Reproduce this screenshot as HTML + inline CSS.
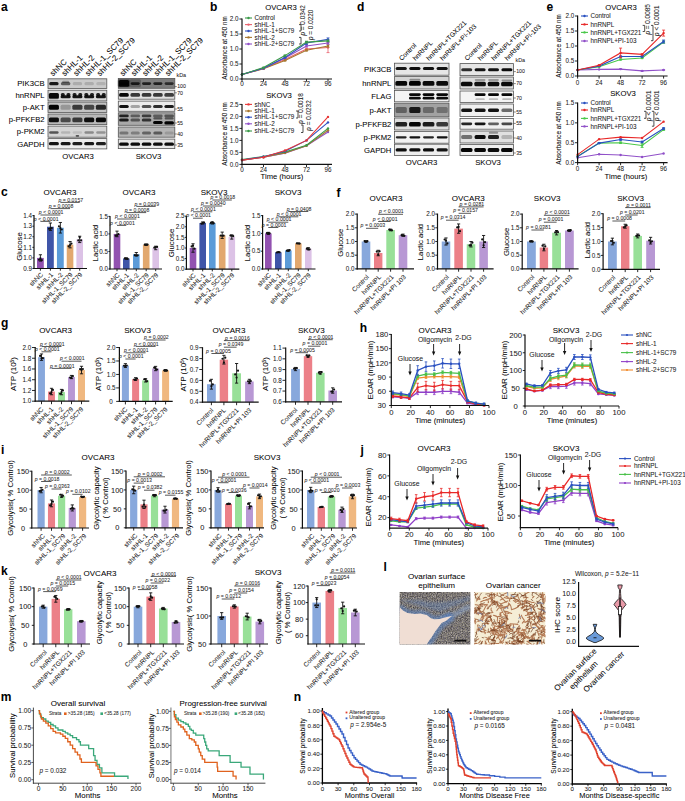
<!DOCTYPE html>
<html><head><meta charset="utf-8"><style>
html,body{margin:0;padding:0;background:#fff;width:685px;height:801px;overflow:hidden}
svg{display:block;font-family:"Liberation Sans",sans-serif}
text{stroke:#222;stroke-width:0.05px}
</style></head><body>
<svg width="685" height="801" viewBox="0 0 685 801">
<rect width="685" height="801" fill="#fff"/>
<rect x="37" y="257.92" width="6.8" height="10.58" fill="#9252b0"/>
<rect x="47" y="226.71" width="6.8" height="41.79" fill="#3f55a8"/>
<rect x="56.95" y="227.77" width="6.8" height="40.73" fill="#5b9bd8"/>
<rect x="66.75" y="244.69" width="6.6" height="23.81" fill="#e2a86e"/>
<rect x="76.4" y="239.4" width="6.6" height="29.1" fill="#dcc2e6"/>
<line x1="40.4" y1="254.75" x2="40.4" y2="261.09" stroke="#111" stroke-width="0.9"/>
<line x1="38.8" y1="254.75" x2="42" y2="254.75" stroke="#111" stroke-width="0.9"/>
<line x1="38.8" y1="261.09" x2="42" y2="261.09" stroke="#111" stroke-width="0.9"/>
<circle cx="39" cy="259.75" r="1.1" fill="#111"/>
<circle cx="40.4" cy="258.34" r="1.1" fill="#111"/>
<circle cx="41.8" cy="260.13" r="1.1" fill="#111"/>
<line x1="50.4" y1="223.01" x2="50.4" y2="230.41" stroke="#111" stroke-width="0.9"/>
<line x1="48.8" y1="223.01" x2="52" y2="223.01" stroke="#111" stroke-width="0.9"/>
<line x1="48.8" y1="230.41" x2="52" y2="230.41" stroke="#111" stroke-width="0.9"/>
<circle cx="49" cy="228.74" r="1.1" fill="#111"/>
<circle cx="50.4" cy="228.67" r="1.1" fill="#111"/>
<circle cx="51.8" cy="228.04" r="1.1" fill="#111"/>
<line x1="60.35" y1="222.48" x2="60.35" y2="233.06" stroke="#111" stroke-width="0.9"/>
<line x1="58.75" y1="222.48" x2="61.95" y2="222.48" stroke="#111" stroke-width="0.9"/>
<line x1="58.75" y1="233.06" x2="61.95" y2="233.06" stroke="#111" stroke-width="0.9"/>
<circle cx="58.95" cy="226.34" r="1.1" fill="#111"/>
<circle cx="60.35" cy="228.11" r="1.1" fill="#111"/>
<circle cx="61.75" cy="229.49" r="1.1" fill="#111"/>
<line x1="70.05" y1="241.52" x2="70.05" y2="247.87" stroke="#111" stroke-width="0.9"/>
<line x1="68.45" y1="241.52" x2="71.65" y2="241.52" stroke="#111" stroke-width="0.9"/>
<line x1="68.45" y1="247.87" x2="71.65" y2="247.87" stroke="#111" stroke-width="0.9"/>
<circle cx="68.65" cy="246.24" r="1.1" fill="#111"/>
<circle cx="70.05" cy="245.08" r="1.1" fill="#111"/>
<circle cx="71.45" cy="243.54" r="1.1" fill="#111"/>
<line x1="79.7" y1="236.23" x2="79.7" y2="242.58" stroke="#111" stroke-width="0.9"/>
<line x1="78.1" y1="236.23" x2="81.3" y2="236.23" stroke="#111" stroke-width="0.9"/>
<line x1="78.1" y1="242.58" x2="81.3" y2="242.58" stroke="#111" stroke-width="0.9"/>
<circle cx="78.3" cy="240.42" r="1.1" fill="#111"/>
<circle cx="79.7" cy="237.29" r="1.1" fill="#111"/>
<circle cx="81.1" cy="240.32" r="1.1" fill="#111"/>
<line x1="34" y1="215.1" x2="34" y2="269.1" stroke="#111" stroke-width="1.2"/>
<line x1="33.4" y1="268.5" x2="87" y2="268.5" stroke="#111" stroke-width="1.2"/>
<line x1="32.4" y1="268.5" x2="34" y2="268.5" stroke="#111" stroke-width="0.9"/>
<text x="27.62" y="270.77" font-size="6.3" text-anchor="middle" fill="#222">0.9</text>
<line x1="32.4" y1="257.92" x2="34" y2="257.92" stroke="#111" stroke-width="0.9"/>
<text x="27.62" y="260.19" font-size="6.3" text-anchor="middle" fill="#222">1.0</text>
<line x1="32.4" y1="247.34" x2="34" y2="247.34" stroke="#111" stroke-width="0.9"/>
<text x="27.62" y="249.61" font-size="6.3" text-anchor="middle" fill="#222">1.1</text>
<line x1="32.4" y1="236.76" x2="34" y2="236.76" stroke="#111" stroke-width="0.9"/>
<text x="27.62" y="239.03" font-size="6.3" text-anchor="middle" fill="#222">1.2</text>
<line x1="32.4" y1="226.18" x2="34" y2="226.18" stroke="#111" stroke-width="0.9"/>
<text x="27.62" y="228.45" font-size="6.3" text-anchor="middle" fill="#222">1.3</text>
<line x1="32.4" y1="215.6" x2="34" y2="215.6" stroke="#111" stroke-width="0.9"/>
<text x="27.62" y="217.87" font-size="6.3" text-anchor="middle" fill="#222">1.4</text>
<line x1="40.4" y1="268.5" x2="40.4" y2="270.7" stroke="#111" stroke-width="0.9"/>
<line x1="50.4" y1="268.5" x2="50.4" y2="270.7" stroke="#111" stroke-width="0.9"/>
<line x1="60.35" y1="268.5" x2="60.35" y2="270.7" stroke="#111" stroke-width="0.9"/>
<line x1="70.05" y1="268.5" x2="70.05" y2="270.7" stroke="#111" stroke-width="0.9"/>
<line x1="79.7" y1="268.5" x2="79.7" y2="270.7" stroke="#111" stroke-width="0.9"/>
<text x="43.5" y="275.1" font-size="6.5" text-anchor="end" fill="#222" transform="rotate(-45 43.5 275.1)">shNC</text>
<text x="53.5" y="275.1" font-size="6.5" text-anchor="end" fill="#222" transform="rotate(-45 53.5 275.1)">shHL-1</text>
<text x="63.45" y="275.1" font-size="6.5" text-anchor="end" fill="#222" transform="rotate(-45 63.45 275.1)">shHL-2</text>
<text x="73.15" y="275.1" font-size="6.5" text-anchor="end" fill="#222" transform="rotate(-45 73.15 275.1)">shHL-1_SC79</text>
<text x="82.8" y="275.1" font-size="6.5" text-anchor="end" fill="#222" transform="rotate(-45 82.8 275.1)">shHL-2_SC79</text>
<text x="60" y="195.4" font-size="8" text-anchor="middle">OVCAR3</text>
<text x="21.9" y="246.5" font-size="7.8" text-anchor="middle" transform="rotate(-90 21.9 246.5)">Glucose</text>
<line x1="40.4" y1="221.4" x2="50.4" y2="221.4" stroke="#222" stroke-width="0.75"/>
<text x="46.2" y="220.5" font-size="5.2" text-anchor="middle" fill="#2a2a2a"><tspan font-style="italic">p</tspan> &lt; 0.0001</text>
<line x1="40.4" y1="215" x2="60.35" y2="215" stroke="#222" stroke-width="0.75"/>
<text x="51.17" y="214.1" font-size="5.2" text-anchor="middle" fill="#2a2a2a"><tspan font-style="italic">p</tspan> &lt; 0.0001</text>
<line x1="50.4" y1="208.6" x2="70.05" y2="208.6" stroke="#222" stroke-width="0.75"/>
<text x="61.02" y="207.7" font-size="5.2" text-anchor="middle" fill="#2a2a2a"><tspan font-style="italic">p</tspan> = 0.0008</text>
<line x1="60.35" y1="202.4" x2="79.7" y2="202.4" stroke="#222" stroke-width="0.75"/>
<text x="70.83" y="201.5" font-size="5.2" text-anchor="middle" fill="#2a2a2a"><tspan font-style="italic">p</tspan> = 0.0157</text>
<rect x="113.7" y="233.93" width="6.6" height="35.07" fill="#9252b0"/>
<rect x="123" y="258.48" width="6.6" height="10.52" fill="#3f55a8"/>
<rect x="133" y="254.27" width="6.6" height="14.73" fill="#5b9bd8"/>
<rect x="142.9" y="244.8" width="6.6" height="24.2" fill="#e2a86e"/>
<rect x="152.4" y="247.96" width="6.6" height="21.04" fill="#dcc2e6"/>
<line x1="117" y1="231.13" x2="117" y2="236.74" stroke="#111" stroke-width="0.9"/>
<line x1="115.4" y1="231.13" x2="118.6" y2="231.13" stroke="#111" stroke-width="0.9"/>
<line x1="115.4" y1="236.74" x2="118.6" y2="236.74" stroke="#111" stroke-width="0.9"/>
<circle cx="115.6" cy="235.72" r="1.1" fill="#111"/>
<circle cx="117" cy="235.35" r="1.1" fill="#111"/>
<circle cx="118.4" cy="234.21" r="1.1" fill="#111"/>
<line x1="126.3" y1="257.78" x2="126.3" y2="259.18" stroke="#111" stroke-width="0.9"/>
<line x1="124.7" y1="257.78" x2="127.9" y2="257.78" stroke="#111" stroke-width="0.9"/>
<line x1="124.7" y1="259.18" x2="127.9" y2="259.18" stroke="#111" stroke-width="0.9"/>
<circle cx="124.9" cy="258.41" r="1.1" fill="#111"/>
<circle cx="126.3" cy="258.74" r="1.1" fill="#111"/>
<circle cx="127.7" cy="258.94" r="1.1" fill="#111"/>
<line x1="136.3" y1="252.52" x2="136.3" y2="256.03" stroke="#111" stroke-width="0.9"/>
<line x1="134.7" y1="252.52" x2="137.9" y2="252.52" stroke="#111" stroke-width="0.9"/>
<line x1="134.7" y1="256.03" x2="137.9" y2="256.03" stroke="#111" stroke-width="0.9"/>
<circle cx="134.9" cy="255.14" r="1.1" fill="#111"/>
<circle cx="136.3" cy="255.49" r="1.1" fill="#111"/>
<circle cx="137.7" cy="255.25" r="1.1" fill="#111"/>
<line x1="146.2" y1="244.1" x2="146.2" y2="245.51" stroke="#111" stroke-width="0.9"/>
<line x1="144.6" y1="244.1" x2="147.8" y2="244.1" stroke="#111" stroke-width="0.9"/>
<line x1="144.6" y1="245.51" x2="147.8" y2="245.51" stroke="#111" stroke-width="0.9"/>
<circle cx="144.8" cy="244.68" r="1.1" fill="#111"/>
<circle cx="146.2" cy="244.55" r="1.1" fill="#111"/>
<circle cx="147.6" cy="244.5" r="1.1" fill="#111"/>
<line x1="155.7" y1="246.21" x2="155.7" y2="249.71" stroke="#111" stroke-width="0.9"/>
<line x1="154.1" y1="246.21" x2="157.3" y2="246.21" stroke="#111" stroke-width="0.9"/>
<line x1="154.1" y1="249.71" x2="157.3" y2="249.71" stroke="#111" stroke-width="0.9"/>
<circle cx="154.3" cy="247.72" r="1.1" fill="#111"/>
<circle cx="155.7" cy="247.08" r="1.1" fill="#111"/>
<circle cx="157.1" cy="246.89" r="1.1" fill="#111"/>
<line x1="110" y1="215.9" x2="110" y2="269.6" stroke="#111" stroke-width="1.2"/>
<line x1="109.4" y1="269" x2="162" y2="269" stroke="#111" stroke-width="1.2"/>
<line x1="108.4" y1="269" x2="110" y2="269" stroke="#111" stroke-width="0.9"/>
<text x="103.62" y="271.27" font-size="6.3" text-anchor="middle" fill="#222">0.0</text>
<line x1="108.4" y1="251.47" x2="110" y2="251.47" stroke="#111" stroke-width="0.9"/>
<text x="103.62" y="253.73" font-size="6.3" text-anchor="middle" fill="#222">0.5</text>
<line x1="108.4" y1="233.93" x2="110" y2="233.93" stroke="#111" stroke-width="0.9"/>
<text x="103.62" y="236.2" font-size="6.3" text-anchor="middle" fill="#222">1.0</text>
<line x1="108.4" y1="216.4" x2="110" y2="216.4" stroke="#111" stroke-width="0.9"/>
<text x="103.62" y="218.67" font-size="6.3" text-anchor="middle" fill="#222">1.5</text>
<line x1="117" y1="269" x2="117" y2="271.2" stroke="#111" stroke-width="0.9"/>
<line x1="126.3" y1="269" x2="126.3" y2="271.2" stroke="#111" stroke-width="0.9"/>
<line x1="136.3" y1="269" x2="136.3" y2="271.2" stroke="#111" stroke-width="0.9"/>
<line x1="146.2" y1="269" x2="146.2" y2="271.2" stroke="#111" stroke-width="0.9"/>
<line x1="155.7" y1="269" x2="155.7" y2="271.2" stroke="#111" stroke-width="0.9"/>
<text x="120.1" y="275.6" font-size="6.5" text-anchor="end" fill="#222" transform="rotate(-45 120.1 275.6)">shNC</text>
<text x="129.4" y="275.6" font-size="6.5" text-anchor="end" fill="#222" transform="rotate(-45 129.4 275.6)">shHL-1</text>
<text x="139.4" y="275.6" font-size="6.5" text-anchor="end" fill="#222" transform="rotate(-45 139.4 275.6)">shHL-2</text>
<text x="149.3" y="275.6" font-size="6.5" text-anchor="end" fill="#222" transform="rotate(-45 149.3 275.6)">shHL-1_SC79</text>
<text x="158.8" y="275.6" font-size="6.5" text-anchor="end" fill="#222" transform="rotate(-45 158.8 275.6)">shHL-2_SC79</text>
<text x="139" y="195" font-size="8" text-anchor="middle">OVCAR3</text>
<text x="98.1" y="243" font-size="7.8" text-anchor="middle" transform="rotate(-90 98.1 243)">Lactic acid</text>
<line x1="117" y1="225.4" x2="126.3" y2="225.4" stroke="#222" stroke-width="0.75"/>
<text x="122.45" y="224.5" font-size="5.2" text-anchor="middle" fill="#2a2a2a"><tspan font-style="italic">p</tspan> &lt; 0.0001</text>
<line x1="117" y1="219" x2="136.3" y2="219" stroke="#222" stroke-width="0.75"/>
<text x="127.45" y="218.1" font-size="5.2" text-anchor="middle" fill="#2a2a2a"><tspan font-style="italic">p</tspan> &lt; 0.0001</text>
<line x1="126.3" y1="212.6" x2="146.2" y2="212.6" stroke="#222" stroke-width="0.75"/>
<text x="137.05" y="211.7" font-size="5.2" text-anchor="middle" fill="#2a2a2a"><tspan font-style="italic">p</tspan> = 0.0008</text>
<line x1="136.3" y1="206.4" x2="155.7" y2="206.4" stroke="#222" stroke-width="0.75"/>
<text x="146.8" y="205.5" font-size="5.2" text-anchor="middle" fill="#2a2a2a"><tspan font-style="italic">p</tspan> = 0.0039</text>
<rect x="189.7" y="248" width="6.6" height="21.2" fill="#9252b0"/>
<rect x="199.4" y="222.98" width="6.6" height="46.22" fill="#3f55a8"/>
<rect x="209" y="222.98" width="6.6" height="46.22" fill="#5b9bd8"/>
<rect x="218.9" y="235.28" width="6.6" height="33.92" fill="#e2a86e"/>
<rect x="228.5" y="236.98" width="6.6" height="32.22" fill="#dcc2e6"/>
<line x1="193" y1="243.76" x2="193" y2="252.24" stroke="#111" stroke-width="0.9"/>
<line x1="191.4" y1="243.76" x2="194.6" y2="243.76" stroke="#111" stroke-width="0.9"/>
<line x1="191.4" y1="252.24" x2="194.6" y2="252.24" stroke="#111" stroke-width="0.9"/>
<circle cx="191.6" cy="246.38" r="1.1" fill="#111"/>
<circle cx="193" cy="245.66" r="1.1" fill="#111"/>
<circle cx="194.4" cy="248.64" r="1.1" fill="#111"/>
<line x1="202.7" y1="221.92" x2="202.7" y2="224.04" stroke="#111" stroke-width="0.9"/>
<line x1="201.1" y1="221.92" x2="204.3" y2="221.92" stroke="#111" stroke-width="0.9"/>
<line x1="201.1" y1="224.04" x2="204.3" y2="224.04" stroke="#111" stroke-width="0.9"/>
<circle cx="201.3" cy="223.61" r="1.1" fill="#111"/>
<circle cx="202.7" cy="223.19" r="1.1" fill="#111"/>
<circle cx="204.1" cy="222.53" r="1.1" fill="#111"/>
<line x1="212.3" y1="221.92" x2="212.3" y2="224.04" stroke="#111" stroke-width="0.9"/>
<line x1="210.7" y1="221.92" x2="213.9" y2="221.92" stroke="#111" stroke-width="0.9"/>
<line x1="210.7" y1="224.04" x2="213.9" y2="224.04" stroke="#111" stroke-width="0.9"/>
<circle cx="210.9" cy="222.88" r="1.1" fill="#111"/>
<circle cx="212.3" cy="222.37" r="1.1" fill="#111"/>
<circle cx="213.7" cy="223.2" r="1.1" fill="#111"/>
<line x1="222.2" y1="232.1" x2="222.2" y2="238.46" stroke="#111" stroke-width="0.9"/>
<line x1="220.6" y1="232.1" x2="223.8" y2="232.1" stroke="#111" stroke-width="0.9"/>
<line x1="220.6" y1="238.46" x2="223.8" y2="238.46" stroke="#111" stroke-width="0.9"/>
<circle cx="220.8" cy="235.53" r="1.1" fill="#111"/>
<circle cx="222.2" cy="235.74" r="1.1" fill="#111"/>
<circle cx="223.6" cy="235.69" r="1.1" fill="#111"/>
<line x1="231.8" y1="234.86" x2="231.8" y2="239.1" stroke="#111" stroke-width="0.9"/>
<line x1="230.2" y1="234.86" x2="233.4" y2="234.86" stroke="#111" stroke-width="0.9"/>
<line x1="230.2" y1="239.1" x2="233.4" y2="239.1" stroke="#111" stroke-width="0.9"/>
<circle cx="230.4" cy="235.54" r="1.1" fill="#111"/>
<circle cx="231.8" cy="235.76" r="1.1" fill="#111"/>
<circle cx="233.2" cy="236.17" r="1.1" fill="#111"/>
<line x1="186.4" y1="215.7" x2="186.4" y2="269.8" stroke="#111" stroke-width="1.2"/>
<line x1="185.8" y1="269.2" x2="239.3" y2="269.2" stroke="#111" stroke-width="1.2"/>
<line x1="184.8" y1="269.2" x2="186.4" y2="269.2" stroke="#111" stroke-width="0.9"/>
<text x="180.02" y="271.47" font-size="6.3" text-anchor="middle" fill="#222">0.0</text>
<line x1="184.8" y1="258.6" x2="186.4" y2="258.6" stroke="#111" stroke-width="0.9"/>
<text x="180.02" y="260.87" font-size="6.3" text-anchor="middle" fill="#222">0.5</text>
<line x1="184.8" y1="248" x2="186.4" y2="248" stroke="#111" stroke-width="0.9"/>
<text x="180.02" y="250.27" font-size="6.3" text-anchor="middle" fill="#222">1.0</text>
<line x1="184.8" y1="237.4" x2="186.4" y2="237.4" stroke="#111" stroke-width="0.9"/>
<text x="180.02" y="239.67" font-size="6.3" text-anchor="middle" fill="#222">1.5</text>
<line x1="184.8" y1="226.8" x2="186.4" y2="226.8" stroke="#111" stroke-width="0.9"/>
<text x="180.02" y="229.07" font-size="6.3" text-anchor="middle" fill="#222">2.0</text>
<line x1="184.8" y1="216.2" x2="186.4" y2="216.2" stroke="#111" stroke-width="0.9"/>
<text x="180.02" y="218.47" font-size="6.3" text-anchor="middle" fill="#222">2.5</text>
<line x1="193" y1="269.2" x2="193" y2="271.4" stroke="#111" stroke-width="0.9"/>
<line x1="202.7" y1="269.2" x2="202.7" y2="271.4" stroke="#111" stroke-width="0.9"/>
<line x1="212.3" y1="269.2" x2="212.3" y2="271.4" stroke="#111" stroke-width="0.9"/>
<line x1="222.2" y1="269.2" x2="222.2" y2="271.4" stroke="#111" stroke-width="0.9"/>
<line x1="231.8" y1="269.2" x2="231.8" y2="271.4" stroke="#111" stroke-width="0.9"/>
<text x="196.1" y="275.8" font-size="6.5" text-anchor="end" fill="#222" transform="rotate(-45 196.1 275.8)">shNC</text>
<text x="205.8" y="275.8" font-size="6.5" text-anchor="end" fill="#222" transform="rotate(-45 205.8 275.8)">shHL-1</text>
<text x="215.4" y="275.8" font-size="6.5" text-anchor="end" fill="#222" transform="rotate(-45 215.4 275.8)">shHL-2</text>
<text x="225.3" y="275.8" font-size="6.5" text-anchor="end" fill="#222" transform="rotate(-45 225.3 275.8)">shHL-1_SC79</text>
<text x="234.9" y="275.8" font-size="6.5" text-anchor="end" fill="#222" transform="rotate(-45 234.9 275.8)">shHL-2_SC79</text>
<text x="214" y="195" font-size="8" text-anchor="middle">SKOV3</text>
<text x="174" y="243" font-size="7.8" text-anchor="middle" transform="rotate(-90 174 243)">Glucose</text>
<line x1="193" y1="218.2" x2="202.7" y2="218.2" stroke="#222" stroke-width="0.75"/>
<text x="198.65" y="217.3" font-size="5.2" text-anchor="middle" fill="#2a2a2a"><tspan font-style="italic">p</tspan> &lt; 0.0001</text>
<line x1="193" y1="211.8" x2="212.3" y2="211.8" stroke="#222" stroke-width="0.75"/>
<text x="203.45" y="210.9" font-size="5.2" text-anchor="middle" fill="#2a2a2a"><tspan font-style="italic">p</tspan> &lt; 0.0001</text>
<line x1="202.7" y1="206" x2="222.2" y2="206" stroke="#222" stroke-width="0.75"/>
<text x="213.25" y="205.1" font-size="5.2" text-anchor="middle" fill="#2a2a2a"><tspan font-style="italic">p</tspan> = 0.0040</text>
<line x1="212.3" y1="200" x2="231.8" y2="200" stroke="#222" stroke-width="0.75"/>
<text x="222.85" y="199.1" font-size="5.2" text-anchor="middle" fill="#2a2a2a"><tspan font-style="italic">p</tspan> = 0.0018</text>
<rect x="265" y="233.4" width="6.6" height="35.6" fill="#9252b0"/>
<rect x="275" y="252.27" width="6.6" height="16.73" fill="#3f55a8"/>
<rect x="285" y="250.49" width="6.6" height="18.51" fill="#5b9bd8"/>
<rect x="295" y="243.37" width="6.6" height="25.63" fill="#e2a86e"/>
<rect x="305" y="248.71" width="6.6" height="20.29" fill="#dcc2e6"/>
<line x1="268.3" y1="232.33" x2="268.3" y2="234.47" stroke="#111" stroke-width="0.9"/>
<line x1="266.7" y1="232.33" x2="269.9" y2="232.33" stroke="#111" stroke-width="0.9"/>
<line x1="266.7" y1="234.47" x2="269.9" y2="234.47" stroke="#111" stroke-width="0.9"/>
<circle cx="266.9" cy="233.03" r="1.1" fill="#111"/>
<circle cx="268.3" cy="233.03" r="1.1" fill="#111"/>
<circle cx="269.7" cy="233.23" r="1.1" fill="#111"/>
<line x1="278.3" y1="251.91" x2="278.3" y2="252.62" stroke="#111" stroke-width="0.9"/>
<line x1="276.7" y1="251.91" x2="279.9" y2="251.91" stroke="#111" stroke-width="0.9"/>
<line x1="276.7" y1="252.62" x2="279.9" y2="252.62" stroke="#111" stroke-width="0.9"/>
<circle cx="276.9" cy="252.48" r="1.1" fill="#111"/>
<circle cx="278.3" cy="252.12" r="1.1" fill="#111"/>
<circle cx="279.7" cy="252.24" r="1.1" fill="#111"/>
<line x1="288.3" y1="249.78" x2="288.3" y2="251.2" stroke="#111" stroke-width="0.9"/>
<line x1="286.7" y1="249.78" x2="289.9" y2="249.78" stroke="#111" stroke-width="0.9"/>
<line x1="286.7" y1="251.2" x2="289.9" y2="251.2" stroke="#111" stroke-width="0.9"/>
<circle cx="286.9" cy="250.76" r="1.1" fill="#111"/>
<circle cx="288.3" cy="250.82" r="1.1" fill="#111"/>
<circle cx="289.7" cy="250.08" r="1.1" fill="#111"/>
<line x1="298.3" y1="243.01" x2="298.3" y2="243.72" stroke="#111" stroke-width="0.9"/>
<line x1="296.7" y1="243.01" x2="299.9" y2="243.01" stroke="#111" stroke-width="0.9"/>
<line x1="296.7" y1="243.72" x2="299.9" y2="243.72" stroke="#111" stroke-width="0.9"/>
<circle cx="296.9" cy="243.37" r="1.1" fill="#111"/>
<circle cx="298.3" cy="243.51" r="1.1" fill="#111"/>
<circle cx="299.7" cy="243.58" r="1.1" fill="#111"/>
<line x1="308.3" y1="247.64" x2="308.3" y2="249.78" stroke="#111" stroke-width="0.9"/>
<line x1="306.7" y1="247.64" x2="309.9" y2="247.64" stroke="#111" stroke-width="0.9"/>
<line x1="306.7" y1="249.78" x2="309.9" y2="249.78" stroke="#111" stroke-width="0.9"/>
<circle cx="306.9" cy="248.67" r="1.1" fill="#111"/>
<circle cx="308.3" cy="249.42" r="1.1" fill="#111"/>
<circle cx="309.7" cy="249.37" r="1.1" fill="#111"/>
<line x1="262.6" y1="215.1" x2="262.6" y2="269.6" stroke="#111" stroke-width="1.2"/>
<line x1="262" y1="269" x2="315.5" y2="269" stroke="#111" stroke-width="1.2"/>
<line x1="261" y1="269" x2="262.6" y2="269" stroke="#111" stroke-width="0.9"/>
<text x="256.22" y="271.27" font-size="6.3" text-anchor="middle" fill="#222">0.0</text>
<line x1="261" y1="251.2" x2="262.6" y2="251.2" stroke="#111" stroke-width="0.9"/>
<text x="256.22" y="253.47" font-size="6.3" text-anchor="middle" fill="#222">0.5</text>
<line x1="261" y1="233.4" x2="262.6" y2="233.4" stroke="#111" stroke-width="0.9"/>
<text x="256.22" y="235.67" font-size="6.3" text-anchor="middle" fill="#222">1.0</text>
<line x1="261" y1="215.6" x2="262.6" y2="215.6" stroke="#111" stroke-width="0.9"/>
<text x="256.22" y="217.87" font-size="6.3" text-anchor="middle" fill="#222">1.5</text>
<line x1="268.3" y1="269" x2="268.3" y2="271.2" stroke="#111" stroke-width="0.9"/>
<line x1="278.3" y1="269" x2="278.3" y2="271.2" stroke="#111" stroke-width="0.9"/>
<line x1="288.3" y1="269" x2="288.3" y2="271.2" stroke="#111" stroke-width="0.9"/>
<line x1="298.3" y1="269" x2="298.3" y2="271.2" stroke="#111" stroke-width="0.9"/>
<line x1="308.3" y1="269" x2="308.3" y2="271.2" stroke="#111" stroke-width="0.9"/>
<text x="271.4" y="275.6" font-size="6.5" text-anchor="end" fill="#222" transform="rotate(-45 271.4 275.6)">shNC</text>
<text x="281.4" y="275.6" font-size="6.5" text-anchor="end" fill="#222" transform="rotate(-45 281.4 275.6)">shHL-1</text>
<text x="291.4" y="275.6" font-size="6.5" text-anchor="end" fill="#222" transform="rotate(-45 291.4 275.6)">shHL-2</text>
<text x="301.4" y="275.6" font-size="6.5" text-anchor="end" fill="#222" transform="rotate(-45 301.4 275.6)">shHL-1_SC79</text>
<text x="311.4" y="275.6" font-size="6.5" text-anchor="end" fill="#222" transform="rotate(-45 311.4 275.6)">shHL-2_SC79</text>
<text x="288" y="195" font-size="8" text-anchor="middle">SKOV3</text>
<text x="249.5" y="243" font-size="7.8" text-anchor="middle" transform="rotate(-90 249.5 243)">Lactic acid</text>
<line x1="268.3" y1="227.5" x2="278.3" y2="227.5" stroke="#222" stroke-width="0.75"/>
<text x="274.1" y="226.6" font-size="5.2" text-anchor="middle" fill="#2a2a2a"><tspan font-style="italic">p</tspan> = 0.0001</text>
<line x1="268.3" y1="222.2" x2="288.3" y2="222.2" stroke="#222" stroke-width="0.75"/>
<text x="279.1" y="221.3" font-size="5.2" text-anchor="middle" fill="#2a2a2a"><tspan font-style="italic">p</tspan> &lt; 0.0001</text>
<line x1="278.3" y1="216.8" x2="298.3" y2="216.8" stroke="#222" stroke-width="0.75"/>
<text x="289.1" y="215.9" font-size="5.2" text-anchor="middle" fill="#2a2a2a"><tspan font-style="italic">p</tspan> &lt; 0.0001</text>
<line x1="288.3" y1="211.5" x2="308.3" y2="211.5" stroke="#222" stroke-width="0.75"/>
<text x="299.1" y="210.6" font-size="5.2" text-anchor="middle" fill="#2a2a2a"><tspan font-style="italic">p</tspan> = 0.0408</text>
<rect x="361.7" y="241.5" width="8.6" height="27.4" fill="#88a8dc"/>
<rect x="374" y="253.01" width="8.4" height="15.89" fill="#ec8088"/>
<rect x="386.3" y="229.99" width="8.6" height="38.91" fill="#98e098"/>
<rect x="398.7" y="235.2" width="8.6" height="33.7" fill="#b898d4"/>
<line x1="366" y1="240.68" x2="366" y2="242.32" stroke="#111" stroke-width="0.9"/>
<line x1="364.4" y1="240.68" x2="367.6" y2="240.68" stroke="#111" stroke-width="0.9"/>
<line x1="364.4" y1="242.32" x2="367.6" y2="242.32" stroke="#111" stroke-width="0.9"/>
<circle cx="364.6" cy="241.11" r="1.1" fill="#111"/>
<circle cx="366" cy="241.74" r="1.1" fill="#111"/>
<circle cx="367.4" cy="241.15" r="1.1" fill="#111"/>
<line x1="378.2" y1="250.27" x2="378.2" y2="255.75" stroke="#111" stroke-width="0.9"/>
<line x1="376.6" y1="250.27" x2="379.8" y2="250.27" stroke="#111" stroke-width="0.9"/>
<line x1="376.6" y1="255.75" x2="379.8" y2="255.75" stroke="#111" stroke-width="0.9"/>
<circle cx="376.8" cy="251.59" r="1.1" fill="#111"/>
<circle cx="378.2" cy="254.68" r="1.1" fill="#111"/>
<circle cx="379.6" cy="251.37" r="1.1" fill="#111"/>
<line x1="390.6" y1="229.17" x2="390.6" y2="230.81" stroke="#111" stroke-width="0.9"/>
<line x1="389" y1="229.17" x2="392.2" y2="229.17" stroke="#111" stroke-width="0.9"/>
<line x1="389" y1="230.81" x2="392.2" y2="230.81" stroke="#111" stroke-width="0.9"/>
<circle cx="389.2" cy="229.61" r="1.1" fill="#111"/>
<circle cx="390.6" cy="229.95" r="1.1" fill="#111"/>
<circle cx="392" cy="230.36" r="1.1" fill="#111"/>
<line x1="403" y1="234.1" x2="403" y2="236.29" stroke="#111" stroke-width="0.9"/>
<line x1="401.4" y1="234.1" x2="404.6" y2="234.1" stroke="#111" stroke-width="0.9"/>
<line x1="401.4" y1="236.29" x2="404.6" y2="236.29" stroke="#111" stroke-width="0.9"/>
<circle cx="401.6" cy="235.16" r="1.1" fill="#111"/>
<circle cx="403" cy="235.44" r="1.1" fill="#111"/>
<circle cx="404.4" cy="235.87" r="1.1" fill="#111"/>
<line x1="357.2" y1="213.6" x2="357.2" y2="269.5" stroke="#111" stroke-width="1.2"/>
<line x1="356.6" y1="268.9" x2="414" y2="268.9" stroke="#111" stroke-width="1.2"/>
<line x1="355" y1="268.9" x2="357.2" y2="268.9" stroke="#111" stroke-width="0.9"/>
<text x="350.22" y="271.17" font-size="6.3" text-anchor="middle" fill="#222">0.0</text>
<line x1="355" y1="255.2" x2="357.2" y2="255.2" stroke="#111" stroke-width="0.9"/>
<text x="350.22" y="257.47" font-size="6.3" text-anchor="middle" fill="#222">0.5</text>
<line x1="355" y1="241.5" x2="357.2" y2="241.5" stroke="#111" stroke-width="0.9"/>
<text x="350.22" y="243.77" font-size="6.3" text-anchor="middle" fill="#222">1.0</text>
<line x1="355" y1="227.8" x2="357.2" y2="227.8" stroke="#111" stroke-width="0.9"/>
<text x="350.22" y="230.07" font-size="6.3" text-anchor="middle" fill="#222">1.5</text>
<line x1="355" y1="214.1" x2="357.2" y2="214.1" stroke="#111" stroke-width="0.9"/>
<text x="350.22" y="216.37" font-size="6.3" text-anchor="middle" fill="#222">2.0</text>
<line x1="366" y1="268.9" x2="366" y2="271.7" stroke="#111" stroke-width="0.9"/>
<line x1="378.2" y1="268.9" x2="378.2" y2="271.7" stroke="#111" stroke-width="0.9"/>
<line x1="390.6" y1="268.9" x2="390.6" y2="271.7" stroke="#111" stroke-width="0.9"/>
<line x1="403" y1="268.9" x2="403" y2="271.7" stroke="#111" stroke-width="0.9"/>
<text x="369.4" y="277.5" font-size="6.5" text-anchor="end" fill="#222" transform="rotate(-45 369.4 277.5)">Control</text>
<text x="381.6" y="277.5" font-size="6.5" text-anchor="end" fill="#222" transform="rotate(-45 381.6 277.5)">hnRNPL</text>
<text x="394" y="277.5" font-size="6.5" text-anchor="end" fill="#222" transform="rotate(-45 394 277.5)">hnRNPL+TGX221</text>
<text x="406.4" y="277.5" font-size="6.5" text-anchor="end" fill="#222" transform="rotate(-45 406.4 277.5)">hnRNPL+PI 103</text>
<text x="385.9" y="200.6" font-size="8" text-anchor="middle">OVCAR3</text>
<text x="343.5" y="242.7" font-size="7.7" text-anchor="middle" transform="rotate(-90 343.5 242.7)">Glucose</text>
<line x1="366" y1="228.3" x2="378.2" y2="228.3" stroke="#222" stroke-width="0.75"/>
<text x="372.9" y="227.4" font-size="5.2" text-anchor="middle" fill="#2a2a2a"><tspan font-style="italic">p</tspan> = 0.0003</text>
<line x1="378.2" y1="221.5" x2="390.6" y2="221.5" stroke="#222" stroke-width="0.75"/>
<text x="385.2" y="220.6" font-size="5.2" text-anchor="middle" fill="#2a2a2a"><tspan font-style="italic">p</tspan> &lt; 0.0001</text>
<line x1="378.2" y1="214.3" x2="403" y2="214.3" stroke="#222" stroke-width="0.75"/>
<text x="391.4" y="213.4" font-size="5.2" text-anchor="middle" fill="#2a2a2a"><tspan font-style="italic">p</tspan> &lt; 0.0001</text>
<rect x="441.75" y="241.5" width="8.5" height="27.4" fill="#88a8dc"/>
<rect x="454.3" y="228.62" width="8.6" height="40.28" fill="#ec8088"/>
<rect x="466.75" y="244.24" width="8.5" height="24.66" fill="#98e098"/>
<rect x="479.3" y="241.5" width="8.6" height="27.4" fill="#b898d4"/>
<line x1="446" y1="237.94" x2="446" y2="245.06" stroke="#111" stroke-width="0.9"/>
<line x1="444.4" y1="237.94" x2="447.6" y2="237.94" stroke="#111" stroke-width="0.9"/>
<line x1="444.4" y1="245.06" x2="447.6" y2="245.06" stroke="#111" stroke-width="0.9"/>
<circle cx="444.6" cy="239.49" r="1.1" fill="#111"/>
<circle cx="446" cy="240.64" r="1.1" fill="#111"/>
<circle cx="447.4" cy="243.43" r="1.1" fill="#111"/>
<line x1="458.6" y1="223.96" x2="458.6" y2="233.28" stroke="#111" stroke-width="0.9"/>
<line x1="457" y1="223.96" x2="460.2" y2="223.96" stroke="#111" stroke-width="0.9"/>
<line x1="457" y1="233.28" x2="460.2" y2="233.28" stroke="#111" stroke-width="0.9"/>
<circle cx="457.2" cy="227.38" r="1.1" fill="#111"/>
<circle cx="458.6" cy="226.92" r="1.1" fill="#111"/>
<circle cx="460" cy="231.19" r="1.1" fill="#111"/>
<line x1="471" y1="241.5" x2="471" y2="246.98" stroke="#111" stroke-width="0.9"/>
<line x1="469.4" y1="241.5" x2="472.6" y2="241.5" stroke="#111" stroke-width="0.9"/>
<line x1="469.4" y1="246.98" x2="472.6" y2="246.98" stroke="#111" stroke-width="0.9"/>
<circle cx="469.6" cy="245.43" r="1.1" fill="#111"/>
<circle cx="471" cy="245.17" r="1.1" fill="#111"/>
<circle cx="472.4" cy="242.69" r="1.1" fill="#111"/>
<line x1="483.6" y1="235.47" x2="483.6" y2="247.53" stroke="#111" stroke-width="0.9"/>
<line x1="482" y1="235.47" x2="485.2" y2="235.47" stroke="#111" stroke-width="0.9"/>
<line x1="482" y1="247.53" x2="485.2" y2="247.53" stroke="#111" stroke-width="0.9"/>
<circle cx="482.2" cy="239.44" r="1.1" fill="#111"/>
<circle cx="483.6" cy="245.37" r="1.1" fill="#111"/>
<circle cx="485" cy="242.18" r="1.1" fill="#111"/>
<line x1="437.5" y1="213.6" x2="437.5" y2="269.5" stroke="#111" stroke-width="1.2"/>
<line x1="436.9" y1="268.9" x2="493.6" y2="268.9" stroke="#111" stroke-width="1.2"/>
<line x1="435.3" y1="268.9" x2="437.5" y2="268.9" stroke="#111" stroke-width="0.9"/>
<text x="430.52" y="271.17" font-size="6.3" text-anchor="middle" fill="#222">0.0</text>
<line x1="435.3" y1="255.2" x2="437.5" y2="255.2" stroke="#111" stroke-width="0.9"/>
<text x="430.52" y="257.47" font-size="6.3" text-anchor="middle" fill="#222">0.5</text>
<line x1="435.3" y1="241.5" x2="437.5" y2="241.5" stroke="#111" stroke-width="0.9"/>
<text x="430.52" y="243.77" font-size="6.3" text-anchor="middle" fill="#222">1.0</text>
<line x1="435.3" y1="227.8" x2="437.5" y2="227.8" stroke="#111" stroke-width="0.9"/>
<text x="430.52" y="230.07" font-size="6.3" text-anchor="middle" fill="#222">1.5</text>
<line x1="435.3" y1="214.1" x2="437.5" y2="214.1" stroke="#111" stroke-width="0.9"/>
<text x="430.52" y="216.37" font-size="6.3" text-anchor="middle" fill="#222">2.0</text>
<line x1="446" y1="268.9" x2="446" y2="271.7" stroke="#111" stroke-width="0.9"/>
<line x1="458.6" y1="268.9" x2="458.6" y2="271.7" stroke="#111" stroke-width="0.9"/>
<line x1="471" y1="268.9" x2="471" y2="271.7" stroke="#111" stroke-width="0.9"/>
<line x1="483.6" y1="268.9" x2="483.6" y2="271.7" stroke="#111" stroke-width="0.9"/>
<text x="449.4" y="277.5" font-size="6.5" text-anchor="end" fill="#222" transform="rotate(-45 449.4 277.5)">Control</text>
<text x="462" y="277.5" font-size="6.5" text-anchor="end" fill="#222" transform="rotate(-45 462 277.5)">hnRNPL</text>
<text x="474.4" y="277.5" font-size="6.5" text-anchor="end" fill="#222" transform="rotate(-45 474.4 277.5)">hnRNPL+TGX221</text>
<text x="487" y="277.5" font-size="6.5" text-anchor="end" fill="#222" transform="rotate(-45 487 277.5)">hnRNPL+PI 103</text>
<text x="468.2" y="200.6" font-size="8" text-anchor="middle">OVCAR3</text>
<text x="423" y="242" font-size="7.7" text-anchor="middle" transform="rotate(-90 423 242)">Lactic acid</text>
<line x1="446" y1="220.2" x2="458.6" y2="220.2" stroke="#222" stroke-width="0.75"/>
<text x="453.1" y="219.3" font-size="5.2" text-anchor="middle" fill="#2a2a2a"><tspan font-style="italic">p</tspan> = 0.0314</text>
<line x1="458.6" y1="213.3" x2="471" y2="213.3" stroke="#222" stroke-width="0.75"/>
<text x="465.6" y="212.4" font-size="5.2" text-anchor="middle" fill="#2a2a2a"><tspan font-style="italic">p</tspan> = 0.0157</text>
<line x1="458.6" y1="206.9" x2="483.6" y2="206.9" stroke="#222" stroke-width="0.75"/>
<text x="471.9" y="206" font-size="5.2" text-anchor="middle" fill="#2a2a2a"><tspan font-style="italic">p</tspan> = 0.0281</text>
<rect x="527" y="241.5" width="8.8" height="27.4" fill="#88a8dc"/>
<rect x="539.7" y="247.53" width="8.4" height="21.37" fill="#ec8088"/>
<rect x="552.2" y="232.73" width="8.8" height="36.17" fill="#98e098"/>
<rect x="565" y="230.54" width="8.8" height="38.36" fill="#b898d4"/>
<line x1="531.4" y1="240.95" x2="531.4" y2="242.05" stroke="#111" stroke-width="0.9"/>
<line x1="529.8" y1="240.95" x2="533" y2="240.95" stroke="#111" stroke-width="0.9"/>
<line x1="529.8" y1="242.05" x2="533" y2="242.05" stroke="#111" stroke-width="0.9"/>
<circle cx="530" cy="241.31" r="1.1" fill="#111"/>
<circle cx="531.4" cy="241.18" r="1.1" fill="#111"/>
<circle cx="532.8" cy="241.52" r="1.1" fill="#111"/>
<line x1="543.9" y1="244.24" x2="543.9" y2="250.82" stroke="#111" stroke-width="0.9"/>
<line x1="542.3" y1="244.24" x2="545.5" y2="244.24" stroke="#111" stroke-width="0.9"/>
<line x1="542.3" y1="250.82" x2="545.5" y2="250.82" stroke="#111" stroke-width="0.9"/>
<circle cx="542.5" cy="245.71" r="1.1" fill="#111"/>
<circle cx="543.9" cy="248.96" r="1.1" fill="#111"/>
<circle cx="545.3" cy="246.37" r="1.1" fill="#111"/>
<line x1="556.6" y1="230.54" x2="556.6" y2="234.92" stroke="#111" stroke-width="0.9"/>
<line x1="555" y1="230.54" x2="558.2" y2="230.54" stroke="#111" stroke-width="0.9"/>
<line x1="555" y1="234.92" x2="558.2" y2="234.92" stroke="#111" stroke-width="0.9"/>
<circle cx="555.2" cy="232.43" r="1.1" fill="#111"/>
<circle cx="556.6" cy="231.21" r="1.1" fill="#111"/>
<circle cx="558" cy="232.14" r="1.1" fill="#111"/>
<line x1="569.4" y1="229.72" x2="569.4" y2="231.36" stroke="#111" stroke-width="0.9"/>
<line x1="567.8" y1="229.72" x2="571" y2="229.72" stroke="#111" stroke-width="0.9"/>
<line x1="567.8" y1="231.36" x2="571" y2="231.36" stroke="#111" stroke-width="0.9"/>
<circle cx="568" cy="230.62" r="1.1" fill="#111"/>
<circle cx="569.4" cy="230.66" r="1.1" fill="#111"/>
<circle cx="570.8" cy="230.14" r="1.1" fill="#111"/>
<line x1="522.2" y1="213.6" x2="522.2" y2="269.5" stroke="#111" stroke-width="1.2"/>
<line x1="521.6" y1="268.9" x2="578.6" y2="268.9" stroke="#111" stroke-width="1.2"/>
<line x1="520" y1="268.9" x2="522.2" y2="268.9" stroke="#111" stroke-width="0.9"/>
<text x="515.22" y="271.17" font-size="6.3" text-anchor="middle" fill="#222">0.0</text>
<line x1="520" y1="255.2" x2="522.2" y2="255.2" stroke="#111" stroke-width="0.9"/>
<text x="515.22" y="257.47" font-size="6.3" text-anchor="middle" fill="#222">0.5</text>
<line x1="520" y1="241.5" x2="522.2" y2="241.5" stroke="#111" stroke-width="0.9"/>
<text x="515.22" y="243.77" font-size="6.3" text-anchor="middle" fill="#222">1.0</text>
<line x1="520" y1="227.8" x2="522.2" y2="227.8" stroke="#111" stroke-width="0.9"/>
<text x="515.22" y="230.07" font-size="6.3" text-anchor="middle" fill="#222">1.5</text>
<line x1="520" y1="214.1" x2="522.2" y2="214.1" stroke="#111" stroke-width="0.9"/>
<text x="515.22" y="216.37" font-size="6.3" text-anchor="middle" fill="#222">2.0</text>
<line x1="531.4" y1="268.9" x2="531.4" y2="271.7" stroke="#111" stroke-width="0.9"/>
<line x1="543.9" y1="268.9" x2="543.9" y2="271.7" stroke="#111" stroke-width="0.9"/>
<line x1="556.6" y1="268.9" x2="556.6" y2="271.7" stroke="#111" stroke-width="0.9"/>
<line x1="569.4" y1="268.9" x2="569.4" y2="271.7" stroke="#111" stroke-width="0.9"/>
<text x="534.8" y="277.5" font-size="6.5" text-anchor="end" fill="#222" transform="rotate(-45 534.8 277.5)">Control</text>
<text x="547.3" y="277.5" font-size="6.5" text-anchor="end" fill="#222" transform="rotate(-45 547.3 277.5)">hnRNPL</text>
<text x="560" y="277.5" font-size="6.5" text-anchor="end" fill="#222" transform="rotate(-45 560 277.5)">hnRNPL+TGX221</text>
<text x="572.8" y="277.5" font-size="6.5" text-anchor="end" fill="#222" transform="rotate(-45 572.8 277.5)">hnRNPL+PI 103</text>
<text x="547.2" y="200.6" font-size="8" text-anchor="middle">SKOV3</text>
<text x="509" y="241.8" font-size="7.7" text-anchor="middle" transform="rotate(-90 509 241.8)">Glucose</text>
<line x1="531.4" y1="230" x2="543.9" y2="230" stroke="#222" stroke-width="0.75"/>
<text x="538.45" y="229.1" font-size="5.2" text-anchor="middle" fill="#2a2a2a"><tspan font-style="italic">p</tspan> = 0.0381</text>
<line x1="543.9" y1="222.2" x2="556.6" y2="222.2" stroke="#222" stroke-width="0.75"/>
<text x="551.05" y="221.3" font-size="5.2" text-anchor="middle" fill="#2a2a2a"><tspan font-style="italic">p</tspan> = 0.0001</text>
<line x1="543.9" y1="215.3" x2="569.4" y2="215.3" stroke="#222" stroke-width="0.75"/>
<text x="557.45" y="214.4" font-size="5.2" text-anchor="middle" fill="#2a2a2a"><tspan font-style="italic">p</tspan> &lt; 0.0001</text>
<rect x="608" y="241.5" width="8.8" height="27.8" fill="#88a8dc"/>
<rect x="621" y="226.21" width="8.4" height="43.09" fill="#ec8088"/>
<rect x="633.4" y="235.94" width="8.6" height="33.36" fill="#98e098"/>
<rect x="646.2" y="240.67" width="8.8" height="28.63" fill="#b898d4"/>
<line x1="612.4" y1="238.16" x2="612.4" y2="244.84" stroke="#111" stroke-width="0.9"/>
<line x1="610.8" y1="238.16" x2="614" y2="238.16" stroke="#111" stroke-width="0.9"/>
<line x1="610.8" y1="244.84" x2="614" y2="244.84" stroke="#111" stroke-width="0.9"/>
<circle cx="611" cy="241" r="1.1" fill="#111"/>
<circle cx="612.4" cy="240.88" r="1.1" fill="#111"/>
<circle cx="613.8" cy="242.79" r="1.1" fill="#111"/>
<line x1="625.2" y1="224.26" x2="625.2" y2="228.16" stroke="#111" stroke-width="0.9"/>
<line x1="623.6" y1="224.26" x2="626.8" y2="224.26" stroke="#111" stroke-width="0.9"/>
<line x1="623.6" y1="228.16" x2="626.8" y2="228.16" stroke="#111" stroke-width="0.9"/>
<circle cx="623.8" cy="227.31" r="1.1" fill="#111"/>
<circle cx="625.2" cy="226.29" r="1.1" fill="#111"/>
<circle cx="626.6" cy="225.37" r="1.1" fill="#111"/>
<line x1="637.7" y1="233.99" x2="637.7" y2="237.89" stroke="#111" stroke-width="0.9"/>
<line x1="636.1" y1="233.99" x2="639.3" y2="233.99" stroke="#111" stroke-width="0.9"/>
<line x1="636.1" y1="237.89" x2="639.3" y2="237.89" stroke="#111" stroke-width="0.9"/>
<circle cx="636.3" cy="235.9" r="1.1" fill="#111"/>
<circle cx="637.7" cy="235.42" r="1.1" fill="#111"/>
<circle cx="639.1" cy="235.48" r="1.1" fill="#111"/>
<line x1="650.6" y1="237.33" x2="650.6" y2="244" stroke="#111" stroke-width="0.9"/>
<line x1="649" y1="237.33" x2="652.2" y2="237.33" stroke="#111" stroke-width="0.9"/>
<line x1="649" y1="244" x2="652.2" y2="244" stroke="#111" stroke-width="0.9"/>
<circle cx="649.2" cy="240.44" r="1.1" fill="#111"/>
<circle cx="650.6" cy="242.2" r="1.1" fill="#111"/>
<circle cx="652" cy="241.26" r="1.1" fill="#111"/>
<line x1="603.1" y1="213.2" x2="603.1" y2="269.9" stroke="#111" stroke-width="1.2"/>
<line x1="602.5" y1="269.3" x2="660" y2="269.3" stroke="#111" stroke-width="1.2"/>
<line x1="600.9" y1="269.3" x2="603.1" y2="269.3" stroke="#111" stroke-width="0.9"/>
<text x="596.12" y="271.57" font-size="6.3" text-anchor="middle" fill="#222">0.0</text>
<line x1="600.9" y1="255.4" x2="603.1" y2="255.4" stroke="#111" stroke-width="0.9"/>
<text x="596.12" y="257.67" font-size="6.3" text-anchor="middle" fill="#222">0.5</text>
<line x1="600.9" y1="241.5" x2="603.1" y2="241.5" stroke="#111" stroke-width="0.9"/>
<text x="596.12" y="243.77" font-size="6.3" text-anchor="middle" fill="#222">1.0</text>
<line x1="600.9" y1="227.6" x2="603.1" y2="227.6" stroke="#111" stroke-width="0.9"/>
<text x="596.12" y="229.87" font-size="6.3" text-anchor="middle" fill="#222">1.5</text>
<line x1="600.9" y1="213.7" x2="603.1" y2="213.7" stroke="#111" stroke-width="0.9"/>
<text x="596.12" y="215.97" font-size="6.3" text-anchor="middle" fill="#222">2.0</text>
<line x1="612.4" y1="269.3" x2="612.4" y2="272.1" stroke="#111" stroke-width="0.9"/>
<line x1="625.2" y1="269.3" x2="625.2" y2="272.1" stroke="#111" stroke-width="0.9"/>
<line x1="637.7" y1="269.3" x2="637.7" y2="272.1" stroke="#111" stroke-width="0.9"/>
<line x1="650.6" y1="269.3" x2="650.6" y2="272.1" stroke="#111" stroke-width="0.9"/>
<text x="615.8" y="277.9" font-size="6.5" text-anchor="end" fill="#222" transform="rotate(-45 615.8 277.9)">Control</text>
<text x="628.6" y="277.9" font-size="6.5" text-anchor="end" fill="#222" transform="rotate(-45 628.6 277.9)">hnRNPL</text>
<text x="641.1" y="277.9" font-size="6.5" text-anchor="end" fill="#222" transform="rotate(-45 641.1 277.9)">hnRNPL+TGX221</text>
<text x="654" y="277.9" font-size="6.5" text-anchor="end" fill="#222" transform="rotate(-45 654 277.9)">hnRNPL+PI 103</text>
<text x="630.6" y="200.6" font-size="8" text-anchor="middle">SKOV3</text>
<text x="590" y="240" font-size="7.7" text-anchor="middle" transform="rotate(-90 590 240)">Lactic acid</text>
<line x1="612.4" y1="221" x2="625.2" y2="221" stroke="#222" stroke-width="0.75"/>
<text x="619.6" y="220.1" font-size="5.2" text-anchor="middle" fill="#2a2a2a"><tspan font-style="italic">p</tspan> = 0.0008</text>
<line x1="625.2" y1="215" x2="637.7" y2="215" stroke="#222" stroke-width="0.75"/>
<text x="632.25" y="214.1" font-size="5.2" text-anchor="middle" fill="#2a2a2a"><tspan font-style="italic">p</tspan> = 0.0201</text>
<line x1="625.2" y1="207.6" x2="650.6" y2="207.6" stroke="#222" stroke-width="0.75"/>
<text x="638.7" y="206.7" font-size="5.2" text-anchor="middle" fill="#2a2a2a"><tspan font-style="italic">p</tspan> = 0.0011</text>
<rect x="38.05" y="357.17" width="6.9" height="44.03" fill="#88a8dc"/>
<rect x="48.05" y="391.53" width="6.9" height="9.67" fill="#ec8088"/>
<rect x="58.05" y="392.07" width="6.9" height="9.13" fill="#98e098"/>
<rect x="68.05" y="377.03" width="6.9" height="24.17" fill="#b898d4"/>
<rect x="78" y="370.05" width="7" height="31.15" fill="#f0b880"/>
<line x1="41.5" y1="353.94" x2="41.5" y2="360.39" stroke="#111" stroke-width="0.9"/>
<line x1="39.9" y1="353.94" x2="43.1" y2="353.94" stroke="#111" stroke-width="0.9"/>
<line x1="39.9" y1="360.39" x2="43.1" y2="360.39" stroke="#111" stroke-width="0.9"/>
<circle cx="40.1" cy="355.92" r="1.1" fill="#111"/>
<circle cx="41.5" cy="358.31" r="1.1" fill="#111"/>
<circle cx="42.9" cy="358.17" r="1.1" fill="#111"/>
<line x1="51.5" y1="388.31" x2="51.5" y2="394.76" stroke="#111" stroke-width="0.9"/>
<line x1="49.9" y1="388.31" x2="53.1" y2="388.31" stroke="#111" stroke-width="0.9"/>
<line x1="49.9" y1="394.76" x2="53.1" y2="394.76" stroke="#111" stroke-width="0.9"/>
<circle cx="50.1" cy="393.44" r="1.1" fill="#111"/>
<circle cx="51.5" cy="392.05" r="1.1" fill="#111"/>
<circle cx="52.9" cy="389.93" r="1.1" fill="#111"/>
<line x1="61.5" y1="389.39" x2="61.5" y2="394.76" stroke="#111" stroke-width="0.9"/>
<line x1="59.9" y1="389.39" x2="63.1" y2="389.39" stroke="#111" stroke-width="0.9"/>
<line x1="59.9" y1="394.76" x2="63.1" y2="394.76" stroke="#111" stroke-width="0.9"/>
<circle cx="60.1" cy="393.75" r="1.1" fill="#111"/>
<circle cx="61.5" cy="392.11" r="1.1" fill="#111"/>
<circle cx="62.9" cy="390.47" r="1.1" fill="#111"/>
<line x1="71.5" y1="375.42" x2="71.5" y2="378.65" stroke="#111" stroke-width="0.9"/>
<line x1="69.9" y1="375.42" x2="73.1" y2="375.42" stroke="#111" stroke-width="0.9"/>
<line x1="69.9" y1="378.65" x2="73.1" y2="378.65" stroke="#111" stroke-width="0.9"/>
<circle cx="70.1" cy="377.59" r="1.1" fill="#111"/>
<circle cx="71.5" cy="378" r="1.1" fill="#111"/>
<circle cx="72.9" cy="376.09" r="1.1" fill="#111"/>
<line x1="81.5" y1="366.29" x2="81.5" y2="373.81" stroke="#111" stroke-width="0.9"/>
<line x1="79.9" y1="366.29" x2="83.1" y2="366.29" stroke="#111" stroke-width="0.9"/>
<line x1="79.9" y1="373.81" x2="83.1" y2="373.81" stroke="#111" stroke-width="0.9"/>
<circle cx="80.1" cy="369.18" r="1.1" fill="#111"/>
<circle cx="81.5" cy="369.95" r="1.1" fill="#111"/>
<circle cx="82.9" cy="368.98" r="1.1" fill="#111"/>
<line x1="35.2" y1="347" x2="35.2" y2="401.8" stroke="#111" stroke-width="1.2"/>
<line x1="34.6" y1="401.2" x2="89.3" y2="401.2" stroke="#111" stroke-width="1.2"/>
<line x1="32" y1="401.2" x2="35.2" y2="401.2" stroke="#111" stroke-width="0.9"/>
<text x="26.82" y="403.47" font-size="6.3" text-anchor="middle" fill="#222">1.0</text>
<line x1="32" y1="390.46" x2="35.2" y2="390.46" stroke="#111" stroke-width="0.9"/>
<text x="26.82" y="392.73" font-size="6.3" text-anchor="middle" fill="#222">1.2</text>
<line x1="32" y1="379.72" x2="35.2" y2="379.72" stroke="#111" stroke-width="0.9"/>
<text x="26.82" y="381.99" font-size="6.3" text-anchor="middle" fill="#222">1.4</text>
<line x1="32" y1="368.98" x2="35.2" y2="368.98" stroke="#111" stroke-width="0.9"/>
<text x="26.82" y="371.25" font-size="6.3" text-anchor="middle" fill="#222">1.6</text>
<line x1="32" y1="358.24" x2="35.2" y2="358.24" stroke="#111" stroke-width="0.9"/>
<text x="26.82" y="360.51" font-size="6.3" text-anchor="middle" fill="#222">1.8</text>
<line x1="32" y1="347.5" x2="35.2" y2="347.5" stroke="#111" stroke-width="0.9"/>
<text x="26.82" y="349.77" font-size="6.3" text-anchor="middle" fill="#222">2.0</text>
<line x1="41.5" y1="401.2" x2="41.5" y2="404.2" stroke="#111" stroke-width="0.9"/>
<line x1="51.5" y1="401.2" x2="51.5" y2="404.2" stroke="#111" stroke-width="0.9"/>
<line x1="61.5" y1="401.2" x2="61.5" y2="404.2" stroke="#111" stroke-width="0.9"/>
<line x1="71.5" y1="401.2" x2="71.5" y2="404.2" stroke="#111" stroke-width="0.9"/>
<line x1="81.5" y1="401.2" x2="81.5" y2="404.2" stroke="#111" stroke-width="0.9"/>
<text x="43.9" y="409.8" font-size="6.5" text-anchor="end" fill="#222" transform="rotate(-45 43.9 409.8)">shNC</text>
<text x="53.9" y="409.8" font-size="6.5" text-anchor="end" fill="#222" transform="rotate(-45 53.9 409.8)">shHL-1</text>
<text x="63.9" y="409.8" font-size="6.5" text-anchor="end" fill="#222" transform="rotate(-45 63.9 409.8)">shHL-2</text>
<text x="73.9" y="409.8" font-size="6.5" text-anchor="end" fill="#222" transform="rotate(-45 73.9 409.8)">shHL-1_SC79</text>
<text x="83.9" y="409.8" font-size="6.5" text-anchor="end" fill="#222" transform="rotate(-45 83.9 409.8)">shHL-2_SC79</text>
<text x="55.6" y="333.1" font-size="8" text-anchor="middle">OVCAR3</text>
<text x="16" y="374" font-size="8" text-anchor="middle" transform="rotate(-90 16 374)">ATP (10<tspan baseline-shift="super" font-size="4.8">5</tspan>)</text>
<line x1="41.5" y1="346.5" x2="61.5" y2="346.5" stroke="#222" stroke-width="0.75"/>
<text x="52.3" y="345.6" font-size="5.2" text-anchor="middle" fill="#2a2a2a"><tspan font-style="italic">p</tspan> &lt; 0.0001</text>
<line x1="41.5" y1="351.8" x2="51.5" y2="351.8" stroke="#222" stroke-width="0.75"/>
<text x="47.3" y="350.9" font-size="5.2" text-anchor="middle" fill="#2a2a2a"><tspan font-style="italic">p</tspan> &lt; 0.0001</text>
<line x1="51.5" y1="368.4" x2="71.5" y2="368.4" stroke="#222" stroke-width="0.75"/>
<text x="62.3" y="367.5" font-size="5.2" text-anchor="middle" fill="#2a2a2a"><tspan font-style="italic">p</tspan> = 0.0001</text>
<line x1="61.5" y1="361.2" x2="81.5" y2="361.2" stroke="#222" stroke-width="0.75"/>
<text x="72.3" y="360.3" font-size="5.2" text-anchor="middle" fill="#2a2a2a"><tspan font-style="italic">p</tspan> &lt; 0.0001</text>
<rect x="121.9" y="365.56" width="7" height="35.84" fill="#88a8dc"/>
<rect x="132.1" y="379.03" width="7" height="22.37" fill="#ec8088"/>
<rect x="142.1" y="380.38" width="7" height="21.02" fill="#98e098"/>
<rect x="152.1" y="368.52" width="7" height="32.88" fill="#b898d4"/>
<rect x="162.1" y="370.41" width="7" height="30.99" fill="#f0b880"/>
<line x1="125.4" y1="363.67" x2="125.4" y2="367.44" stroke="#111" stroke-width="0.9"/>
<line x1="123.8" y1="363.67" x2="127" y2="363.67" stroke="#111" stroke-width="0.9"/>
<line x1="123.8" y1="367.44" x2="127" y2="367.44" stroke="#111" stroke-width="0.9"/>
<circle cx="124" cy="365.73" r="1.1" fill="#111"/>
<circle cx="125.4" cy="366.16" r="1.1" fill="#111"/>
<circle cx="126.8" cy="365.52" r="1.1" fill="#111"/>
<line x1="135.6" y1="377.68" x2="135.6" y2="380.38" stroke="#111" stroke-width="0.9"/>
<line x1="134" y1="377.68" x2="137.2" y2="377.68" stroke="#111" stroke-width="0.9"/>
<line x1="134" y1="380.38" x2="137.2" y2="380.38" stroke="#111" stroke-width="0.9"/>
<circle cx="134.2" cy="379.6" r="1.1" fill="#111"/>
<circle cx="135.6" cy="379.82" r="1.1" fill="#111"/>
<circle cx="137" cy="378.54" r="1.1" fill="#111"/>
<line x1="145.6" y1="378.76" x2="145.6" y2="382" stroke="#111" stroke-width="0.9"/>
<line x1="144" y1="378.76" x2="147.2" y2="378.76" stroke="#111" stroke-width="0.9"/>
<line x1="144" y1="382" x2="147.2" y2="382" stroke="#111" stroke-width="0.9"/>
<circle cx="144.2" cy="379.26" r="1.1" fill="#111"/>
<circle cx="145.6" cy="379.27" r="1.1" fill="#111"/>
<circle cx="147" cy="381.22" r="1.1" fill="#111"/>
<line x1="155.6" y1="366.37" x2="155.6" y2="370.68" stroke="#111" stroke-width="0.9"/>
<line x1="154" y1="366.37" x2="157.2" y2="366.37" stroke="#111" stroke-width="0.9"/>
<line x1="154" y1="370.68" x2="157.2" y2="370.68" stroke="#111" stroke-width="0.9"/>
<circle cx="154.2" cy="367.67" r="1.1" fill="#111"/>
<circle cx="155.6" cy="368.45" r="1.1" fill="#111"/>
<circle cx="157" cy="369.5" r="1.1" fill="#111"/>
<line x1="165.6" y1="369.6" x2="165.6" y2="371.22" stroke="#111" stroke-width="0.9"/>
<line x1="164" y1="369.6" x2="167.2" y2="369.6" stroke="#111" stroke-width="0.9"/>
<line x1="164" y1="371.22" x2="167.2" y2="371.22" stroke="#111" stroke-width="0.9"/>
<circle cx="164.2" cy="370.43" r="1.1" fill="#111"/>
<circle cx="165.6" cy="370.39" r="1.1" fill="#111"/>
<circle cx="167" cy="370.62" r="1.1" fill="#111"/>
<line x1="119.4" y1="347" x2="119.4" y2="402" stroke="#111" stroke-width="1.2"/>
<line x1="118.8" y1="401.4" x2="172.7" y2="401.4" stroke="#111" stroke-width="1.2"/>
<line x1="116.2" y1="401.4" x2="119.4" y2="401.4" stroke="#111" stroke-width="0.9"/>
<text x="111.02" y="403.67" font-size="6.3" text-anchor="middle" fill="#222">0</text>
<line x1="116.2" y1="387.92" x2="119.4" y2="387.92" stroke="#111" stroke-width="0.9"/>
<text x="111.02" y="390.19" font-size="6.3" text-anchor="middle" fill="#222">0.5</text>
<line x1="116.2" y1="374.45" x2="119.4" y2="374.45" stroke="#111" stroke-width="0.9"/>
<text x="111.02" y="376.72" font-size="6.3" text-anchor="middle" fill="#222">1.0</text>
<line x1="116.2" y1="360.98" x2="119.4" y2="360.98" stroke="#111" stroke-width="0.9"/>
<text x="111.02" y="363.24" font-size="6.3" text-anchor="middle" fill="#222">1.5</text>
<line x1="116.2" y1="347.5" x2="119.4" y2="347.5" stroke="#111" stroke-width="0.9"/>
<text x="111.02" y="349.77" font-size="6.3" text-anchor="middle" fill="#222">2.0</text>
<line x1="125.4" y1="401.4" x2="125.4" y2="404.4" stroke="#111" stroke-width="0.9"/>
<line x1="135.6" y1="401.4" x2="135.6" y2="404.4" stroke="#111" stroke-width="0.9"/>
<line x1="145.6" y1="401.4" x2="145.6" y2="404.4" stroke="#111" stroke-width="0.9"/>
<line x1="155.6" y1="401.4" x2="155.6" y2="404.4" stroke="#111" stroke-width="0.9"/>
<line x1="165.6" y1="401.4" x2="165.6" y2="404.4" stroke="#111" stroke-width="0.9"/>
<text x="127.8" y="410" font-size="6.5" text-anchor="end" fill="#222" transform="rotate(-45 127.8 410)">shNC</text>
<text x="138" y="410" font-size="6.5" text-anchor="end" fill="#222" transform="rotate(-45 138 410)">shHL-1</text>
<text x="148" y="410" font-size="6.5" text-anchor="end" fill="#222" transform="rotate(-45 148 410)">shHL-2</text>
<text x="158" y="410" font-size="6.5" text-anchor="end" fill="#222" transform="rotate(-45 158 410)">shHL-1_SC79</text>
<text x="168" y="410" font-size="6.5" text-anchor="end" fill="#222" transform="rotate(-45 168 410)">shHL-2_SC79</text>
<text x="137.5" y="333.1" font-size="8" text-anchor="middle">SKOV3</text>
<text x="101" y="374" font-size="8" text-anchor="middle" transform="rotate(-90 101 374)">ATP (10<tspan baseline-shift="super" font-size="4.8">5</tspan>)</text>
<line x1="125.4" y1="359" x2="135.6" y2="359" stroke="#222" stroke-width="0.75"/>
<text x="131.3" y="358.1" font-size="5.2" text-anchor="middle" fill="#2a2a2a"><tspan font-style="italic">p</tspan> &lt; 0.0001</text>
<line x1="125.4" y1="352.8" x2="145.6" y2="352.8" stroke="#222" stroke-width="0.75"/>
<text x="136.3" y="351.9" font-size="5.2" text-anchor="middle" fill="#2a2a2a"><tspan font-style="italic">p</tspan> &lt; 0.0001</text>
<line x1="135.6" y1="346.4" x2="155.6" y2="346.4" stroke="#222" stroke-width="0.75"/>
<text x="146.4" y="345.5" font-size="5.2" text-anchor="middle" fill="#2a2a2a"><tspan font-style="italic">p</tspan> &lt; 0.0001</text>
<line x1="145.6" y1="340" x2="165.6" y2="340" stroke="#222" stroke-width="0.75"/>
<text x="156.4" y="339.1" font-size="5.2" text-anchor="middle" fill="#2a2a2a"><tspan font-style="italic">p</tspan> = 0.0002</text>
<rect x="207" y="384.21" width="8.8" height="17.99" fill="#88a8dc"/>
<rect x="219.7" y="359.69" width="8.4" height="42.51" fill="#ec8088"/>
<rect x="232.2" y="373.31" width="8.8" height="28.88" fill="#98e098"/>
<rect x="245.1" y="381.49" width="8.6" height="20.71" fill="#b898d4"/>
<line x1="211.4" y1="379.31" x2="211.4" y2="389.12" stroke="#111" stroke-width="0.9"/>
<line x1="209.8" y1="379.31" x2="213" y2="379.31" stroke="#111" stroke-width="0.9"/>
<line x1="209.8" y1="389.12" x2="213" y2="389.12" stroke="#111" stroke-width="0.9"/>
<circle cx="210" cy="380.84" r="1.1" fill="#111"/>
<circle cx="211.4" cy="386.15" r="1.1" fill="#111"/>
<circle cx="212.8" cy="384.45" r="1.1" fill="#111"/>
<line x1="223.9" y1="355.33" x2="223.9" y2="364.05" stroke="#111" stroke-width="0.9"/>
<line x1="222.3" y1="355.33" x2="225.5" y2="355.33" stroke="#111" stroke-width="0.9"/>
<line x1="222.3" y1="364.05" x2="225.5" y2="364.05" stroke="#111" stroke-width="0.9"/>
<circle cx="222.5" cy="358.73" r="1.1" fill="#111"/>
<circle cx="223.9" cy="362.48" r="1.1" fill="#111"/>
<circle cx="225.3" cy="357.65" r="1.1" fill="#111"/>
<line x1="236.6" y1="363.5" x2="236.6" y2="383.12" stroke="#111" stroke-width="0.9"/>
<line x1="235" y1="363.5" x2="238.2" y2="363.5" stroke="#111" stroke-width="0.9"/>
<line x1="235" y1="383.12" x2="238.2" y2="383.12" stroke="#111" stroke-width="0.9"/>
<circle cx="235.2" cy="374.45" r="1.1" fill="#111"/>
<circle cx="236.6" cy="377.53" r="1.1" fill="#111"/>
<circle cx="238" cy="370.7" r="1.1" fill="#111"/>
<line x1="249.4" y1="379.31" x2="249.4" y2="383.67" stroke="#111" stroke-width="0.9"/>
<line x1="247.8" y1="379.31" x2="251" y2="379.31" stroke="#111" stroke-width="0.9"/>
<line x1="247.8" y1="383.67" x2="251" y2="383.67" stroke="#111" stroke-width="0.9"/>
<circle cx="248" cy="381.23" r="1.1" fill="#111"/>
<circle cx="249.4" cy="382.36" r="1.1" fill="#111"/>
<circle cx="250.8" cy="381.06" r="1.1" fill="#111"/>
<line x1="202.5" y1="347.2" x2="202.5" y2="402.8" stroke="#111" stroke-width="1.2"/>
<line x1="201.9" y1="402.2" x2="258.7" y2="402.2" stroke="#111" stroke-width="1.2"/>
<line x1="199.3" y1="402.2" x2="202.5" y2="402.2" stroke="#111" stroke-width="0.9"/>
<text x="194.12" y="404.47" font-size="6.3" text-anchor="middle" fill="#222">0.4</text>
<line x1="199.3" y1="391.3" x2="202.5" y2="391.3" stroke="#111" stroke-width="0.9"/>
<text x="194.12" y="393.57" font-size="6.3" text-anchor="middle" fill="#222">0.5</text>
<line x1="199.3" y1="380.4" x2="202.5" y2="380.4" stroke="#111" stroke-width="0.9"/>
<text x="194.12" y="382.67" font-size="6.3" text-anchor="middle" fill="#222">0.6</text>
<line x1="199.3" y1="369.5" x2="202.5" y2="369.5" stroke="#111" stroke-width="0.9"/>
<text x="194.12" y="371.77" font-size="6.3" text-anchor="middle" fill="#222">0.7</text>
<line x1="199.3" y1="358.6" x2="202.5" y2="358.6" stroke="#111" stroke-width="0.9"/>
<text x="194.12" y="360.87" font-size="6.3" text-anchor="middle" fill="#222">0.8</text>
<line x1="199.3" y1="347.7" x2="202.5" y2="347.7" stroke="#111" stroke-width="0.9"/>
<text x="194.12" y="349.97" font-size="6.3" text-anchor="middle" fill="#222">0.9</text>
<line x1="211.4" y1="402.2" x2="211.4" y2="405.2" stroke="#111" stroke-width="0.9"/>
<line x1="223.9" y1="402.2" x2="223.9" y2="405.2" stroke="#111" stroke-width="0.9"/>
<line x1="236.6" y1="402.2" x2="236.6" y2="405.2" stroke="#111" stroke-width="0.9"/>
<line x1="249.4" y1="402.2" x2="249.4" y2="405.2" stroke="#111" stroke-width="0.9"/>
<text x="213.8" y="410.8" font-size="6.5" text-anchor="end" fill="#222" transform="rotate(-45 213.8 410.8)">Control</text>
<text x="226.3" y="410.8" font-size="6.5" text-anchor="end" fill="#222" transform="rotate(-45 226.3 410.8)">hnRNPL</text>
<text x="239" y="410.8" font-size="6.5" text-anchor="end" fill="#222" transform="rotate(-45 239 410.8)">hnRNPL+TGX221</text>
<text x="251.8" y="410.8" font-size="6.5" text-anchor="end" fill="#222" transform="rotate(-45 251.8 410.8)">hnRNPL+PI 103</text>
<text x="228.9" y="333.1" font-size="8" text-anchor="middle">OVCAR3</text>
<text x="185.5" y="374.5" font-size="8" text-anchor="middle" transform="rotate(-90 185.5 374.5)">ATP (10<tspan baseline-shift="super" font-size="4.8">5</tspan>)</text>
<line x1="211.4" y1="353.5" x2="223.9" y2="353.5" stroke="#222" stroke-width="0.75"/>
<text x="218.45" y="352.6" font-size="5.2" text-anchor="middle" fill="#2a2a2a"><tspan font-style="italic">p</tspan> = 0.0005</text>
<line x1="223.9" y1="347.2" x2="236.6" y2="347.2" stroke="#222" stroke-width="0.75"/>
<text x="231.05" y="346.3" font-size="5.2" text-anchor="middle" fill="#2a2a2a"><tspan font-style="italic">p</tspan> = 0.0349</text>
<line x1="223.9" y1="340.6" x2="249.4" y2="340.6" stroke="#222" stroke-width="0.75"/>
<text x="237.45" y="339.7" font-size="5.2" text-anchor="middle" fill="#2a2a2a"><tspan font-style="italic">p</tspan> = 0.0016</text>
<rect x="291.1" y="369.04" width="8.8" height="32.76" fill="#88a8dc"/>
<rect x="303.8" y="356.16" width="8.4" height="45.64" fill="#ec8088"/>
<rect x="316" y="372.8" width="8.6" height="29" fill="#98e098"/>
<rect x="328.4" y="390.52" width="8.6" height="11.28" fill="#b898d4"/>
<line x1="295.5" y1="367.43" x2="295.5" y2="370.65" stroke="#111" stroke-width="0.9"/>
<line x1="293.9" y1="367.43" x2="297.1" y2="367.43" stroke="#111" stroke-width="0.9"/>
<line x1="293.9" y1="370.65" x2="297.1" y2="370.65" stroke="#111" stroke-width="0.9"/>
<circle cx="294.1" cy="368.7" r="1.1" fill="#111"/>
<circle cx="295.5" cy="368.76" r="1.1" fill="#111"/>
<circle cx="296.9" cy="368.09" r="1.1" fill="#111"/>
<line x1="308" y1="355.08" x2="308" y2="357.23" stroke="#111" stroke-width="0.9"/>
<line x1="306.4" y1="355.08" x2="309.6" y2="355.08" stroke="#111" stroke-width="0.9"/>
<line x1="306.4" y1="357.23" x2="309.6" y2="357.23" stroke="#111" stroke-width="0.9"/>
<circle cx="306.6" cy="355.45" r="1.1" fill="#111"/>
<circle cx="308" cy="356.84" r="1.1" fill="#111"/>
<circle cx="309.4" cy="355.59" r="1.1" fill="#111"/>
<line x1="320.3" y1="371.51" x2="320.3" y2="374.09" stroke="#111" stroke-width="0.9"/>
<line x1="318.7" y1="371.51" x2="321.9" y2="371.51" stroke="#111" stroke-width="0.9"/>
<line x1="318.7" y1="374.09" x2="321.9" y2="374.09" stroke="#111" stroke-width="0.9"/>
<circle cx="318.9" cy="372.71" r="1.1" fill="#111"/>
<circle cx="320.3" cy="373.57" r="1.1" fill="#111"/>
<circle cx="321.7" cy="372.06" r="1.1" fill="#111"/>
<line x1="332.7" y1="387.84" x2="332.7" y2="393.21" stroke="#111" stroke-width="0.9"/>
<line x1="331.1" y1="387.84" x2="334.3" y2="387.84" stroke="#111" stroke-width="0.9"/>
<line x1="331.1" y1="393.21" x2="334.3" y2="393.21" stroke="#111" stroke-width="0.9"/>
<circle cx="331.3" cy="391.58" r="1.1" fill="#111"/>
<circle cx="332.7" cy="391.6" r="1.1" fill="#111"/>
<circle cx="334.1" cy="389.49" r="1.1" fill="#111"/>
<line x1="285.7" y1="347.6" x2="285.7" y2="402.4" stroke="#111" stroke-width="1.2"/>
<line x1="285.1" y1="401.8" x2="342" y2="401.8" stroke="#111" stroke-width="1.2"/>
<line x1="282.5" y1="401.8" x2="285.7" y2="401.8" stroke="#111" stroke-width="0.9"/>
<text x="277.32" y="404.07" font-size="6.3" text-anchor="middle" fill="#222">0.6</text>
<line x1="282.5" y1="391.06" x2="285.7" y2="391.06" stroke="#111" stroke-width="0.9"/>
<text x="277.32" y="393.33" font-size="6.3" text-anchor="middle" fill="#222">0.7</text>
<line x1="282.5" y1="380.32" x2="285.7" y2="380.32" stroke="#111" stroke-width="0.9"/>
<text x="277.32" y="382.59" font-size="6.3" text-anchor="middle" fill="#222">0.8</text>
<line x1="282.5" y1="369.58" x2="285.7" y2="369.58" stroke="#111" stroke-width="0.9"/>
<text x="277.32" y="371.85" font-size="6.3" text-anchor="middle" fill="#222">0.9</text>
<line x1="282.5" y1="358.84" x2="285.7" y2="358.84" stroke="#111" stroke-width="0.9"/>
<text x="277.32" y="361.11" font-size="6.3" text-anchor="middle" fill="#222">1.0</text>
<line x1="282.5" y1="348.1" x2="285.7" y2="348.1" stroke="#111" stroke-width="0.9"/>
<text x="277.32" y="350.37" font-size="6.3" text-anchor="middle" fill="#222">1.1</text>
<line x1="295.5" y1="401.8" x2="295.5" y2="404.8" stroke="#111" stroke-width="0.9"/>
<line x1="308" y1="401.8" x2="308" y2="404.8" stroke="#111" stroke-width="0.9"/>
<line x1="320.3" y1="401.8" x2="320.3" y2="404.8" stroke="#111" stroke-width="0.9"/>
<line x1="332.7" y1="401.8" x2="332.7" y2="404.8" stroke="#111" stroke-width="0.9"/>
<text x="297.9" y="410.4" font-size="6.5" text-anchor="end" fill="#222" transform="rotate(-45 297.9 410.4)">Control</text>
<text x="310.4" y="410.4" font-size="6.5" text-anchor="end" fill="#222" transform="rotate(-45 310.4 410.4)">hnRNPL</text>
<text x="322.7" y="410.4" font-size="6.5" text-anchor="end" fill="#222" transform="rotate(-45 322.7 410.4)">hnRNPL+TGX221</text>
<text x="335.1" y="410.4" font-size="6.5" text-anchor="end" fill="#222" transform="rotate(-45 335.1 410.4)">hnRNPL+PI 103</text>
<text x="311.3" y="333.1" font-size="8" text-anchor="middle">SKOV3</text>
<text x="267.8" y="374" font-size="8" text-anchor="middle" transform="rotate(-90 267.8 374)">ATP (10<tspan baseline-shift="super" font-size="4.8">5</tspan>)</text>
<line x1="295.5" y1="352.7" x2="308" y2="352.7" stroke="#222" stroke-width="0.75"/>
<text x="302.55" y="351.8" font-size="5.2" text-anchor="middle" fill="#2a2a2a"><tspan font-style="italic">p</tspan> = 0.0005</text>
<line x1="308" y1="346.2" x2="320.3" y2="346.2" stroke="#222" stroke-width="0.75"/>
<text x="314.95" y="345.3" font-size="5.2" text-anchor="middle" fill="#2a2a2a"><tspan font-style="italic">p</tspan> = 0.0001</text>
<line x1="308" y1="339.7" x2="332.7" y2="339.7" stroke="#222" stroke-width="0.75"/>
<text x="321.15" y="338.8" font-size="5.2" text-anchor="middle" fill="#2a2a2a"><tspan font-style="italic">p</tspan> &lt; 0.0001</text>
<rect x="37.5" y="490.13" width="7.2" height="37.87" fill="#88a8dc"/>
<rect x="47.95" y="503.39" width="7.1" height="24.61" fill="#ec8088"/>
<rect x="58" y="495.81" width="7.2" height="32.19" fill="#98e098"/>
<rect x="68.7" y="507.93" width="7.2" height="20.07" fill="#b898d4"/>
<rect x="79" y="496.95" width="7.2" height="31.05" fill="#f0b880"/>
<line x1="41.1" y1="487.48" x2="41.1" y2="492.78" stroke="#111" stroke-width="0.9"/>
<line x1="39.5" y1="487.48" x2="42.7" y2="487.48" stroke="#111" stroke-width="0.9"/>
<line x1="39.5" y1="492.78" x2="42.7" y2="492.78" stroke="#111" stroke-width="0.9"/>
<circle cx="39.7" cy="491.19" r="1.1" fill="#111"/>
<circle cx="41.1" cy="490.78" r="1.1" fill="#111"/>
<circle cx="42.5" cy="489.75" r="1.1" fill="#111"/>
<line x1="51.5" y1="499.98" x2="51.5" y2="506.79" stroke="#111" stroke-width="0.9"/>
<line x1="49.9" y1="499.98" x2="53.1" y2="499.98" stroke="#111" stroke-width="0.9"/>
<line x1="49.9" y1="506.79" x2="53.1" y2="506.79" stroke="#111" stroke-width="0.9"/>
<circle cx="50.1" cy="505.41" r="1.1" fill="#111"/>
<circle cx="51.5" cy="503.93" r="1.1" fill="#111"/>
<circle cx="52.9" cy="501.69" r="1.1" fill="#111"/>
<line x1="61.6" y1="494.3" x2="61.6" y2="497.33" stroke="#111" stroke-width="0.9"/>
<line x1="60" y1="494.3" x2="63.2" y2="494.3" stroke="#111" stroke-width="0.9"/>
<line x1="60" y1="497.33" x2="63.2" y2="497.33" stroke="#111" stroke-width="0.9"/>
<circle cx="60.2" cy="494.77" r="1.1" fill="#111"/>
<circle cx="61.6" cy="496.55" r="1.1" fill="#111"/>
<circle cx="63" cy="495.8" r="1.1" fill="#111"/>
<line x1="72.3" y1="504.9" x2="72.3" y2="510.96" stroke="#111" stroke-width="0.9"/>
<line x1="70.7" y1="504.9" x2="73.9" y2="504.9" stroke="#111" stroke-width="0.9"/>
<line x1="70.7" y1="510.96" x2="73.9" y2="510.96" stroke="#111" stroke-width="0.9"/>
<circle cx="70.9" cy="508.74" r="1.1" fill="#111"/>
<circle cx="72.3" cy="507.77" r="1.1" fill="#111"/>
<circle cx="73.7" cy="508.63" r="1.1" fill="#111"/>
<line x1="82.6" y1="496.38" x2="82.6" y2="497.52" stroke="#111" stroke-width="0.9"/>
<line x1="81" y1="496.38" x2="84.2" y2="496.38" stroke="#111" stroke-width="0.9"/>
<line x1="81" y1="497.52" x2="84.2" y2="497.52" stroke="#111" stroke-width="0.9"/>
<circle cx="81.2" cy="496.62" r="1.1" fill="#111"/>
<circle cx="82.6" cy="497.07" r="1.1" fill="#111"/>
<circle cx="84" cy="496.77" r="1.1" fill="#111"/>
<line x1="31.8" y1="470.7" x2="31.8" y2="528.6" stroke="#111" stroke-width="1.2"/>
<line x1="31.2" y1="528" x2="89" y2="528" stroke="#111" stroke-width="1.2"/>
<line x1="29.6" y1="528" x2="31.8" y2="528" stroke="#111" stroke-width="0.9"/>
<text x="23.03" y="530.66" font-size="7.4" text-anchor="middle" fill="#222">0</text>
<line x1="29.6" y1="509.07" x2="31.8" y2="509.07" stroke="#111" stroke-width="0.9"/>
<text x="23.03" y="511.73" font-size="7.4" text-anchor="middle" fill="#222">50</text>
<line x1="29.6" y1="490.13" x2="31.8" y2="490.13" stroke="#111" stroke-width="0.9"/>
<text x="23.03" y="492.8" font-size="7.4" text-anchor="middle" fill="#222">100</text>
<line x1="29.6" y1="471.2" x2="31.8" y2="471.2" stroke="#111" stroke-width="0.9"/>
<text x="23.03" y="473.86" font-size="7.4" text-anchor="middle" fill="#222">150</text>
<line x1="41.1" y1="528" x2="41.1" y2="530.8" stroke="#111" stroke-width="0.9"/>
<line x1="51.5" y1="528" x2="51.5" y2="530.8" stroke="#111" stroke-width="0.9"/>
<line x1="61.6" y1="528" x2="61.6" y2="530.8" stroke="#111" stroke-width="0.9"/>
<line x1="72.3" y1="528" x2="72.3" y2="530.8" stroke="#111" stroke-width="0.9"/>
<line x1="82.6" y1="528" x2="82.6" y2="530.8" stroke="#111" stroke-width="0.9"/>
<text x="45.3" y="536.4" font-size="6.5" text-anchor="end" fill="#222" transform="rotate(-45 45.3 536.4)">shNC</text>
<text x="55.7" y="536.4" font-size="6.5" text-anchor="end" fill="#222" transform="rotate(-45 55.7 536.4)">shHL-1</text>
<text x="65.8" y="536.4" font-size="6.5" text-anchor="end" fill="#222" transform="rotate(-45 65.8 536.4)">shHL-1_SC79</text>
<text x="76.5" y="536.4" font-size="6.5" text-anchor="end" fill="#222" transform="rotate(-45 76.5 536.4)">shHL-2</text>
<text x="86.8" y="536.4" font-size="6.5" text-anchor="end" fill="#222" transform="rotate(-45 86.8 536.4)">shHL-2_SC79</text>
<text x="98" y="460" font-size="8" text-anchor="middle">OVCAR3</text>
<text x="13" y="498" font-size="7.7" text-anchor="middle" transform="rotate(-90 13 498)">Glycolysis( % Control)</text>
<line x1="41.1" y1="475" x2="71.8" y2="475" stroke="#222" stroke-width="0.75"/>
<text x="57.25" y="474.1" font-size="5.2" text-anchor="middle" fill="#2a2a2a"><tspan font-style="italic">p</tspan> = 0.0002</text>
<line x1="41.1" y1="481.5" x2="51.5" y2="481.5" stroke="#222" stroke-width="0.75"/>
<text x="47.1" y="480.6" font-size="5.2" text-anchor="middle" fill="#2a2a2a"><tspan font-style="italic">p</tspan> = 0.0018</text>
<line x1="51.5" y1="489" x2="61.6" y2="489" stroke="#222" stroke-width="0.75"/>
<text x="57.35" y="488.1" font-size="5.2" text-anchor="middle" fill="#2a2a2a"><tspan font-style="italic">p</tspan> = 0.0363</text>
<line x1="72.3" y1="494.3" x2="82.6" y2="494.3" stroke="#222" stroke-width="0.75"/>
<text x="78.25" y="493.4" font-size="5.2" text-anchor="middle" fill="#2a2a2a"><tspan font-style="italic">p</tspan> = 0.0102</text>
<rect x="130.1" y="489.93" width="7.2" height="37.87" fill="#88a8dc"/>
<rect x="140.4" y="504.32" width="7.2" height="23.48" fill="#ec8088"/>
<rect x="150.9" y="495.61" width="7.2" height="32.19" fill="#98e098"/>
<rect x="161.4" y="509.62" width="7.2" height="18.18" fill="#b898d4"/>
<rect x="171.9" y="498.64" width="7.2" height="29.16" fill="#f0b880"/>
<line x1="133.7" y1="486.15" x2="133.7" y2="493.72" stroke="#111" stroke-width="0.9"/>
<line x1="132.1" y1="486.15" x2="135.3" y2="486.15" stroke="#111" stroke-width="0.9"/>
<line x1="132.1" y1="493.72" x2="135.3" y2="493.72" stroke="#111" stroke-width="0.9"/>
<circle cx="132.3" cy="489.31" r="1.1" fill="#111"/>
<circle cx="133.7" cy="489.76" r="1.1" fill="#111"/>
<circle cx="135.1" cy="490.64" r="1.1" fill="#111"/>
<line x1="144" y1="500.16" x2="144" y2="508.49" stroke="#111" stroke-width="0.9"/>
<line x1="142.4" y1="500.16" x2="145.6" y2="500.16" stroke="#111" stroke-width="0.9"/>
<line x1="142.4" y1="508.49" x2="145.6" y2="508.49" stroke="#111" stroke-width="0.9"/>
<circle cx="142.6" cy="506.71" r="1.1" fill="#111"/>
<circle cx="144" cy="504.72" r="1.1" fill="#111"/>
<circle cx="145.4" cy="506.79" r="1.1" fill="#111"/>
<line x1="154.5" y1="494.48" x2="154.5" y2="496.75" stroke="#111" stroke-width="0.9"/>
<line x1="152.9" y1="494.48" x2="156.1" y2="494.48" stroke="#111" stroke-width="0.9"/>
<line x1="152.9" y1="496.75" x2="156.1" y2="496.75" stroke="#111" stroke-width="0.9"/>
<circle cx="153.1" cy="495.15" r="1.1" fill="#111"/>
<circle cx="154.5" cy="495.2" r="1.1" fill="#111"/>
<circle cx="155.9" cy="495.15" r="1.1" fill="#111"/>
<line x1="165" y1="506.22" x2="165" y2="513.03" stroke="#111" stroke-width="0.9"/>
<line x1="163.4" y1="506.22" x2="166.6" y2="506.22" stroke="#111" stroke-width="0.9"/>
<line x1="163.4" y1="513.03" x2="166.6" y2="513.03" stroke="#111" stroke-width="0.9"/>
<circle cx="163.6" cy="510.64" r="1.1" fill="#111"/>
<circle cx="165" cy="510.76" r="1.1" fill="#111"/>
<circle cx="166.4" cy="509.79" r="1.1" fill="#111"/>
<line x1="175.5" y1="498.26" x2="175.5" y2="499.02" stroke="#111" stroke-width="0.9"/>
<line x1="173.9" y1="498.26" x2="177.1" y2="498.26" stroke="#111" stroke-width="0.9"/>
<line x1="173.9" y1="499.02" x2="177.1" y2="499.02" stroke="#111" stroke-width="0.9"/>
<circle cx="174.1" cy="498.65" r="1.1" fill="#111"/>
<circle cx="175.5" cy="498.41" r="1.1" fill="#111"/>
<circle cx="176.9" cy="498.8" r="1.1" fill="#111"/>
<line x1="126" y1="470.5" x2="126" y2="528.4" stroke="#111" stroke-width="1.2"/>
<line x1="125.4" y1="527.8" x2="183" y2="527.8" stroke="#111" stroke-width="1.2"/>
<line x1="123.8" y1="527.8" x2="126" y2="527.8" stroke="#111" stroke-width="0.9"/>
<text x="117.23" y="530.46" font-size="7.4" text-anchor="middle" fill="#222">0</text>
<line x1="123.8" y1="508.87" x2="126" y2="508.87" stroke="#111" stroke-width="0.9"/>
<text x="117.23" y="511.53" font-size="7.4" text-anchor="middle" fill="#222">50</text>
<line x1="123.8" y1="489.93" x2="126" y2="489.93" stroke="#111" stroke-width="0.9"/>
<text x="117.23" y="492.6" font-size="7.4" text-anchor="middle" fill="#222">100</text>
<line x1="123.8" y1="471" x2="126" y2="471" stroke="#111" stroke-width="0.9"/>
<text x="117.23" y="473.66" font-size="7.4" text-anchor="middle" fill="#222">150</text>
<line x1="133.7" y1="527.8" x2="133.7" y2="530.6" stroke="#111" stroke-width="0.9"/>
<line x1="144" y1="527.8" x2="144" y2="530.6" stroke="#111" stroke-width="0.9"/>
<line x1="154.5" y1="527.8" x2="154.5" y2="530.6" stroke="#111" stroke-width="0.9"/>
<line x1="165" y1="527.8" x2="165" y2="530.6" stroke="#111" stroke-width="0.9"/>
<line x1="175.5" y1="527.8" x2="175.5" y2="530.6" stroke="#111" stroke-width="0.9"/>
<text x="137.9" y="536.2" font-size="6.5" text-anchor="end" fill="#222" transform="rotate(-45 137.9 536.2)">shNC</text>
<text x="148.2" y="536.2" font-size="6.5" text-anchor="end" fill="#222" transform="rotate(-45 148.2 536.2)">shHL-1</text>
<text x="158.7" y="536.2" font-size="6.5" text-anchor="end" fill="#222" transform="rotate(-45 158.7 536.2)">shHL-1_SC79</text>
<text x="169.2" y="536.2" font-size="6.5" text-anchor="end" fill="#222" transform="rotate(-45 169.2 536.2)">shHL-2</text>
<text x="179.7" y="536.2" font-size="6.5" text-anchor="end" fill="#222" transform="rotate(-45 179.7 536.2)">shHL-2_SC79</text>
<text x="98.5" y="498" font-size="7.7" text-anchor="middle" transform="rotate(-90 98.5 498)">Glycolytic capacity</text>
<text x="107.5" y="498" font-size="7.7" text-anchor="middle" transform="rotate(-90 107.5 498)">( % Control)</text>
<line x1="133.7" y1="476.8" x2="165" y2="476.8" stroke="#222" stroke-width="0.75"/>
<text x="150.15" y="475.9" font-size="5.2" text-anchor="middle" fill="#2a2a2a"><tspan font-style="italic">p</tspan> = 0.0002</text>
<line x1="133.7" y1="483.1" x2="144" y2="483.1" stroke="#222" stroke-width="0.75"/>
<text x="139.65" y="482.2" font-size="5.2" text-anchor="middle" fill="#2a2a2a"><tspan font-style="italic">p</tspan> = 0.0013</text>
<line x1="144" y1="490.2" x2="154.5" y2="490.2" stroke="#222" stroke-width="0.75"/>
<text x="150.05" y="489.3" font-size="5.2" text-anchor="middle" fill="#2a2a2a"><tspan font-style="italic">p</tspan> = 0.0382</text>
<line x1="165" y1="495.2" x2="175.5" y2="495.2" stroke="#222" stroke-width="0.75"/>
<text x="171.05" y="494.3" font-size="5.2" text-anchor="middle" fill="#2a2a2a"><tspan font-style="italic">p</tspan> = 0.0155</text>
<rect x="214.5" y="489.93" width="7" height="37.87" fill="#88a8dc"/>
<rect x="225" y="503.94" width="7" height="23.86" fill="#ec8088"/>
<rect x="235" y="495.61" width="7" height="32.19" fill="#98e098"/>
<rect x="246" y="505.84" width="7" height="21.96" fill="#b898d4"/>
<rect x="256" y="496.37" width="7" height="31.43" fill="#f0b880"/>
<line x1="218" y1="487.66" x2="218" y2="492.21" stroke="#111" stroke-width="0.9"/>
<line x1="216.4" y1="487.66" x2="219.6" y2="487.66" stroke="#111" stroke-width="0.9"/>
<line x1="216.4" y1="492.21" x2="219.6" y2="492.21" stroke="#111" stroke-width="0.9"/>
<circle cx="216.6" cy="491" r="1.1" fill="#111"/>
<circle cx="218" cy="489.68" r="1.1" fill="#111"/>
<circle cx="219.4" cy="491.39" r="1.1" fill="#111"/>
<line x1="228.5" y1="503.57" x2="228.5" y2="504.32" stroke="#111" stroke-width="0.9"/>
<line x1="226.9" y1="503.57" x2="230.1" y2="503.57" stroke="#111" stroke-width="0.9"/>
<line x1="226.9" y1="504.32" x2="230.1" y2="504.32" stroke="#111" stroke-width="0.9"/>
<circle cx="227.1" cy="504.05" r="1.1" fill="#111"/>
<circle cx="228.5" cy="503.7" r="1.1" fill="#111"/>
<circle cx="229.9" cy="503.93" r="1.1" fill="#111"/>
<line x1="238.5" y1="494.86" x2="238.5" y2="496.37" stroke="#111" stroke-width="0.9"/>
<line x1="236.9" y1="494.86" x2="240.1" y2="494.86" stroke="#111" stroke-width="0.9"/>
<line x1="236.9" y1="496.37" x2="240.1" y2="496.37" stroke="#111" stroke-width="0.9"/>
<circle cx="237.1" cy="495.37" r="1.1" fill="#111"/>
<circle cx="238.5" cy="495.78" r="1.1" fill="#111"/>
<circle cx="239.9" cy="495.42" r="1.1" fill="#111"/>
<line x1="249.5" y1="502.81" x2="249.5" y2="508.87" stroke="#111" stroke-width="0.9"/>
<line x1="247.9" y1="502.81" x2="251.1" y2="502.81" stroke="#111" stroke-width="0.9"/>
<line x1="247.9" y1="508.87" x2="251.1" y2="508.87" stroke="#111" stroke-width="0.9"/>
<circle cx="248.1" cy="503.89" r="1.1" fill="#111"/>
<circle cx="249.5" cy="506.78" r="1.1" fill="#111"/>
<circle cx="250.9" cy="506.39" r="1.1" fill="#111"/>
<line x1="259.5" y1="494.1" x2="259.5" y2="498.64" stroke="#111" stroke-width="0.9"/>
<line x1="257.9" y1="494.1" x2="261.1" y2="494.1" stroke="#111" stroke-width="0.9"/>
<line x1="257.9" y1="498.64" x2="261.1" y2="498.64" stroke="#111" stroke-width="0.9"/>
<circle cx="258.1" cy="495.24" r="1.1" fill="#111"/>
<circle cx="259.5" cy="497.18" r="1.1" fill="#111"/>
<circle cx="260.9" cy="496.28" r="1.1" fill="#111"/>
<line x1="211" y1="470.5" x2="211" y2="528.4" stroke="#111" stroke-width="1.2"/>
<line x1="210.4" y1="527.8" x2="264" y2="527.8" stroke="#111" stroke-width="1.2"/>
<line x1="208.8" y1="527.8" x2="211" y2="527.8" stroke="#111" stroke-width="0.9"/>
<text x="202.23" y="530.46" font-size="7.4" text-anchor="middle" fill="#222">0</text>
<line x1="208.8" y1="508.87" x2="211" y2="508.87" stroke="#111" stroke-width="0.9"/>
<text x="202.23" y="511.53" font-size="7.4" text-anchor="middle" fill="#222">50</text>
<line x1="208.8" y1="489.93" x2="211" y2="489.93" stroke="#111" stroke-width="0.9"/>
<text x="202.23" y="492.6" font-size="7.4" text-anchor="middle" fill="#222">100</text>
<line x1="208.8" y1="471" x2="211" y2="471" stroke="#111" stroke-width="0.9"/>
<text x="202.23" y="473.66" font-size="7.4" text-anchor="middle" fill="#222">150</text>
<line x1="218" y1="527.8" x2="218" y2="530.6" stroke="#111" stroke-width="0.9"/>
<line x1="228.5" y1="527.8" x2="228.5" y2="530.6" stroke="#111" stroke-width="0.9"/>
<line x1="238.5" y1="527.8" x2="238.5" y2="530.6" stroke="#111" stroke-width="0.9"/>
<line x1="249.5" y1="527.8" x2="249.5" y2="530.6" stroke="#111" stroke-width="0.9"/>
<line x1="259.5" y1="527.8" x2="259.5" y2="530.6" stroke="#111" stroke-width="0.9"/>
<text x="222.2" y="536.2" font-size="6.5" text-anchor="end" fill="#222" transform="rotate(-45 222.2 536.2)">shNC</text>
<text x="232.7" y="536.2" font-size="6.5" text-anchor="end" fill="#222" transform="rotate(-45 232.7 536.2)">shHL-1</text>
<text x="242.7" y="536.2" font-size="6.5" text-anchor="end" fill="#222" transform="rotate(-45 242.7 536.2)">shHL-1_SC79</text>
<text x="253.7" y="536.2" font-size="6.5" text-anchor="end" fill="#222" transform="rotate(-45 253.7 536.2)">shHL-2</text>
<text x="263.7" y="536.2" font-size="6.5" text-anchor="end" fill="#222" transform="rotate(-45 263.7 536.2)">shHL-2_SC79</text>
<text x="267" y="460" font-size="8" text-anchor="middle">SKOV3</text>
<text x="190.5" y="498" font-size="7.7" text-anchor="middle" transform="rotate(-90 190.5 498)">Glycolysis( % Control)</text>
<line x1="218" y1="477.2" x2="249.5" y2="477.2" stroke="#222" stroke-width="0.75"/>
<text x="234.55" y="476.3" font-size="5.2" text-anchor="middle" fill="#2a2a2a"><tspan font-style="italic">p</tspan> &lt; 0.0001</text>
<line x1="218" y1="482.7" x2="228.5" y2="482.7" stroke="#222" stroke-width="0.75"/>
<text x="224.05" y="481.8" font-size="5.2" text-anchor="middle" fill="#2a2a2a"><tspan font-style="italic">p</tspan> &lt; 0.0001</text>
<line x1="228.5" y1="492.5" x2="238.5" y2="492.5" stroke="#222" stroke-width="0.75"/>
<text x="234.3" y="491.6" font-size="5.2" text-anchor="middle" fill="#2a2a2a"><tspan font-style="italic">p</tspan> = 0.0036</text>
<line x1="249.5" y1="488" x2="259.5" y2="488" stroke="#222" stroke-width="0.75"/>
<text x="255.3" y="487.1" font-size="5.2" text-anchor="middle" fill="#2a2a2a"><tspan font-style="italic">p</tspan> = 0.0014</text>
<rect x="307" y="490" width="7.4" height="38" fill="#88a8dc"/>
<rect x="317.6" y="507.1" width="7.4" height="20.9" fill="#ec8088"/>
<rect x="327.8" y="496.46" width="7.4" height="31.54" fill="#98e098"/>
<rect x="338.3" y="509.76" width="7.4" height="18.24" fill="#b898d4"/>
<rect x="348.8" y="496.46" width="7.4" height="31.54" fill="#f0b880"/>
<line x1="310.7" y1="487.34" x2="310.7" y2="492.66" stroke="#111" stroke-width="0.9"/>
<line x1="309.1" y1="487.34" x2="312.3" y2="487.34" stroke="#111" stroke-width="0.9"/>
<line x1="309.1" y1="492.66" x2="312.3" y2="492.66" stroke="#111" stroke-width="0.9"/>
<circle cx="309.3" cy="491.1" r="1.1" fill="#111"/>
<circle cx="310.7" cy="490.21" r="1.1" fill="#111"/>
<circle cx="312.1" cy="490.91" r="1.1" fill="#111"/>
<line x1="321.3" y1="506.72" x2="321.3" y2="507.48" stroke="#111" stroke-width="0.9"/>
<line x1="319.7" y1="506.72" x2="322.9" y2="506.72" stroke="#111" stroke-width="0.9"/>
<line x1="319.7" y1="507.48" x2="322.9" y2="507.48" stroke="#111" stroke-width="0.9"/>
<circle cx="319.9" cy="507.26" r="1.1" fill="#111"/>
<circle cx="321.3" cy="506.88" r="1.1" fill="#111"/>
<circle cx="322.7" cy="506.94" r="1.1" fill="#111"/>
<line x1="331.5" y1="495.7" x2="331.5" y2="497.22" stroke="#111" stroke-width="0.9"/>
<line x1="329.9" y1="495.7" x2="333.1" y2="495.7" stroke="#111" stroke-width="0.9"/>
<line x1="329.9" y1="497.22" x2="333.1" y2="497.22" stroke="#111" stroke-width="0.9"/>
<circle cx="330.1" cy="496.65" r="1.1" fill="#111"/>
<circle cx="331.5" cy="496.02" r="1.1" fill="#111"/>
<circle cx="332.9" cy="496.27" r="1.1" fill="#111"/>
<line x1="342" y1="507.1" x2="342" y2="512.42" stroke="#111" stroke-width="0.9"/>
<line x1="340.4" y1="507.1" x2="343.6" y2="507.1" stroke="#111" stroke-width="0.9"/>
<line x1="340.4" y1="512.42" x2="343.6" y2="512.42" stroke="#111" stroke-width="0.9"/>
<circle cx="340.6" cy="509.93" r="1.1" fill="#111"/>
<circle cx="342" cy="511.2" r="1.1" fill="#111"/>
<circle cx="343.4" cy="509.07" r="1.1" fill="#111"/>
<line x1="352.5" y1="494.18" x2="352.5" y2="498.74" stroke="#111" stroke-width="0.9"/>
<line x1="350.9" y1="494.18" x2="354.1" y2="494.18" stroke="#111" stroke-width="0.9"/>
<line x1="350.9" y1="498.74" x2="354.1" y2="498.74" stroke="#111" stroke-width="0.9"/>
<circle cx="351.1" cy="495.17" r="1.1" fill="#111"/>
<circle cx="352.5" cy="496.81" r="1.1" fill="#111"/>
<circle cx="353.9" cy="495.17" r="1.1" fill="#111"/>
<line x1="302.4" y1="470.5" x2="302.4" y2="528.6" stroke="#111" stroke-width="1.2"/>
<line x1="301.8" y1="528" x2="357" y2="528" stroke="#111" stroke-width="1.2"/>
<line x1="300.2" y1="528" x2="302.4" y2="528" stroke="#111" stroke-width="0.9"/>
<text x="293.63" y="530.66" font-size="7.4" text-anchor="middle" fill="#222">0</text>
<line x1="300.2" y1="509" x2="302.4" y2="509" stroke="#111" stroke-width="0.9"/>
<text x="293.63" y="511.66" font-size="7.4" text-anchor="middle" fill="#222">50</text>
<line x1="300.2" y1="490" x2="302.4" y2="490" stroke="#111" stroke-width="0.9"/>
<text x="293.63" y="492.66" font-size="7.4" text-anchor="middle" fill="#222">100</text>
<line x1="300.2" y1="471" x2="302.4" y2="471" stroke="#111" stroke-width="0.9"/>
<text x="293.63" y="473.66" font-size="7.4" text-anchor="middle" fill="#222">150</text>
<line x1="310.7" y1="528" x2="310.7" y2="530.8" stroke="#111" stroke-width="0.9"/>
<line x1="321.3" y1="528" x2="321.3" y2="530.8" stroke="#111" stroke-width="0.9"/>
<line x1="331.5" y1="528" x2="331.5" y2="530.8" stroke="#111" stroke-width="0.9"/>
<line x1="342" y1="528" x2="342" y2="530.8" stroke="#111" stroke-width="0.9"/>
<line x1="352.5" y1="528" x2="352.5" y2="530.8" stroke="#111" stroke-width="0.9"/>
<text x="314.9" y="536.4" font-size="6.5" text-anchor="end" fill="#222" transform="rotate(-45 314.9 536.4)">shNC</text>
<text x="325.5" y="536.4" font-size="6.5" text-anchor="end" fill="#222" transform="rotate(-45 325.5 536.4)">shHL-1</text>
<text x="335.7" y="536.4" font-size="6.5" text-anchor="end" fill="#222" transform="rotate(-45 335.7 536.4)">shHL-1_SC79</text>
<text x="346.2" y="536.4" font-size="6.5" text-anchor="end" fill="#222" transform="rotate(-45 346.2 536.4)">shHL-2</text>
<text x="356.7" y="536.4" font-size="6.5" text-anchor="end" fill="#222" transform="rotate(-45 356.7 536.4)">shHL-2_SC79</text>
<text x="275.8" y="498" font-size="7.7" text-anchor="middle" transform="rotate(-90 275.8 498)">Glycolytic capacity</text>
<text x="284.8" y="498" font-size="7.7" text-anchor="middle" transform="rotate(-90 284.8 498)">( % Control)</text>
<line x1="310.7" y1="477.2" x2="342" y2="477.2" stroke="#222" stroke-width="0.75"/>
<text x="327.15" y="476.3" font-size="5.2" text-anchor="middle" fill="#2a2a2a"><tspan font-style="italic">p</tspan> &lt; 0.0001</text>
<line x1="310.7" y1="483" x2="321.3" y2="483" stroke="#222" stroke-width="0.75"/>
<text x="316.8" y="482.1" font-size="5.2" text-anchor="middle" fill="#2a2a2a"><tspan font-style="italic">p</tspan> &lt; 0.0001</text>
<line x1="321.3" y1="492.5" x2="331.5" y2="492.5" stroke="#222" stroke-width="0.75"/>
<text x="327.2" y="491.6" font-size="5.2" text-anchor="middle" fill="#2a2a2a"><tspan font-style="italic">p</tspan> = 0.0020</text>
<line x1="342" y1="488" x2="352.5" y2="488" stroke="#222" stroke-width="0.75"/>
<text x="348.05" y="487.1" font-size="5.2" text-anchor="middle" fill="#2a2a2a"><tspan font-style="italic">p</tspan> = 0.0003</text>
<rect x="39" y="606.67" width="8.4" height="37.33" fill="#88a8dc"/>
<rect x="51.6" y="598.83" width="8.4" height="45.17" fill="#ec8088"/>
<rect x="64" y="609.28" width="8.4" height="34.72" fill="#98e098"/>
<rect x="77" y="621.23" width="8.6" height="22.77" fill="#b898d4"/>
<line x1="43.2" y1="605.17" x2="43.2" y2="608.16" stroke="#111" stroke-width="0.9"/>
<line x1="41.6" y1="605.17" x2="44.8" y2="605.17" stroke="#111" stroke-width="0.9"/>
<line x1="41.6" y1="608.16" x2="44.8" y2="608.16" stroke="#111" stroke-width="0.9"/>
<circle cx="41.8" cy="606.49" r="1.1" fill="#111"/>
<circle cx="43.2" cy="606.32" r="1.1" fill="#111"/>
<circle cx="44.6" cy="607.58" r="1.1" fill="#111"/>
<line x1="55.8" y1="595.47" x2="55.8" y2="602.19" stroke="#111" stroke-width="0.9"/>
<line x1="54.2" y1="595.47" x2="57.4" y2="595.47" stroke="#111" stroke-width="0.9"/>
<line x1="54.2" y1="602.19" x2="57.4" y2="602.19" stroke="#111" stroke-width="0.9"/>
<circle cx="54.4" cy="596.76" r="1.1" fill="#111"/>
<circle cx="55.8" cy="597.4" r="1.1" fill="#111"/>
<circle cx="57.2" cy="598.95" r="1.1" fill="#111"/>
<line x1="68.2" y1="608.53" x2="68.2" y2="610.03" stroke="#111" stroke-width="0.9"/>
<line x1="66.6" y1="608.53" x2="69.8" y2="608.53" stroke="#111" stroke-width="0.9"/>
<line x1="66.6" y1="610.03" x2="69.8" y2="610.03" stroke="#111" stroke-width="0.9"/>
<circle cx="66.8" cy="609.63" r="1.1" fill="#111"/>
<circle cx="68.2" cy="609.56" r="1.1" fill="#111"/>
<circle cx="69.6" cy="609.33" r="1.1" fill="#111"/>
<line x1="81.3" y1="620.48" x2="81.3" y2="621.97" stroke="#111" stroke-width="0.9"/>
<line x1="79.7" y1="620.48" x2="82.9" y2="620.48" stroke="#111" stroke-width="0.9"/>
<line x1="79.7" y1="621.97" x2="82.9" y2="621.97" stroke="#111" stroke-width="0.9"/>
<circle cx="79.9" cy="621.44" r="1.1" fill="#111"/>
<circle cx="81.3" cy="621.54" r="1.1" fill="#111"/>
<circle cx="82.7" cy="621.15" r="1.1" fill="#111"/>
<line x1="34" y1="587.5" x2="34" y2="644.6" stroke="#111" stroke-width="1.2"/>
<line x1="33.4" y1="644" x2="90" y2="644" stroke="#111" stroke-width="1.2"/>
<line x1="31.8" y1="644" x2="34" y2="644" stroke="#111" stroke-width="0.9"/>
<text x="25.23" y="646.66" font-size="7.4" text-anchor="middle" fill="#222">0</text>
<line x1="31.8" y1="625.33" x2="34" y2="625.33" stroke="#111" stroke-width="0.9"/>
<text x="25.23" y="628" font-size="7.4" text-anchor="middle" fill="#222">50</text>
<line x1="31.8" y1="606.67" x2="34" y2="606.67" stroke="#111" stroke-width="0.9"/>
<text x="25.23" y="609.33" font-size="7.4" text-anchor="middle" fill="#222">100</text>
<line x1="31.8" y1="588" x2="34" y2="588" stroke="#111" stroke-width="0.9"/>
<text x="25.23" y="590.66" font-size="7.4" text-anchor="middle" fill="#222">150</text>
<line x1="43.2" y1="644" x2="43.2" y2="647.2" stroke="#111" stroke-width="0.9"/>
<line x1="55.8" y1="644" x2="55.8" y2="647.2" stroke="#111" stroke-width="0.9"/>
<line x1="68.2" y1="644" x2="68.2" y2="647.2" stroke="#111" stroke-width="0.9"/>
<line x1="81.3" y1="644" x2="81.3" y2="647.2" stroke="#111" stroke-width="0.9"/>
<text x="47.3" y="652.6" font-size="6.5" text-anchor="end" fill="#222" transform="rotate(-45 47.3 652.6)">Control</text>
<text x="59.9" y="652.6" font-size="6.5" text-anchor="end" fill="#222" transform="rotate(-45 59.9 652.6)">hnRNPL</text>
<text x="72.3" y="652.6" font-size="6.5" text-anchor="end" fill="#222" transform="rotate(-45 72.3 652.6)">hnRNPL+TGX221</text>
<text x="85.4" y="652.6" font-size="6.5" text-anchor="end" fill="#222" transform="rotate(-45 85.4 652.6)">hnRNPL+PI 103</text>
<text x="100" y="576" font-size="8" text-anchor="middle">OVCAR3</text>
<text x="14" y="614" font-size="7.7" text-anchor="middle" transform="rotate(-90 14 614)">Glycolysis( % Control)</text>
<line x1="43.2" y1="591.6" x2="55.8" y2="591.6" stroke="#222" stroke-width="0.75"/>
<text x="50.3" y="590.7" font-size="5.2" text-anchor="middle" fill="#2a2a2a"><tspan font-style="italic">p</tspan> = 0.0069</text>
<line x1="55.8" y1="586" x2="68.2" y2="586" stroke="#222" stroke-width="0.75"/>
<text x="62.8" y="585.1" font-size="5.2" text-anchor="middle" fill="#2a2a2a"><tspan font-style="italic">p</tspan> = 0.0015</text>
<line x1="55.8" y1="580" x2="81.3" y2="580" stroke="#222" stroke-width="0.75"/>
<text x="69.35" y="579.1" font-size="5.2" text-anchor="middle" fill="#2a2a2a"><tspan font-style="italic">p</tspan> &lt; 0.0001</text>
<rect x="133.7" y="606.67" width="8.6" height="37.33" fill="#88a8dc"/>
<rect x="146.4" y="596.59" width="8.6" height="47.41" fill="#ec8088"/>
<rect x="159" y="608.53" width="8.6" height="35.47" fill="#98e098"/>
<rect x="171.7" y="621.97" width="8.6" height="22.03" fill="#b898d4"/>
<line x1="138" y1="605.55" x2="138" y2="607.79" stroke="#111" stroke-width="0.9"/>
<line x1="136.4" y1="605.55" x2="139.6" y2="605.55" stroke="#111" stroke-width="0.9"/>
<line x1="136.4" y1="607.79" x2="139.6" y2="607.79" stroke="#111" stroke-width="0.9"/>
<circle cx="136.6" cy="606.42" r="1.1" fill="#111"/>
<circle cx="138" cy="606.53" r="1.1" fill="#111"/>
<circle cx="139.4" cy="606.25" r="1.1" fill="#111"/>
<line x1="150.7" y1="592.85" x2="150.7" y2="600.32" stroke="#111" stroke-width="0.9"/>
<line x1="149.1" y1="592.85" x2="152.3" y2="592.85" stroke="#111" stroke-width="0.9"/>
<line x1="149.1" y1="600.32" x2="152.3" y2="600.32" stroke="#111" stroke-width="0.9"/>
<circle cx="149.3" cy="599.2" r="1.1" fill="#111"/>
<circle cx="150.7" cy="596.36" r="1.1" fill="#111"/>
<circle cx="152.1" cy="597.65" r="1.1" fill="#111"/>
<line x1="163.3" y1="607.41" x2="163.3" y2="609.65" stroke="#111" stroke-width="0.9"/>
<line x1="161.7" y1="607.41" x2="164.9" y2="607.41" stroke="#111" stroke-width="0.9"/>
<line x1="161.7" y1="609.65" x2="164.9" y2="609.65" stroke="#111" stroke-width="0.9"/>
<circle cx="161.9" cy="608.62" r="1.1" fill="#111"/>
<circle cx="163.3" cy="608.89" r="1.1" fill="#111"/>
<circle cx="164.7" cy="609.21" r="1.1" fill="#111"/>
<line x1="176" y1="620.85" x2="176" y2="623.09" stroke="#111" stroke-width="0.9"/>
<line x1="174.4" y1="620.85" x2="177.6" y2="620.85" stroke="#111" stroke-width="0.9"/>
<line x1="174.4" y1="623.09" x2="177.6" y2="623.09" stroke="#111" stroke-width="0.9"/>
<circle cx="174.6" cy="622.63" r="1.1" fill="#111"/>
<circle cx="176" cy="621.38" r="1.1" fill="#111"/>
<circle cx="177.4" cy="622.27" r="1.1" fill="#111"/>
<line x1="129" y1="587.5" x2="129" y2="644.6" stroke="#111" stroke-width="1.2"/>
<line x1="128.4" y1="644" x2="184" y2="644" stroke="#111" stroke-width="1.2"/>
<line x1="126.8" y1="644" x2="129" y2="644" stroke="#111" stroke-width="0.9"/>
<text x="120.23" y="646.66" font-size="7.4" text-anchor="middle" fill="#222">0</text>
<line x1="126.8" y1="625.33" x2="129" y2="625.33" stroke="#111" stroke-width="0.9"/>
<text x="120.23" y="628" font-size="7.4" text-anchor="middle" fill="#222">50</text>
<line x1="126.8" y1="606.67" x2="129" y2="606.67" stroke="#111" stroke-width="0.9"/>
<text x="120.23" y="609.33" font-size="7.4" text-anchor="middle" fill="#222">100</text>
<line x1="126.8" y1="588" x2="129" y2="588" stroke="#111" stroke-width="0.9"/>
<text x="120.23" y="590.66" font-size="7.4" text-anchor="middle" fill="#222">150</text>
<line x1="138" y1="644" x2="138" y2="647.2" stroke="#111" stroke-width="0.9"/>
<line x1="150.7" y1="644" x2="150.7" y2="647.2" stroke="#111" stroke-width="0.9"/>
<line x1="163.3" y1="644" x2="163.3" y2="647.2" stroke="#111" stroke-width="0.9"/>
<line x1="176" y1="644" x2="176" y2="647.2" stroke="#111" stroke-width="0.9"/>
<text x="142.1" y="652.6" font-size="6.5" text-anchor="end" fill="#222" transform="rotate(-45 142.1 652.6)">Control</text>
<text x="154.8" y="652.6" font-size="6.5" text-anchor="end" fill="#222" transform="rotate(-45 154.8 652.6)">hnRNPL</text>
<text x="167.4" y="652.6" font-size="6.5" text-anchor="end" fill="#222" transform="rotate(-45 167.4 652.6)">hnRNPL+TGX221</text>
<text x="180.1" y="652.6" font-size="6.5" text-anchor="end" fill="#222" transform="rotate(-45 180.1 652.6)">hnRNPL+PI 103</text>
<text x="101.5" y="612.5" font-size="7.7" text-anchor="middle" transform="rotate(-90 101.5 612.5)">Glycolytic capacity</text>
<text x="110.8" y="612.5" font-size="7.7" text-anchor="middle" transform="rotate(-90 110.8 612.5)">( % Control)</text>
<line x1="138" y1="589.6" x2="150.7" y2="589.6" stroke="#222" stroke-width="0.75"/>
<text x="145.15" y="588.7" font-size="5.2" text-anchor="middle" fill="#2a2a2a"><tspan font-style="italic">p</tspan> = 0.0058</text>
<line x1="150.7" y1="583" x2="163.3" y2="583" stroke="#222" stroke-width="0.75"/>
<text x="157.8" y="582.1" font-size="5.2" text-anchor="middle" fill="#2a2a2a"><tspan font-style="italic">p</tspan> = 0.0022</text>
<line x1="150.7" y1="576.4" x2="176" y2="576.4" stroke="#222" stroke-width="0.75"/>
<text x="164.15" y="575.5" font-size="5.2" text-anchor="middle" fill="#2a2a2a"><tspan font-style="italic">p</tspan> &lt; 0.0001</text>
<rect x="217.4" y="616" width="8.6" height="28" fill="#88a8dc"/>
<rect x="230" y="606.48" width="8.6" height="37.52" fill="#ec8088"/>
<rect x="242.9" y="616.56" width="8.6" height="27.44" fill="#98e098"/>
<rect x="255.5" y="621.6" width="8.6" height="22.4" fill="#b898d4"/>
<line x1="221.7" y1="612.64" x2="221.7" y2="619.36" stroke="#111" stroke-width="0.9"/>
<line x1="220.1" y1="612.64" x2="223.3" y2="612.64" stroke="#111" stroke-width="0.9"/>
<line x1="220.1" y1="619.36" x2="223.3" y2="619.36" stroke="#111" stroke-width="0.9"/>
<circle cx="220.3" cy="617.51" r="1.1" fill="#111"/>
<circle cx="221.7" cy="617.8" r="1.1" fill="#111"/>
<circle cx="223.1" cy="617.47" r="1.1" fill="#111"/>
<line x1="234.3" y1="604.8" x2="234.3" y2="608.16" stroke="#111" stroke-width="0.9"/>
<line x1="232.7" y1="604.8" x2="235.9" y2="604.8" stroke="#111" stroke-width="0.9"/>
<line x1="232.7" y1="608.16" x2="235.9" y2="608.16" stroke="#111" stroke-width="0.9"/>
<circle cx="232.9" cy="606.27" r="1.1" fill="#111"/>
<circle cx="234.3" cy="606.23" r="1.1" fill="#111"/>
<circle cx="235.7" cy="606.68" r="1.1" fill="#111"/>
<line x1="247.2" y1="613.2" x2="247.2" y2="619.92" stroke="#111" stroke-width="0.9"/>
<line x1="245.6" y1="613.2" x2="248.8" y2="613.2" stroke="#111" stroke-width="0.9"/>
<line x1="245.6" y1="619.92" x2="248.8" y2="619.92" stroke="#111" stroke-width="0.9"/>
<circle cx="245.8" cy="616.24" r="1.1" fill="#111"/>
<circle cx="247.2" cy="616.54" r="1.1" fill="#111"/>
<circle cx="248.6" cy="617.39" r="1.1" fill="#111"/>
<line x1="259.8" y1="619.36" x2="259.8" y2="623.84" stroke="#111" stroke-width="0.9"/>
<line x1="258.2" y1="619.36" x2="261.4" y2="619.36" stroke="#111" stroke-width="0.9"/>
<line x1="258.2" y1="623.84" x2="261.4" y2="623.84" stroke="#111" stroke-width="0.9"/>
<circle cx="258.4" cy="620.12" r="1.1" fill="#111"/>
<circle cx="259.8" cy="621.65" r="1.1" fill="#111"/>
<circle cx="261.2" cy="620.97" r="1.1" fill="#111"/>
<line x1="211" y1="587.5" x2="211" y2="644.6" stroke="#111" stroke-width="1.2"/>
<line x1="210.4" y1="644" x2="268" y2="644" stroke="#111" stroke-width="1.2"/>
<line x1="208.8" y1="644" x2="211" y2="644" stroke="#111" stroke-width="0.9"/>
<text x="202.23" y="646.66" font-size="7.4" text-anchor="middle" fill="#222">50</text>
<line x1="208.8" y1="616" x2="211" y2="616" stroke="#111" stroke-width="0.9"/>
<text x="202.23" y="618.66" font-size="7.4" text-anchor="middle" fill="#222">100</text>
<line x1="208.8" y1="588" x2="211" y2="588" stroke="#111" stroke-width="0.9"/>
<text x="202.23" y="590.66" font-size="7.4" text-anchor="middle" fill="#222">150</text>
<line x1="221.7" y1="644" x2="221.7" y2="647.2" stroke="#111" stroke-width="0.9"/>
<line x1="234.3" y1="644" x2="234.3" y2="647.2" stroke="#111" stroke-width="0.9"/>
<line x1="247.2" y1="644" x2="247.2" y2="647.2" stroke="#111" stroke-width="0.9"/>
<line x1="259.8" y1="644" x2="259.8" y2="647.2" stroke="#111" stroke-width="0.9"/>
<text x="225.8" y="652.6" font-size="6.5" text-anchor="end" fill="#222" transform="rotate(-45 225.8 652.6)">Control</text>
<text x="238.4" y="652.6" font-size="6.5" text-anchor="end" fill="#222" transform="rotate(-45 238.4 652.6)">hnRNPL</text>
<text x="251.3" y="652.6" font-size="6.5" text-anchor="end" fill="#222" transform="rotate(-45 251.3 652.6)">hnRNPL+TGX221</text>
<text x="263.9" y="652.6" font-size="6.5" text-anchor="end" fill="#222" transform="rotate(-45 263.9 652.6)">hnRNPL+PI 103</text>
<text x="268" y="575" font-size="8" text-anchor="middle">SKOV3</text>
<text x="192" y="614" font-size="7.7" text-anchor="middle" transform="rotate(-90 192 614)">Glycolysis( % Control)</text>
<line x1="221.7" y1="599" x2="234.3" y2="599" stroke="#222" stroke-width="0.75"/>
<text x="228.8" y="598.1" font-size="5.2" text-anchor="middle" fill="#2a2a2a"><tspan font-style="italic">p</tspan> = 0.0212</text>
<line x1="234.3" y1="593" x2="247.2" y2="593" stroke="#222" stroke-width="0.75"/>
<text x="241.55" y="592.1" font-size="5.2" text-anchor="middle" fill="#2a2a2a"><tspan font-style="italic">p</tspan> = 0.0154</text>
<line x1="234.3" y1="586" x2="259.8" y2="586" stroke="#222" stroke-width="0.75"/>
<text x="247.85" y="585.1" font-size="5.2" text-anchor="middle" fill="#2a2a2a"><tspan font-style="italic">p</tspan> = 0.0016</text>
<rect x="312.4" y="602.57" width="8.6" height="41.43" fill="#88a8dc"/>
<rect x="325.5" y="590.97" width="8.6" height="53.03" fill="#ec8088"/>
<rect x="338.4" y="607.96" width="8.6" height="36.04" fill="#98e098"/>
<rect x="351" y="612.51" width="8.6" height="31.49" fill="#b898d4"/>
<line x1="316.7" y1="597.6" x2="316.7" y2="607.54" stroke="#111" stroke-width="0.9"/>
<line x1="315.1" y1="597.6" x2="318.3" y2="597.6" stroke="#111" stroke-width="0.9"/>
<line x1="315.1" y1="607.54" x2="318.3" y2="607.54" stroke="#111" stroke-width="0.9"/>
<circle cx="315.3" cy="605.38" r="1.1" fill="#111"/>
<circle cx="316.7" cy="599.37" r="1.1" fill="#111"/>
<circle cx="318.1" cy="605.35" r="1.1" fill="#111"/>
<line x1="329.8" y1="589.73" x2="329.8" y2="592.21" stroke="#111" stroke-width="0.9"/>
<line x1="328.2" y1="589.73" x2="331.4" y2="589.73" stroke="#111" stroke-width="0.9"/>
<line x1="328.2" y1="592.21" x2="331.4" y2="592.21" stroke="#111" stroke-width="0.9"/>
<circle cx="328.4" cy="590.97" r="1.1" fill="#111"/>
<circle cx="329.8" cy="590.59" r="1.1" fill="#111"/>
<circle cx="331.2" cy="590.41" r="1.1" fill="#111"/>
<line x1="342.7" y1="602.16" x2="342.7" y2="613.76" stroke="#111" stroke-width="0.9"/>
<line x1="341.1" y1="602.16" x2="344.3" y2="602.16" stroke="#111" stroke-width="0.9"/>
<line x1="341.1" y1="613.76" x2="344.3" y2="613.76" stroke="#111" stroke-width="0.9"/>
<circle cx="341.3" cy="608.32" r="1.1" fill="#111"/>
<circle cx="342.7" cy="611.1" r="1.1" fill="#111"/>
<circle cx="344.1" cy="606.46" r="1.1" fill="#111"/>
<line x1="355.3" y1="609.2" x2="355.3" y2="615.83" stroke="#111" stroke-width="0.9"/>
<line x1="353.7" y1="609.2" x2="356.9" y2="609.2" stroke="#111" stroke-width="0.9"/>
<line x1="353.7" y1="615.83" x2="356.9" y2="615.83" stroke="#111" stroke-width="0.9"/>
<circle cx="353.9" cy="610.64" r="1.1" fill="#111"/>
<circle cx="355.3" cy="610.4" r="1.1" fill="#111"/>
<circle cx="356.7" cy="611.57" r="1.1" fill="#111"/>
<line x1="308" y1="585.5" x2="308" y2="644.6" stroke="#111" stroke-width="1.2"/>
<line x1="307.4" y1="644" x2="365" y2="644" stroke="#111" stroke-width="1.2"/>
<line x1="305.8" y1="635.71" x2="308" y2="635.71" stroke="#111" stroke-width="0.9"/>
<text x="299.23" y="638.38" font-size="7.4" text-anchor="middle" fill="#222">60</text>
<line x1="305.8" y1="619.14" x2="308" y2="619.14" stroke="#111" stroke-width="0.9"/>
<text x="299.23" y="621.81" font-size="7.4" text-anchor="middle" fill="#222">80</text>
<line x1="305.8" y1="602.57" x2="308" y2="602.57" stroke="#111" stroke-width="0.9"/>
<text x="299.23" y="605.24" font-size="7.4" text-anchor="middle" fill="#222">100</text>
<line x1="305.8" y1="586" x2="308" y2="586" stroke="#111" stroke-width="0.9"/>
<text x="299.23" y="588.66" font-size="7.4" text-anchor="middle" fill="#222">120</text>
<line x1="316.7" y1="644" x2="316.7" y2="647.2" stroke="#111" stroke-width="0.9"/>
<line x1="329.8" y1="644" x2="329.8" y2="647.2" stroke="#111" stroke-width="0.9"/>
<line x1="342.7" y1="644" x2="342.7" y2="647.2" stroke="#111" stroke-width="0.9"/>
<line x1="355.3" y1="644" x2="355.3" y2="647.2" stroke="#111" stroke-width="0.9"/>
<text x="320.8" y="652.6" font-size="6.5" text-anchor="end" fill="#222" transform="rotate(-45 320.8 652.6)">Control</text>
<text x="333.9" y="652.6" font-size="6.5" text-anchor="end" fill="#222" transform="rotate(-45 333.9 652.6)">hnRNPL</text>
<text x="346.8" y="652.6" font-size="6.5" text-anchor="end" fill="#222" transform="rotate(-45 346.8 652.6)">hnRNPL+TGX221</text>
<text x="359.4" y="652.6" font-size="6.5" text-anchor="end" fill="#222" transform="rotate(-45 359.4 652.6)">hnRNPL+PI 103</text>
<text x="280.5" y="612.5" font-size="7.7" text-anchor="middle" transform="rotate(-90 280.5 612.5)">Glycolytic capacity</text>
<text x="289.8" y="612.5" font-size="7.7" text-anchor="middle" transform="rotate(-90 289.8 612.5)">( % Control)</text>
<line x1="316.7" y1="585.6" x2="329.8" y2="585.6" stroke="#222" stroke-width="0.75"/>
<text x="324.05" y="584.7" font-size="5.2" text-anchor="middle" fill="#2a2a2a"><tspan font-style="italic">p</tspan> = 0.0023</text>
<line x1="329.8" y1="579.4" x2="342.7" y2="579.4" stroke="#222" stroke-width="0.75"/>
<text x="337.05" y="578.5" font-size="5.2" text-anchor="middle" fill="#2a2a2a"><tspan font-style="italic">p</tspan> = 0.0054</text>
<line x1="329.8" y1="573" x2="355.3" y2="573" stroke="#222" stroke-width="0.75"/>
<text x="343.35" y="572.1" font-size="5.2" text-anchor="middle" fill="#2a2a2a"><tspan font-style="italic">p</tspan> = 0.0011</text>
<line x1="263.5" y1="68.2" x2="263.5" y2="68.8" stroke="#e8606c" stroke-width="0.8"/>
<line x1="262" y1="68.2" x2="265" y2="68.2" stroke="#e8606c" stroke-width="0.8"/>
<line x1="262" y1="68.8" x2="265" y2="68.8" stroke="#e8606c" stroke-width="0.8"/>
<line x1="285" y1="58.9" x2="285" y2="60.1" stroke="#e8606c" stroke-width="0.8"/>
<line x1="283.5" y1="58.9" x2="286.5" y2="58.9" stroke="#e8606c" stroke-width="0.8"/>
<line x1="283.5" y1="60.1" x2="286.5" y2="60.1" stroke="#e8606c" stroke-width="0.8"/>
<line x1="306.5" y1="48.1" x2="306.5" y2="49.9" stroke="#e8606c" stroke-width="0.8"/>
<line x1="305" y1="48.1" x2="308" y2="48.1" stroke="#e8606c" stroke-width="0.8"/>
<line x1="305" y1="49.9" x2="308" y2="49.9" stroke="#e8606c" stroke-width="0.8"/>
<line x1="328" y1="42.4" x2="328" y2="52.6" stroke="#e8606c" stroke-width="0.8"/>
<line x1="326.5" y1="42.4" x2="329.5" y2="42.4" stroke="#e8606c" stroke-width="0.8"/>
<line x1="326.5" y1="52.6" x2="329.5" y2="52.6" stroke="#e8606c" stroke-width="0.8"/>
<polyline points="242,74.5 263.5,68.5 285,59.5 306.5,49 328,47.5" fill="none" stroke="#e8606c" stroke-width="1.1"/>
<circle cx="242" cy="74.5" r="1.2" fill="#e8606c"/>
<circle cx="263.5" cy="68.5" r="1.2" fill="#e8606c"/>
<circle cx="285" cy="59.5" r="1.2" fill="#e8606c"/>
<circle cx="306.5" cy="49" r="1.2" fill="#e8606c"/>
<circle cx="328" cy="47.5" r="1.2" fill="#e8606c"/>
<line x1="263.5" y1="68.5" x2="263.5" y2="69.1" stroke="#a87830" stroke-width="0.8"/>
<line x1="262" y1="68.5" x2="265" y2="68.5" stroke="#a87830" stroke-width="0.8"/>
<line x1="262" y1="69.1" x2="265" y2="69.1" stroke="#a87830" stroke-width="0.8"/>
<line x1="285" y1="59.8" x2="285" y2="61" stroke="#a87830" stroke-width="0.8"/>
<line x1="283.5" y1="59.8" x2="286.5" y2="59.8" stroke="#a87830" stroke-width="0.8"/>
<line x1="283.5" y1="61" x2="286.5" y2="61" stroke="#a87830" stroke-width="0.8"/>
<line x1="306.5" y1="49.3" x2="306.5" y2="51.1" stroke="#a87830" stroke-width="0.8"/>
<line x1="305" y1="49.3" x2="308" y2="49.3" stroke="#a87830" stroke-width="0.8"/>
<line x1="305" y1="51.1" x2="308" y2="51.1" stroke="#a87830" stroke-width="0.8"/>
<line x1="328" y1="44.8" x2="328" y2="47.2" stroke="#a87830" stroke-width="0.8"/>
<line x1="326.5" y1="44.8" x2="329.5" y2="44.8" stroke="#a87830" stroke-width="0.8"/>
<line x1="326.5" y1="47.2" x2="329.5" y2="47.2" stroke="#a87830" stroke-width="0.8"/>
<polyline points="242,74.5 263.5,68.8 285,60.4 306.5,50.2 328,46" fill="none" stroke="#a87830" stroke-width="1.1"/>
<circle cx="242" cy="74.5" r="1.2" fill="#a87830"/>
<circle cx="263.5" cy="68.8" r="1.2" fill="#a87830"/>
<circle cx="285" cy="60.4" r="1.2" fill="#a87830"/>
<circle cx="306.5" cy="50.2" r="1.2" fill="#a87830"/>
<circle cx="328" cy="46" r="1.2" fill="#a87830"/>
<line x1="263.5" y1="67.9" x2="263.5" y2="68.5" stroke="#9050c8" stroke-width="0.8"/>
<line x1="262" y1="67.9" x2="265" y2="67.9" stroke="#9050c8" stroke-width="0.8"/>
<line x1="262" y1="68.5" x2="265" y2="68.5" stroke="#9050c8" stroke-width="0.8"/>
<line x1="285" y1="57.4" x2="285" y2="58.6" stroke="#9050c8" stroke-width="0.8"/>
<line x1="283.5" y1="57.4" x2="286.5" y2="57.4" stroke="#9050c8" stroke-width="0.8"/>
<line x1="283.5" y1="58.6" x2="286.5" y2="58.6" stroke="#9050c8" stroke-width="0.8"/>
<line x1="306.5" y1="45.1" x2="306.5" y2="46.9" stroke="#9050c8" stroke-width="0.8"/>
<line x1="305" y1="45.1" x2="308" y2="45.1" stroke="#9050c8" stroke-width="0.8"/>
<line x1="305" y1="46.9" x2="308" y2="46.9" stroke="#9050c8" stroke-width="0.8"/>
<line x1="328" y1="41.8" x2="328" y2="44.2" stroke="#9050c8" stroke-width="0.8"/>
<line x1="326.5" y1="41.8" x2="329.5" y2="41.8" stroke="#9050c8" stroke-width="0.8"/>
<line x1="326.5" y1="44.2" x2="329.5" y2="44.2" stroke="#9050c8" stroke-width="0.8"/>
<polyline points="242,74.5 263.5,68.2 285,58 306.5,46 328,43" fill="none" stroke="#9050c8" stroke-width="1.1"/>
<circle cx="242" cy="74.5" r="1.2" fill="#9050c8"/>
<circle cx="263.5" cy="68.2" r="1.2" fill="#9050c8"/>
<circle cx="285" cy="58" r="1.2" fill="#9050c8"/>
<circle cx="306.5" cy="46" r="1.2" fill="#9050c8"/>
<circle cx="328" cy="43" r="1.2" fill="#9050c8"/>
<line x1="263.5" y1="67.9" x2="263.5" y2="68.5" stroke="#3050c0" stroke-width="0.8"/>
<line x1="262" y1="67.9" x2="265" y2="67.9" stroke="#3050c0" stroke-width="0.8"/>
<line x1="262" y1="68.5" x2="265" y2="68.5" stroke="#3050c0" stroke-width="0.8"/>
<line x1="285" y1="56.8" x2="285" y2="58" stroke="#3050c0" stroke-width="0.8"/>
<line x1="283.5" y1="56.8" x2="286.5" y2="56.8" stroke="#3050c0" stroke-width="0.8"/>
<line x1="283.5" y1="58" x2="286.5" y2="58" stroke="#3050c0" stroke-width="0.8"/>
<line x1="306.5" y1="41.5" x2="306.5" y2="44.5" stroke="#3050c0" stroke-width="0.8"/>
<line x1="305" y1="41.5" x2="308" y2="41.5" stroke="#3050c0" stroke-width="0.8"/>
<line x1="305" y1="44.5" x2="308" y2="44.5" stroke="#3050c0" stroke-width="0.8"/>
<line x1="328" y1="37.9" x2="328" y2="40.9" stroke="#3050c0" stroke-width="0.8"/>
<line x1="326.5" y1="37.9" x2="329.5" y2="37.9" stroke="#3050c0" stroke-width="0.8"/>
<line x1="326.5" y1="40.9" x2="329.5" y2="40.9" stroke="#3050c0" stroke-width="0.8"/>
<polyline points="242,74.5 263.5,68.2 285,57.4 306.5,43 328,39.4" fill="none" stroke="#3050c0" stroke-width="1.1"/>
<circle cx="242" cy="74.5" r="1.2" fill="#3050c0"/>
<circle cx="263.5" cy="68.2" r="1.2" fill="#3050c0"/>
<circle cx="285" cy="57.4" r="1.2" fill="#3050c0"/>
<circle cx="306.5" cy="43" r="1.2" fill="#3050c0"/>
<circle cx="328" cy="39.4" r="1.2" fill="#3050c0"/>
<line x1="263.5" y1="67.3" x2="263.5" y2="67.9" stroke="#3a9a48" stroke-width="0.8"/>
<line x1="262" y1="67.3" x2="265" y2="67.3" stroke="#3a9a48" stroke-width="0.8"/>
<line x1="262" y1="67.9" x2="265" y2="67.9" stroke="#3a9a48" stroke-width="0.8"/>
<line x1="285" y1="55" x2="285" y2="56.2" stroke="#3a9a48" stroke-width="0.8"/>
<line x1="283.5" y1="55" x2="286.5" y2="55" stroke="#3a9a48" stroke-width="0.8"/>
<line x1="283.5" y1="56.2" x2="286.5" y2="56.2" stroke="#3a9a48" stroke-width="0.8"/>
<line x1="306.5" y1="41.2" x2="306.5" y2="43" stroke="#3a9a48" stroke-width="0.8"/>
<line x1="305" y1="41.2" x2="308" y2="41.2" stroke="#3a9a48" stroke-width="0.8"/>
<line x1="305" y1="43" x2="308" y2="43" stroke="#3a9a48" stroke-width="0.8"/>
<line x1="328" y1="40" x2="328" y2="41.8" stroke="#3a9a48" stroke-width="0.8"/>
<line x1="326.5" y1="40" x2="329.5" y2="40" stroke="#3a9a48" stroke-width="0.8"/>
<line x1="326.5" y1="41.8" x2="329.5" y2="41.8" stroke="#3a9a48" stroke-width="0.8"/>
<polyline points="242,74.5 263.5,67.6 285,55.6 306.5,42.1 328,40.9" fill="none" stroke="#3a9a48" stroke-width="1.1"/>
<circle cx="242" cy="74.5" r="1.2" fill="#3a9a48"/>
<circle cx="263.5" cy="67.6" r="1.2" fill="#3a9a48"/>
<circle cx="285" cy="55.6" r="1.2" fill="#3a9a48"/>
<circle cx="306.5" cy="42.1" r="1.2" fill="#3a9a48"/>
<circle cx="328" cy="40.9" r="1.2" fill="#3a9a48"/>
<line x1="242" y1="18.5" x2="242" y2="79.6" stroke="#111" stroke-width="1.2"/>
<line x1="241.4" y1="79" x2="332" y2="79" stroke="#111" stroke-width="1.2"/>
<line x1="239.4" y1="79" x2="242" y2="79" stroke="#111" stroke-width="0.9"/>
<text x="238.6" y="81.27" font-size="6.3" text-anchor="end" fill="#222">0.0</text>
<line x1="239.4" y1="64" x2="242" y2="64" stroke="#111" stroke-width="0.9"/>
<text x="238.6" y="66.27" font-size="6.3" text-anchor="end" fill="#222">0.5</text>
<line x1="239.4" y1="49" x2="242" y2="49" stroke="#111" stroke-width="0.9"/>
<text x="238.6" y="51.27" font-size="6.3" text-anchor="end" fill="#222">1.0</text>
<line x1="239.4" y1="34" x2="242" y2="34" stroke="#111" stroke-width="0.9"/>
<text x="238.6" y="36.27" font-size="6.3" text-anchor="end" fill="#222">1.5</text>
<line x1="239.4" y1="19" x2="242" y2="19" stroke="#111" stroke-width="0.9"/>
<text x="238.6" y="21.27" font-size="6.3" text-anchor="end" fill="#222">2.0</text>
<line x1="242" y1="79" x2="242" y2="81.6" stroke="#111" stroke-width="0.9"/>
<text x="242" y="86.4" font-size="6.3" text-anchor="middle" fill="#222">0</text>
<line x1="263.5" y1="79" x2="263.5" y2="81.6" stroke="#111" stroke-width="0.9"/>
<text x="263.5" y="86.4" font-size="6.3" text-anchor="middle" fill="#222">24</text>
<line x1="285" y1="79" x2="285" y2="81.6" stroke="#111" stroke-width="0.9"/>
<text x="285" y="86.4" font-size="6.3" text-anchor="middle" fill="#222">48</text>
<line x1="306.5" y1="79" x2="306.5" y2="81.6" stroke="#111" stroke-width="0.9"/>
<text x="306.5" y="86.4" font-size="6.3" text-anchor="middle" fill="#222">72</text>
<line x1="328" y1="79" x2="328" y2="81.6" stroke="#111" stroke-width="0.9"/>
<text x="328" y="86.4" font-size="6.3" text-anchor="middle" fill="#222">96</text>
<text x="281" y="10" font-size="7.7" text-anchor="middle">OVCAR3</text>
<line x1="245" y1="18" x2="252" y2="18" stroke="#3a9a48" stroke-width="1.1"/>
<circle cx="248.5" cy="18" r="1.2" fill="#3a9a48"/>
<text x="254.5" y="20.27" font-size="6.3" fill="#222">Control</text>
<line x1="245" y1="24.6" x2="252" y2="24.6" stroke="#e8606c" stroke-width="1.1"/>
<circle cx="248.5" cy="24.6" r="1.2" fill="#e8606c"/>
<text x="254.5" y="26.87" font-size="6.3" fill="#222">shHL-1</text>
<line x1="245" y1="31" x2="252" y2="31" stroke="#3050c0" stroke-width="1.1"/>
<circle cx="248.5" cy="31" r="1.2" fill="#3050c0"/>
<text x="254.5" y="33.27" font-size="6.3" fill="#222">shHL-1+SC79</text>
<line x1="245" y1="37.4" x2="252" y2="37.4" stroke="#a87830" stroke-width="1.1"/>
<circle cx="248.5" cy="37.4" r="1.2" fill="#a87830"/>
<text x="254.5" y="39.67" font-size="6.3" fill="#222">shHL-2</text>
<line x1="245" y1="44" x2="252" y2="44" stroke="#9050c8" stroke-width="1.1"/>
<circle cx="248.5" cy="44" r="1.2" fill="#9050c8"/>
<text x="254.5" y="46.27" font-size="6.3" fill="#222">shHL-2+SC79</text>
<text x="226.5" y="48" font-size="6.3" text-anchor="middle" transform="rotate(-90 226.5 48)">Absorbance at 450 nm</text>
<polyline points="299,24.6 301,24.6 301,31 299,31" fill="none" stroke="#222" stroke-width="0.8"/>
<polyline points="299,37.4 301,37.4 301,44 299,44" fill="none" stroke="#222" stroke-width="0.8"/>
<text x="304.5" y="35.5" font-size="6.4" fill="#222" transform="rotate(-90 304.5 35.5)"><tspan font-style="italic">p</tspan> = 0.0342</text>
<text x="313" y="40" font-size="6.4" fill="#222" transform="rotate(-90 313 40)"><tspan font-style="italic">p</tspan> = 0.0220</text>
<polyline points="242,160.08 263.5,157.2 285,153.12 306.5,145.68 328,132" fill="none" stroke="#9050c8" stroke-width="1.1"/>
<circle cx="242" cy="160.08" r="1.2" fill="#9050c8"/>
<circle cx="263.5" cy="157.2" r="1.2" fill="#9050c8"/>
<circle cx="285" cy="153.12" r="1.2" fill="#9050c8"/>
<circle cx="306.5" cy="145.68" r="1.2" fill="#9050c8"/>
<circle cx="328" cy="132" r="1.2" fill="#9050c8"/>
<polyline points="242,160.08 263.5,157.2 285,152.88 306.5,145.68 328,130.32" fill="none" stroke="#a87830" stroke-width="1.1"/>
<circle cx="242" cy="160.08" r="1.2" fill="#a87830"/>
<circle cx="263.5" cy="157.2" r="1.2" fill="#a87830"/>
<circle cx="285" cy="152.88" r="1.2" fill="#a87830"/>
<circle cx="306.5" cy="145.68" r="1.2" fill="#a87830"/>
<circle cx="328" cy="130.32" r="1.2" fill="#a87830"/>
<polyline points="242,159.6 263.5,156.48 285,151.92 306.5,145.2 328,128.4" fill="none" stroke="#3a9a48" stroke-width="1.1"/>
<circle cx="242" cy="159.6" r="1.2" fill="#3a9a48"/>
<circle cx="263.5" cy="156.48" r="1.2" fill="#3a9a48"/>
<circle cx="285" cy="151.92" r="1.2" fill="#3a9a48"/>
<circle cx="306.5" cy="145.2" r="1.2" fill="#3a9a48"/>
<circle cx="328" cy="128.4" r="1.2" fill="#3a9a48"/>
<polyline points="242,160.08 263.5,156.72 285,151.2 306.5,140.4 328,122.4" fill="none" stroke="#3050c0" stroke-width="1.1"/>
<circle cx="242" cy="160.08" r="1.2" fill="#3050c0"/>
<circle cx="263.5" cy="156.72" r="1.2" fill="#3050c0"/>
<circle cx="285" cy="151.2" r="1.2" fill="#3050c0"/>
<circle cx="306.5" cy="140.4" r="1.2" fill="#3050c0"/>
<circle cx="328" cy="122.4" r="1.2" fill="#3050c0"/>
<polyline points="242,160.08 263.5,157.2 285,150.48 306.5,140.4 328,116.88" fill="none" stroke="#e83838" stroke-width="1.1"/>
<circle cx="242" cy="160.08" r="1.2" fill="#e83838"/>
<circle cx="263.5" cy="157.2" r="1.2" fill="#e83838"/>
<circle cx="285" cy="150.48" r="1.2" fill="#e83838"/>
<circle cx="306.5" cy="140.4" r="1.2" fill="#e83838"/>
<circle cx="328" cy="116.88" r="1.2" fill="#e83838"/>
<line x1="242" y1="103.9" x2="242" y2="165" stroke="#111" stroke-width="1.2"/>
<line x1="241.4" y1="164.4" x2="332" y2="164.4" stroke="#111" stroke-width="1.2"/>
<line x1="239.4" y1="164.4" x2="242" y2="164.4" stroke="#111" stroke-width="0.9"/>
<text x="238.6" y="166.67" font-size="6.3" text-anchor="end" fill="#222">0.0</text>
<line x1="239.4" y1="152.4" x2="242" y2="152.4" stroke="#111" stroke-width="0.9"/>
<text x="238.6" y="154.67" font-size="6.3" text-anchor="end" fill="#222">0.5</text>
<line x1="239.4" y1="140.4" x2="242" y2="140.4" stroke="#111" stroke-width="0.9"/>
<text x="238.6" y="142.67" font-size="6.3" text-anchor="end" fill="#222">1.0</text>
<line x1="239.4" y1="128.4" x2="242" y2="128.4" stroke="#111" stroke-width="0.9"/>
<text x="238.6" y="130.67" font-size="6.3" text-anchor="end" fill="#222">1.5</text>
<line x1="239.4" y1="116.4" x2="242" y2="116.4" stroke="#111" stroke-width="0.9"/>
<text x="238.6" y="118.67" font-size="6.3" text-anchor="end" fill="#222">2.0</text>
<line x1="239.4" y1="104.4" x2="242" y2="104.4" stroke="#111" stroke-width="0.9"/>
<text x="238.6" y="106.67" font-size="6.3" text-anchor="end" fill="#222">2.5</text>
<line x1="242" y1="164.4" x2="242" y2="167" stroke="#111" stroke-width="0.9"/>
<text x="242" y="172" font-size="6.3" text-anchor="middle" fill="#222">0</text>
<line x1="263.5" y1="164.4" x2="263.5" y2="167" stroke="#111" stroke-width="0.9"/>
<text x="263.5" y="172" font-size="6.3" text-anchor="middle" fill="#222">24</text>
<line x1="285" y1="164.4" x2="285" y2="167" stroke="#111" stroke-width="0.9"/>
<text x="285" y="172" font-size="6.3" text-anchor="middle" fill="#222">48</text>
<line x1="306.5" y1="164.4" x2="306.5" y2="167" stroke="#111" stroke-width="0.9"/>
<text x="306.5" y="172" font-size="6.3" text-anchor="middle" fill="#222">72</text>
<line x1="328" y1="164.4" x2="328" y2="167" stroke="#111" stroke-width="0.9"/>
<text x="328" y="172" font-size="6.3" text-anchor="middle" fill="#222">96</text>
<text x="279" y="98" font-size="7.7" text-anchor="middle">SKOV3</text>
<line x1="245" y1="104.4" x2="252" y2="104.4" stroke="#e83838" stroke-width="1.1"/>
<circle cx="248.5" cy="104.4" r="1.2" fill="#e83838"/>
<text x="254.5" y="106.67" font-size="6.3" fill="#222">shNC</text>
<line x1="245" y1="111" x2="252" y2="111" stroke="#a87830" stroke-width="1.1"/>
<circle cx="248.5" cy="111" r="1.2" fill="#a87830"/>
<text x="254.5" y="113.27" font-size="6.3" fill="#222">shHL-1</text>
<line x1="245" y1="117.2" x2="252" y2="117.2" stroke="#3050c0" stroke-width="1.1"/>
<circle cx="248.5" cy="117.2" r="1.2" fill="#3050c0"/>
<text x="254.5" y="119.47" font-size="6.3" fill="#222">shHL-1+SC79</text>
<line x1="245" y1="123.8" x2="252" y2="123.8" stroke="#9050c8" stroke-width="1.1"/>
<circle cx="248.5" cy="123.8" r="1.2" fill="#9050c8"/>
<text x="254.5" y="126.07" font-size="6.3" fill="#222">shHL-2</text>
<line x1="245" y1="131" x2="252" y2="131" stroke="#3a9a48" stroke-width="1.1"/>
<circle cx="248.5" cy="131" r="1.2" fill="#3a9a48"/>
<text x="254.5" y="133.27" font-size="6.3" fill="#222">shHL-2+SC79</text>
<text x="226.5" y="134" font-size="6.3" text-anchor="middle" transform="rotate(-90 226.5 134)">Absorbance at 450 nm</text>
<polyline points="296,111 298,111 298,118 296,118" fill="none" stroke="#222" stroke-width="0.8"/>
<polyline points="301,125 303,125 303,132.5 301,132.5" fill="none" stroke="#222" stroke-width="0.8"/>
<text x="303.4" y="123.7" font-size="6.4" fill="#222" transform="rotate(-90 303.4 123.7)"><tspan font-style="italic">p</tspan> = 0.0018</text>
<text x="310.8" y="130.7" font-size="6.4" fill="#222" transform="rotate(-90 310.8 130.7)"><tspan font-style="italic">p</tspan> = 0.0232</text>
<text x="282" y="179" font-size="7.6" text-anchor="middle">Time (hours)</text>
<line x1="620.6" y1="68.8" x2="620.6" y2="69.4" stroke="#9050c8" stroke-width="0.8"/>
<line x1="619.1" y1="68.8" x2="622.1" y2="68.8" stroke="#9050c8" stroke-width="0.8"/>
<line x1="619.1" y1="69.4" x2="622.1" y2="69.4" stroke="#9050c8" stroke-width="0.8"/>
<line x1="642.1" y1="70.6" x2="642.1" y2="71.2" stroke="#9050c8" stroke-width="0.8"/>
<line x1="640.6" y1="70.6" x2="643.6" y2="70.6" stroke="#9050c8" stroke-width="0.8"/>
<line x1="640.6" y1="71.2" x2="643.6" y2="71.2" stroke="#9050c8" stroke-width="0.8"/>
<line x1="663.6" y1="69.7" x2="663.6" y2="70.3" stroke="#9050c8" stroke-width="0.8"/>
<line x1="662.1" y1="69.7" x2="665.1" y2="69.7" stroke="#9050c8" stroke-width="0.8"/>
<line x1="662.1" y1="70.3" x2="665.1" y2="70.3" stroke="#9050c8" stroke-width="0.8"/>
<polyline points="577.6,70 599.1,69.4 620.6,69.1 642.1,70.9 663.6,70" fill="none" stroke="#9050c8" stroke-width="1.1"/>
<circle cx="577.6" cy="70" r="1.2" fill="#9050c8"/>
<circle cx="599.1" cy="69.4" r="1.2" fill="#9050c8"/>
<circle cx="620.6" cy="69.1" r="1.2" fill="#9050c8"/>
<circle cx="642.1" cy="70.9" r="1.2" fill="#9050c8"/>
<circle cx="663.6" cy="70" r="1.2" fill="#9050c8"/>
<line x1="599.1" y1="66.4" x2="599.1" y2="67" stroke="#48c848" stroke-width="0.8"/>
<line x1="597.6" y1="66.4" x2="600.6" y2="66.4" stroke="#48c848" stroke-width="0.8"/>
<line x1="597.6" y1="67" x2="600.6" y2="67" stroke="#48c848" stroke-width="0.8"/>
<line x1="620.6" y1="58.9" x2="620.6" y2="60.1" stroke="#48c848" stroke-width="0.8"/>
<line x1="619.1" y1="58.9" x2="622.1" y2="58.9" stroke="#48c848" stroke-width="0.8"/>
<line x1="619.1" y1="60.1" x2="622.1" y2="60.1" stroke="#48c848" stroke-width="0.8"/>
<line x1="642.1" y1="57.4" x2="642.1" y2="58.6" stroke="#48c848" stroke-width="0.8"/>
<line x1="640.6" y1="57.4" x2="643.6" y2="57.4" stroke="#48c848" stroke-width="0.8"/>
<line x1="640.6" y1="58.6" x2="643.6" y2="58.6" stroke="#48c848" stroke-width="0.8"/>
<line x1="663.6" y1="40.9" x2="663.6" y2="43.3" stroke="#48c848" stroke-width="0.8"/>
<line x1="662.1" y1="40.9" x2="665.1" y2="40.9" stroke="#48c848" stroke-width="0.8"/>
<line x1="662.1" y1="43.3" x2="665.1" y2="43.3" stroke="#48c848" stroke-width="0.8"/>
<polyline points="577.6,70 599.1,66.7 620.6,59.5 642.1,58 663.6,42.1" fill="none" stroke="#48c848" stroke-width="1.1"/>
<circle cx="577.6" cy="70" r="1.2" fill="#48c848"/>
<circle cx="599.1" cy="66.7" r="1.2" fill="#48c848"/>
<circle cx="620.6" cy="59.5" r="1.2" fill="#48c848"/>
<circle cx="642.1" cy="58" r="1.2" fill="#48c848"/>
<circle cx="663.6" cy="42.1" r="1.2" fill="#48c848"/>
<line x1="599.1" y1="65.8" x2="599.1" y2="66.4" stroke="#2850c0" stroke-width="0.8"/>
<line x1="597.6" y1="65.8" x2="600.6" y2="65.8" stroke="#2850c0" stroke-width="0.8"/>
<line x1="597.6" y1="66.4" x2="600.6" y2="66.4" stroke="#2850c0" stroke-width="0.8"/>
<line x1="620.6" y1="55.9" x2="620.6" y2="57.1" stroke="#2850c0" stroke-width="0.8"/>
<line x1="619.1" y1="55.9" x2="622.1" y2="55.9" stroke="#2850c0" stroke-width="0.8"/>
<line x1="619.1" y1="57.1" x2="622.1" y2="57.1" stroke="#2850c0" stroke-width="0.8"/>
<line x1="642.1" y1="55.9" x2="642.1" y2="57.1" stroke="#2850c0" stroke-width="0.8"/>
<line x1="640.6" y1="55.9" x2="643.6" y2="55.9" stroke="#2850c0" stroke-width="0.8"/>
<line x1="640.6" y1="57.1" x2="643.6" y2="57.1" stroke="#2850c0" stroke-width="0.8"/>
<line x1="663.6" y1="40" x2="663.6" y2="43" stroke="#2850c0" stroke-width="0.8"/>
<line x1="662.1" y1="40" x2="665.1" y2="40" stroke="#2850c0" stroke-width="0.8"/>
<line x1="662.1" y1="43" x2="665.1" y2="43" stroke="#2850c0" stroke-width="0.8"/>
<polyline points="577.6,70 599.1,66.1 620.6,56.5 642.1,56.5 663.6,41.5" fill="none" stroke="#2850c0" stroke-width="1.1"/>
<circle cx="577.6" cy="70" r="1.2" fill="#2850c0"/>
<circle cx="599.1" cy="66.1" r="1.2" fill="#2850c0"/>
<circle cx="620.6" cy="56.5" r="1.2" fill="#2850c0"/>
<circle cx="642.1" cy="56.5" r="1.2" fill="#2850c0"/>
<circle cx="663.6" cy="41.5" r="1.2" fill="#2850c0"/>
<line x1="599.1" y1="64.9" x2="599.1" y2="65.5" stroke="#e82828" stroke-width="0.8"/>
<line x1="597.6" y1="64.9" x2="600.6" y2="64.9" stroke="#e82828" stroke-width="0.8"/>
<line x1="597.6" y1="65.5" x2="600.6" y2="65.5" stroke="#e82828" stroke-width="0.8"/>
<line x1="620.6" y1="48.1" x2="620.6" y2="57.7" stroke="#e82828" stroke-width="0.8"/>
<line x1="619.1" y1="48.1" x2="622.1" y2="48.1" stroke="#e82828" stroke-width="0.8"/>
<line x1="619.1" y1="57.7" x2="622.1" y2="57.7" stroke="#e82828" stroke-width="0.8"/>
<line x1="642.1" y1="53.8" x2="642.1" y2="55" stroke="#e82828" stroke-width="0.8"/>
<line x1="640.6" y1="53.8" x2="643.6" y2="53.8" stroke="#e82828" stroke-width="0.8"/>
<line x1="640.6" y1="55" x2="643.6" y2="55" stroke="#e82828" stroke-width="0.8"/>
<line x1="663.6" y1="30.1" x2="663.6" y2="36.1" stroke="#e82828" stroke-width="0.8"/>
<line x1="662.1" y1="30.1" x2="665.1" y2="30.1" stroke="#e82828" stroke-width="0.8"/>
<line x1="662.1" y1="36.1" x2="665.1" y2="36.1" stroke="#e82828" stroke-width="0.8"/>
<polyline points="577.6,70 599.1,65.2 620.6,52.9 642.1,54.4 663.6,33.1" fill="none" stroke="#e82828" stroke-width="1.1"/>
<circle cx="577.6" cy="70" r="1.2" fill="#e82828"/>
<circle cx="599.1" cy="65.2" r="1.2" fill="#e82828"/>
<circle cx="620.6" cy="52.9" r="1.2" fill="#e82828"/>
<circle cx="642.1" cy="54.4" r="1.2" fill="#e82828"/>
<circle cx="663.6" cy="33.1" r="1.2" fill="#e82828"/>
<line x1="577.6" y1="15.5" x2="577.6" y2="76.6" stroke="#111" stroke-width="1.2"/>
<line x1="577" y1="76" x2="667.6" y2="76" stroke="#111" stroke-width="1.2"/>
<line x1="575" y1="76" x2="577.6" y2="76" stroke="#111" stroke-width="0.9"/>
<text x="574.2" y="78.27" font-size="6.3" text-anchor="end" fill="#222">0.0</text>
<line x1="575" y1="61" x2="577.6" y2="61" stroke="#111" stroke-width="0.9"/>
<text x="574.2" y="63.27" font-size="6.3" text-anchor="end" fill="#222">0.5</text>
<line x1="575" y1="46" x2="577.6" y2="46" stroke="#111" stroke-width="0.9"/>
<text x="574.2" y="48.27" font-size="6.3" text-anchor="end" fill="#222">1.0</text>
<line x1="575" y1="31" x2="577.6" y2="31" stroke="#111" stroke-width="0.9"/>
<text x="574.2" y="33.27" font-size="6.3" text-anchor="end" fill="#222">1.5</text>
<line x1="575" y1="16" x2="577.6" y2="16" stroke="#111" stroke-width="0.9"/>
<text x="574.2" y="18.27" font-size="6.3" text-anchor="end" fill="#222">2.0</text>
<line x1="577.6" y1="76" x2="577.6" y2="78.6" stroke="#111" stroke-width="0.9"/>
<text x="577.6" y="85.4" font-size="6.3" text-anchor="middle" fill="#222">0</text>
<line x1="599.1" y1="76" x2="599.1" y2="78.6" stroke="#111" stroke-width="0.9"/>
<text x="599.1" y="85.4" font-size="6.3" text-anchor="middle" fill="#222">24</text>
<line x1="620.6" y1="76" x2="620.6" y2="78.6" stroke="#111" stroke-width="0.9"/>
<text x="620.6" y="85.4" font-size="6.3" text-anchor="middle" fill="#222">48</text>
<line x1="642.1" y1="76" x2="642.1" y2="78.6" stroke="#111" stroke-width="0.9"/>
<text x="642.1" y="85.4" font-size="6.3" text-anchor="middle" fill="#222">72</text>
<line x1="663.6" y1="76" x2="663.6" y2="78.6" stroke="#111" stroke-width="0.9"/>
<text x="663.6" y="85.4" font-size="6.3" text-anchor="middle" fill="#222">96</text>
<text x="621" y="10" font-size="7.7" text-anchor="middle">OVCAR3</text>
<line x1="581" y1="16" x2="588" y2="16" stroke="#2850c0" stroke-width="1.1"/>
<circle cx="584.5" cy="16" r="1.2" fill="#2850c0"/>
<text x="590.4" y="18.27" font-size="6.3" fill="#222">Control</text>
<line x1="581" y1="24.4" x2="588" y2="24.4" stroke="#e82828" stroke-width="1.1"/>
<circle cx="584.5" cy="24.4" r="1.2" fill="#e82828"/>
<text x="590.4" y="26.67" font-size="6.3" fill="#222">hnRNPL</text>
<line x1="581" y1="32.4" x2="588" y2="32.4" stroke="#48c848" stroke-width="1.1"/>
<circle cx="584.5" cy="32.4" r="1.2" fill="#48c848"/>
<text x="590.4" y="34.67" font-size="6.3" fill="#222">hnRNPL+TGX221</text>
<line x1="581" y1="41" x2="588" y2="41" stroke="#9050c8" stroke-width="1.1"/>
<circle cx="584.5" cy="41" r="1.2" fill="#9050c8"/>
<text x="590.4" y="43.27" font-size="6.3" fill="#222">hnRNPL+PI-103</text>
<text x="561" y="46" font-size="6.3" text-anchor="middle" transform="rotate(-90 561 46)">Absorbance at 450 nm</text>
<polyline points="642.7,25.4 644.7,25.4 644.7,31.5 642.7,31.5" fill="none" stroke="#222" stroke-width="0.8"/>
<polyline points="651,25.4 653,25.4 653,40.7 651,40.7" fill="none" stroke="#222" stroke-width="0.8"/>
<text x="650" y="34.6" font-size="6.4" fill="#222" transform="rotate(-90 650 34.6)"><tspan font-style="italic">p</tspan> = 0.0085</text>
<text x="658.7" y="35.9" font-size="6.4" fill="#222" transform="rotate(-90 658.7 35.9)"><tspan font-style="italic">p</tspan> &lt; 0.0001</text>
<polyline points="577.6,157.83 599.1,154.26 620.6,155.05 642.1,157.04 663.6,153.46" fill="none" stroke="#9050c8" stroke-width="1.1"/>
<circle cx="577.6" cy="157.83" r="1.2" fill="#9050c8"/>
<circle cx="599.1" cy="154.26" r="1.2" fill="#9050c8"/>
<circle cx="620.6" cy="155.05" r="1.2" fill="#9050c8"/>
<circle cx="642.1" cy="157.04" r="1.2" fill="#9050c8"/>
<circle cx="663.6" cy="153.46" r="1.2" fill="#9050c8"/>
<line x1="599.1" y1="142.73" x2="599.1" y2="143.53" stroke="#48c848" stroke-width="0.8"/>
<line x1="597.6" y1="142.73" x2="600.6" y2="142.73" stroke="#48c848" stroke-width="0.8"/>
<line x1="597.6" y1="143.53" x2="600.6" y2="143.53" stroke="#48c848" stroke-width="0.8"/>
<line x1="620.6" y1="141.94" x2="620.6" y2="143.53" stroke="#48c848" stroke-width="0.8"/>
<line x1="619.1" y1="141.94" x2="622.1" y2="141.94" stroke="#48c848" stroke-width="0.8"/>
<line x1="619.1" y1="143.53" x2="622.1" y2="143.53" stroke="#48c848" stroke-width="0.8"/>
<line x1="642.1" y1="143.53" x2="642.1" y2="147.5" stroke="#48c848" stroke-width="0.8"/>
<line x1="640.6" y1="143.53" x2="643.6" y2="143.53" stroke="#48c848" stroke-width="0.8"/>
<line x1="640.6" y1="147.5" x2="643.6" y2="147.5" stroke="#48c848" stroke-width="0.8"/>
<line x1="663.6" y1="128.83" x2="663.6" y2="130.42" stroke="#48c848" stroke-width="0.8"/>
<line x1="662.1" y1="128.83" x2="665.1" y2="128.83" stroke="#48c848" stroke-width="0.8"/>
<line x1="662.1" y1="130.42" x2="665.1" y2="130.42" stroke="#48c848" stroke-width="0.8"/>
<polyline points="577.6,156.24 599.1,143.13 620.6,142.73 642.1,145.51 663.6,129.62" fill="none" stroke="#48c848" stroke-width="1.1"/>
<circle cx="577.6" cy="156.24" r="1.2" fill="#48c848"/>
<circle cx="599.1" cy="143.13" r="1.2" fill="#48c848"/>
<circle cx="620.6" cy="142.73" r="1.2" fill="#48c848"/>
<circle cx="642.1" cy="145.51" r="1.2" fill="#48c848"/>
<circle cx="663.6" cy="129.62" r="1.2" fill="#48c848"/>
<line x1="599.1" y1="142.73" x2="599.1" y2="143.53" stroke="#2850c0" stroke-width="0.8"/>
<line x1="597.6" y1="142.73" x2="600.6" y2="142.73" stroke="#2850c0" stroke-width="0.8"/>
<line x1="597.6" y1="143.53" x2="600.6" y2="143.53" stroke="#2850c0" stroke-width="0.8"/>
<line x1="620.6" y1="138.76" x2="620.6" y2="140.35" stroke="#2850c0" stroke-width="0.8"/>
<line x1="619.1" y1="138.76" x2="622.1" y2="138.76" stroke="#2850c0" stroke-width="0.8"/>
<line x1="619.1" y1="140.35" x2="622.1" y2="140.35" stroke="#2850c0" stroke-width="0.8"/>
<line x1="642.1" y1="141.14" x2="642.1" y2="142.73" stroke="#2850c0" stroke-width="0.8"/>
<line x1="640.6" y1="141.14" x2="643.6" y2="141.14" stroke="#2850c0" stroke-width="0.8"/>
<line x1="640.6" y1="142.73" x2="643.6" y2="142.73" stroke="#2850c0" stroke-width="0.8"/>
<line x1="663.6" y1="127.63" x2="663.6" y2="129.22" stroke="#2850c0" stroke-width="0.8"/>
<line x1="662.1" y1="127.63" x2="665.1" y2="127.63" stroke="#2850c0" stroke-width="0.8"/>
<line x1="662.1" y1="129.22" x2="665.1" y2="129.22" stroke="#2850c0" stroke-width="0.8"/>
<polyline points="577.6,156.64 599.1,143.13 620.6,139.55 642.1,141.94 663.6,128.43" fill="none" stroke="#2850c0" stroke-width="1.1"/>
<circle cx="577.6" cy="156.64" r="1.2" fill="#2850c0"/>
<circle cx="599.1" cy="143.13" r="1.2" fill="#2850c0"/>
<circle cx="620.6" cy="139.55" r="1.2" fill="#2850c0"/>
<circle cx="642.1" cy="141.94" r="1.2" fill="#2850c0"/>
<circle cx="663.6" cy="128.43" r="1.2" fill="#2850c0"/>
<polyline points="577.6,154.65 599.1,139.16 620.6,137.17 642.1,137.97 663.6,121.67" fill="none" stroke="#e82828" stroke-width="1.1"/>
<circle cx="577.6" cy="154.65" r="1.2" fill="#e82828"/>
<circle cx="599.1" cy="139.16" r="1.2" fill="#e82828"/>
<circle cx="620.6" cy="137.17" r="1.2" fill="#e82828"/>
<circle cx="642.1" cy="137.97" r="1.2" fill="#e82828"/>
<circle cx="663.6" cy="121.67" r="1.2" fill="#e82828"/>
<line x1="577.6" y1="102.5" x2="577.6" y2="163.2" stroke="#111" stroke-width="1.2"/>
<line x1="577" y1="162.6" x2="667.6" y2="162.6" stroke="#111" stroke-width="1.2"/>
<line x1="575" y1="162.6" x2="577.6" y2="162.6" stroke="#111" stroke-width="0.9"/>
<text x="574.2" y="164.87" font-size="6.3" text-anchor="end" fill="#222">0.0</text>
<line x1="575" y1="142.73" x2="577.6" y2="142.73" stroke="#111" stroke-width="0.9"/>
<text x="574.2" y="145" font-size="6.3" text-anchor="end" fill="#222">0.5</text>
<line x1="575" y1="122.87" x2="577.6" y2="122.87" stroke="#111" stroke-width="0.9"/>
<text x="574.2" y="125.13" font-size="6.3" text-anchor="end" fill="#222">1.0</text>
<line x1="575" y1="103" x2="577.6" y2="103" stroke="#111" stroke-width="0.9"/>
<text x="574.2" y="105.27" font-size="6.3" text-anchor="end" fill="#222">1.5</text>
<line x1="577.6" y1="162.6" x2="577.6" y2="165.2" stroke="#111" stroke-width="0.9"/>
<text x="577.6" y="171.4" font-size="6.3" text-anchor="middle" fill="#222">0</text>
<line x1="599.1" y1="162.6" x2="599.1" y2="165.2" stroke="#111" stroke-width="0.9"/>
<text x="599.1" y="171.4" font-size="6.3" text-anchor="middle" fill="#222">24</text>
<line x1="620.6" y1="162.6" x2="620.6" y2="165.2" stroke="#111" stroke-width="0.9"/>
<text x="620.6" y="171.4" font-size="6.3" text-anchor="middle" fill="#222">48</text>
<line x1="642.1" y1="162.6" x2="642.1" y2="165.2" stroke="#111" stroke-width="0.9"/>
<text x="642.1" y="171.4" font-size="6.3" text-anchor="middle" fill="#222">72</text>
<line x1="663.6" y1="162.6" x2="663.6" y2="165.2" stroke="#111" stroke-width="0.9"/>
<text x="663.6" y="171.4" font-size="6.3" text-anchor="middle" fill="#222">96</text>
<text x="623" y="96" font-size="7.7" text-anchor="middle">SKOV3</text>
<line x1="581" y1="103" x2="588" y2="103" stroke="#2850c0" stroke-width="1.1"/>
<circle cx="584.5" cy="103" r="1.2" fill="#2850c0"/>
<text x="590.4" y="105.27" font-size="6.3" fill="#222">Control</text>
<line x1="581" y1="110" x2="588" y2="110" stroke="#e82828" stroke-width="1.1"/>
<circle cx="584.5" cy="110" r="1.2" fill="#e82828"/>
<text x="590.4" y="112.27" font-size="6.3" fill="#222">hnRNPL</text>
<line x1="581" y1="118.4" x2="588" y2="118.4" stroke="#48c848" stroke-width="1.1"/>
<circle cx="584.5" cy="118.4" r="1.2" fill="#48c848"/>
<text x="590.4" y="120.67" font-size="6.3" fill="#222">hnRNPL+TGX221</text>
<line x1="581" y1="126.4" x2="588" y2="126.4" stroke="#9050c8" stroke-width="1.1"/>
<circle cx="584.5" cy="126.4" r="1.2" fill="#9050c8"/>
<text x="590.4" y="128.67" font-size="6.3" fill="#222">hnRNPL+PI-103</text>
<text x="561" y="133" font-size="6.3" text-anchor="middle" transform="rotate(-90 561 133)">Absorbance at 450 nm</text>
<polyline points="644,111.3 646,111.3 646,118.3 644,118.3" fill="none" stroke="#222" stroke-width="0.8"/>
<polyline points="651.9,111.3 653.9,111.3 653.9,126.2 651.9,126.2" fill="none" stroke="#222" stroke-width="0.8"/>
<text x="651.2" y="120.9" font-size="6.4" fill="#222" transform="rotate(-90 651.2 120.9)"><tspan font-style="italic">p</tspan> &lt; 0.0001</text>
<text x="659.5" y="120.9" font-size="6.4" fill="#222" transform="rotate(-90 659.5 120.9)"><tspan font-style="italic">p</tspan> &lt; 0.0001</text>
<text x="626" y="179" font-size="7.6" text-anchor="middle">Time (hours)</text>
<defs><filter id="bl" x="-30%" y="-60%" width="160%" height="220%"><feGaussianBlur stdDeviation="0.7"/></filter><filter id="bl2" x="-30%" y="-60%" width="160%" height="220%"><feGaussianBlur stdDeviation="1.3"/></filter></defs>
<rect x="48" y="78.8" width="58.8" height="9.7" fill="#cacaca" stroke="#555" stroke-width="0.8"/>
<rect x="49.18" y="81.95" width="9.41" height="3.4" rx="1.5" fill="#000" fill-opacity="0.88" filter="url(#bl)"/>
<rect x="60.94" y="81.95" width="9.41" height="3.4" rx="1.5" fill="#000" fill-opacity="0.55" filter="url(#bl)"/>
<rect x="72.7" y="81.95" width="9.41" height="3.4" rx="1.5" fill="#000" fill-opacity="0.15" filter="url(#bl)"/>
<rect x="84.46" y="81.95" width="9.41" height="3.4" rx="1.5" fill="#000" fill-opacity="0.15" filter="url(#bl)"/>
<rect x="96.22" y="81.95" width="9.41" height="3.4" rx="1.5" fill="#000" fill-opacity="0.12" filter="url(#bl)"/>
<rect x="62.11" y="80.71" width="7.06" height="2" rx="1" fill="#000" fill-opacity="0.3" filter="url(#bl)"/>
<rect x="48" y="90.2" width="58.8" height="10.7" fill="#d8d8d8" stroke="#555" stroke-width="0.8"/>
<rect x="48.82" y="93.06" width="10.11" height="5.4" rx="1.5" fill="#000" fill-opacity="0.96" filter="url(#bl)"/>
<rect x="48.88" y="96.65" width="10" height="2.5" rx="1.25" fill="#000" fill-opacity="0.4" filter="url(#bl)"/>
<rect x="60.58" y="95.33" width="10.11" height="3" rx="1.5" fill="#000" fill-opacity="0.9" filter="url(#bl)"/>
<rect x="60.82" y="93.09" width="4" height="3.2" rx="1.5" fill="#000" fill-opacity="0.85" filter="url(#bl)"/>
<rect x="66.46" y="93.09" width="4" height="3.2" rx="1.5" fill="#000" fill-opacity="0.85" filter="url(#bl)"/>
<rect x="72.34" y="95.33" width="10.11" height="3" rx="1.5" fill="#000" fill-opacity="0.9" filter="url(#bl)"/>
<rect x="72.58" y="93.09" width="4" height="3.2" rx="1.5" fill="#000" fill-opacity="0.85" filter="url(#bl)"/>
<rect x="78.22" y="93.09" width="4" height="3.2" rx="1.5" fill="#000" fill-opacity="0.85" filter="url(#bl)"/>
<rect x="84.1" y="95.33" width="10.11" height="3" rx="1.5" fill="#000" fill-opacity="0.9" filter="url(#bl)"/>
<rect x="84.34" y="93.09" width="4" height="3.2" rx="1.5" fill="#000" fill-opacity="0.85" filter="url(#bl)"/>
<rect x="89.98" y="93.09" width="4" height="3.2" rx="1.5" fill="#000" fill-opacity="0.85" filter="url(#bl)"/>
<rect x="95.86" y="95.33" width="10.11" height="3" rx="1.5" fill="#000" fill-opacity="0.9" filter="url(#bl)"/>
<rect x="96.1" y="93.09" width="4" height="3.2" rx="1.5" fill="#000" fill-opacity="0.85" filter="url(#bl)"/>
<rect x="101.74" y="93.09" width="4" height="3.2" rx="1.5" fill="#000" fill-opacity="0.85" filter="url(#bl)"/>
<rect x="48" y="102.1" width="58.8" height="10.4" fill="#c2c2c2" stroke="#555" stroke-width="0.8"/>
<rect x="48.82" y="104.8" width="10.11" height="5" rx="1.5" fill="#000" fill-opacity="0.98" filter="url(#bl)"/>
<rect x="60.58" y="104.8" width="10.11" height="5" rx="1.5" fill="#000" fill-opacity="0.22" filter="url(#bl)"/>
<rect x="72.34" y="104.8" width="10.11" height="5" rx="1.5" fill="#000" fill-opacity="0.7" filter="url(#bl)"/>
<rect x="84.1" y="104.8" width="10.11" height="5" rx="1.5" fill="#000" fill-opacity="0.65" filter="url(#bl)"/>
<rect x="95.86" y="104.8" width="10.11" height="5" rx="1.5" fill="#000" fill-opacity="0.8" filter="url(#bl)"/>
<rect x="48" y="114" width="58.8" height="10.6" fill="#b8b8b8" stroke="#555" stroke-width="0.8"/>
<rect x="48.82" y="117.53" width="10.11" height="4.6" rx="1.5" fill="#000" fill-opacity="0.92" filter="url(#bl)"/>
<rect x="60.58" y="117.53" width="10.11" height="4.6" rx="1.5" fill="#000" fill-opacity="0.6" filter="url(#bl)"/>
<rect x="72.34" y="117.53" width="10.11" height="4.6" rx="1.5" fill="#000" fill-opacity="0.7" filter="url(#bl)"/>
<rect x="84.1" y="117.53" width="10.11" height="4.6" rx="1.5" fill="#000" fill-opacity="0.92" filter="url(#bl)"/>
<rect x="95.86" y="117.53" width="10.11" height="4.6" rx="1.5" fill="#000" fill-opacity="0.96" filter="url(#bl)"/>
<rect x="48" y="126.1" width="58.8" height="11.1" fill="#d4d4d4" stroke="#555" stroke-width="0.8"/>
<rect x="49.18" y="131.34" width="9.41" height="2.4" rx="1.2" fill="#000" fill-opacity="0.6" filter="url(#bl)"/>
<rect x="60.94" y="131.34" width="9.41" height="2.4" rx="1.2" fill="#000" fill-opacity="0.15" filter="url(#bl)"/>
<rect x="72.7" y="131.34" width="9.41" height="2.4" rx="1.2" fill="#000" fill-opacity="0.1" filter="url(#bl)"/>
<rect x="84.46" y="131.34" width="9.41" height="2.4" rx="1.2" fill="#000" fill-opacity="0.35" filter="url(#bl)"/>
<rect x="96.22" y="131.34" width="9.41" height="2.4" rx="1.2" fill="#000" fill-opacity="0.3" filter="url(#bl)"/>
<rect x="75.64" y="134.97" width="3.53" height="1.8" rx="0.9" fill="#000" fill-opacity="0.6" filter="url(#bl)"/>
<rect x="48" y="138.6" width="58.8" height="10.3" fill="#ececec" stroke="#555" stroke-width="0.8"/>
<rect x="48.88" y="141.94" width="10" height="3.2" rx="1.5" fill="#000" fill-opacity="0.92" filter="url(#bl)"/>
<rect x="60.64" y="141.94" width="10" height="3.2" rx="1.5" fill="#000" fill-opacity="0.9" filter="url(#bl)"/>
<rect x="72.4" y="141.94" width="10" height="3.2" rx="1.5" fill="#000" fill-opacity="0.88" filter="url(#bl)"/>
<rect x="84.16" y="141.94" width="10" height="3.2" rx="1.5" fill="#000" fill-opacity="0.9" filter="url(#bl)"/>
<rect x="95.92" y="141.94" width="10" height="3.2" rx="1.5" fill="#000" fill-opacity="0.88" filter="url(#bl)"/>
<text x="44.6" y="86.42" font-size="7.7" text-anchor="end">PIK3CB</text>
<text x="44.6" y="98.32" font-size="7.7" text-anchor="end">hnRNPL</text>
<text x="44.6" y="110.07" font-size="7.7" text-anchor="end">p-AKT</text>
<text x="44.6" y="122.07" font-size="7.7" text-anchor="end">p-PFKFB2</text>
<text x="44.6" y="134.42" font-size="7.7" text-anchor="end">p-PKM2</text>
<text x="44.6" y="146.52" font-size="7.7" text-anchor="end">GAPDH</text>
<rect x="118.3" y="78.4" width="56.5" height="9.9" fill="#7c7c7c" stroke="#555" stroke-width="0.8"/>
<rect x="119.43" y="82.15" width="9.04" height="2.8" rx="1.4" fill="#000" fill-opacity="0.8" filter="url(#bl)"/>
<rect x="130.73" y="82.15" width="9.04" height="2.8" rx="1.4" fill="#000" fill-opacity="0.75" filter="url(#bl)"/>
<rect x="142.03" y="82.15" width="9.04" height="2.8" rx="1.4" fill="#000" fill-opacity="0.75" filter="url(#bl)"/>
<rect x="153.33" y="82.15" width="9.04" height="2.8" rx="1.4" fill="#000" fill-opacity="0.75" filter="url(#bl)"/>
<rect x="164.63" y="82.15" width="9.04" height="2.8" rx="1.4" fill="#000" fill-opacity="0.65" filter="url(#bl)"/>
<rect x="118.75" y="79.95" width="10.4" height="6.8" rx="1.5" fill="#000" fill-opacity="0.95" filter="url(#bl)"/>
<rect x="117.73" y="79.35" width="12.43" height="8" rx="1.5" fill="#000" fill-opacity="0.35" filter="url(#bl)"/>
<rect x="129.6" y="79.35" width="11.3" height="8" rx="1.5" fill="#000" fill-opacity="0.25" filter="url(#bl)"/>
<rect x="118.3" y="90.2" width="56.5" height="9" fill="#e0e0e0" stroke="#555" stroke-width="0.8"/>
<rect x="119.15" y="92.98" width="9.61" height="3.8" rx="1.5" fill="#000" fill-opacity="0.97" filter="url(#bl)"/>
<rect x="130.45" y="92.98" width="9.61" height="3.8" rx="1.5" fill="#000" fill-opacity="0.75" filter="url(#bl)"/>
<rect x="141.75" y="92.98" width="9.61" height="3.8" rx="1.5" fill="#000" fill-opacity="0.75" filter="url(#bl)"/>
<rect x="153.05" y="92.98" width="9.61" height="3.8" rx="1.5" fill="#000" fill-opacity="0.75" filter="url(#bl)"/>
<rect x="164.35" y="92.98" width="9.61" height="3.8" rx="1.5" fill="#000" fill-opacity="0.72" filter="url(#bl)"/>
<rect x="118.3" y="101.1" width="56.5" height="10.2" fill="#ececec" stroke="#555" stroke-width="0.8"/>
<rect x="119.15" y="104.9" width="9.61" height="3" rx="1.5" fill="#000" fill-opacity="0.92" filter="url(#bl)"/>
<rect x="130.45" y="104.9" width="9.61" height="3" rx="1.5" fill="#000" fill-opacity="0.3" filter="url(#bl)"/>
<rect x="141.75" y="104.9" width="9.61" height="3" rx="1.5" fill="#000" fill-opacity="0.65" filter="url(#bl)"/>
<rect x="153.05" y="104.9" width="9.61" height="3" rx="1.5" fill="#000" fill-opacity="0.8" filter="url(#bl)"/>
<rect x="164.35" y="104.9" width="9.61" height="3" rx="1.5" fill="#000" fill-opacity="0.88" filter="url(#bl)"/>
<rect x="118.3" y="112.8" width="56.5" height="12.5" fill="#a8a8a8" stroke="#555" stroke-width="0.8"/>
<rect x="119.15" y="114.52" width="9.61" height="2.8" rx="1.4" fill="#000" fill-opacity="0.8" filter="url(#bl)"/>
<rect x="130.45" y="114.52" width="9.61" height="2.8" rx="1.4" fill="#000" fill-opacity="0.45" filter="url(#bl)"/>
<rect x="141.75" y="114.52" width="9.61" height="2.8" rx="1.4" fill="#000" fill-opacity="0.65" filter="url(#bl)"/>
<rect x="153.05" y="114.52" width="9.61" height="2.8" rx="1.4" fill="#000" fill-opacity="0.45" filter="url(#bl)"/>
<rect x="164.35" y="114.52" width="9.61" height="2.8" rx="1.4" fill="#000" fill-opacity="0.5" filter="url(#bl)"/>
<rect x="119.15" y="118.55" width="9.61" height="3" rx="1.5" fill="#000" fill-opacity="0.85" filter="url(#bl)"/>
<rect x="130.45" y="118.55" width="9.61" height="3" rx="1.5" fill="#000" fill-opacity="0.5" filter="url(#bl)"/>
<rect x="141.75" y="118.55" width="9.61" height="3" rx="1.5" fill="#000" fill-opacity="0.7" filter="url(#bl)"/>
<rect x="153.05" y="121.05" width="9.61" height="3" rx="1.5" fill="#000" fill-opacity="0.97" filter="url(#bl)"/>
<rect x="164.35" y="121.2" width="9.61" height="3.2" rx="1.5" fill="#000" fill-opacity="0.98" filter="url(#bl)"/>
<rect x="153.33" y="117.33" width="9.04" height="2.2" rx="1.1" fill="#000" fill-opacity="0.5" filter="url(#bl)"/>
<rect x="164.63" y="117.33" width="9.04" height="2.2" rx="1.1" fill="#000" fill-opacity="0.5" filter="url(#bl)"/>
<rect x="118.3" y="127" width="56.5" height="10.2" fill="#b4b4b4" stroke="#555" stroke-width="0.8"/>
<rect x="119.43" y="131.42" width="9.04" height="3" rx="1.5" fill="#000" fill-opacity="0.35" filter="url(#bl)"/>
<rect x="130.73" y="131.42" width="9.04" height="3" rx="1.5" fill="#000" fill-opacity="0.3" filter="url(#bl)"/>
<rect x="142.03" y="131.42" width="9.04" height="3" rx="1.5" fill="#000" fill-opacity="0.45" filter="url(#bl)"/>
<rect x="153.33" y="131.42" width="9.04" height="3" rx="1.5" fill="#000" fill-opacity="0.5" filter="url(#bl)"/>
<rect x="164.63" y="131.42" width="9.04" height="3" rx="1.5" fill="#000" fill-opacity="0.15" filter="url(#bl)"/>
<rect x="118.3" y="139.1" width="56.5" height="9.5" fill="#e8e8e8" stroke="#555" stroke-width="0.8"/>
<rect x="119.15" y="142.44" width="9.61" height="3.2" rx="1.5" fill="#000" fill-opacity="0.95" filter="url(#bl)"/>
<rect x="130.45" y="142.44" width="9.61" height="3.2" rx="1.5" fill="#000" fill-opacity="0.95" filter="url(#bl)"/>
<rect x="141.75" y="142.44" width="9.61" height="3.2" rx="1.5" fill="#000" fill-opacity="0.95" filter="url(#bl)"/>
<rect x="153.05" y="142.44" width="9.61" height="3.2" rx="1.5" fill="#000" fill-opacity="0.95" filter="url(#bl)"/>
<rect x="164.35" y="142.44" width="9.61" height="3.2" rx="1.5" fill="#000" fill-opacity="0.95" filter="url(#bl)"/>
<text x="53.08" y="76.5" font-size="8" transform="rotate(-45 53.08 76.5)">shNC</text>
<text x="64.84" y="76.5" font-size="8" transform="rotate(-45 64.84 76.5)">shHL-1</text>
<text x="76.6" y="76.5" font-size="8" transform="rotate(-45 76.6 76.5)">shHL-2</text>
<text x="88.36" y="76.5" font-size="8" transform="rotate(-45 88.36 76.5)">shHL-1_SC79</text>
<text x="100.12" y="76.5" font-size="8" transform="rotate(-45 100.12 76.5)">shHL-2_SC79</text>
<text x="123.04" y="76.5" font-size="8" transform="rotate(-45 123.04 76.5)">shNC</text>
<text x="134.32" y="76.5" font-size="8" transform="rotate(-45 134.32 76.5)">shHL-1</text>
<text x="145.6" y="76.5" font-size="8" transform="rotate(-45 145.6 76.5)">shHL-2</text>
<text x="156.88" y="76.5" font-size="8" transform="rotate(-45 156.88 76.5)">shHL-1_SC79</text>
<text x="168.16" y="76.5" font-size="8" transform="rotate(-45 168.16 76.5)">shHL-2_SC79</text>
<text x="176.5" y="76.5" font-size="5.4" fill="#222">kDa</text>
<line x1="174.6" y1="86.6" x2="176.8" y2="86.6" stroke="#333" stroke-width="0.6"/>
<text x="177.2" y="88.47" font-size="5.2" fill="#222">100</text>
<line x1="174.6" y1="92.8" x2="176.8" y2="92.8" stroke="#333" stroke-width="0.6"/>
<text x="177.2" y="94.67" font-size="5.2" fill="#222">70</text>
<line x1="174.6" y1="109" x2="176.8" y2="109" stroke="#333" stroke-width="0.6"/>
<text x="177.2" y="110.87" font-size="5.2" fill="#222">55</text>
<line x1="174.6" y1="123" x2="176.8" y2="123" stroke="#333" stroke-width="0.6"/>
<text x="177.2" y="124.87" font-size="5.2" fill="#222">55</text>
<line x1="174.6" y1="134" x2="176.8" y2="134" stroke="#333" stroke-width="0.6"/>
<text x="177.2" y="135.87" font-size="5.2" fill="#222">40</text>
<line x1="174.6" y1="145" x2="176.8" y2="145" stroke="#333" stroke-width="0.6"/>
<text x="177.2" y="146.87" font-size="5.2" fill="#222">35</text>
<text x="78" y="159.2" font-size="7.7" text-anchor="middle">OVCAR3</text>
<text x="148.5" y="159.2" font-size="7.7" text-anchor="middle">SKOV3</text>
<rect x="394.4" y="63.2" width="54.6" height="12" fill="#e6e6e6" stroke="#555" stroke-width="0.8"/>
<rect x="395.63" y="67.1" width="11.19" height="3" rx="1.5" fill="#000" fill-opacity="0.9" filter="url(#bl)"/>
<rect x="409.28" y="67.1" width="11.19" height="3" rx="1.5" fill="#000" fill-opacity="0.95" filter="url(#bl)"/>
<rect x="422.93" y="67.1" width="11.19" height="3" rx="1.5" fill="#000" fill-opacity="0.92" filter="url(#bl)"/>
<rect x="436.58" y="67.1" width="11.19" height="3" rx="1.5" fill="#000" fill-opacity="0.92" filter="url(#bl)"/>
<rect x="394.4" y="76.6" width="54.6" height="12.4" fill="#d4d4d4" stroke="#555" stroke-width="0.8"/>
<rect x="395.36" y="81.02" width="11.74" height="4.8" rx="1.5" fill="#000" fill-opacity="0.97" filter="url(#bl)"/>
<rect x="409.01" y="81.02" width="11.74" height="4.8" rx="1.5" fill="#000" fill-opacity="0.99" filter="url(#bl)"/>
<rect x="422.66" y="81.02" width="11.74" height="4.8" rx="1.5" fill="#000" fill-opacity="0.95" filter="url(#bl)"/>
<rect x="436.31" y="81.02" width="11.74" height="4.8" rx="1.5" fill="#000" fill-opacity="0.95" filter="url(#bl)"/>
<rect x="409.42" y="78.7" width="10.92" height="2" rx="1" fill="#000" fill-opacity="0.35" filter="url(#bl)"/>
<rect x="394.4" y="90.4" width="54.6" height="11.4" fill="#f4f4f4" stroke="#555" stroke-width="0.8"/>
<rect x="409.01" y="93.22" width="11.74" height="2.8" rx="1.4" fill="#000" fill-opacity="0.97" filter="url(#bl)"/>
<rect x="422.66" y="93.22" width="11.74" height="2.8" rx="1.4" fill="#000" fill-opacity="0.97" filter="url(#bl)"/>
<rect x="436.31" y="93.22" width="11.74" height="2.8" rx="1.4" fill="#000" fill-opacity="0.97" filter="url(#bl)"/>
<rect x="409.01" y="96.85" width="11.74" height="2.6" rx="1.3" fill="#000" fill-opacity="0.95" filter="url(#bl)"/>
<rect x="422.66" y="96.85" width="11.74" height="2.6" rx="1.3" fill="#000" fill-opacity="0.95" filter="url(#bl)"/>
<rect x="436.31" y="96.85" width="11.74" height="2.6" rx="1.3" fill="#000" fill-opacity="0.95" filter="url(#bl)"/>
<rect x="394.4" y="103.2" width="54.6" height="13.6" fill="#a2a2a2" stroke="#555" stroke-width="0.8"/>
<rect x="395.63" y="107" width="11.19" height="6" rx="1.5" fill="#000" fill-opacity="0.4" filter="url(#bl)"/>
<rect x="409.28" y="107" width="11.19" height="6" rx="1.5" fill="#000" fill-opacity="0.85" filter="url(#bl)"/>
<rect x="422.93" y="107" width="11.19" height="6" rx="1.5" fill="#000" fill-opacity="0.35" filter="url(#bl)"/>
<rect x="436.58" y="107" width="11.19" height="6" rx="1.5" fill="#000" fill-opacity="0.3" filter="url(#bl)"/>
<rect x="394.4" y="118" width="54.6" height="12" fill="#dedede" stroke="#555" stroke-width="0.8"/>
<rect x="395.36" y="122.04" width="11.74" height="4.4" rx="1.5" fill="#000" fill-opacity="0.85" filter="url(#bl)"/>
<rect x="409.01" y="122.04" width="11.74" height="4.4" rx="1.5" fill="#000" fill-opacity="0.98" filter="url(#bl)"/>
<rect x="422.66" y="122.04" width="11.74" height="4.4" rx="1.5" fill="#000" fill-opacity="0.88" filter="url(#bl)"/>
<rect x="436.31" y="122.04" width="11.74" height="4.4" rx="1.5" fill="#000" fill-opacity="0.75" filter="url(#bl)"/>
<rect x="394.4" y="131.4" width="54.6" height="11.8" fill="#f2f2f2" stroke="#555" stroke-width="0.8"/>
<rect x="395.76" y="136.2" width="10.92" height="2.2" rx="1.1" fill="#000" fill-opacity="0.85" filter="url(#bl)"/>
<rect x="409.42" y="136.2" width="10.92" height="2.2" rx="1.1" fill="#000" fill-opacity="0.92" filter="url(#bl)"/>
<rect x="423.06" y="136.2" width="10.92" height="2.2" rx="1.1" fill="#000" fill-opacity="0.85" filter="url(#bl)"/>
<rect x="436.72" y="136.2" width="10.92" height="2.2" rx="1.1" fill="#000" fill-opacity="0.92" filter="url(#bl)"/>
<rect x="394.4" y="144.2" width="54.6" height="11.4" fill="#eeeeee" stroke="#555" stroke-width="0.8"/>
<rect x="395.63" y="148.3" width="11.19" height="3.2" rx="1.5" fill="#000" fill-opacity="0.95" filter="url(#bl)"/>
<rect x="409.28" y="148.3" width="11.19" height="3.2" rx="1.5" fill="#000" fill-opacity="0.95" filter="url(#bl)"/>
<rect x="422.93" y="148.3" width="11.19" height="3.2" rx="1.5" fill="#000" fill-opacity="0.95" filter="url(#bl)"/>
<rect x="436.58" y="148.3" width="11.19" height="3.2" rx="1.5" fill="#000" fill-opacity="0.92" filter="url(#bl)"/>
<text x="391.4" y="71.97" font-size="7.7" text-anchor="end">PIK3CB</text>
<text x="391.4" y="85.57" font-size="7.7" text-anchor="end">hnRNPL</text>
<text x="391.4" y="98.87" font-size="7.7" text-anchor="end">FLAG</text>
<text x="391.4" y="112.77" font-size="7.7" text-anchor="end">p-AKT</text>
<text x="391.4" y="126.77" font-size="7.7" text-anchor="end">p-PFKFB2</text>
<text x="391.4" y="140.07" font-size="7.7" text-anchor="end">p-PKM2</text>
<text x="391.4" y="152.67" font-size="7.7" text-anchor="end">GAPDH</text>
<rect x="460" y="63.6" width="53.6" height="12" fill="#e6e6e6" stroke="#555" stroke-width="0.8"/>
<rect x="461.21" y="68.34" width="10.99" height="3" rx="1.5" fill="#000" fill-opacity="0.8" filter="url(#bl)"/>
<rect x="474.61" y="68.34" width="10.99" height="3" rx="1.5" fill="#000" fill-opacity="0.92" filter="url(#bl)"/>
<rect x="488.01" y="68.34" width="10.99" height="3" rx="1.5" fill="#000" fill-opacity="0.92" filter="url(#bl)"/>
<rect x="501.41" y="68.34" width="10.99" height="3" rx="1.5" fill="#000" fill-opacity="0.95" filter="url(#bl)"/>
<rect x="460" y="77" width="53.6" height="12" fill="#dcdcdc" stroke="#555" stroke-width="0.8"/>
<rect x="460.94" y="81.76" width="11.52" height="4.4" rx="1.5" fill="#000" fill-opacity="0.95" filter="url(#bl)"/>
<rect x="474.34" y="81.76" width="11.52" height="4.4" rx="1.5" fill="#000" fill-opacity="0.92" filter="url(#bl)"/>
<rect x="487.74" y="81.76" width="11.52" height="4.4" rx="1.5" fill="#000" fill-opacity="0.95" filter="url(#bl)"/>
<rect x="501.14" y="81.76" width="11.52" height="4.4" rx="1.5" fill="#000" fill-opacity="0.95" filter="url(#bl)"/>
<rect x="474.74" y="79.1" width="10.72" height="1.8" rx="0.9" fill="#000" fill-opacity="0.3" filter="url(#bl)"/>
<rect x="488.14" y="79.1" width="10.72" height="1.8" rx="0.9" fill="#000" fill-opacity="0.3" filter="url(#bl)"/>
<rect x="501.54" y="79.46" width="10.72" height="1.8" rx="0.9" fill="#000" fill-opacity="0.35" filter="url(#bl)"/>
<rect x="460" y="91" width="53.6" height="11.4" fill="#f4f4f4" stroke="#555" stroke-width="0.8"/>
<rect x="474.61" y="93.25" width="10.99" height="2.8" rx="1.4" fill="#000" fill-opacity="0.97" filter="url(#bl)"/>
<rect x="488.01" y="93.25" width="10.99" height="2.8" rx="1.4" fill="#000" fill-opacity="0.97" filter="url(#bl)"/>
<rect x="501.41" y="93.25" width="10.99" height="2.8" rx="1.4" fill="#000" fill-opacity="0.97" filter="url(#bl)"/>
<rect x="475.41" y="98.31" width="9.38" height="1.8" rx="0.9" fill="#000" fill-opacity="0.22" filter="url(#bl)"/>
<rect x="488.81" y="98.31" width="9.38" height="1.8" rx="0.9" fill="#000" fill-opacity="0.22" filter="url(#bl)"/>
<rect x="502.21" y="98.31" width="9.38" height="1.8" rx="0.9" fill="#000" fill-opacity="0.25" filter="url(#bl)"/>
<rect x="460" y="104" width="53.6" height="12.4" fill="#f0f0f0" stroke="#555" stroke-width="0.8"/>
<rect x="461.21" y="108.5" width="10.99" height="3.4" rx="1.5" fill="#000" fill-opacity="0.92" filter="url(#bl)"/>
<rect x="474.61" y="108.5" width="10.99" height="3.4" rx="1.5" fill="#000" fill-opacity="0.92" filter="url(#bl)"/>
<rect x="488.01" y="108.5" width="10.99" height="3.4" rx="1.5" fill="#000" fill-opacity="0.92" filter="url(#bl)"/>
<rect x="501.41" y="108.5" width="10.99" height="3.4" rx="1.5" fill="#000" fill-opacity="0.55" filter="url(#bl)"/>
<rect x="460" y="118.4" width="53.6" height="10.8" fill="#f0f0f0" stroke="#555" stroke-width="0.8"/>
<rect x="461.21" y="122.4" width="10.99" height="2.8" rx="1.4" fill="#000" fill-opacity="0.85" filter="url(#bl)"/>
<rect x="474.61" y="122.4" width="10.99" height="2.8" rx="1.4" fill="#000" fill-opacity="0.92" filter="url(#bl)"/>
<rect x="488.01" y="122.4" width="10.99" height="2.8" rx="1.4" fill="#000" fill-opacity="0.6" filter="url(#bl)"/>
<rect x="501.41" y="122.4" width="10.99" height="2.8" rx="1.4" fill="#000" fill-opacity="0.7" filter="url(#bl)"/>
<rect x="460" y="131" width="53.6" height="12" fill="#e0e0e0" stroke="#555" stroke-width="0.8"/>
<rect x="461.21" y="134.9" width="10.99" height="4.2" rx="1.5" fill="#000" fill-opacity="0.5" filter="url(#bl)"/>
<rect x="474.61" y="134.9" width="10.99" height="4.2" rx="1.5" fill="#000" fill-opacity="0.95" filter="url(#bl)"/>
<rect x="488.01" y="134.9" width="10.99" height="4.2" rx="1.5" fill="#000" fill-opacity="0.85" filter="url(#bl)"/>
<rect x="501.41" y="134.9" width="10.99" height="4.2" rx="1.5" fill="#000" fill-opacity="0.2" filter="url(#bl)"/>
<rect x="488.81" y="131.8" width="9.38" height="2" rx="1" fill="#000" fill-opacity="0.35" filter="url(#bl)"/>
<rect x="460" y="144.4" width="53.6" height="11.2" fill="#eeeeee" stroke="#555" stroke-width="0.8"/>
<rect x="460.94" y="148" width="11.52" height="4" rx="1.5" fill="#000" fill-opacity="0.99" filter="url(#bl)"/>
<rect x="474.34" y="148" width="11.52" height="4" rx="1.5" fill="#000" fill-opacity="0.97" filter="url(#bl)"/>
<rect x="487.74" y="148" width="11.52" height="4" rx="1.5" fill="#000" fill-opacity="0.95" filter="url(#bl)"/>
<rect x="501.14" y="148" width="11.52" height="4" rx="1.5" fill="#000" fill-opacity="0.97" filter="url(#bl)"/>
<text x="401.72" y="61" font-size="6.6" transform="rotate(-45 401.72 61)">Control</text>
<text x="415.38" y="61" font-size="6.6" transform="rotate(-45 415.38 61)">hnRNPL</text>
<text x="429.02" y="61" font-size="6.6" transform="rotate(-45 429.02 61)">hnRNPL+TGX221</text>
<text x="442.68" y="61" font-size="6.6" transform="rotate(-45 442.68 61)">hnRNPL+PI-103</text>
<text x="467.2" y="61" font-size="6.6" transform="rotate(-45 467.2 61)">Control</text>
<text x="480.6" y="61" font-size="6.6" transform="rotate(-45 480.6 61)">hnRNPL</text>
<text x="494" y="61" font-size="6.6" transform="rotate(-45 494 61)">hnRNPL+TGX221</text>
<text x="507.4" y="61" font-size="6.6" transform="rotate(-45 507.4 61)">hnRNPL+PI-103</text>
<text x="515.5" y="61.5" font-size="5.4" fill="#222">kDa</text>
<line x1="513.6" y1="71.6" x2="515.8" y2="71.6" stroke="#333" stroke-width="0.6"/>
<text x="516.2" y="73.47" font-size="5.2" fill="#222">100</text>
<line x1="513.6" y1="83.6" x2="515.8" y2="83.6" stroke="#333" stroke-width="0.6"/>
<text x="516.2" y="85.47" font-size="5.2" fill="#222">70</text>
<line x1="513.6" y1="98" x2="515.8" y2="98" stroke="#333" stroke-width="0.6"/>
<text x="516.2" y="99.87" font-size="5.2" fill="#222">70</text>
<line x1="513.6" y1="112" x2="515.8" y2="112" stroke="#333" stroke-width="0.6"/>
<text x="516.2" y="113.87" font-size="5.2" fill="#222">55</text>
<line x1="513.6" y1="123.4" x2="515.8" y2="123.4" stroke="#333" stroke-width="0.6"/>
<text x="516.2" y="125.27" font-size="5.2" fill="#222">55</text>
<line x1="513.6" y1="138" x2="515.8" y2="138" stroke="#333" stroke-width="0.6"/>
<text x="516.2" y="139.87" font-size="5.2" fill="#222">40</text>
<line x1="513.6" y1="153" x2="515.8" y2="153" stroke="#333" stroke-width="0.6"/>
<text x="516.2" y="154.87" font-size="5.2" fill="#222">35</text>
<text x="421.5" y="165" font-size="7.7" text-anchor="middle">OVCAR3</text>
<text x="488" y="165" font-size="7.7" text-anchor="middle">SKOV3</text>
<text x="1" y="10.5" font-size="12" font-weight="bold" fill="#000">a</text>
<text x="210" y="10.5" font-size="12" font-weight="bold" fill="#000">b</text>
<text x="1" y="196.2" font-size="12" font-weight="bold" fill="#000">c</text>
<text x="357" y="10.5" font-size="12" font-weight="bold" fill="#000">d</text>
<text x="546.5" y="10.5" font-size="12" font-weight="bold" fill="#000">e</text>
<text x="336.5" y="197" font-size="12" font-weight="bold" fill="#000">f</text>
<text x="1" y="327.2" font-size="12" font-weight="bold" fill="#000">g</text>
<text x="359.8" y="332.2" font-size="12" font-weight="bold" fill="#000">h</text>
<text x="1" y="454.2" font-size="12" font-weight="bold" fill="#000">i</text>
<text x="360.5" y="454.4" font-size="12" font-weight="bold" fill="#000">j</text>
<text x="1" y="575.2" font-size="12" font-weight="bold" fill="#000">k</text>
<text x="383.6" y="571" font-size="12" font-weight="bold" fill="#000">l</text>
<text x="0.8" y="701.2" font-size="12" font-weight="bold" fill="#000">m</text>
<text x="293.8" y="701.2" font-size="12" font-weight="bold" fill="#000">n</text>
<line x1="392.77" y1="393.63" x2="392.77" y2="394.62" stroke="#f08c30" stroke-width="0.8"/>
<line x1="391.47" y1="393.63" x2="394.07" y2="393.63" stroke="#f08c30" stroke-width="0.8"/>
<line x1="391.47" y1="394.62" x2="394.07" y2="394.62" stroke="#f08c30" stroke-width="0.8"/>
<line x1="401.07" y1="394.57" x2="401.07" y2="395.57" stroke="#f08c30" stroke-width="0.8"/>
<line x1="399.77" y1="394.57" x2="402.37" y2="394.57" stroke="#f08c30" stroke-width="0.8"/>
<line x1="399.77" y1="395.57" x2="402.37" y2="395.57" stroke="#f08c30" stroke-width="0.8"/>
<line x1="409.37" y1="396" x2="409.37" y2="396.99" stroke="#f08c30" stroke-width="0.8"/>
<line x1="408.07" y1="396" x2="410.67" y2="396" stroke="#f08c30" stroke-width="0.8"/>
<line x1="408.07" y1="396.99" x2="410.67" y2="396.99" stroke="#f08c30" stroke-width="0.8"/>
<line x1="417.68" y1="376.59" x2="417.68" y2="379.43" stroke="#f08c30" stroke-width="0.8"/>
<line x1="416.38" y1="376.59" x2="418.98" y2="376.59" stroke="#f08c30" stroke-width="0.8"/>
<line x1="416.38" y1="379.43" x2="418.98" y2="379.43" stroke="#f08c30" stroke-width="0.8"/>
<line x1="425.98" y1="375.64" x2="425.98" y2="378.48" stroke="#f08c30" stroke-width="0.8"/>
<line x1="424.68" y1="375.64" x2="427.28" y2="375.64" stroke="#f08c30" stroke-width="0.8"/>
<line x1="424.68" y1="378.48" x2="427.28" y2="378.48" stroke="#f08c30" stroke-width="0.8"/>
<line x1="434.29" y1="375.16" x2="434.29" y2="378.01" stroke="#f08c30" stroke-width="0.8"/>
<line x1="432.99" y1="375.16" x2="435.59" y2="375.16" stroke="#f08c30" stroke-width="0.8"/>
<line x1="432.99" y1="378.01" x2="435.59" y2="378.01" stroke="#f08c30" stroke-width="0.8"/>
<line x1="442.59" y1="375.16" x2="442.59" y2="378.01" stroke="#f08c30" stroke-width="0.8"/>
<line x1="441.29" y1="375.16" x2="443.89" y2="375.16" stroke="#f08c30" stroke-width="0.8"/>
<line x1="441.29" y1="378.01" x2="443.89" y2="378.01" stroke="#f08c30" stroke-width="0.8"/>
<line x1="450.9" y1="375.16" x2="450.9" y2="378.01" stroke="#f08c30" stroke-width="0.8"/>
<line x1="449.6" y1="375.16" x2="452.2" y2="375.16" stroke="#f08c30" stroke-width="0.8"/>
<line x1="449.6" y1="378.01" x2="452.2" y2="378.01" stroke="#f08c30" stroke-width="0.8"/>
<line x1="459.2" y1="375.64" x2="459.2" y2="378.48" stroke="#f08c30" stroke-width="0.8"/>
<line x1="457.9" y1="375.64" x2="460.5" y2="375.64" stroke="#f08c30" stroke-width="0.8"/>
<line x1="457.9" y1="378.48" x2="460.5" y2="378.48" stroke="#f08c30" stroke-width="0.8"/>
<line x1="467.51" y1="401.28" x2="467.51" y2="402.13" stroke="#f08c30" stroke-width="0.8"/>
<line x1="466.21" y1="401.28" x2="468.81" y2="401.28" stroke="#f08c30" stroke-width="0.8"/>
<line x1="466.21" y1="402.13" x2="468.81" y2="402.13" stroke="#f08c30" stroke-width="0.8"/>
<line x1="475.81" y1="403.18" x2="475.81" y2="404.03" stroke="#f08c30" stroke-width="0.8"/>
<line x1="474.51" y1="403.18" x2="477.11" y2="403.18" stroke="#f08c30" stroke-width="0.8"/>
<line x1="474.51" y1="404.03" x2="477.11" y2="404.03" stroke="#f08c30" stroke-width="0.8"/>
<line x1="484.12" y1="404.13" x2="484.12" y2="404.98" stroke="#f08c30" stroke-width="0.8"/>
<line x1="482.81" y1="404.13" x2="485.42" y2="404.13" stroke="#f08c30" stroke-width="0.8"/>
<line x1="482.81" y1="404.98" x2="485.42" y2="404.98" stroke="#f08c30" stroke-width="0.8"/>
<polyline points="392.77,394.12 401.07,395.07 409.37,396.49 417.68,378.01 425.98,377.06 434.29,376.59 442.59,376.59 450.9,376.59 459.2,377.06 467.51,401.71 475.81,403.6 484.12,404.55" fill="none" stroke="#f08c30" stroke-width="1.3"/>
<circle cx="392.77" cy="394.12" r="1.2" fill="#f08c30"/>
<circle cx="401.07" cy="395.07" r="1.2" fill="#f08c30"/>
<circle cx="409.37" cy="396.49" r="1.2" fill="#f08c30"/>
<circle cx="417.68" cy="378.01" r="1.2" fill="#f08c30"/>
<circle cx="425.98" cy="377.06" r="1.2" fill="#f08c30"/>
<circle cx="434.29" cy="376.59" r="1.2" fill="#f08c30"/>
<circle cx="442.59" cy="376.59" r="1.2" fill="#f08c30"/>
<circle cx="450.9" cy="376.59" r="1.2" fill="#f08c30"/>
<circle cx="459.2" cy="377.06" r="1.2" fill="#f08c30"/>
<circle cx="467.51" cy="401.71" r="1.2" fill="#f08c30"/>
<circle cx="475.81" cy="403.6" r="1.2" fill="#f08c30"/>
<circle cx="484.12" cy="404.55" r="1.2" fill="#f08c30"/>
<line x1="392.77" y1="396.14" x2="392.77" y2="397.8" stroke="#9040c8" stroke-width="0.8"/>
<line x1="391.47" y1="396.14" x2="394.07" y2="396.14" stroke="#9040c8" stroke-width="0.8"/>
<line x1="391.47" y1="397.8" x2="394.07" y2="397.8" stroke="#9040c8" stroke-width="0.8"/>
<line x1="401.07" y1="396.61" x2="401.07" y2="398.27" stroke="#9040c8" stroke-width="0.8"/>
<line x1="399.77" y1="396.61" x2="402.37" y2="396.61" stroke="#9040c8" stroke-width="0.8"/>
<line x1="399.77" y1="398.27" x2="402.37" y2="398.27" stroke="#9040c8" stroke-width="0.8"/>
<line x1="409.37" y1="397.56" x2="409.37" y2="399.22" stroke="#9040c8" stroke-width="0.8"/>
<line x1="408.07" y1="397.56" x2="410.67" y2="397.56" stroke="#9040c8" stroke-width="0.8"/>
<line x1="408.07" y1="399.22" x2="410.67" y2="399.22" stroke="#9040c8" stroke-width="0.8"/>
<line x1="417.68" y1="389.86" x2="417.68" y2="394.6" stroke="#9040c8" stroke-width="0.8"/>
<line x1="416.38" y1="389.86" x2="418.98" y2="389.86" stroke="#9040c8" stroke-width="0.8"/>
<line x1="416.38" y1="394.6" x2="418.98" y2="394.6" stroke="#9040c8" stroke-width="0.8"/>
<line x1="425.98" y1="389.86" x2="425.98" y2="394.6" stroke="#9040c8" stroke-width="0.8"/>
<line x1="424.68" y1="389.86" x2="427.28" y2="389.86" stroke="#9040c8" stroke-width="0.8"/>
<line x1="424.68" y1="394.6" x2="427.28" y2="394.6" stroke="#9040c8" stroke-width="0.8"/>
<line x1="434.29" y1="389.86" x2="434.29" y2="394.6" stroke="#9040c8" stroke-width="0.8"/>
<line x1="432.99" y1="389.86" x2="435.59" y2="389.86" stroke="#9040c8" stroke-width="0.8"/>
<line x1="432.99" y1="394.6" x2="435.59" y2="394.6" stroke="#9040c8" stroke-width="0.8"/>
<line x1="442.59" y1="388.91" x2="442.59" y2="393.65" stroke="#9040c8" stroke-width="0.8"/>
<line x1="441.29" y1="388.91" x2="443.89" y2="388.91" stroke="#9040c8" stroke-width="0.8"/>
<line x1="441.29" y1="393.65" x2="443.89" y2="393.65" stroke="#9040c8" stroke-width="0.8"/>
<line x1="450.9" y1="388.91" x2="450.9" y2="393.65" stroke="#9040c8" stroke-width="0.8"/>
<line x1="449.6" y1="388.91" x2="452.2" y2="388.91" stroke="#9040c8" stroke-width="0.8"/>
<line x1="449.6" y1="393.65" x2="452.2" y2="393.65" stroke="#9040c8" stroke-width="0.8"/>
<line x1="459.2" y1="389.86" x2="459.2" y2="394.6" stroke="#9040c8" stroke-width="0.8"/>
<line x1="457.9" y1="389.86" x2="460.5" y2="389.86" stroke="#9040c8" stroke-width="0.8"/>
<line x1="457.9" y1="394.6" x2="460.5" y2="394.6" stroke="#9040c8" stroke-width="0.8"/>
<line x1="467.51" y1="402.42" x2="467.51" y2="403.84" stroke="#9040c8" stroke-width="0.8"/>
<line x1="466.21" y1="402.42" x2="468.81" y2="402.42" stroke="#9040c8" stroke-width="0.8"/>
<line x1="466.21" y1="403.84" x2="468.81" y2="403.84" stroke="#9040c8" stroke-width="0.8"/>
<line x1="475.81" y1="403.84" x2="475.81" y2="405.26" stroke="#9040c8" stroke-width="0.8"/>
<line x1="474.51" y1="403.84" x2="477.11" y2="403.84" stroke="#9040c8" stroke-width="0.8"/>
<line x1="474.51" y1="405.26" x2="477.11" y2="405.26" stroke="#9040c8" stroke-width="0.8"/>
<line x1="484.12" y1="404.31" x2="484.12" y2="405.74" stroke="#9040c8" stroke-width="0.8"/>
<line x1="482.81" y1="404.31" x2="485.42" y2="404.31" stroke="#9040c8" stroke-width="0.8"/>
<line x1="482.81" y1="405.74" x2="485.42" y2="405.74" stroke="#9040c8" stroke-width="0.8"/>
<polyline points="392.77,396.97 401.07,397.44 409.37,398.39 417.68,392.23 425.98,392.23 434.29,392.23 442.59,391.28 450.9,391.28 459.2,392.23 467.51,403.13 475.81,404.55 484.12,405.03" fill="none" stroke="#9040c8" stroke-width="1.3"/>
<circle cx="392.77" cy="396.97" r="1.2" fill="#9040c8"/>
<circle cx="401.07" cy="397.44" r="1.2" fill="#9040c8"/>
<circle cx="409.37" cy="398.39" r="1.2" fill="#9040c8"/>
<circle cx="417.68" cy="392.23" r="1.2" fill="#9040c8"/>
<circle cx="425.98" cy="392.23" r="1.2" fill="#9040c8"/>
<circle cx="434.29" cy="392.23" r="1.2" fill="#9040c8"/>
<circle cx="442.59" cy="391.28" r="1.2" fill="#9040c8"/>
<circle cx="450.9" cy="391.28" r="1.2" fill="#9040c8"/>
<circle cx="459.2" cy="392.23" r="1.2" fill="#9040c8"/>
<circle cx="467.51" cy="403.13" r="1.2" fill="#9040c8"/>
<circle cx="475.81" cy="404.55" r="1.2" fill="#9040c8"/>
<circle cx="484.12" cy="405.03" r="1.2" fill="#9040c8"/>
<line x1="392.77" y1="394.53" x2="392.77" y2="397.51" stroke="#e82828" stroke-width="0.8"/>
<line x1="391.47" y1="394.53" x2="394.07" y2="394.53" stroke="#e82828" stroke-width="0.8"/>
<line x1="391.47" y1="397.51" x2="394.07" y2="397.51" stroke="#e82828" stroke-width="0.8"/>
<line x1="401.07" y1="395.47" x2="401.07" y2="398.46" stroke="#e82828" stroke-width="0.8"/>
<line x1="399.77" y1="395.47" x2="402.37" y2="395.47" stroke="#e82828" stroke-width="0.8"/>
<line x1="399.77" y1="398.46" x2="402.37" y2="398.46" stroke="#e82828" stroke-width="0.8"/>
<line x1="409.37" y1="396.42" x2="409.37" y2="399.41" stroke="#e82828" stroke-width="0.8"/>
<line x1="408.07" y1="396.42" x2="410.67" y2="396.42" stroke="#e82828" stroke-width="0.8"/>
<line x1="408.07" y1="399.41" x2="410.67" y2="399.41" stroke="#e82828" stroke-width="0.8"/>
<line x1="417.68" y1="383.22" x2="417.68" y2="391.75" stroke="#e82828" stroke-width="0.8"/>
<line x1="416.38" y1="383.22" x2="418.98" y2="383.22" stroke="#e82828" stroke-width="0.8"/>
<line x1="416.38" y1="391.75" x2="418.98" y2="391.75" stroke="#e82828" stroke-width="0.8"/>
<line x1="425.98" y1="381.33" x2="425.98" y2="389.86" stroke="#e82828" stroke-width="0.8"/>
<line x1="424.68" y1="381.33" x2="427.28" y2="381.33" stroke="#e82828" stroke-width="0.8"/>
<line x1="424.68" y1="389.86" x2="427.28" y2="389.86" stroke="#e82828" stroke-width="0.8"/>
<line x1="434.29" y1="382.27" x2="434.29" y2="390.81" stroke="#e82828" stroke-width="0.8"/>
<line x1="432.99" y1="382.27" x2="435.59" y2="382.27" stroke="#e82828" stroke-width="0.8"/>
<line x1="432.99" y1="390.81" x2="435.59" y2="390.81" stroke="#e82828" stroke-width="0.8"/>
<line x1="442.59" y1="380.38" x2="442.59" y2="388.91" stroke="#e82828" stroke-width="0.8"/>
<line x1="441.29" y1="380.38" x2="443.89" y2="380.38" stroke="#e82828" stroke-width="0.8"/>
<line x1="441.29" y1="388.91" x2="443.89" y2="388.91" stroke="#e82828" stroke-width="0.8"/>
<line x1="450.9" y1="381.33" x2="450.9" y2="389.86" stroke="#e82828" stroke-width="0.8"/>
<line x1="449.6" y1="381.33" x2="452.2" y2="381.33" stroke="#e82828" stroke-width="0.8"/>
<line x1="449.6" y1="389.86" x2="452.2" y2="389.86" stroke="#e82828" stroke-width="0.8"/>
<line x1="459.2" y1="381.33" x2="459.2" y2="389.86" stroke="#e82828" stroke-width="0.8"/>
<line x1="457.9" y1="381.33" x2="460.5" y2="381.33" stroke="#e82828" stroke-width="0.8"/>
<line x1="457.9" y1="389.86" x2="460.5" y2="389.86" stroke="#e82828" stroke-width="0.8"/>
<line x1="467.51" y1="400.52" x2="467.51" y2="402.89" stroke="#e82828" stroke-width="0.8"/>
<line x1="466.21" y1="400.52" x2="468.81" y2="400.52" stroke="#e82828" stroke-width="0.8"/>
<line x1="466.21" y1="402.89" x2="468.81" y2="402.89" stroke="#e82828" stroke-width="0.8"/>
<line x1="475.81" y1="402.89" x2="475.81" y2="405.26" stroke="#e82828" stroke-width="0.8"/>
<line x1="474.51" y1="402.89" x2="477.11" y2="402.89" stroke="#e82828" stroke-width="0.8"/>
<line x1="474.51" y1="405.26" x2="477.11" y2="405.26" stroke="#e82828" stroke-width="0.8"/>
<line x1="484.12" y1="403.84" x2="484.12" y2="406.21" stroke="#e82828" stroke-width="0.8"/>
<line x1="482.81" y1="403.84" x2="485.42" y2="403.84" stroke="#e82828" stroke-width="0.8"/>
<line x1="482.81" y1="406.21" x2="485.42" y2="406.21" stroke="#e82828" stroke-width="0.8"/>
<polyline points="392.77,396.02 401.07,396.97 409.37,397.92 417.68,387.49 425.98,385.59 434.29,386.54 442.59,384.64 450.9,385.59 459.2,385.59 467.51,401.71 475.81,404.08 484.12,405.03" fill="none" stroke="#e82828" stroke-width="1.3"/>
<circle cx="392.77" cy="396.02" r="1.2" fill="#e82828"/>
<circle cx="401.07" cy="396.97" r="1.2" fill="#e82828"/>
<circle cx="409.37" cy="397.92" r="1.2" fill="#e82828"/>
<circle cx="417.68" cy="387.49" r="1.2" fill="#e82828"/>
<circle cx="425.98" cy="385.59" r="1.2" fill="#e82828"/>
<circle cx="434.29" cy="386.54" r="1.2" fill="#e82828"/>
<circle cx="442.59" cy="384.64" r="1.2" fill="#e82828"/>
<circle cx="450.9" cy="385.59" r="1.2" fill="#e82828"/>
<circle cx="459.2" cy="385.59" r="1.2" fill="#e82828"/>
<circle cx="467.51" cy="401.71" r="1.2" fill="#e82828"/>
<circle cx="475.81" cy="404.08" r="1.2" fill="#e82828"/>
<circle cx="484.12" cy="405.03" r="1.2" fill="#e82828"/>
<line x1="392.77" y1="393.15" x2="392.77" y2="394.15" stroke="#48c048" stroke-width="0.8"/>
<line x1="391.47" y1="393.15" x2="394.07" y2="393.15" stroke="#48c048" stroke-width="0.8"/>
<line x1="391.47" y1="394.15" x2="394.07" y2="394.15" stroke="#48c048" stroke-width="0.8"/>
<line x1="401.07" y1="394.1" x2="401.07" y2="395.1" stroke="#48c048" stroke-width="0.8"/>
<line x1="399.77" y1="394.1" x2="402.37" y2="394.1" stroke="#48c048" stroke-width="0.8"/>
<line x1="399.77" y1="395.1" x2="402.37" y2="395.1" stroke="#48c048" stroke-width="0.8"/>
<line x1="409.37" y1="395.52" x2="409.37" y2="396.52" stroke="#48c048" stroke-width="0.8"/>
<line x1="408.07" y1="395.52" x2="410.67" y2="395.52" stroke="#48c048" stroke-width="0.8"/>
<line x1="408.07" y1="396.52" x2="410.67" y2="396.52" stroke="#48c048" stroke-width="0.8"/>
<line x1="417.68" y1="374.69" x2="417.68" y2="377.53" stroke="#48c048" stroke-width="0.8"/>
<line x1="416.38" y1="374.69" x2="418.98" y2="374.69" stroke="#48c048" stroke-width="0.8"/>
<line x1="416.38" y1="377.53" x2="418.98" y2="377.53" stroke="#48c048" stroke-width="0.8"/>
<line x1="425.98" y1="372.79" x2="425.98" y2="375.64" stroke="#48c048" stroke-width="0.8"/>
<line x1="424.68" y1="372.79" x2="427.28" y2="372.79" stroke="#48c048" stroke-width="0.8"/>
<line x1="424.68" y1="375.64" x2="427.28" y2="375.64" stroke="#48c048" stroke-width="0.8"/>
<line x1="434.29" y1="372.79" x2="434.29" y2="375.64" stroke="#48c048" stroke-width="0.8"/>
<line x1="432.99" y1="372.79" x2="435.59" y2="372.79" stroke="#48c048" stroke-width="0.8"/>
<line x1="432.99" y1="375.64" x2="435.59" y2="375.64" stroke="#48c048" stroke-width="0.8"/>
<line x1="442.59" y1="370.9" x2="442.59" y2="373.74" stroke="#48c048" stroke-width="0.8"/>
<line x1="441.29" y1="370.9" x2="443.89" y2="370.9" stroke="#48c048" stroke-width="0.8"/>
<line x1="441.29" y1="373.74" x2="443.89" y2="373.74" stroke="#48c048" stroke-width="0.8"/>
<line x1="450.9" y1="371.37" x2="450.9" y2="374.22" stroke="#48c048" stroke-width="0.8"/>
<line x1="449.6" y1="371.37" x2="452.2" y2="371.37" stroke="#48c048" stroke-width="0.8"/>
<line x1="449.6" y1="374.22" x2="452.2" y2="374.22" stroke="#48c048" stroke-width="0.8"/>
<line x1="459.2" y1="371.85" x2="459.2" y2="374.69" stroke="#48c048" stroke-width="0.8"/>
<line x1="457.9" y1="371.85" x2="460.5" y2="371.85" stroke="#48c048" stroke-width="0.8"/>
<line x1="457.9" y1="374.69" x2="460.5" y2="374.69" stroke="#48c048" stroke-width="0.8"/>
<line x1="467.51" y1="400.33" x2="467.51" y2="401.19" stroke="#48c048" stroke-width="0.8"/>
<line x1="466.21" y1="400.33" x2="468.81" y2="400.33" stroke="#48c048" stroke-width="0.8"/>
<line x1="466.21" y1="401.19" x2="468.81" y2="401.19" stroke="#48c048" stroke-width="0.8"/>
<line x1="475.81" y1="402.7" x2="475.81" y2="403.56" stroke="#48c048" stroke-width="0.8"/>
<line x1="474.51" y1="402.7" x2="477.11" y2="402.7" stroke="#48c048" stroke-width="0.8"/>
<line x1="474.51" y1="403.56" x2="477.11" y2="403.56" stroke="#48c048" stroke-width="0.8"/>
<line x1="484.12" y1="403.65" x2="484.12" y2="404.5" stroke="#48c048" stroke-width="0.8"/>
<line x1="482.81" y1="403.65" x2="485.42" y2="403.65" stroke="#48c048" stroke-width="0.8"/>
<line x1="482.81" y1="404.5" x2="485.42" y2="404.5" stroke="#48c048" stroke-width="0.8"/>
<polyline points="392.77,393.65 401.07,394.6 409.37,396.02 417.68,376.11 425.98,374.22 434.29,374.22 442.59,372.32 450.9,372.79 459.2,373.27 467.51,400.76 475.81,403.13 484.12,404.08" fill="none" stroke="#48c048" stroke-width="1.3"/>
<circle cx="392.77" cy="393.65" r="1.2" fill="#48c048"/>
<circle cx="401.07" cy="394.6" r="1.2" fill="#48c048"/>
<circle cx="409.37" cy="396.02" r="1.2" fill="#48c048"/>
<circle cx="417.68" cy="376.11" r="1.2" fill="#48c048"/>
<circle cx="425.98" cy="374.22" r="1.2" fill="#48c048"/>
<circle cx="434.29" cy="374.22" r="1.2" fill="#48c048"/>
<circle cx="442.59" cy="372.32" r="1.2" fill="#48c048"/>
<circle cx="450.9" cy="372.79" r="1.2" fill="#48c048"/>
<circle cx="459.2" cy="373.27" r="1.2" fill="#48c048"/>
<circle cx="467.51" cy="400.76" r="1.2" fill="#48c048"/>
<circle cx="475.81" cy="403.13" r="1.2" fill="#48c048"/>
<circle cx="484.12" cy="404.08" r="1.2" fill="#48c048"/>
<line x1="392.77" y1="391.04" x2="392.77" y2="394.36" stroke="#2a50c0" stroke-width="0.8"/>
<line x1="391.47" y1="391.04" x2="394.07" y2="391.04" stroke="#2a50c0" stroke-width="0.8"/>
<line x1="391.47" y1="394.36" x2="394.07" y2="394.36" stroke="#2a50c0" stroke-width="0.8"/>
<line x1="401.07" y1="391.99" x2="401.07" y2="395.31" stroke="#2a50c0" stroke-width="0.8"/>
<line x1="399.77" y1="391.99" x2="402.37" y2="391.99" stroke="#2a50c0" stroke-width="0.8"/>
<line x1="399.77" y1="395.31" x2="402.37" y2="395.31" stroke="#2a50c0" stroke-width="0.8"/>
<line x1="409.37" y1="393.41" x2="409.37" y2="396.73" stroke="#2a50c0" stroke-width="0.8"/>
<line x1="408.07" y1="393.41" x2="410.67" y2="393.41" stroke="#2a50c0" stroke-width="0.8"/>
<line x1="408.07" y1="396.73" x2="410.67" y2="396.73" stroke="#2a50c0" stroke-width="0.8"/>
<line x1="417.68" y1="365.68" x2="417.68" y2="375.16" stroke="#2a50c0" stroke-width="0.8"/>
<line x1="416.38" y1="365.68" x2="418.98" y2="365.68" stroke="#2a50c0" stroke-width="0.8"/>
<line x1="416.38" y1="375.16" x2="418.98" y2="375.16" stroke="#2a50c0" stroke-width="0.8"/>
<line x1="425.98" y1="361.89" x2="425.98" y2="371.37" stroke="#2a50c0" stroke-width="0.8"/>
<line x1="424.68" y1="361.89" x2="427.28" y2="361.89" stroke="#2a50c0" stroke-width="0.8"/>
<line x1="424.68" y1="371.37" x2="427.28" y2="371.37" stroke="#2a50c0" stroke-width="0.8"/>
<line x1="434.29" y1="360.94" x2="434.29" y2="370.42" stroke="#2a50c0" stroke-width="0.8"/>
<line x1="432.99" y1="360.94" x2="435.59" y2="360.94" stroke="#2a50c0" stroke-width="0.8"/>
<line x1="432.99" y1="370.42" x2="435.59" y2="370.42" stroke="#2a50c0" stroke-width="0.8"/>
<line x1="442.59" y1="358.57" x2="442.59" y2="368.05" stroke="#2a50c0" stroke-width="0.8"/>
<line x1="441.29" y1="358.57" x2="443.89" y2="358.57" stroke="#2a50c0" stroke-width="0.8"/>
<line x1="441.29" y1="368.05" x2="443.89" y2="368.05" stroke="#2a50c0" stroke-width="0.8"/>
<line x1="450.9" y1="359.05" x2="450.9" y2="368.53" stroke="#2a50c0" stroke-width="0.8"/>
<line x1="449.6" y1="359.05" x2="452.2" y2="359.05" stroke="#2a50c0" stroke-width="0.8"/>
<line x1="449.6" y1="368.53" x2="452.2" y2="368.53" stroke="#2a50c0" stroke-width="0.8"/>
<line x1="459.2" y1="359.05" x2="459.2" y2="368.53" stroke="#2a50c0" stroke-width="0.8"/>
<line x1="457.9" y1="359.05" x2="460.5" y2="359.05" stroke="#2a50c0" stroke-width="0.8"/>
<line x1="457.9" y1="368.53" x2="460.5" y2="368.53" stroke="#2a50c0" stroke-width="0.8"/>
<line x1="467.51" y1="399.57" x2="467.51" y2="401.94" stroke="#2a50c0" stroke-width="0.8"/>
<line x1="466.21" y1="399.57" x2="468.81" y2="399.57" stroke="#2a50c0" stroke-width="0.8"/>
<line x1="466.21" y1="401.94" x2="468.81" y2="401.94" stroke="#2a50c0" stroke-width="0.8"/>
<line x1="475.81" y1="401.94" x2="475.81" y2="404.31" stroke="#2a50c0" stroke-width="0.8"/>
<line x1="474.51" y1="401.94" x2="477.11" y2="401.94" stroke="#2a50c0" stroke-width="0.8"/>
<line x1="474.51" y1="404.31" x2="477.11" y2="404.31" stroke="#2a50c0" stroke-width="0.8"/>
<line x1="484.12" y1="402.89" x2="484.12" y2="405.26" stroke="#2a50c0" stroke-width="0.8"/>
<line x1="482.81" y1="402.89" x2="485.42" y2="402.89" stroke="#2a50c0" stroke-width="0.8"/>
<line x1="482.81" y1="405.26" x2="485.42" y2="405.26" stroke="#2a50c0" stroke-width="0.8"/>
<polyline points="392.77,392.7 401.07,393.65 409.37,395.07 417.68,370.42 425.98,366.63 434.29,365.68 442.59,363.31 450.9,363.79 459.2,363.79 467.51,400.76 475.81,403.13 484.12,404.08" fill="none" stroke="#2a50c0" stroke-width="1.3"/>
<circle cx="392.77" cy="392.7" r="1.2" fill="#2a50c0"/>
<circle cx="401.07" cy="393.65" r="1.2" fill="#2a50c0"/>
<circle cx="409.37" cy="395.07" r="1.2" fill="#2a50c0"/>
<circle cx="417.68" cy="370.42" r="1.2" fill="#2a50c0"/>
<circle cx="425.98" cy="366.63" r="1.2" fill="#2a50c0"/>
<circle cx="434.29" cy="365.68" r="1.2" fill="#2a50c0"/>
<circle cx="442.59" cy="363.31" r="1.2" fill="#2a50c0"/>
<circle cx="450.9" cy="363.79" r="1.2" fill="#2a50c0"/>
<circle cx="459.2" cy="363.79" r="1.2" fill="#2a50c0"/>
<circle cx="467.51" cy="400.76" r="1.2" fill="#2a50c0"/>
<circle cx="475.81" cy="403.13" r="1.2" fill="#2a50c0"/>
<circle cx="484.12" cy="404.08" r="1.2" fill="#2a50c0"/>
<line x1="391.3" y1="333.9" x2="391.3" y2="406.1" stroke="#111" stroke-width="1.2"/>
<line x1="390.7" y1="405.5" x2="489" y2="405.5" stroke="#111" stroke-width="1.2"/>
<line x1="389.1" y1="405.5" x2="391.3" y2="405.5" stroke="#111" stroke-width="0.9"/>
<text x="381.88" y="408.27" font-size="7.7" text-anchor="middle" fill="#222">30</text>
<line x1="389.1" y1="391.28" x2="391.3" y2="391.28" stroke="#111" stroke-width="0.9"/>
<text x="381.88" y="394.05" font-size="7.7" text-anchor="middle" fill="#222">60</text>
<line x1="389.1" y1="377.06" x2="391.3" y2="377.06" stroke="#111" stroke-width="0.9"/>
<text x="381.88" y="379.83" font-size="7.7" text-anchor="middle" fill="#222">90</text>
<line x1="389.1" y1="362.84" x2="391.3" y2="362.84" stroke="#111" stroke-width="0.9"/>
<text x="381.88" y="365.61" font-size="7.7" text-anchor="middle" fill="#222">120</text>
<line x1="389.1" y1="348.62" x2="391.3" y2="348.62" stroke="#111" stroke-width="0.9"/>
<text x="381.88" y="351.39" font-size="7.7" text-anchor="middle" fill="#222">150</text>
<line x1="389.1" y1="334.4" x2="391.3" y2="334.4" stroke="#111" stroke-width="0.9"/>
<text x="381.88" y="337.17" font-size="7.7" text-anchor="middle" fill="#222">180</text>
<line x1="391.3" y1="405.5" x2="391.3" y2="408.1" stroke="#111" stroke-width="0.9"/>
<text x="391.3" y="414.9" font-size="7.7" text-anchor="middle" fill="#222">0</text>
<line x1="410.84" y1="405.5" x2="410.84" y2="408.1" stroke="#111" stroke-width="0.9"/>
<text x="410.84" y="414.9" font-size="7.7" text-anchor="middle" fill="#222">20</text>
<line x1="430.38" y1="405.5" x2="430.38" y2="408.1" stroke="#111" stroke-width="0.9"/>
<text x="430.38" y="414.9" font-size="7.7" text-anchor="middle" fill="#222">40</text>
<line x1="449.92" y1="405.5" x2="449.92" y2="408.1" stroke="#111" stroke-width="0.9"/>
<text x="449.92" y="414.9" font-size="7.7" text-anchor="middle" fill="#222">60</text>
<line x1="469.46" y1="405.5" x2="469.46" y2="408.1" stroke="#111" stroke-width="0.9"/>
<text x="469.46" y="414.9" font-size="7.7" text-anchor="middle" fill="#222">80</text>
<line x1="489" y1="405.5" x2="489" y2="408.1" stroke="#111" stroke-width="0.9"/>
<text x="489" y="414.9" font-size="7.7" text-anchor="middle" fill="#222">100</text>
<text x="440.15" y="422.9" font-size="7.6" text-anchor="middle">Time (minutes)</text>
<text x="435" y="333" font-size="8" text-anchor="middle">OVCAR3</text>
<text x="435" y="341.5" font-size="6.9" text-anchor="middle" fill="#222">Oligomycin</text>
<text x="463.5" y="340.4" font-size="6.9" text-anchor="middle" fill="#222">2-DG</text>
<text x="410.5" y="361.2" font-size="6.9" text-anchor="middle" fill="#222">Glucose</text>
<line x1="410" y1="364" x2="410" y2="373.5" stroke="#111" stroke-width="0.9"/>
<path d="M408.3 371.5 L411.7 371.5 L410 375.5 Z" fill="#111"/>
<line x1="433.6" y1="344" x2="433.6" y2="353.5" stroke="#111" stroke-width="0.9"/>
<path d="M431.9 351.5 L435.3 351.5 L433.6 355.5 Z" fill="#111"/>
<line x1="459.6" y1="344" x2="459.6" y2="353.5" stroke="#111" stroke-width="0.9"/>
<path d="M457.9 351.5 L461.3 351.5 L459.6 355.5 Z" fill="#111"/>
<text x="373" y="370" font-size="7.6" text-anchor="middle" transform="rotate(-90 373 370)">ECAR (mpH/min)</text>
<line x1="526.41" y1="385.73" x2="526.41" y2="387.22" stroke="#f08c30" stroke-width="0.8"/>
<line x1="525.11" y1="385.73" x2="527.71" y2="385.73" stroke="#f08c30" stroke-width="0.8"/>
<line x1="525.11" y1="387.22" x2="527.71" y2="387.22" stroke="#f08c30" stroke-width="0.8"/>
<line x1="534.4" y1="387.5" x2="534.4" y2="389" stroke="#f08c30" stroke-width="0.8"/>
<line x1="533.1" y1="387.5" x2="535.7" y2="387.5" stroke="#f08c30" stroke-width="0.8"/>
<line x1="533.1" y1="389" x2="535.7" y2="389" stroke="#f08c30" stroke-width="0.8"/>
<line x1="542.39" y1="387.15" x2="542.39" y2="388.64" stroke="#f08c30" stroke-width="0.8"/>
<line x1="541.09" y1="387.15" x2="543.69" y2="387.15" stroke="#f08c30" stroke-width="0.8"/>
<line x1="541.09" y1="388.64" x2="543.69" y2="388.64" stroke="#f08c30" stroke-width="0.8"/>
<line x1="550.38" y1="377.25" x2="550.38" y2="381.5" stroke="#f08c30" stroke-width="0.8"/>
<line x1="549.08" y1="377.25" x2="551.68" y2="377.25" stroke="#f08c30" stroke-width="0.8"/>
<line x1="549.08" y1="381.5" x2="551.68" y2="381.5" stroke="#f08c30" stroke-width="0.8"/>
<line x1="558.37" y1="375.47" x2="558.37" y2="379.73" stroke="#f08c30" stroke-width="0.8"/>
<line x1="557.07" y1="375.47" x2="559.67" y2="375.47" stroke="#f08c30" stroke-width="0.8"/>
<line x1="557.07" y1="379.73" x2="559.67" y2="379.73" stroke="#f08c30" stroke-width="0.8"/>
<line x1="566.36" y1="373.69" x2="566.36" y2="377.95" stroke="#f08c30" stroke-width="0.8"/>
<line x1="565.06" y1="373.69" x2="567.66" y2="373.69" stroke="#f08c30" stroke-width="0.8"/>
<line x1="565.06" y1="377.95" x2="567.66" y2="377.95" stroke="#f08c30" stroke-width="0.8"/>
<line x1="574.35" y1="363.75" x2="574.35" y2="368.01" stroke="#f08c30" stroke-width="0.8"/>
<line x1="573.05" y1="363.75" x2="575.65" y2="363.75" stroke="#f08c30" stroke-width="0.8"/>
<line x1="573.05" y1="368.01" x2="575.65" y2="368.01" stroke="#f08c30" stroke-width="0.8"/>
<line x1="582.34" y1="364.11" x2="582.34" y2="368.37" stroke="#f08c30" stroke-width="0.8"/>
<line x1="581.04" y1="364.11" x2="583.64" y2="364.11" stroke="#f08c30" stroke-width="0.8"/>
<line x1="581.04" y1="368.37" x2="583.64" y2="368.37" stroke="#f08c30" stroke-width="0.8"/>
<line x1="590.33" y1="364.11" x2="590.33" y2="368.37" stroke="#f08c30" stroke-width="0.8"/>
<line x1="589.03" y1="364.11" x2="591.63" y2="364.11" stroke="#f08c30" stroke-width="0.8"/>
<line x1="589.03" y1="368.37" x2="591.63" y2="368.37" stroke="#f08c30" stroke-width="0.8"/>
<line x1="598.32" y1="391.16" x2="598.32" y2="392.44" stroke="#f08c30" stroke-width="0.8"/>
<line x1="597.02" y1="391.16" x2="599.62" y2="391.16" stroke="#f08c30" stroke-width="0.8"/>
<line x1="597.02" y1="392.44" x2="599.62" y2="392.44" stroke="#f08c30" stroke-width="0.8"/>
<line x1="606.31" y1="392.94" x2="606.31" y2="394.21" stroke="#f08c30" stroke-width="0.8"/>
<line x1="605.01" y1="392.94" x2="607.61" y2="392.94" stroke="#f08c30" stroke-width="0.8"/>
<line x1="605.01" y1="394.21" x2="607.61" y2="394.21" stroke="#f08c30" stroke-width="0.8"/>
<line x1="614.3" y1="393.65" x2="614.3" y2="394.92" stroke="#f08c30" stroke-width="0.8"/>
<line x1="613" y1="393.65" x2="615.6" y2="393.65" stroke="#f08c30" stroke-width="0.8"/>
<line x1="613" y1="394.92" x2="615.6" y2="394.92" stroke="#f08c30" stroke-width="0.8"/>
<polyline points="526.41,386.48 534.4,388.25 542.39,387.89 550.38,379.38 558.37,377.6 566.36,375.82 574.35,365.88 582.34,366.24 590.33,366.24 598.32,391.8 606.31,393.57 614.3,394.29" fill="none" stroke="#f08c30" stroke-width="1.3"/>
<circle cx="526.41" cy="386.48" r="1.2" fill="#f08c30"/>
<circle cx="534.4" cy="388.25" r="1.2" fill="#f08c30"/>
<circle cx="542.39" cy="387.89" r="1.2" fill="#f08c30"/>
<circle cx="550.38" cy="379.38" r="1.2" fill="#f08c30"/>
<circle cx="558.37" cy="377.6" r="1.2" fill="#f08c30"/>
<circle cx="566.36" cy="375.82" r="1.2" fill="#f08c30"/>
<circle cx="574.35" cy="365.88" r="1.2" fill="#f08c30"/>
<circle cx="582.34" cy="366.24" r="1.2" fill="#f08c30"/>
<circle cx="590.33" cy="366.24" r="1.2" fill="#f08c30"/>
<circle cx="598.32" cy="391.8" r="1.2" fill="#f08c30"/>
<circle cx="606.31" cy="393.57" r="1.2" fill="#f08c30"/>
<circle cx="614.3" cy="394.29" r="1.2" fill="#f08c30"/>
<line x1="526.41" y1="388.92" x2="526.41" y2="390.42" stroke="#9040c8" stroke-width="0.8"/>
<line x1="525.11" y1="388.92" x2="527.71" y2="388.92" stroke="#9040c8" stroke-width="0.8"/>
<line x1="525.11" y1="390.42" x2="527.71" y2="390.42" stroke="#9040c8" stroke-width="0.8"/>
<line x1="534.4" y1="390.34" x2="534.4" y2="391.84" stroke="#9040c8" stroke-width="0.8"/>
<line x1="533.1" y1="390.34" x2="535.7" y2="390.34" stroke="#9040c8" stroke-width="0.8"/>
<line x1="533.1" y1="391.84" x2="535.7" y2="391.84" stroke="#9040c8" stroke-width="0.8"/>
<line x1="542.39" y1="389.63" x2="542.39" y2="391.13" stroke="#9040c8" stroke-width="0.8"/>
<line x1="541.09" y1="389.63" x2="543.69" y2="389.63" stroke="#9040c8" stroke-width="0.8"/>
<line x1="541.09" y1="391.13" x2="543.69" y2="391.13" stroke="#9040c8" stroke-width="0.8"/>
<line x1="550.38" y1="384.35" x2="550.38" y2="388.61" stroke="#9040c8" stroke-width="0.8"/>
<line x1="549.08" y1="384.35" x2="551.68" y2="384.35" stroke="#9040c8" stroke-width="0.8"/>
<line x1="549.08" y1="388.61" x2="551.68" y2="388.61" stroke="#9040c8" stroke-width="0.8"/>
<line x1="558.37" y1="384.35" x2="558.37" y2="388.61" stroke="#9040c8" stroke-width="0.8"/>
<line x1="557.07" y1="384.35" x2="559.67" y2="384.35" stroke="#9040c8" stroke-width="0.8"/>
<line x1="557.07" y1="388.61" x2="559.67" y2="388.61" stroke="#9040c8" stroke-width="0.8"/>
<line x1="566.36" y1="383.99" x2="566.36" y2="388.25" stroke="#9040c8" stroke-width="0.8"/>
<line x1="565.06" y1="383.99" x2="567.66" y2="383.99" stroke="#9040c8" stroke-width="0.8"/>
<line x1="565.06" y1="388.25" x2="567.66" y2="388.25" stroke="#9040c8" stroke-width="0.8"/>
<line x1="574.35" y1="380.8" x2="574.35" y2="385.06" stroke="#9040c8" stroke-width="0.8"/>
<line x1="573.05" y1="380.8" x2="575.65" y2="380.8" stroke="#9040c8" stroke-width="0.8"/>
<line x1="573.05" y1="385.06" x2="575.65" y2="385.06" stroke="#9040c8" stroke-width="0.8"/>
<line x1="582.34" y1="380.8" x2="582.34" y2="385.06" stroke="#9040c8" stroke-width="0.8"/>
<line x1="581.04" y1="380.8" x2="583.64" y2="380.8" stroke="#9040c8" stroke-width="0.8"/>
<line x1="581.04" y1="385.06" x2="583.64" y2="385.06" stroke="#9040c8" stroke-width="0.8"/>
<line x1="590.33" y1="381.5" x2="590.33" y2="385.76" stroke="#9040c8" stroke-width="0.8"/>
<line x1="589.03" y1="381.5" x2="591.63" y2="381.5" stroke="#9040c8" stroke-width="0.8"/>
<line x1="589.03" y1="385.76" x2="591.63" y2="385.76" stroke="#9040c8" stroke-width="0.8"/>
<line x1="598.32" y1="393.29" x2="598.32" y2="394.57" stroke="#9040c8" stroke-width="0.8"/>
<line x1="597.02" y1="393.29" x2="599.62" y2="393.29" stroke="#9040c8" stroke-width="0.8"/>
<line x1="597.02" y1="394.57" x2="599.62" y2="394.57" stroke="#9040c8" stroke-width="0.8"/>
<line x1="606.31" y1="394" x2="606.31" y2="395.28" stroke="#9040c8" stroke-width="0.8"/>
<line x1="605.01" y1="394" x2="607.61" y2="394" stroke="#9040c8" stroke-width="0.8"/>
<line x1="605.01" y1="395.28" x2="607.61" y2="395.28" stroke="#9040c8" stroke-width="0.8"/>
<line x1="614.3" y1="394.71" x2="614.3" y2="395.99" stroke="#9040c8" stroke-width="0.8"/>
<line x1="613" y1="394.71" x2="615.6" y2="394.71" stroke="#9040c8" stroke-width="0.8"/>
<line x1="613" y1="395.99" x2="615.6" y2="395.99" stroke="#9040c8" stroke-width="0.8"/>
<polyline points="526.41,389.67 534.4,391.09 542.39,390.38 550.38,386.48 558.37,386.48 566.36,386.12 574.35,382.93 582.34,382.93 590.33,383.63 598.32,393.93 606.31,394.64 614.3,395.35" fill="none" stroke="#9040c8" stroke-width="1.3"/>
<circle cx="526.41" cy="389.67" r="1.2" fill="#9040c8"/>
<circle cx="534.4" cy="391.09" r="1.2" fill="#9040c8"/>
<circle cx="542.39" cy="390.38" r="1.2" fill="#9040c8"/>
<circle cx="550.38" cy="386.48" r="1.2" fill="#9040c8"/>
<circle cx="558.37" cy="386.48" r="1.2" fill="#9040c8"/>
<circle cx="566.36" cy="386.12" r="1.2" fill="#9040c8"/>
<circle cx="574.35" cy="382.93" r="1.2" fill="#9040c8"/>
<circle cx="582.34" cy="382.93" r="1.2" fill="#9040c8"/>
<circle cx="590.33" cy="383.63" r="1.2" fill="#9040c8"/>
<circle cx="598.32" cy="393.93" r="1.2" fill="#9040c8"/>
<circle cx="606.31" cy="394.64" r="1.2" fill="#9040c8"/>
<circle cx="614.3" cy="395.35" r="1.2" fill="#9040c8"/>
<line x1="526.41" y1="388.59" x2="526.41" y2="389.33" stroke="#e82828" stroke-width="0.8"/>
<line x1="525.11" y1="388.59" x2="527.71" y2="388.59" stroke="#e82828" stroke-width="0.8"/>
<line x1="525.11" y1="389.33" x2="527.71" y2="389.33" stroke="#e82828" stroke-width="0.8"/>
<line x1="534.4" y1="390.72" x2="534.4" y2="391.46" stroke="#e82828" stroke-width="0.8"/>
<line x1="533.1" y1="390.72" x2="535.7" y2="390.72" stroke="#e82828" stroke-width="0.8"/>
<line x1="533.1" y1="391.46" x2="535.7" y2="391.46" stroke="#e82828" stroke-width="0.8"/>
<line x1="542.39" y1="389.65" x2="542.39" y2="390.4" stroke="#e82828" stroke-width="0.8"/>
<line x1="541.09" y1="389.65" x2="543.69" y2="389.65" stroke="#e82828" stroke-width="0.8"/>
<line x1="541.09" y1="390.4" x2="543.69" y2="390.4" stroke="#e82828" stroke-width="0.8"/>
<line x1="550.38" y1="383.99" x2="550.38" y2="386.12" stroke="#e82828" stroke-width="0.8"/>
<line x1="549.08" y1="383.99" x2="551.68" y2="383.99" stroke="#e82828" stroke-width="0.8"/>
<line x1="549.08" y1="386.12" x2="551.68" y2="386.12" stroke="#e82828" stroke-width="0.8"/>
<line x1="558.37" y1="383.63" x2="558.37" y2="385.76" stroke="#e82828" stroke-width="0.8"/>
<line x1="557.07" y1="383.63" x2="559.67" y2="383.63" stroke="#e82828" stroke-width="0.8"/>
<line x1="557.07" y1="385.76" x2="559.67" y2="385.76" stroke="#e82828" stroke-width="0.8"/>
<line x1="566.36" y1="383.28" x2="566.36" y2="385.41" stroke="#e82828" stroke-width="0.8"/>
<line x1="565.06" y1="383.28" x2="567.66" y2="383.28" stroke="#e82828" stroke-width="0.8"/>
<line x1="565.06" y1="385.41" x2="567.66" y2="385.41" stroke="#e82828" stroke-width="0.8"/>
<line x1="574.35" y1="378.31" x2="574.35" y2="380.44" stroke="#e82828" stroke-width="0.8"/>
<line x1="573.05" y1="378.31" x2="575.65" y2="378.31" stroke="#e82828" stroke-width="0.8"/>
<line x1="573.05" y1="380.44" x2="575.65" y2="380.44" stroke="#e82828" stroke-width="0.8"/>
<line x1="582.34" y1="378.31" x2="582.34" y2="380.44" stroke="#e82828" stroke-width="0.8"/>
<line x1="581.04" y1="378.31" x2="583.64" y2="378.31" stroke="#e82828" stroke-width="0.8"/>
<line x1="581.04" y1="380.44" x2="583.64" y2="380.44" stroke="#e82828" stroke-width="0.8"/>
<line x1="590.33" y1="378.67" x2="590.33" y2="380.8" stroke="#e82828" stroke-width="0.8"/>
<line x1="589.03" y1="378.67" x2="591.63" y2="378.67" stroke="#e82828" stroke-width="0.8"/>
<line x1="589.03" y1="380.8" x2="591.63" y2="380.8" stroke="#e82828" stroke-width="0.8"/>
<line x1="598.32" y1="392.19" x2="598.32" y2="392.83" stroke="#e82828" stroke-width="0.8"/>
<line x1="597.02" y1="392.19" x2="599.62" y2="392.19" stroke="#e82828" stroke-width="0.8"/>
<line x1="597.02" y1="392.83" x2="599.62" y2="392.83" stroke="#e82828" stroke-width="0.8"/>
<line x1="606.31" y1="393.97" x2="606.31" y2="394.6" stroke="#e82828" stroke-width="0.8"/>
<line x1="605.01" y1="393.97" x2="607.61" y2="393.97" stroke="#e82828" stroke-width="0.8"/>
<line x1="605.01" y1="394.6" x2="607.61" y2="394.6" stroke="#e82828" stroke-width="0.8"/>
<line x1="614.3" y1="394.68" x2="614.3" y2="395.31" stroke="#e82828" stroke-width="0.8"/>
<line x1="613" y1="394.68" x2="615.6" y2="394.68" stroke="#e82828" stroke-width="0.8"/>
<line x1="613" y1="395.31" x2="615.6" y2="395.31" stroke="#e82828" stroke-width="0.8"/>
<polyline points="526.41,388.96 534.4,391.09 542.39,390.02 550.38,385.06 558.37,384.7 566.36,384.35 574.35,379.38 582.34,379.38 590.33,379.73 598.32,392.51 606.31,394.29 614.3,395" fill="none" stroke="#e82828" stroke-width="1.3"/>
<circle cx="526.41" cy="388.96" r="1.2" fill="#e82828"/>
<circle cx="534.4" cy="391.09" r="1.2" fill="#e82828"/>
<circle cx="542.39" cy="390.02" r="1.2" fill="#e82828"/>
<circle cx="550.38" cy="385.06" r="1.2" fill="#e82828"/>
<circle cx="558.37" cy="384.7" r="1.2" fill="#e82828"/>
<circle cx="566.36" cy="384.35" r="1.2" fill="#e82828"/>
<circle cx="574.35" cy="379.38" r="1.2" fill="#e82828"/>
<circle cx="582.34" cy="379.38" r="1.2" fill="#e82828"/>
<circle cx="590.33" cy="379.73" r="1.2" fill="#e82828"/>
<circle cx="598.32" cy="392.51" r="1.2" fill="#e82828"/>
<circle cx="606.31" cy="394.29" r="1.2" fill="#e82828"/>
<circle cx="614.3" cy="395" r="1.2" fill="#e82828"/>
<line x1="526.41" y1="385.02" x2="526.41" y2="386.51" stroke="#48c048" stroke-width="0.8"/>
<line x1="525.11" y1="385.02" x2="527.71" y2="385.02" stroke="#48c048" stroke-width="0.8"/>
<line x1="525.11" y1="386.51" x2="527.71" y2="386.51" stroke="#48c048" stroke-width="0.8"/>
<line x1="534.4" y1="386.44" x2="534.4" y2="387.93" stroke="#48c048" stroke-width="0.8"/>
<line x1="533.1" y1="386.44" x2="535.7" y2="386.44" stroke="#48c048" stroke-width="0.8"/>
<line x1="533.1" y1="387.93" x2="535.7" y2="387.93" stroke="#48c048" stroke-width="0.8"/>
<line x1="542.39" y1="386.44" x2="542.39" y2="387.93" stroke="#48c048" stroke-width="0.8"/>
<line x1="541.09" y1="386.44" x2="543.69" y2="386.44" stroke="#48c048" stroke-width="0.8"/>
<line x1="541.09" y1="387.93" x2="543.69" y2="387.93" stroke="#48c048" stroke-width="0.8"/>
<line x1="550.38" y1="376.18" x2="550.38" y2="380.44" stroke="#48c048" stroke-width="0.8"/>
<line x1="549.08" y1="376.18" x2="551.68" y2="376.18" stroke="#48c048" stroke-width="0.8"/>
<line x1="549.08" y1="380.44" x2="551.68" y2="380.44" stroke="#48c048" stroke-width="0.8"/>
<line x1="558.37" y1="374.05" x2="558.37" y2="378.31" stroke="#48c048" stroke-width="0.8"/>
<line x1="557.07" y1="374.05" x2="559.67" y2="374.05" stroke="#48c048" stroke-width="0.8"/>
<line x1="557.07" y1="378.31" x2="559.67" y2="378.31" stroke="#48c048" stroke-width="0.8"/>
<line x1="566.36" y1="372.99" x2="566.36" y2="377.25" stroke="#48c048" stroke-width="0.8"/>
<line x1="565.06" y1="372.99" x2="567.66" y2="372.99" stroke="#48c048" stroke-width="0.8"/>
<line x1="565.06" y1="377.25" x2="567.66" y2="377.25" stroke="#48c048" stroke-width="0.8"/>
<line x1="574.35" y1="362.69" x2="574.35" y2="366.95" stroke="#48c048" stroke-width="0.8"/>
<line x1="573.05" y1="362.69" x2="575.65" y2="362.69" stroke="#48c048" stroke-width="0.8"/>
<line x1="573.05" y1="366.95" x2="575.65" y2="366.95" stroke="#48c048" stroke-width="0.8"/>
<line x1="582.34" y1="363.05" x2="582.34" y2="367.31" stroke="#48c048" stroke-width="0.8"/>
<line x1="581.04" y1="363.05" x2="583.64" y2="363.05" stroke="#48c048" stroke-width="0.8"/>
<line x1="581.04" y1="367.31" x2="583.64" y2="367.31" stroke="#48c048" stroke-width="0.8"/>
<line x1="590.33" y1="363.05" x2="590.33" y2="367.31" stroke="#48c048" stroke-width="0.8"/>
<line x1="589.03" y1="363.05" x2="591.63" y2="363.05" stroke="#48c048" stroke-width="0.8"/>
<line x1="589.03" y1="367.31" x2="591.63" y2="367.31" stroke="#48c048" stroke-width="0.8"/>
<line x1="598.32" y1="390.45" x2="598.32" y2="391.73" stroke="#48c048" stroke-width="0.8"/>
<line x1="597.02" y1="390.45" x2="599.62" y2="390.45" stroke="#48c048" stroke-width="0.8"/>
<line x1="597.02" y1="391.73" x2="599.62" y2="391.73" stroke="#48c048" stroke-width="0.8"/>
<line x1="606.31" y1="392.58" x2="606.31" y2="393.86" stroke="#48c048" stroke-width="0.8"/>
<line x1="605.01" y1="392.58" x2="607.61" y2="392.58" stroke="#48c048" stroke-width="0.8"/>
<line x1="605.01" y1="393.86" x2="607.61" y2="393.86" stroke="#48c048" stroke-width="0.8"/>
<line x1="614.3" y1="393.29" x2="614.3" y2="394.57" stroke="#48c048" stroke-width="0.8"/>
<line x1="613" y1="393.29" x2="615.6" y2="393.29" stroke="#48c048" stroke-width="0.8"/>
<line x1="613" y1="394.57" x2="615.6" y2="394.57" stroke="#48c048" stroke-width="0.8"/>
<polyline points="526.41,385.76 534.4,387.19 542.39,387.19 550.38,378.31 558.37,376.18 566.36,375.12 574.35,364.82 582.34,365.18 590.33,365.18 598.32,391.09 606.31,393.22 614.3,393.93" fill="none" stroke="#48c048" stroke-width="1.3"/>
<circle cx="526.41" cy="385.76" r="1.2" fill="#48c048"/>
<circle cx="534.4" cy="387.19" r="1.2" fill="#48c048"/>
<circle cx="542.39" cy="387.19" r="1.2" fill="#48c048"/>
<circle cx="550.38" cy="378.31" r="1.2" fill="#48c048"/>
<circle cx="558.37" cy="376.18" r="1.2" fill="#48c048"/>
<circle cx="566.36" cy="375.12" r="1.2" fill="#48c048"/>
<circle cx="574.35" cy="364.82" r="1.2" fill="#48c048"/>
<circle cx="582.34" cy="365.18" r="1.2" fill="#48c048"/>
<circle cx="590.33" cy="365.18" r="1.2" fill="#48c048"/>
<circle cx="598.32" cy="391.09" r="1.2" fill="#48c048"/>
<circle cx="606.31" cy="393.22" r="1.2" fill="#48c048"/>
<circle cx="614.3" cy="393.93" r="1.2" fill="#48c048"/>
<line x1="526.41" y1="383.12" x2="526.41" y2="384.86" stroke="#2a50c0" stroke-width="0.8"/>
<line x1="525.11" y1="383.12" x2="527.71" y2="383.12" stroke="#2a50c0" stroke-width="0.8"/>
<line x1="525.11" y1="384.86" x2="527.71" y2="384.86" stroke="#2a50c0" stroke-width="0.8"/>
<line x1="534.4" y1="384.9" x2="534.4" y2="386.63" stroke="#2a50c0" stroke-width="0.8"/>
<line x1="533.1" y1="384.9" x2="535.7" y2="384.9" stroke="#2a50c0" stroke-width="0.8"/>
<line x1="533.1" y1="386.63" x2="535.7" y2="386.63" stroke="#2a50c0" stroke-width="0.8"/>
<line x1="542.39" y1="384.54" x2="542.39" y2="386.28" stroke="#2a50c0" stroke-width="0.8"/>
<line x1="541.09" y1="384.54" x2="543.69" y2="384.54" stroke="#2a50c0" stroke-width="0.8"/>
<line x1="541.09" y1="386.28" x2="543.69" y2="386.28" stroke="#2a50c0" stroke-width="0.8"/>
<line x1="550.38" y1="370.5" x2="550.38" y2="375.47" stroke="#2a50c0" stroke-width="0.8"/>
<line x1="549.08" y1="370.5" x2="551.68" y2="370.5" stroke="#2a50c0" stroke-width="0.8"/>
<line x1="549.08" y1="375.47" x2="551.68" y2="375.47" stroke="#2a50c0" stroke-width="0.8"/>
<line x1="558.37" y1="368.37" x2="558.37" y2="373.34" stroke="#2a50c0" stroke-width="0.8"/>
<line x1="557.07" y1="368.37" x2="559.67" y2="368.37" stroke="#2a50c0" stroke-width="0.8"/>
<line x1="557.07" y1="373.34" x2="559.67" y2="373.34" stroke="#2a50c0" stroke-width="0.8"/>
<line x1="566.36" y1="367.31" x2="566.36" y2="372.27" stroke="#2a50c0" stroke-width="0.8"/>
<line x1="565.06" y1="367.31" x2="567.66" y2="367.31" stroke="#2a50c0" stroke-width="0.8"/>
<line x1="565.06" y1="372.27" x2="567.66" y2="372.27" stroke="#2a50c0" stroke-width="0.8"/>
<line x1="574.35" y1="354.52" x2="574.35" y2="359.5" stroke="#2a50c0" stroke-width="0.8"/>
<line x1="573.05" y1="354.52" x2="575.65" y2="354.52" stroke="#2a50c0" stroke-width="0.8"/>
<line x1="573.05" y1="359.5" x2="575.65" y2="359.5" stroke="#2a50c0" stroke-width="0.8"/>
<line x1="582.34" y1="354.52" x2="582.34" y2="359.5" stroke="#2a50c0" stroke-width="0.8"/>
<line x1="581.04" y1="354.52" x2="583.64" y2="354.52" stroke="#2a50c0" stroke-width="0.8"/>
<line x1="581.04" y1="359.5" x2="583.64" y2="359.5" stroke="#2a50c0" stroke-width="0.8"/>
<line x1="590.33" y1="354.88" x2="590.33" y2="359.85" stroke="#2a50c0" stroke-width="0.8"/>
<line x1="589.03" y1="354.88" x2="591.63" y2="354.88" stroke="#2a50c0" stroke-width="0.8"/>
<line x1="589.03" y1="359.85" x2="591.63" y2="359.85" stroke="#2a50c0" stroke-width="0.8"/>
<line x1="598.32" y1="388.57" x2="598.32" y2="390.06" stroke="#2a50c0" stroke-width="0.8"/>
<line x1="597.02" y1="388.57" x2="599.62" y2="388.57" stroke="#2a50c0" stroke-width="0.8"/>
<line x1="597.02" y1="390.06" x2="599.62" y2="390.06" stroke="#2a50c0" stroke-width="0.8"/>
<line x1="606.31" y1="391.41" x2="606.31" y2="392.9" stroke="#2a50c0" stroke-width="0.8"/>
<line x1="605.01" y1="391.41" x2="607.61" y2="391.41" stroke="#2a50c0" stroke-width="0.8"/>
<line x1="605.01" y1="392.9" x2="607.61" y2="392.9" stroke="#2a50c0" stroke-width="0.8"/>
<line x1="614.3" y1="392.12" x2="614.3" y2="393.61" stroke="#2a50c0" stroke-width="0.8"/>
<line x1="613" y1="392.12" x2="615.6" y2="392.12" stroke="#2a50c0" stroke-width="0.8"/>
<line x1="613" y1="393.61" x2="615.6" y2="393.61" stroke="#2a50c0" stroke-width="0.8"/>
<polyline points="526.41,383.99 534.4,385.76 542.39,385.41 550.38,372.99 558.37,370.86 566.36,369.79 574.35,357.01 582.34,357.01 590.33,357.37 598.32,389.31 606.31,392.15 614.3,392.87" fill="none" stroke="#2a50c0" stroke-width="1.3"/>
<circle cx="526.41" cy="383.99" r="1.2" fill="#2a50c0"/>
<circle cx="534.4" cy="385.76" r="1.2" fill="#2a50c0"/>
<circle cx="542.39" cy="385.41" r="1.2" fill="#2a50c0"/>
<circle cx="550.38" cy="372.99" r="1.2" fill="#2a50c0"/>
<circle cx="558.37" cy="370.86" r="1.2" fill="#2a50c0"/>
<circle cx="566.36" cy="369.79" r="1.2" fill="#2a50c0"/>
<circle cx="574.35" cy="357.01" r="1.2" fill="#2a50c0"/>
<circle cx="582.34" cy="357.01" r="1.2" fill="#2a50c0"/>
<circle cx="590.33" cy="357.37" r="1.2" fill="#2a50c0"/>
<circle cx="598.32" cy="389.31" r="1.2" fill="#2a50c0"/>
<circle cx="606.31" cy="392.15" r="1.2" fill="#2a50c0"/>
<circle cx="614.3" cy="392.87" r="1.2" fill="#2a50c0"/>
<line x1="525" y1="334.5" x2="525" y2="406.6" stroke="#111" stroke-width="1.2"/>
<line x1="524.4" y1="406" x2="619" y2="406" stroke="#111" stroke-width="1.2"/>
<line x1="522.8" y1="406" x2="525" y2="406" stroke="#111" stroke-width="0.9"/>
<text x="515.58" y="408.77" font-size="7.7" text-anchor="middle" fill="#222">0</text>
<line x1="522.8" y1="388.25" x2="525" y2="388.25" stroke="#111" stroke-width="0.9"/>
<text x="515.58" y="391.02" font-size="7.7" text-anchor="middle" fill="#222">50</text>
<line x1="522.8" y1="370.5" x2="525" y2="370.5" stroke="#111" stroke-width="0.9"/>
<text x="515.58" y="373.27" font-size="7.7" text-anchor="middle" fill="#222">100</text>
<line x1="522.8" y1="352.75" x2="525" y2="352.75" stroke="#111" stroke-width="0.9"/>
<text x="515.58" y="355.52" font-size="7.7" text-anchor="middle" fill="#222">150</text>
<line x1="522.8" y1="335" x2="525" y2="335" stroke="#111" stroke-width="0.9"/>
<text x="515.58" y="337.77" font-size="7.7" text-anchor="middle" fill="#222">200</text>
<line x1="525" y1="406" x2="525" y2="408.6" stroke="#111" stroke-width="0.9"/>
<text x="525" y="415.4" font-size="7.7" text-anchor="middle" fill="#222">0</text>
<line x1="543.8" y1="406" x2="543.8" y2="408.6" stroke="#111" stroke-width="0.9"/>
<text x="543.8" y="415.4" font-size="7.7" text-anchor="middle" fill="#222">20</text>
<line x1="562.6" y1="406" x2="562.6" y2="408.6" stroke="#111" stroke-width="0.9"/>
<text x="562.6" y="415.4" font-size="7.7" text-anchor="middle" fill="#222">40</text>
<line x1="581.4" y1="406" x2="581.4" y2="408.6" stroke="#111" stroke-width="0.9"/>
<text x="581.4" y="415.4" font-size="7.7" text-anchor="middle" fill="#222">60</text>
<line x1="600.2" y1="406" x2="600.2" y2="408.6" stroke="#111" stroke-width="0.9"/>
<text x="600.2" y="415.4" font-size="7.7" text-anchor="middle" fill="#222">80</text>
<line x1="619" y1="406" x2="619" y2="408.6" stroke="#111" stroke-width="0.9"/>
<text x="619" y="415.4" font-size="7.7" text-anchor="middle" fill="#222">100</text>
<text x="572" y="423.4" font-size="7.6" text-anchor="middle">Time (minutes)</text>
<text x="566" y="333" font-size="8" text-anchor="middle">SKOV3</text>
<text x="566" y="341.5" font-size="6.9" text-anchor="middle" fill="#222">Oligomycin</text>
<text x="594" y="337.4" font-size="6.9" text-anchor="middle" fill="#222">2-DG</text>
<text x="542" y="356.6" font-size="6.9" text-anchor="middle" fill="#222">Glucose</text>
<line x1="542" y1="360" x2="542" y2="369.5" stroke="#111" stroke-width="0.9"/>
<path d="M540.3 367.5 L543.7 367.5 L542 371.5 Z" fill="#111"/>
<line x1="564.6" y1="343" x2="564.6" y2="353" stroke="#111" stroke-width="0.9"/>
<path d="M562.9 351 L566.3 351 L564.6 355 Z" fill="#111"/>
<line x1="591" y1="340" x2="591" y2="350" stroke="#111" stroke-width="0.9"/>
<path d="M589.3 348 L592.7 348 L591 352 Z" fill="#111"/>
<text x="507" y="370" font-size="7.6" text-anchor="middle" transform="rotate(-90 507 370)">ECAR (mpH/min)</text>
<line x1="621" y1="335" x2="633" y2="335" stroke="#2a50c0" stroke-width="1.1"/>
<circle cx="627" cy="335" r="1.1" fill="#2a50c0"/>
<text x="636" y="337.3" font-size="6.4" fill="#222">shNC</text>
<line x1="621" y1="343.6" x2="633" y2="343.6" stroke="#e82828" stroke-width="1.1"/>
<circle cx="627" cy="343.6" r="1.1" fill="#e82828"/>
<text x="636" y="345.9" font-size="6.4" fill="#222">shHL-1</text>
<line x1="621" y1="352.6" x2="633" y2="352.6" stroke="#48c048" stroke-width="1.1"/>
<circle cx="627" cy="352.6" r="1.1" fill="#48c048"/>
<text x="636" y="354.9" font-size="6.4" fill="#222">shHL-1+SC79</text>
<line x1="621" y1="361.6" x2="633" y2="361.6" stroke="#9040c8" stroke-width="1.1"/>
<circle cx="627" cy="361.6" r="1.1" fill="#9040c8"/>
<text x="636" y="363.9" font-size="6.4" fill="#222">shHL-2</text>
<line x1="621" y1="370" x2="633" y2="370" stroke="#f08c30" stroke-width="1.1"/>
<circle cx="627" cy="370" r="1.1" fill="#f08c30"/>
<text x="636" y="372.3" font-size="6.4" fill="#222">shHL-2+SC79</text>
<line x1="391.08" y1="524.54" x2="391.08" y2="525.27" stroke="#9040c8" stroke-width="0.8"/>
<line x1="389.78" y1="524.54" x2="392.38" y2="524.54" stroke="#9040c8" stroke-width="0.8"/>
<line x1="389.78" y1="525.27" x2="392.38" y2="525.27" stroke="#9040c8" stroke-width="0.8"/>
<line x1="399.44" y1="525.58" x2="399.44" y2="526.31" stroke="#9040c8" stroke-width="0.8"/>
<line x1="398.14" y1="525.58" x2="400.74" y2="525.58" stroke="#9040c8" stroke-width="0.8"/>
<line x1="398.14" y1="526.31" x2="400.74" y2="526.31" stroke="#9040c8" stroke-width="0.8"/>
<line x1="407.8" y1="526.62" x2="407.8" y2="527.36" stroke="#9040c8" stroke-width="0.8"/>
<line x1="406.5" y1="526.62" x2="409.1" y2="526.62" stroke="#9040c8" stroke-width="0.8"/>
<line x1="406.5" y1="527.36" x2="409.1" y2="527.36" stroke="#9040c8" stroke-width="0.8"/>
<line x1="416.17" y1="517.6" x2="416.17" y2="519.69" stroke="#9040c8" stroke-width="0.8"/>
<line x1="414.87" y1="517.6" x2="417.47" y2="517.6" stroke="#9040c8" stroke-width="0.8"/>
<line x1="414.87" y1="519.69" x2="417.47" y2="519.69" stroke="#9040c8" stroke-width="0.8"/>
<line x1="424.53" y1="517.08" x2="424.53" y2="519.17" stroke="#9040c8" stroke-width="0.8"/>
<line x1="423.23" y1="517.08" x2="425.83" y2="517.08" stroke="#9040c8" stroke-width="0.8"/>
<line x1="423.23" y1="519.17" x2="425.83" y2="519.17" stroke="#9040c8" stroke-width="0.8"/>
<line x1="432.9" y1="517.08" x2="432.9" y2="519.17" stroke="#9040c8" stroke-width="0.8"/>
<line x1="431.6" y1="517.08" x2="434.2" y2="517.08" stroke="#9040c8" stroke-width="0.8"/>
<line x1="431.6" y1="519.17" x2="434.2" y2="519.17" stroke="#9040c8" stroke-width="0.8"/>
<line x1="441.26" y1="516.03" x2="441.26" y2="518.12" stroke="#9040c8" stroke-width="0.8"/>
<line x1="439.96" y1="516.03" x2="442.56" y2="516.03" stroke="#9040c8" stroke-width="0.8"/>
<line x1="439.96" y1="518.12" x2="442.56" y2="518.12" stroke="#9040c8" stroke-width="0.8"/>
<line x1="449.62" y1="516.03" x2="449.62" y2="518.12" stroke="#9040c8" stroke-width="0.8"/>
<line x1="448.32" y1="516.03" x2="450.92" y2="516.03" stroke="#9040c8" stroke-width="0.8"/>
<line x1="448.32" y1="518.12" x2="450.92" y2="518.12" stroke="#9040c8" stroke-width="0.8"/>
<line x1="457.99" y1="516.03" x2="457.99" y2="518.12" stroke="#9040c8" stroke-width="0.8"/>
<line x1="456.69" y1="516.03" x2="459.29" y2="516.03" stroke="#9040c8" stroke-width="0.8"/>
<line x1="456.69" y1="518.12" x2="459.29" y2="518.12" stroke="#9040c8" stroke-width="0.8"/>
<line x1="466.35" y1="527.72" x2="466.35" y2="528.35" stroke="#9040c8" stroke-width="0.8"/>
<line x1="465.05" y1="527.72" x2="467.65" y2="527.72" stroke="#9040c8" stroke-width="0.8"/>
<line x1="465.05" y1="528.35" x2="467.65" y2="528.35" stroke="#9040c8" stroke-width="0.8"/>
<line x1="474.72" y1="527.72" x2="474.72" y2="528.35" stroke="#9040c8" stroke-width="0.8"/>
<line x1="473.42" y1="527.72" x2="476.02" y2="527.72" stroke="#9040c8" stroke-width="0.8"/>
<line x1="473.42" y1="528.35" x2="476.02" y2="528.35" stroke="#9040c8" stroke-width="0.8"/>
<line x1="483.08" y1="527.72" x2="483.08" y2="528.35" stroke="#9040c8" stroke-width="0.8"/>
<line x1="481.78" y1="527.72" x2="484.38" y2="527.72" stroke="#9040c8" stroke-width="0.8"/>
<line x1="481.78" y1="528.35" x2="484.38" y2="528.35" stroke="#9040c8" stroke-width="0.8"/>
<polyline points="391.08,524.9 399.44,525.95 407.8,526.99 416.17,518.64 424.53,518.12 432.9,518.12 441.26,517.08 449.62,517.08 457.99,517.08 466.35,528.03 474.72,528.03 483.08,528.03" fill="none" stroke="#9040c8" stroke-width="1.3"/>
<circle cx="391.08" cy="524.9" r="1.2" fill="#9040c8"/>
<circle cx="399.44" cy="525.95" r="1.2" fill="#9040c8"/>
<circle cx="407.8" cy="526.99" r="1.2" fill="#9040c8"/>
<circle cx="416.17" cy="518.64" r="1.2" fill="#9040c8"/>
<circle cx="424.53" cy="518.12" r="1.2" fill="#9040c8"/>
<circle cx="432.9" cy="518.12" r="1.2" fill="#9040c8"/>
<circle cx="441.26" cy="517.08" r="1.2" fill="#9040c8"/>
<circle cx="449.62" cy="517.08" r="1.2" fill="#9040c8"/>
<circle cx="457.99" cy="517.08" r="1.2" fill="#9040c8"/>
<circle cx="466.35" cy="528.03" r="1.2" fill="#9040c8"/>
<circle cx="474.72" cy="528.03" r="1.2" fill="#9040c8"/>
<circle cx="483.08" cy="528.03" r="1.2" fill="#9040c8"/>
<line x1="391.08" y1="520.36" x2="391.08" y2="521.1" stroke="#48c048" stroke-width="0.8"/>
<line x1="389.78" y1="520.36" x2="392.38" y2="520.36" stroke="#48c048" stroke-width="0.8"/>
<line x1="389.78" y1="521.1" x2="392.38" y2="521.1" stroke="#48c048" stroke-width="0.8"/>
<line x1="399.44" y1="521.41" x2="399.44" y2="522.14" stroke="#48c048" stroke-width="0.8"/>
<line x1="398.14" y1="521.41" x2="400.74" y2="521.41" stroke="#48c048" stroke-width="0.8"/>
<line x1="398.14" y1="522.14" x2="400.74" y2="522.14" stroke="#48c048" stroke-width="0.8"/>
<line x1="407.8" y1="521.41" x2="407.8" y2="522.14" stroke="#48c048" stroke-width="0.8"/>
<line x1="406.5" y1="521.41" x2="409.1" y2="521.41" stroke="#48c048" stroke-width="0.8"/>
<line x1="406.5" y1="522.14" x2="409.1" y2="522.14" stroke="#48c048" stroke-width="0.8"/>
<line x1="416.17" y1="507.17" x2="416.17" y2="509.25" stroke="#48c048" stroke-width="0.8"/>
<line x1="414.87" y1="507.17" x2="417.47" y2="507.17" stroke="#48c048" stroke-width="0.8"/>
<line x1="414.87" y1="509.25" x2="417.47" y2="509.25" stroke="#48c048" stroke-width="0.8"/>
<line x1="424.53" y1="506.12" x2="424.53" y2="508.21" stroke="#48c048" stroke-width="0.8"/>
<line x1="423.23" y1="506.12" x2="425.83" y2="506.12" stroke="#48c048" stroke-width="0.8"/>
<line x1="423.23" y1="508.21" x2="425.83" y2="508.21" stroke="#48c048" stroke-width="0.8"/>
<line x1="432.9" y1="505.08" x2="432.9" y2="507.17" stroke="#48c048" stroke-width="0.8"/>
<line x1="431.6" y1="505.08" x2="434.2" y2="505.08" stroke="#48c048" stroke-width="0.8"/>
<line x1="431.6" y1="507.17" x2="434.2" y2="507.17" stroke="#48c048" stroke-width="0.8"/>
<line x1="441.26" y1="502.99" x2="441.26" y2="505.08" stroke="#48c048" stroke-width="0.8"/>
<line x1="439.96" y1="502.99" x2="442.56" y2="502.99" stroke="#48c048" stroke-width="0.8"/>
<line x1="439.96" y1="505.08" x2="442.56" y2="505.08" stroke="#48c048" stroke-width="0.8"/>
<line x1="449.62" y1="502.99" x2="449.62" y2="505.08" stroke="#48c048" stroke-width="0.8"/>
<line x1="448.32" y1="502.99" x2="450.92" y2="502.99" stroke="#48c048" stroke-width="0.8"/>
<line x1="448.32" y1="505.08" x2="450.92" y2="505.08" stroke="#48c048" stroke-width="0.8"/>
<line x1="457.99" y1="502.99" x2="457.99" y2="505.08" stroke="#48c048" stroke-width="0.8"/>
<line x1="456.69" y1="502.99" x2="459.29" y2="502.99" stroke="#48c048" stroke-width="0.8"/>
<line x1="456.69" y1="505.08" x2="459.29" y2="505.08" stroke="#48c048" stroke-width="0.8"/>
<line x1="466.35" y1="524.59" x2="466.35" y2="525.22" stroke="#48c048" stroke-width="0.8"/>
<line x1="465.05" y1="524.59" x2="467.65" y2="524.59" stroke="#48c048" stroke-width="0.8"/>
<line x1="465.05" y1="525.22" x2="467.65" y2="525.22" stroke="#48c048" stroke-width="0.8"/>
<line x1="474.72" y1="526.68" x2="474.72" y2="527.3" stroke="#48c048" stroke-width="0.8"/>
<line x1="473.42" y1="526.68" x2="476.02" y2="526.68" stroke="#48c048" stroke-width="0.8"/>
<line x1="473.42" y1="527.3" x2="476.02" y2="527.3" stroke="#48c048" stroke-width="0.8"/>
<line x1="483.08" y1="527.72" x2="483.08" y2="528.35" stroke="#48c048" stroke-width="0.8"/>
<line x1="481.78" y1="527.72" x2="484.38" y2="527.72" stroke="#48c048" stroke-width="0.8"/>
<line x1="481.78" y1="528.35" x2="484.38" y2="528.35" stroke="#48c048" stroke-width="0.8"/>
<polyline points="391.08,520.73 399.44,521.77 407.8,521.77 416.17,508.21 424.53,507.17 432.9,506.12 441.26,504.04 449.62,504.04 457.99,504.04 466.35,524.9 474.72,526.99 483.08,528.03" fill="none" stroke="#48c048" stroke-width="1.3"/>
<circle cx="391.08" cy="520.73" r="1.2" fill="#48c048"/>
<circle cx="399.44" cy="521.77" r="1.2" fill="#48c048"/>
<circle cx="407.8" cy="521.77" r="1.2" fill="#48c048"/>
<circle cx="416.17" cy="508.21" r="1.2" fill="#48c048"/>
<circle cx="424.53" cy="507.17" r="1.2" fill="#48c048"/>
<circle cx="432.9" cy="506.12" r="1.2" fill="#48c048"/>
<circle cx="441.26" cy="504.04" r="1.2" fill="#48c048"/>
<circle cx="449.62" cy="504.04" r="1.2" fill="#48c048"/>
<circle cx="457.99" cy="504.04" r="1.2" fill="#48c048"/>
<circle cx="466.35" cy="524.9" r="1.2" fill="#48c048"/>
<circle cx="474.72" cy="526.99" r="1.2" fill="#48c048"/>
<circle cx="483.08" cy="528.03" r="1.2" fill="#48c048"/>
<line x1="391.08" y1="518.59" x2="391.08" y2="520.78" stroke="#2a50c0" stroke-width="0.8"/>
<line x1="389.78" y1="518.59" x2="392.38" y2="518.59" stroke="#2a50c0" stroke-width="0.8"/>
<line x1="389.78" y1="520.78" x2="392.38" y2="520.78" stroke="#2a50c0" stroke-width="0.8"/>
<line x1="399.44" y1="519.63" x2="399.44" y2="521.83" stroke="#2a50c0" stroke-width="0.8"/>
<line x1="398.14" y1="519.63" x2="400.74" y2="519.63" stroke="#2a50c0" stroke-width="0.8"/>
<line x1="398.14" y1="521.83" x2="400.74" y2="521.83" stroke="#2a50c0" stroke-width="0.8"/>
<line x1="407.8" y1="520.68" x2="407.8" y2="522.87" stroke="#2a50c0" stroke-width="0.8"/>
<line x1="406.5" y1="520.68" x2="409.1" y2="520.68" stroke="#2a50c0" stroke-width="0.8"/>
<line x1="406.5" y1="522.87" x2="409.1" y2="522.87" stroke="#2a50c0" stroke-width="0.8"/>
<line x1="416.17" y1="502.99" x2="416.17" y2="509.25" stroke="#2a50c0" stroke-width="0.8"/>
<line x1="414.87" y1="502.99" x2="417.47" y2="502.99" stroke="#2a50c0" stroke-width="0.8"/>
<line x1="414.87" y1="509.25" x2="417.47" y2="509.25" stroke="#2a50c0" stroke-width="0.8"/>
<line x1="424.53" y1="501.95" x2="424.53" y2="508.21" stroke="#2a50c0" stroke-width="0.8"/>
<line x1="423.23" y1="501.95" x2="425.83" y2="501.95" stroke="#2a50c0" stroke-width="0.8"/>
<line x1="423.23" y1="508.21" x2="425.83" y2="508.21" stroke="#2a50c0" stroke-width="0.8"/>
<line x1="432.9" y1="500.91" x2="432.9" y2="507.17" stroke="#2a50c0" stroke-width="0.8"/>
<line x1="431.6" y1="500.91" x2="434.2" y2="500.91" stroke="#2a50c0" stroke-width="0.8"/>
<line x1="431.6" y1="507.17" x2="434.2" y2="507.17" stroke="#2a50c0" stroke-width="0.8"/>
<line x1="441.26" y1="499.86" x2="441.26" y2="506.12" stroke="#2a50c0" stroke-width="0.8"/>
<line x1="439.96" y1="499.86" x2="442.56" y2="499.86" stroke="#2a50c0" stroke-width="0.8"/>
<line x1="439.96" y1="506.12" x2="442.56" y2="506.12" stroke="#2a50c0" stroke-width="0.8"/>
<line x1="449.62" y1="499.86" x2="449.62" y2="506.12" stroke="#2a50c0" stroke-width="0.8"/>
<line x1="448.32" y1="499.86" x2="450.92" y2="499.86" stroke="#2a50c0" stroke-width="0.8"/>
<line x1="448.32" y1="506.12" x2="450.92" y2="506.12" stroke="#2a50c0" stroke-width="0.8"/>
<line x1="457.99" y1="499.86" x2="457.99" y2="506.12" stroke="#2a50c0" stroke-width="0.8"/>
<line x1="456.69" y1="499.86" x2="459.29" y2="499.86" stroke="#2a50c0" stroke-width="0.8"/>
<line x1="456.69" y1="506.12" x2="459.29" y2="506.12" stroke="#2a50c0" stroke-width="0.8"/>
<line x1="466.35" y1="521.88" x2="466.35" y2="523.76" stroke="#2a50c0" stroke-width="0.8"/>
<line x1="465.05" y1="521.88" x2="467.65" y2="521.88" stroke="#2a50c0" stroke-width="0.8"/>
<line x1="465.05" y1="523.76" x2="467.65" y2="523.76" stroke="#2a50c0" stroke-width="0.8"/>
<line x1="474.72" y1="525.01" x2="474.72" y2="526.89" stroke="#2a50c0" stroke-width="0.8"/>
<line x1="473.42" y1="525.01" x2="476.02" y2="525.01" stroke="#2a50c0" stroke-width="0.8"/>
<line x1="473.42" y1="526.89" x2="476.02" y2="526.89" stroke="#2a50c0" stroke-width="0.8"/>
<line x1="483.08" y1="526.05" x2="483.08" y2="527.93" stroke="#2a50c0" stroke-width="0.8"/>
<line x1="481.78" y1="526.05" x2="484.38" y2="526.05" stroke="#2a50c0" stroke-width="0.8"/>
<line x1="481.78" y1="527.93" x2="484.38" y2="527.93" stroke="#2a50c0" stroke-width="0.8"/>
<polyline points="391.08,519.69 399.44,520.73 407.8,521.77 416.17,506.12 424.53,505.08 432.9,504.04 441.26,502.99 449.62,502.99 457.99,502.99 466.35,522.82 474.72,525.95 483.08,526.99" fill="none" stroke="#2a50c0" stroke-width="1.3"/>
<circle cx="391.08" cy="519.69" r="1.2" fill="#2a50c0"/>
<circle cx="399.44" cy="520.73" r="1.2" fill="#2a50c0"/>
<circle cx="407.8" cy="521.77" r="1.2" fill="#2a50c0"/>
<circle cx="416.17" cy="506.12" r="1.2" fill="#2a50c0"/>
<circle cx="424.53" cy="505.08" r="1.2" fill="#2a50c0"/>
<circle cx="432.9" cy="504.04" r="1.2" fill="#2a50c0"/>
<circle cx="441.26" cy="502.99" r="1.2" fill="#2a50c0"/>
<circle cx="449.62" cy="502.99" r="1.2" fill="#2a50c0"/>
<circle cx="457.99" cy="502.99" r="1.2" fill="#2a50c0"/>
<circle cx="466.35" cy="522.82" r="1.2" fill="#2a50c0"/>
<circle cx="474.72" cy="525.95" r="1.2" fill="#2a50c0"/>
<circle cx="483.08" cy="526.99" r="1.2" fill="#2a50c0"/>
<line x1="391.08" y1="517.18" x2="391.08" y2="520.1" stroke="#e82828" stroke-width="0.8"/>
<line x1="389.78" y1="517.18" x2="392.38" y2="517.18" stroke="#e82828" stroke-width="0.8"/>
<line x1="389.78" y1="520.1" x2="392.38" y2="520.1" stroke="#e82828" stroke-width="0.8"/>
<line x1="399.44" y1="518.23" x2="399.44" y2="521.15" stroke="#e82828" stroke-width="0.8"/>
<line x1="398.14" y1="518.23" x2="400.74" y2="518.23" stroke="#e82828" stroke-width="0.8"/>
<line x1="398.14" y1="521.15" x2="400.74" y2="521.15" stroke="#e82828" stroke-width="0.8"/>
<line x1="407.8" y1="519.27" x2="407.8" y2="522.19" stroke="#e82828" stroke-width="0.8"/>
<line x1="406.5" y1="519.27" x2="409.1" y2="519.27" stroke="#e82828" stroke-width="0.8"/>
<line x1="406.5" y1="522.19" x2="409.1" y2="522.19" stroke="#e82828" stroke-width="0.8"/>
<line x1="416.17" y1="494.65" x2="416.17" y2="502.99" stroke="#e82828" stroke-width="0.8"/>
<line x1="414.87" y1="494.65" x2="417.47" y2="494.65" stroke="#e82828" stroke-width="0.8"/>
<line x1="414.87" y1="502.99" x2="417.47" y2="502.99" stroke="#e82828" stroke-width="0.8"/>
<line x1="424.53" y1="492.56" x2="424.53" y2="500.91" stroke="#e82828" stroke-width="0.8"/>
<line x1="423.23" y1="492.56" x2="425.83" y2="492.56" stroke="#e82828" stroke-width="0.8"/>
<line x1="423.23" y1="500.91" x2="425.83" y2="500.91" stroke="#e82828" stroke-width="0.8"/>
<line x1="432.9" y1="491.52" x2="432.9" y2="499.86" stroke="#e82828" stroke-width="0.8"/>
<line x1="431.6" y1="491.52" x2="434.2" y2="491.52" stroke="#e82828" stroke-width="0.8"/>
<line x1="431.6" y1="499.86" x2="434.2" y2="499.86" stroke="#e82828" stroke-width="0.8"/>
<line x1="441.26" y1="488.39" x2="441.26" y2="496.73" stroke="#e82828" stroke-width="0.8"/>
<line x1="439.96" y1="488.39" x2="442.56" y2="488.39" stroke="#e82828" stroke-width="0.8"/>
<line x1="439.96" y1="496.73" x2="442.56" y2="496.73" stroke="#e82828" stroke-width="0.8"/>
<line x1="449.62" y1="488.39" x2="449.62" y2="496.73" stroke="#e82828" stroke-width="0.8"/>
<line x1="448.32" y1="488.39" x2="450.92" y2="488.39" stroke="#e82828" stroke-width="0.8"/>
<line x1="448.32" y1="496.73" x2="450.92" y2="496.73" stroke="#e82828" stroke-width="0.8"/>
<line x1="457.99" y1="488.39" x2="457.99" y2="496.73" stroke="#e82828" stroke-width="0.8"/>
<line x1="456.69" y1="488.39" x2="459.29" y2="488.39" stroke="#e82828" stroke-width="0.8"/>
<line x1="456.69" y1="496.73" x2="459.29" y2="496.73" stroke="#e82828" stroke-width="0.8"/>
<line x1="466.35" y1="520.73" x2="466.35" y2="522.82" stroke="#e82828" stroke-width="0.8"/>
<line x1="465.05" y1="520.73" x2="467.65" y2="520.73" stroke="#e82828" stroke-width="0.8"/>
<line x1="465.05" y1="522.82" x2="467.65" y2="522.82" stroke="#e82828" stroke-width="0.8"/>
<line x1="474.72" y1="523.86" x2="474.72" y2="525.95" stroke="#e82828" stroke-width="0.8"/>
<line x1="473.42" y1="523.86" x2="476.02" y2="523.86" stroke="#e82828" stroke-width="0.8"/>
<line x1="473.42" y1="525.95" x2="476.02" y2="525.95" stroke="#e82828" stroke-width="0.8"/>
<line x1="483.08" y1="524.9" x2="483.08" y2="526.99" stroke="#e82828" stroke-width="0.8"/>
<line x1="481.78" y1="524.9" x2="484.38" y2="524.9" stroke="#e82828" stroke-width="0.8"/>
<line x1="481.78" y1="526.99" x2="484.38" y2="526.99" stroke="#e82828" stroke-width="0.8"/>
<polyline points="391.08,518.64 399.44,519.69 407.8,520.73 416.17,498.82 424.53,496.73 432.9,495.69 441.26,492.56 449.62,492.56 457.99,492.56 466.35,521.77 474.72,524.9 483.08,525.95" fill="none" stroke="#e82828" stroke-width="1.3"/>
<circle cx="391.08" cy="518.64" r="1.2" fill="#e82828"/>
<circle cx="399.44" cy="519.69" r="1.2" fill="#e82828"/>
<circle cx="407.8" cy="520.73" r="1.2" fill="#e82828"/>
<circle cx="416.17" cy="498.82" r="1.2" fill="#e82828"/>
<circle cx="424.53" cy="496.73" r="1.2" fill="#e82828"/>
<circle cx="432.9" cy="495.69" r="1.2" fill="#e82828"/>
<circle cx="441.26" cy="492.56" r="1.2" fill="#e82828"/>
<circle cx="449.62" cy="492.56" r="1.2" fill="#e82828"/>
<circle cx="457.99" cy="492.56" r="1.2" fill="#e82828"/>
<circle cx="466.35" cy="521.77" r="1.2" fill="#e82828"/>
<circle cx="474.72" cy="524.9" r="1.2" fill="#e82828"/>
<circle cx="483.08" cy="525.95" r="1.2" fill="#e82828"/>
<line x1="389.6" y1="454.5" x2="389.6" y2="528.63" stroke="#111" stroke-width="1.2"/>
<line x1="389" y1="528.03" x2="488" y2="528.03" stroke="#111" stroke-width="1.2"/>
<line x1="387.4" y1="517.6" x2="389.6" y2="517.6" stroke="#111" stroke-width="0.9"/>
<text x="382.32" y="520.37" font-size="7.7" text-anchor="middle" fill="#222">20</text>
<line x1="387.4" y1="496.73" x2="389.6" y2="496.73" stroke="#111" stroke-width="0.9"/>
<text x="382.32" y="499.51" font-size="7.7" text-anchor="middle" fill="#222">40</text>
<line x1="387.4" y1="475.87" x2="389.6" y2="475.87" stroke="#111" stroke-width="0.9"/>
<text x="382.32" y="478.64" font-size="7.7" text-anchor="middle" fill="#222">60</text>
<line x1="387.4" y1="455" x2="389.6" y2="455" stroke="#111" stroke-width="0.9"/>
<text x="382.32" y="457.77" font-size="7.7" text-anchor="middle" fill="#222">80</text>
<line x1="389.6" y1="528.03" x2="389.6" y2="530.63" stroke="#111" stroke-width="0.9"/>
<text x="389.6" y="537.43" font-size="7.7" text-anchor="middle" fill="#222">0</text>
<line x1="409.28" y1="528.03" x2="409.28" y2="530.63" stroke="#111" stroke-width="0.9"/>
<text x="409.28" y="537.43" font-size="7.7" text-anchor="middle" fill="#222">20</text>
<line x1="428.96" y1="528.03" x2="428.96" y2="530.63" stroke="#111" stroke-width="0.9"/>
<text x="428.96" y="537.43" font-size="7.7" text-anchor="middle" fill="#222">40</text>
<line x1="448.64" y1="528.03" x2="448.64" y2="530.63" stroke="#111" stroke-width="0.9"/>
<text x="448.64" y="537.43" font-size="7.7" text-anchor="middle" fill="#222">60</text>
<line x1="468.32" y1="528.03" x2="468.32" y2="530.63" stroke="#111" stroke-width="0.9"/>
<text x="468.32" y="537.43" font-size="7.7" text-anchor="middle" fill="#222">80</text>
<line x1="488" y1="528.03" x2="488" y2="530.63" stroke="#111" stroke-width="0.9"/>
<text x="488" y="537.43" font-size="7.7" text-anchor="middle" fill="#222">100</text>
<text x="438.8" y="545.43" font-size="7.6" text-anchor="middle">Time (minutes)</text>
<text x="434" y="451" font-size="8" text-anchor="middle">OVCAR3</text>
<text x="407" y="485.6" font-size="6.9" text-anchor="middle" fill="#222">Glucose</text>
<text x="434" y="471.2" font-size="6.9" text-anchor="middle" fill="#222">Oligomycin</text>
<text x="459" y="464.2" font-size="6.9" text-anchor="middle" fill="#222">2-DG</text>
<line x1="407" y1="489" x2="407" y2="498.5" stroke="#111" stroke-width="0.9"/>
<path d="M405.3 496.5 L408.7 496.5 L407 500.5 Z" fill="#111"/>
<line x1="433" y1="474" x2="433" y2="483.5" stroke="#111" stroke-width="0.9"/>
<path d="M431.3 481.5 L434.7 481.5 L433 485.5 Z" fill="#111"/>
<line x1="457.6" y1="468" x2="457.6" y2="477.5" stroke="#111" stroke-width="0.9"/>
<path d="M455.9 475.5 L459.3 475.5 L457.6 479.5 Z" fill="#111"/>
<text x="371" y="497" font-size="7.6" text-anchor="middle" transform="rotate(-90 371 497)">ECAR (mpH/min)</text>
<line x1="521.86" y1="509.05" x2="521.86" y2="510.75" stroke="#9040c8" stroke-width="0.8"/>
<line x1="520.56" y1="509.05" x2="523.16" y2="509.05" stroke="#9040c8" stroke-width="0.8"/>
<line x1="520.56" y1="510.75" x2="523.16" y2="510.75" stroke="#9040c8" stroke-width="0.8"/>
<line x1="530.16" y1="511.49" x2="530.16" y2="513.19" stroke="#9040c8" stroke-width="0.8"/>
<line x1="528.86" y1="511.49" x2="531.46" y2="511.49" stroke="#9040c8" stroke-width="0.8"/>
<line x1="528.86" y1="513.19" x2="531.46" y2="513.19" stroke="#9040c8" stroke-width="0.8"/>
<line x1="538.46" y1="512.71" x2="538.46" y2="514.41" stroke="#9040c8" stroke-width="0.8"/>
<line x1="537.16" y1="512.71" x2="539.76" y2="512.71" stroke="#9040c8" stroke-width="0.8"/>
<line x1="537.16" y1="514.41" x2="539.76" y2="514.41" stroke="#9040c8" stroke-width="0.8"/>
<line x1="546.75" y1="500.14" x2="546.75" y2="505.02" stroke="#9040c8" stroke-width="0.8"/>
<line x1="545.45" y1="500.14" x2="548.05" y2="500.14" stroke="#9040c8" stroke-width="0.8"/>
<line x1="545.45" y1="505.02" x2="548.05" y2="505.02" stroke="#9040c8" stroke-width="0.8"/>
<line x1="555.05" y1="498.92" x2="555.05" y2="503.8" stroke="#9040c8" stroke-width="0.8"/>
<line x1="553.75" y1="498.92" x2="556.35" y2="498.92" stroke="#9040c8" stroke-width="0.8"/>
<line x1="553.75" y1="503.8" x2="556.35" y2="503.8" stroke="#9040c8" stroke-width="0.8"/>
<line x1="563.34" y1="497.7" x2="563.34" y2="502.58" stroke="#9040c8" stroke-width="0.8"/>
<line x1="562.04" y1="497.7" x2="564.64" y2="497.7" stroke="#9040c8" stroke-width="0.8"/>
<line x1="562.04" y1="502.58" x2="564.64" y2="502.58" stroke="#9040c8" stroke-width="0.8"/>
<line x1="571.64" y1="490.38" x2="571.64" y2="495.26" stroke="#9040c8" stroke-width="0.8"/>
<line x1="570.34" y1="490.38" x2="572.94" y2="490.38" stroke="#9040c8" stroke-width="0.8"/>
<line x1="570.34" y1="495.26" x2="572.94" y2="495.26" stroke="#9040c8" stroke-width="0.8"/>
<line x1="579.94" y1="490.99" x2="579.94" y2="495.87" stroke="#9040c8" stroke-width="0.8"/>
<line x1="578.64" y1="490.99" x2="581.24" y2="490.99" stroke="#9040c8" stroke-width="0.8"/>
<line x1="578.64" y1="495.87" x2="581.24" y2="495.87" stroke="#9040c8" stroke-width="0.8"/>
<line x1="588.23" y1="490.99" x2="588.23" y2="495.87" stroke="#9040c8" stroke-width="0.8"/>
<line x1="586.93" y1="490.99" x2="589.53" y2="490.99" stroke="#9040c8" stroke-width="0.8"/>
<line x1="586.93" y1="495.87" x2="589.53" y2="495.87" stroke="#9040c8" stroke-width="0.8"/>
<line x1="596.53" y1="520.15" x2="596.53" y2="521.61" stroke="#9040c8" stroke-width="0.8"/>
<line x1="595.23" y1="520.15" x2="597.83" y2="520.15" stroke="#9040c8" stroke-width="0.8"/>
<line x1="595.23" y1="521.61" x2="597.83" y2="521.61" stroke="#9040c8" stroke-width="0.8"/>
<line x1="604.82" y1="523.2" x2="604.82" y2="524.66" stroke="#9040c8" stroke-width="0.8"/>
<line x1="603.52" y1="523.2" x2="606.12" y2="523.2" stroke="#9040c8" stroke-width="0.8"/>
<line x1="603.52" y1="524.66" x2="606.12" y2="524.66" stroke="#9040c8" stroke-width="0.8"/>
<line x1="613.12" y1="524.42" x2="613.12" y2="525.88" stroke="#9040c8" stroke-width="0.8"/>
<line x1="611.82" y1="524.42" x2="614.42" y2="524.42" stroke="#9040c8" stroke-width="0.8"/>
<line x1="611.82" y1="525.88" x2="614.42" y2="525.88" stroke="#9040c8" stroke-width="0.8"/>
<polyline points="521.86,509.9 530.16,512.34 538.46,513.56 546.75,502.58 555.05,501.36 563.34,500.14 571.64,492.82 579.94,493.43 588.23,493.43 596.53,520.88 604.82,523.93 613.12,525.15" fill="none" stroke="#9040c8" stroke-width="1.3"/>
<circle cx="521.86" cy="509.9" r="1.2" fill="#9040c8"/>
<circle cx="530.16" cy="512.34" r="1.2" fill="#9040c8"/>
<circle cx="538.46" cy="513.56" r="1.2" fill="#9040c8"/>
<circle cx="546.75" cy="502.58" r="1.2" fill="#9040c8"/>
<circle cx="555.05" cy="501.36" r="1.2" fill="#9040c8"/>
<circle cx="563.34" cy="500.14" r="1.2" fill="#9040c8"/>
<circle cx="571.64" cy="492.82" r="1.2" fill="#9040c8"/>
<circle cx="579.94" cy="493.43" r="1.2" fill="#9040c8"/>
<circle cx="588.23" cy="493.43" r="1.2" fill="#9040c8"/>
<circle cx="596.53" cy="520.88" r="1.2" fill="#9040c8"/>
<circle cx="604.82" cy="523.93" r="1.2" fill="#9040c8"/>
<circle cx="613.12" cy="525.15" r="1.2" fill="#9040c8"/>
<line x1="521.86" y1="505.39" x2="521.86" y2="507.09" stroke="#48c048" stroke-width="0.8"/>
<line x1="520.56" y1="505.39" x2="523.16" y2="505.39" stroke="#48c048" stroke-width="0.8"/>
<line x1="520.56" y1="507.09" x2="523.16" y2="507.09" stroke="#48c048" stroke-width="0.8"/>
<line x1="530.16" y1="507.83" x2="530.16" y2="509.53" stroke="#48c048" stroke-width="0.8"/>
<line x1="528.86" y1="507.83" x2="531.46" y2="507.83" stroke="#48c048" stroke-width="0.8"/>
<line x1="528.86" y1="509.53" x2="531.46" y2="509.53" stroke="#48c048" stroke-width="0.8"/>
<line x1="538.46" y1="509.05" x2="538.46" y2="510.75" stroke="#48c048" stroke-width="0.8"/>
<line x1="537.16" y1="509.05" x2="539.76" y2="509.05" stroke="#48c048" stroke-width="0.8"/>
<line x1="537.16" y1="510.75" x2="539.76" y2="510.75" stroke="#48c048" stroke-width="0.8"/>
<line x1="546.75" y1="496.48" x2="546.75" y2="501.36" stroke="#48c048" stroke-width="0.8"/>
<line x1="545.45" y1="496.48" x2="548.05" y2="496.48" stroke="#48c048" stroke-width="0.8"/>
<line x1="545.45" y1="501.36" x2="548.05" y2="501.36" stroke="#48c048" stroke-width="0.8"/>
<line x1="555.05" y1="495.26" x2="555.05" y2="500.14" stroke="#48c048" stroke-width="0.8"/>
<line x1="553.75" y1="495.26" x2="556.35" y2="495.26" stroke="#48c048" stroke-width="0.8"/>
<line x1="553.75" y1="500.14" x2="556.35" y2="500.14" stroke="#48c048" stroke-width="0.8"/>
<line x1="563.34" y1="494.04" x2="563.34" y2="498.92" stroke="#48c048" stroke-width="0.8"/>
<line x1="562.04" y1="494.04" x2="564.64" y2="494.04" stroke="#48c048" stroke-width="0.8"/>
<line x1="562.04" y1="498.92" x2="564.64" y2="498.92" stroke="#48c048" stroke-width="0.8"/>
<line x1="571.64" y1="486.72" x2="571.64" y2="491.6" stroke="#48c048" stroke-width="0.8"/>
<line x1="570.34" y1="486.72" x2="572.94" y2="486.72" stroke="#48c048" stroke-width="0.8"/>
<line x1="570.34" y1="491.6" x2="572.94" y2="491.6" stroke="#48c048" stroke-width="0.8"/>
<line x1="579.94" y1="487.33" x2="579.94" y2="492.21" stroke="#48c048" stroke-width="0.8"/>
<line x1="578.64" y1="487.33" x2="581.24" y2="487.33" stroke="#48c048" stroke-width="0.8"/>
<line x1="578.64" y1="492.21" x2="581.24" y2="492.21" stroke="#48c048" stroke-width="0.8"/>
<line x1="588.23" y1="487.33" x2="588.23" y2="492.21" stroke="#48c048" stroke-width="0.8"/>
<line x1="586.93" y1="487.33" x2="589.53" y2="487.33" stroke="#48c048" stroke-width="0.8"/>
<line x1="586.93" y1="492.21" x2="589.53" y2="492.21" stroke="#48c048" stroke-width="0.8"/>
<line x1="596.53" y1="517.1" x2="596.53" y2="518.56" stroke="#48c048" stroke-width="0.8"/>
<line x1="595.23" y1="517.1" x2="597.83" y2="517.1" stroke="#48c048" stroke-width="0.8"/>
<line x1="595.23" y1="518.56" x2="597.83" y2="518.56" stroke="#48c048" stroke-width="0.8"/>
<line x1="604.82" y1="520.76" x2="604.82" y2="522.22" stroke="#48c048" stroke-width="0.8"/>
<line x1="603.52" y1="520.76" x2="606.12" y2="520.76" stroke="#48c048" stroke-width="0.8"/>
<line x1="603.52" y1="522.22" x2="606.12" y2="522.22" stroke="#48c048" stroke-width="0.8"/>
<line x1="613.12" y1="522.59" x2="613.12" y2="524.05" stroke="#48c048" stroke-width="0.8"/>
<line x1="611.82" y1="522.59" x2="614.42" y2="522.59" stroke="#48c048" stroke-width="0.8"/>
<line x1="611.82" y1="524.05" x2="614.42" y2="524.05" stroke="#48c048" stroke-width="0.8"/>
<polyline points="521.86,506.24 530.16,508.68 538.46,509.9 546.75,498.92 555.05,497.7 563.34,496.48 571.64,489.16 579.94,489.77 588.23,489.77 596.53,517.83 604.82,521.49 613.12,523.32" fill="none" stroke="#48c048" stroke-width="1.3"/>
<circle cx="521.86" cy="506.24" r="1.2" fill="#48c048"/>
<circle cx="530.16" cy="508.68" r="1.2" fill="#48c048"/>
<circle cx="538.46" cy="509.9" r="1.2" fill="#48c048"/>
<circle cx="546.75" cy="498.92" r="1.2" fill="#48c048"/>
<circle cx="555.05" cy="497.7" r="1.2" fill="#48c048"/>
<circle cx="563.34" cy="496.48" r="1.2" fill="#48c048"/>
<circle cx="571.64" cy="489.16" r="1.2" fill="#48c048"/>
<circle cx="579.94" cy="489.77" r="1.2" fill="#48c048"/>
<circle cx="588.23" cy="489.77" r="1.2" fill="#48c048"/>
<circle cx="596.53" cy="517.83" r="1.2" fill="#48c048"/>
<circle cx="604.82" cy="521.49" r="1.2" fill="#48c048"/>
<circle cx="613.12" cy="523.32" r="1.2" fill="#48c048"/>
<line x1="521.86" y1="506.39" x2="521.86" y2="508.53" stroke="#2a50c0" stroke-width="0.8"/>
<line x1="520.56" y1="506.39" x2="523.16" y2="506.39" stroke="#2a50c0" stroke-width="0.8"/>
<line x1="520.56" y1="508.53" x2="523.16" y2="508.53" stroke="#2a50c0" stroke-width="0.8"/>
<line x1="530.16" y1="508.22" x2="530.16" y2="510.36" stroke="#2a50c0" stroke-width="0.8"/>
<line x1="528.86" y1="508.22" x2="531.46" y2="508.22" stroke="#2a50c0" stroke-width="0.8"/>
<line x1="528.86" y1="510.36" x2="531.46" y2="510.36" stroke="#2a50c0" stroke-width="0.8"/>
<line x1="538.46" y1="510.05" x2="538.46" y2="512.19" stroke="#2a50c0" stroke-width="0.8"/>
<line x1="537.16" y1="510.05" x2="539.76" y2="510.05" stroke="#2a50c0" stroke-width="0.8"/>
<line x1="537.16" y1="512.19" x2="539.76" y2="512.19" stroke="#2a50c0" stroke-width="0.8"/>
<line x1="546.75" y1="494.65" x2="546.75" y2="500.75" stroke="#2a50c0" stroke-width="0.8"/>
<line x1="545.45" y1="494.65" x2="548.05" y2="494.65" stroke="#2a50c0" stroke-width="0.8"/>
<line x1="545.45" y1="500.75" x2="548.05" y2="500.75" stroke="#2a50c0" stroke-width="0.8"/>
<line x1="555.05" y1="493.43" x2="555.05" y2="499.53" stroke="#2a50c0" stroke-width="0.8"/>
<line x1="553.75" y1="493.43" x2="556.35" y2="493.43" stroke="#2a50c0" stroke-width="0.8"/>
<line x1="553.75" y1="499.53" x2="556.35" y2="499.53" stroke="#2a50c0" stroke-width="0.8"/>
<line x1="563.34" y1="492.21" x2="563.34" y2="498.31" stroke="#2a50c0" stroke-width="0.8"/>
<line x1="562.04" y1="492.21" x2="564.64" y2="492.21" stroke="#2a50c0" stroke-width="0.8"/>
<line x1="562.04" y1="498.31" x2="564.64" y2="498.31" stroke="#2a50c0" stroke-width="0.8"/>
<line x1="571.64" y1="481.84" x2="571.64" y2="487.94" stroke="#2a50c0" stroke-width="0.8"/>
<line x1="570.34" y1="481.84" x2="572.94" y2="481.84" stroke="#2a50c0" stroke-width="0.8"/>
<line x1="570.34" y1="487.94" x2="572.94" y2="487.94" stroke="#2a50c0" stroke-width="0.8"/>
<line x1="579.94" y1="482.45" x2="579.94" y2="488.55" stroke="#2a50c0" stroke-width="0.8"/>
<line x1="578.64" y1="482.45" x2="581.24" y2="482.45" stroke="#2a50c0" stroke-width="0.8"/>
<line x1="578.64" y1="488.55" x2="581.24" y2="488.55" stroke="#2a50c0" stroke-width="0.8"/>
<line x1="588.23" y1="482.45" x2="588.23" y2="488.55" stroke="#2a50c0" stroke-width="0.8"/>
<line x1="586.93" y1="482.45" x2="589.53" y2="482.45" stroke="#2a50c0" stroke-width="0.8"/>
<line x1="586.93" y1="488.55" x2="589.53" y2="488.55" stroke="#2a50c0" stroke-width="0.8"/>
<line x1="596.53" y1="518.13" x2="596.53" y2="519.97" stroke="#2a50c0" stroke-width="0.8"/>
<line x1="595.23" y1="518.13" x2="597.83" y2="518.13" stroke="#2a50c0" stroke-width="0.8"/>
<line x1="595.23" y1="519.97" x2="597.83" y2="519.97" stroke="#2a50c0" stroke-width="0.8"/>
<line x1="604.82" y1="521.18" x2="604.82" y2="523.01" stroke="#2a50c0" stroke-width="0.8"/>
<line x1="603.52" y1="521.18" x2="606.12" y2="521.18" stroke="#2a50c0" stroke-width="0.8"/>
<line x1="603.52" y1="523.01" x2="606.12" y2="523.01" stroke="#2a50c0" stroke-width="0.8"/>
<line x1="613.12" y1="523.01" x2="613.12" y2="524.85" stroke="#2a50c0" stroke-width="0.8"/>
<line x1="611.82" y1="523.01" x2="614.42" y2="523.01" stroke="#2a50c0" stroke-width="0.8"/>
<line x1="611.82" y1="524.85" x2="614.42" y2="524.85" stroke="#2a50c0" stroke-width="0.8"/>
<polyline points="521.86,507.46 530.16,509.29 538.46,511.12 546.75,497.7 555.05,496.48 563.34,495.26 571.64,484.89 579.94,485.5 588.23,485.5 596.53,519.05 604.82,522.1 613.12,523.93" fill="none" stroke="#2a50c0" stroke-width="1.3"/>
<circle cx="521.86" cy="507.46" r="1.2" fill="#2a50c0"/>
<circle cx="530.16" cy="509.29" r="1.2" fill="#2a50c0"/>
<circle cx="538.46" cy="511.12" r="1.2" fill="#2a50c0"/>
<circle cx="546.75" cy="497.7" r="1.2" fill="#2a50c0"/>
<circle cx="555.05" cy="496.48" r="1.2" fill="#2a50c0"/>
<circle cx="563.34" cy="495.26" r="1.2" fill="#2a50c0"/>
<circle cx="571.64" cy="484.89" r="1.2" fill="#2a50c0"/>
<circle cx="579.94" cy="485.5" r="1.2" fill="#2a50c0"/>
<circle cx="588.23" cy="485.5" r="1.2" fill="#2a50c0"/>
<circle cx="596.53" cy="519.05" r="1.2" fill="#2a50c0"/>
<circle cx="604.82" cy="522.1" r="1.2" fill="#2a50c0"/>
<circle cx="613.12" cy="523.93" r="1.2" fill="#2a50c0"/>
<line x1="521.86" y1="500.11" x2="521.86" y2="501.39" stroke="#e82828" stroke-width="0.8"/>
<line x1="520.56" y1="500.11" x2="523.16" y2="500.11" stroke="#e82828" stroke-width="0.8"/>
<line x1="520.56" y1="501.39" x2="523.16" y2="501.39" stroke="#e82828" stroke-width="0.8"/>
<line x1="530.16" y1="502.55" x2="530.16" y2="503.83" stroke="#e82828" stroke-width="0.8"/>
<line x1="528.86" y1="502.55" x2="531.46" y2="502.55" stroke="#e82828" stroke-width="0.8"/>
<line x1="528.86" y1="503.83" x2="531.46" y2="503.83" stroke="#e82828" stroke-width="0.8"/>
<line x1="538.46" y1="504.38" x2="538.46" y2="505.66" stroke="#e82828" stroke-width="0.8"/>
<line x1="537.16" y1="504.38" x2="539.76" y2="504.38" stroke="#e82828" stroke-width="0.8"/>
<line x1="537.16" y1="505.66" x2="539.76" y2="505.66" stroke="#e82828" stroke-width="0.8"/>
<line x1="546.75" y1="487.33" x2="546.75" y2="490.99" stroke="#e82828" stroke-width="0.8"/>
<line x1="545.45" y1="487.33" x2="548.05" y2="487.33" stroke="#e82828" stroke-width="0.8"/>
<line x1="545.45" y1="490.99" x2="548.05" y2="490.99" stroke="#e82828" stroke-width="0.8"/>
<line x1="555.05" y1="485.5" x2="555.05" y2="489.16" stroke="#e82828" stroke-width="0.8"/>
<line x1="553.75" y1="485.5" x2="556.35" y2="485.5" stroke="#e82828" stroke-width="0.8"/>
<line x1="553.75" y1="489.16" x2="556.35" y2="489.16" stroke="#e82828" stroke-width="0.8"/>
<line x1="563.34" y1="485.5" x2="563.34" y2="489.16" stroke="#e82828" stroke-width="0.8"/>
<line x1="562.04" y1="485.5" x2="564.64" y2="485.5" stroke="#e82828" stroke-width="0.8"/>
<line x1="562.04" y1="489.16" x2="564.64" y2="489.16" stroke="#e82828" stroke-width="0.8"/>
<line x1="571.64" y1="473.91" x2="571.64" y2="477.57" stroke="#e82828" stroke-width="0.8"/>
<line x1="570.34" y1="473.91" x2="572.94" y2="473.91" stroke="#e82828" stroke-width="0.8"/>
<line x1="570.34" y1="477.57" x2="572.94" y2="477.57" stroke="#e82828" stroke-width="0.8"/>
<line x1="579.94" y1="474.52" x2="579.94" y2="478.18" stroke="#e82828" stroke-width="0.8"/>
<line x1="578.64" y1="474.52" x2="581.24" y2="474.52" stroke="#e82828" stroke-width="0.8"/>
<line x1="578.64" y1="478.18" x2="581.24" y2="478.18" stroke="#e82828" stroke-width="0.8"/>
<line x1="588.23" y1="474.52" x2="588.23" y2="478.18" stroke="#e82828" stroke-width="0.8"/>
<line x1="586.93" y1="474.52" x2="589.53" y2="474.52" stroke="#e82828" stroke-width="0.8"/>
<line x1="586.93" y1="478.18" x2="589.53" y2="478.18" stroke="#e82828" stroke-width="0.8"/>
<line x1="596.53" y1="515.45" x2="596.53" y2="516.55" stroke="#e82828" stroke-width="0.8"/>
<line x1="595.23" y1="515.45" x2="597.83" y2="515.45" stroke="#e82828" stroke-width="0.8"/>
<line x1="595.23" y1="516.55" x2="597.83" y2="516.55" stroke="#e82828" stroke-width="0.8"/>
<line x1="604.82" y1="518.5" x2="604.82" y2="519.6" stroke="#e82828" stroke-width="0.8"/>
<line x1="603.52" y1="518.5" x2="606.12" y2="518.5" stroke="#e82828" stroke-width="0.8"/>
<line x1="603.52" y1="519.6" x2="606.12" y2="519.6" stroke="#e82828" stroke-width="0.8"/>
<line x1="613.12" y1="519.72" x2="613.12" y2="520.82" stroke="#e82828" stroke-width="0.8"/>
<line x1="611.82" y1="519.72" x2="614.42" y2="519.72" stroke="#e82828" stroke-width="0.8"/>
<line x1="611.82" y1="520.82" x2="614.42" y2="520.82" stroke="#e82828" stroke-width="0.8"/>
<polyline points="521.86,500.75 530.16,503.19 538.46,505.02 546.75,489.16 555.05,487.33 563.34,487.33 571.64,475.74 579.94,476.35 588.23,476.35 596.53,516 604.82,519.05 613.12,520.27" fill="none" stroke="#e82828" stroke-width="1.3"/>
<circle cx="521.86" cy="500.75" r="1.2" fill="#e82828"/>
<circle cx="530.16" cy="503.19" r="1.2" fill="#e82828"/>
<circle cx="538.46" cy="505.02" r="1.2" fill="#e82828"/>
<circle cx="546.75" cy="489.16" r="1.2" fill="#e82828"/>
<circle cx="555.05" cy="487.33" r="1.2" fill="#e82828"/>
<circle cx="563.34" cy="487.33" r="1.2" fill="#e82828"/>
<circle cx="571.64" cy="475.74" r="1.2" fill="#e82828"/>
<circle cx="579.94" cy="476.35" r="1.2" fill="#e82828"/>
<circle cx="588.23" cy="476.35" r="1.2" fill="#e82828"/>
<circle cx="596.53" cy="516" r="1.2" fill="#e82828"/>
<circle cx="604.82" cy="519.05" r="1.2" fill="#e82828"/>
<circle cx="613.12" cy="520.27" r="1.2" fill="#e82828"/>
<line x1="520.4" y1="454.5" x2="520.4" y2="528.19" stroke="#111" stroke-width="1.2"/>
<line x1="519.8" y1="527.59" x2="618" y2="527.59" stroke="#111" stroke-width="1.2"/>
<line x1="518.2" y1="516" x2="520.4" y2="516" stroke="#111" stroke-width="0.9"/>
<text x="510.98" y="518.77" font-size="7.7" text-anchor="middle" fill="#222">50</text>
<line x1="518.2" y1="485.5" x2="520.4" y2="485.5" stroke="#111" stroke-width="0.9"/>
<text x="510.98" y="488.27" font-size="7.7" text-anchor="middle" fill="#222">100</text>
<line x1="518.2" y1="455" x2="520.4" y2="455" stroke="#111" stroke-width="0.9"/>
<text x="510.98" y="457.77" font-size="7.7" text-anchor="middle" fill="#222">150</text>
<line x1="520.4" y1="527.59" x2="520.4" y2="530.19" stroke="#111" stroke-width="0.9"/>
<text x="520.4" y="536.99" font-size="7.7" text-anchor="middle" fill="#222">0</text>
<line x1="539.92" y1="527.59" x2="539.92" y2="530.19" stroke="#111" stroke-width="0.9"/>
<text x="539.92" y="536.99" font-size="7.7" text-anchor="middle" fill="#222">20</text>
<line x1="559.44" y1="527.59" x2="559.44" y2="530.19" stroke="#111" stroke-width="0.9"/>
<text x="559.44" y="536.99" font-size="7.7" text-anchor="middle" fill="#222">40</text>
<line x1="578.96" y1="527.59" x2="578.96" y2="530.19" stroke="#111" stroke-width="0.9"/>
<text x="578.96" y="536.99" font-size="7.7" text-anchor="middle" fill="#222">60</text>
<line x1="598.48" y1="527.59" x2="598.48" y2="530.19" stroke="#111" stroke-width="0.9"/>
<text x="598.48" y="536.99" font-size="7.7" text-anchor="middle" fill="#222">80</text>
<line x1="618" y1="527.59" x2="618" y2="530.19" stroke="#111" stroke-width="0.9"/>
<text x="618" y="536.99" font-size="7.7" text-anchor="middle" fill="#222">100</text>
<text x="569.2" y="544.99" font-size="7.6" text-anchor="middle">Time (minutes)</text>
<text x="566" y="451" font-size="8" text-anchor="middle">SKOV3</text>
<text x="539" y="477.2" font-size="6.9" text-anchor="middle" fill="#222">Glucose</text>
<text x="565" y="459.8" font-size="6.9" text-anchor="middle" fill="#222">Oligomycin</text>
<text x="593" y="457.2" font-size="6.9" text-anchor="middle" fill="#222">2-DG</text>
<line x1="539" y1="480" x2="539" y2="489.5" stroke="#111" stroke-width="0.9"/>
<path d="M537.3 487.5 L540.7 487.5 L539 491.5 Z" fill="#111"/>
<line x1="563.6" y1="463" x2="563.6" y2="472.5" stroke="#111" stroke-width="0.9"/>
<path d="M561.9 470.5 L565.3 470.5 L563.6 474.5 Z" fill="#111"/>
<line x1="589.6" y1="460" x2="589.6" y2="469.5" stroke="#111" stroke-width="0.9"/>
<path d="M587.9 467.5 L591.3 467.5 L589.6 471.5 Z" fill="#111"/>
<text x="503" y="492" font-size="7.6" text-anchor="middle" transform="rotate(-90 503 492)">ECAR (mpH/min)</text>
<line x1="619" y1="458.6" x2="631" y2="458.6" stroke="#2a50c0" stroke-width="1.1"/>
<circle cx="625" cy="458.6" r="1.1" fill="#2a50c0"/>
<text x="634" y="460.9" font-size="6.4" fill="#222">Control</text>
<line x1="619" y1="466" x2="631" y2="466" stroke="#e82828" stroke-width="1.1"/>
<circle cx="625" cy="466" r="1.1" fill="#e82828"/>
<text x="634" y="468.3" font-size="6.4" fill="#222">hnRNPL</text>
<line x1="619" y1="474.4" x2="631" y2="474.4" stroke="#48c048" stroke-width="1.1"/>
<circle cx="625" cy="474.4" r="1.1" fill="#48c048"/>
<text x="634" y="476.7" font-size="6.4" fill="#222">hnRNPL+TGX221</text>
<line x1="619" y1="483" x2="631" y2="483" stroke="#9040c8" stroke-width="1.1"/>
<circle cx="625" cy="483" r="1.1" fill="#9040c8"/>
<text x="634" y="485.3" font-size="6.4" fill="#222">hnRNPL+PI-103</text>
<text x="436.6" y="579.2" font-size="8.1" text-anchor="middle">Ovarian surface</text>
<text x="436.6" y="588.4" font-size="8.1" text-anchor="middle">epithelium</text>
<text x="513.3" y="588.4" font-size="8.1" text-anchor="middle">Ovarian cancer</text>
<defs>
<filter id="tx1" x="0" y="0" width="100%" height="100%" color-interpolation-filters="sRGB"><feTurbulence type="fractalNoise" baseFrequency="0.8" numOctaves="2" seed="4"/>
<feColorMatrix type="matrix" values="0.7 0 0 0 0.13  0.68 0 0 0 0.12  0.55 0 0.15 0 0.1  0 0 0 0 1"/></filter>
<filter id="bb" x="-20%" y="-20%" width="140%" height="140%"><feGaussianBlur stdDeviation="1.8"/></filter>
<clipPath id="ci1"><rect x="399.6" y="592" width="70.8" height="52.4"/></clipPath>
<clipPath id="ci2"><rect x="474.2" y="592" width="71.3" height="52.4"/></clipPath>
</defs>
<g clip-path="url(#ci1)">
<rect x="399.6" y="592" width="70.8" height="52.4" fill="#000" filter="url(#tx1)"/>
<path d="M399 600 Q420 606 440 612 L470 600 L470 596 Q440 606 420 600 Z" fill="#5f86c4" opacity="0.35" filter="url(#bb)"/>
<path d="M452 616 L470 606" stroke="#8aa6d0" stroke-width="5" opacity="0.55" filter="url(#bb)"/>
<polyline points="399.4,607 403.3,610.7 407.5,612.9 415,613.9 420.3,613.4 426.7,615 431,618.2 434.2,619.3 439.5,619 443.8,617.7 449.1,616.4 452.3,615.7" fill="none" stroke="#5a82c0" stroke-width="7" opacity="0.6" filter="url(#bb)"/>
<polyline points="452.3,615.7 445.9,620.9 441.6,623 438.4,627.2 435.2,631.5 432,636.8 428.9,641.1 426.7,644.4" fill="none" stroke="#5a82c0" stroke-width="9" opacity="0.6" filter="url(#bb)"/>
<polygon points="399.4,607 403.3,610.7 407.5,612.9 415,613.9 420.3,613.4 426.7,615 431,618.2 434.2,619.3 439.5,619 443.8,617.7 449.1,616.4 452.3,615.7 445.9,620.9 441.6,623 438.4,627.2 435.2,631.5 432,636.8 428.9,641.1 426.7,644.4 399.4,644.4" fill="#f0ded4"/>
<line x1="454.4" y1="640.6" x2="466.2" y2="640.6" stroke="#111" stroke-width="1.6"/>
</g>
<g clip-path="url(#ci2)">
<rect x="474.2" y="592" width="71.3" height="52.4" fill="#f5edd5"/>
<path d="M506.45 621.33Q504.15 622.16 501.8 622.46M487.37 618.82Q484.81 621.34 484.68 625.03M477.19 643.47Q474.59 642.77 471.3 644.12M475.27 619.69Q476.04 618.57 478.36 620.27M507.28 615.08Q507.1 618.49 506.93 620.92M506.81 606.58Q503.84 607.23 498.83 606.63M496.68 604.03Q498.22 604.69 498.17 605.94M534.56 612.25Q529.55 611.85 527.54 613.18M539.1 616.63Q535.63 617.15 534.73 616.9M529.71 606.14Q533.02 607.45 533.55 607.22M482.61 604.91Q484.62 604.31 484.85 605.65M526.38 598.86Q525.56 599.22 525.21 601.29M493.44 642.88Q493.03 643.12 490.32 645.09M502.31 636.77Q503.22 637.08 501.19 639.12M492.62 632.49Q492.3 632.88 494.55 635.73M500.7 615.75Q498.5 617.16 495.84 616.38M487.24 600.08Q483.17 600.13 480.61 602.04M526.92 641.28Q531.21 643.82 533.2 645.74M504.25 597.44Q507.32 598.53 511.97 598.38M495.12 601.19Q493.54 602.3 493.58 603.05M534.98 624.19Q536.48 625.63 539.76 629.97M493.39 615.35Q494.5 615.86 496.4 615.93M483.58 610.98Q480.34 612.87 476.16 613.62M515.87 599.35Q518.15 600.07 517.97 599.59M542.85 593.11Q542.52 594.8 540.82 597.57M545.45 595.94Q546.19 599.83 544.53 602.3M524.37 633.57Q522.95 635.31 520.41 634.65M536.31 613.86Q533.69 616.43 530.63 618.25M501.46 622.53Q501.46 625.18 500.63 624.87M536.93 630.16Q538.27 632.99 539.13 636.18M533.98 596.39Q533.51 597.1 532.43 597.93M490.61 628.59Q491.9 630.7 490.66 634.28M475.01 607.77Q473.16 610.35 473.3 610.5M521.26 615.16Q521.9 617.52 524.36 620.29M531.67 639.91Q529.91 640.15 527.66 641.49M483.91 618.01Q481.45 621.1 477.73 621.49M493.94 600.86Q493.36 602.41 494.5 604.47M534.03 643.46Q532.81 645.79 534.39 645.88M477.16 629.13Q477.61 629.57 476.31 632.89M483.89 615.83Q486.58 615.03 490.85 616.37M477.55 624.97Q478.5 628.74 478.51 630.67M542.54 627.87Q543.54 627.82 546.47 630.71M507.87 629.42Q508.94 630.98 510.94 631.36M511.31 624.2Q510.61 626.93 508.16 627.22M480.42 640.87Q479.38 642.31 478.63 643M539.08 611.74Q539.19 616.63 537.52 618.85M507.26 626.13Q510.75 628.45 512.33 629.93M525.37 603.18Q523.05 604.51 517.87 605.61M530.58 608.79Q526.7 608.53 523.73 610.78M505.64 620.84Q502.38 623.4 501.96 624.11M498.09 633.29Q499.44 634.57 500.7 634.52M534.09 628.12Q533 627.3 529.21 628.96M489.99 619.6Q492.36 622.18 493.89 624.63M534.35 621.34Q536.58 624.32 536.74 624.9M489.05 636.58Q487.94 639.4 488.63 642M510.08 623.71Q514.02 623.76 517.86 624.39M531.32 621.49Q530.1 624.68 531.49 627.64M503.7 642.14Q501.87 641.45 500.19 643M505.12 634.74Q502.26 634.56 500.5 636.24M518.26 640.48Q519.89 640.89 524.39 643.13M490.4 628Q491.86 628.57 492.59 631.5M526.31 598.43Q525.35 600.28 526.2 601.94M505.34 611.69Q505.02 613.29 506.73 616.67M519.21 625.46Q519.22 630.06 518.55 632.53M490.79 630.82Q488.38 632.67 487.07 631.99M489.75 644.31Q487.66 645.48 487.12 645.28M492.7 597.08Q491.61 597.1 488.79 599.36M502.92 627.91Q505.07 629.23 506.12 628.08M543.25 598.05Q543.2 601.88 543.13 604.6M487.68 595.7Q488.88 596.11 489.78 596.43M514.75 599.68Q517.12 602.03 517.45 601.45M540.29 596.99Q543.96 598.53 547.85 598.48M497.5 616.47Q497.7 617.3 497.28 621.04M524.18 636.24Q526.89 637.23 528.16 638.79M488.11 600.65Q489.25 602.6 488.03 602.74M524.44 637.1Q523.87 639.15 522.69 641.17M544.27 634.17Q547.57 637.71 549.41 639.59M532.28 613.26Q529.42 615.22 525.39 615.58M528.76 613.26Q527.51 614.09 527.2 615.12M474.96 610.64Q472.94 614.57 472.53 615.84M545.49 625.65Q544.99 626.87 541.61 630.96M518.08 630.71Q518.26 631.39 521.13 633.9M500.99 597.16Q503.76 599.82 506.23 602.43M543.16 621.76Q541.17 620.54 537.33 621.85M516.8 631.78Q519.54 632.24 524.31 632.86M486.26 617.97Q487.19 618.83 485.45 620.17M494.57 626.33Q494.87 627.53 493.87 629.96M475.2 604.84Q477.42 604.71 478.11 605.23M538.19 631.21Q543.45 630.56 546.03 632.46M538.77 614.51Q538.27 618.49 539.32 622.33M541.03 629.87Q542.37 634.1 541.81 637.71M482.41 624.71Q481.29 626.39 482.85 627.9M483.06 615.21Q481.16 617.5 480.68 619.3M504.11 632.77Q505.09 637.44 503.34 640.71M491.2 597.97Q488.41 598.65 484.87 600.18M493.56 627.9Q493.4 631.37 492.44 633.33M487.73 605.05Q485.13 603.9 480.25 605.52M478.53 606.2Q478.01 609.11 479.87 611.78M479.37 596.53Q478.37 598.4 476.58 601.04M508.32 603.04Q510.86 604.61 511.37 608.74M529.01 603.17Q530.36 604.5 529.85 606.62M520.81 643.83Q522.92 647.35 523.57 648.35M504.69 611.35Q506.89 611.19 511.61 613.53M495.51 632.64Q497.59 631.77 498.7 633.41M495.86 629.99Q493.73 631.08 493.74 633.02M525.96 611.2Q529.09 613.58 531.8 613.45M541.22 639.86Q541.29 642.66 542.54 646.55M502.69 640.98Q500.63 641.14 499.39 642.11M500.1 612.73Q500.84 615.11 501.2 615.7M512.74 635.83Q513.22 638.47 512.14 638.83M494.27 593.16Q494.34 597.19 494.01 598.42M520.63 634.15Q524.08 633.43 525.81 635.2M480.02 630.62Q481.76 632.12 485.62 632.15M528.77 619.33Q526.67 622.21 525.54 622.27M525.6 629.11Q524.43 630.2 521.3 630.28M535.05 634.23Q533.25 636.48 528.7 637.89M511.55 629.21Q509.47 629.47 507.87 631.84M527.05 643.93Q526.74 645.09 528.2 646.71M495.02 642.82Q495.76 643.62 498.81 643.53M529.52 601.4Q532.11 603.09 534.19 602.33M476.79 597.69Q477.38 599.25 479.56 599.5M494.24 601.04Q492.98 603.33 491.44 603.71M508.39 605.65Q504.4 607.09 501.37 608.24M542.44 617.29Q544.66 618.93 544.2 618.76M501.65 619.65Q503.03 621.94 501.47 623.29M491.14 592.57Q492.21 595.32 491.5 596.78M517.41 600.24Q518.42 602.28 520.88 602.1M511 625.38Q509.3 624.37 507.4 625.45M529.13 592.07Q527.1 592.7 523.14 595.84M493.45 629.55Q495.68 631.65 498.1 631.01M516.03 636.92Q517.73 640.92 519.92 642.42M533.52 608.32Q533.63 609.24 534.9 610.35M481.74 612.66Q483.2 616.99 482.68 620.4M475.08 611.76Q474.22 612.99 472.98 614.47M474.95 643.96Q473.99 644.29 472.33 645.87M501.01 620.28Q501.88 622.41 503.39 623.53M492.48 602.48Q492.5 604.15 489.84 605.45M525.81 609.38Q523.64 608.82 523.62 610.7M522.52 629.11Q525.39 630.57 526.25 631.48M480.62 603.87Q481.55 603.24 483.04 605.17M539.84 614.38Q540.53 618.28 539.63 620.26M501.72 609.37Q501.71 610.97 502.29 611.38M544.21 633.38Q541.41 635.35 541.49 638.33M498.6 626.1Q500.64 627.66 502.63 627.5M533.04 624.04Q537.14 625.76 538.84 627.19M499.34 618.22Q503.63 619.62 505.01 620.93M525.21 635.78Q528.71 637.1 531.45 640.23M480.13 604.82Q478.89 609.11 478.66 610.82M499.95 616.26Q502.49 618.96 507.21 619.24M493.05 639.65Q489.9 638.6 486.15 639.82M533 607.12Q531.59 608.66 529.73 608.22M487.43 620.71Q487.54 622.43 489.56 621.23M541.18 626.5Q543.61 628.62 544.61 631.46M516.4 634.12Q517.9 633.13 519.6 634.28M501.75 621.84Q503.23 623.38 506.12 624.5M497.88 625.63Q499.8 627.36 503.86 626.34M518.68 628.12Q516.28 631.85 513.96 632.61M533.97 636.8Q534.81 640.23 535.26 641.22M538.68 608.8Q543.01 610.04 544.94 609.89M516.8 631.4Q517.11 632.55 520 635.95M506.07 618.34Q507.02 619.51 506.81 620.53M491.25 608.05Q490.51 610.9 492.35 611.28M543.11 626.88Q541.96 626.97 538.97 628.73M527.43 621.7Q527.07 620.96 524.96 622.47M512.53 641.83Q513.66 641.31 515.99 641.84M478.67 638.9Q476.4 640.36 475 641.31M477.47 593.63Q475.64 595.54 473.82 594.84M543.88 616.77Q546.65 619.1 546.89 619.05M507.89 601.01Q503.29 602.87 500.48 603.95M538.39 637.57Q538.11 639.98 536.65 639.77M505.94 596.14Q508.04 596.47 508.88 598.62M487.11 604.34Q485.06 607.75 483.77 610.2M537.26 622.91Q539.97 624.67 540.12 625.42M493.94 625.53Q497.55 626.72 501.52 627.74M512.05 594.38Q510.73 597.05 510.9 597.9M480.41 606.94Q478.5 608.29 477.91 609.36M487.49 639Q490.61 638.91 492.23 639.51M540.46 618.19Q543.14 619.2 544.96 621.05M521.13 633.03Q522.04 636.1 520.87 638.06M511.31 641.86Q513.16 643.92 517.02 645.33M490.98 615.08Q489.31 616.48 485.9 619.47M509.07 603.59Q507.06 606.3 507.83 608.43M525.16 622.01Q522.7 621.16 522.32 623.2M492.95 633.84Q496.78 634.81 500.2 635.52M530.64 604.47Q531 604.77 534.11 606.18M516.17 596.64Q514.16 596.43 513.61 598.26M523.44 635.54Q522.25 635.87 521.59 637.01M489.63 642.86Q492.86 644.64 494.52 643.51M484.51 615.86Q482.95 617.83 482.95 617.46M484.29 612.59Q484.37 613.02 486.99 616.25M545.22 632Q543.35 633.4 542.96 634.5M491.43 616.19Q488.9 618.07 487.34 617.07M517.76 594.08Q517.32 596.42 519.53 599.71M523.73 637.3Q522.59 640.49 521.67 644.32M534.31 611.97Q532.58 612.07 531.76 614.06M513.38 600.59Q514.6 600.99 516.02 602.55M506.08 644.05Q503.28 646.73 502.25 650.12M479.39 628.23Q478.71 628.93 480.91 631.54M492.9 612.59Q489.16 612.92 486.79 614.09M485.15 641.08Q487.22 645.28 487.96 647.04M475.65 608.88Q477.25 609.52 476.54 611.21M529.15 619.21Q530.52 618.21 533.45 619.96M484.96 623.2Q486.66 623.52 488.81 623.58M525.93 626.91Q526.71 628.27 528.82 628.35M503.1 612.25Q500.94 612.47 500.04 613.62M489.58 594.13Q492.66 595.28 495.35 594.58M543.76 607.62Q540.99 611.42 539.93 614.08M521.73 642.05Q520.57 641.5 518.61 643.42M504.7 612.56Q506.29 612.96 508.92 613.37M494.15 600.31Q493.88 603.12 495.61 604.94M491.3 596.88Q491.33 599.12 493.46 600.86M524.21 620.99Q523.25 621.44 522.95 622.72M478.69 613.19Q481.4 613.52 483.59 614.04M497.41 605.28Q500.62 605.62 501.48 605.58M492.87 627.01Q495.23 629.7 496.89 629.66M500.06 622.19Q497.18 623.15 493.53 623.38M503.5 613.78Q506.9 616.08 508.01 619.1M539.06 594Q540.78 594.62 543.65 596.09M543.86 599.85Q545.79 600.01 546.63 601.77M474.27 620.5Q474.81 622.57 475.39 623.74M513.28 624.72Q514.03 627.65 511.96 631.58M498.92 638.44Q501.25 641.63 502.4 643.69M542.93 635.2Q545.41 636.77 547.95 637.95M500.55 606.97Q497.92 608.06 496.88 610.66M497.37 601.32Q496 601.4 497.25 604.07M481.49 628.93Q484.51 629.69 485.91 630.56M485.79 637.39Q487.55 638.58 489.27 637.98M502.17 629.52Q503.86 631.26 506.59 633.99M528.34 636.16Q525.78 638.17 523.7 638.93M518.62 635.54Q517.13 636.86 516.39 637.15M490.67 601.68Q494.75 603.21 496.18 601.91M483.74 628.03Q484.15 632.13 485.19 633.63M544.7 594.55Q542.49 594.97 543.02 596.68M526.34 644.07Q526.77 644.93 530.04 645.53M531.27 635.95Q532.99 638.44 534.01 639.33M544.14 612.4Q543.53 613.51 541.12 616.73M486.68 597.61Q484.93 596.84 483.25 598.34M497.28 593.01Q497.36 593.73 496.69 595.81M490.43 617.27Q489.81 617.58 491.88 620.51M537.85 608.21Q539.3 610.08 540.85 608.96M503.76 634.29Q504.29 635.87 504.51 636.51M518.62 606.52Q514.82 609.17 511.37 609.81M525.89 601.21Q526.25 600.07 528.89 601.47M499.79 631.49Q499.75 632.72 502.65 635.69M542.6 592.58Q543.18 596.7 542.01 599.41M502.67 634.08Q501.3 634.59 497.01 637.49M541.96 613.08Q542.14 613.05 539.86 615.88M500.53 626.43Q499.21 627.16 497.06 628.77M494.11 639.43Q494.29 641.24 495.47 641.6M522.7 601.29Q523.6 601.55 525.4 602.22M474.87 618.33Q475.57 621.57 476.05 622.08M527.97 597.68Q527.07 596.93 523.39 597.86M503.31 629Q505.38 631.3 506.39 630.93M497.17 601.61Q497.84 605.59 500.62 608.76M501.16 625.74Q504.56 628.57 505.64 629.26M506.51 626.87Q506.24 629.26 507.59 631.04M516.59 640.82Q520.21 642.64 520.87 643.03M496.51 630.61Q495.41 629.56 492.1 630.75M544.79 617.73Q547.85 621.41 550.01 622.46M533.33 633.8Q531.88 638.89 533.04 641.75M524.94 605.14Q523.11 607.58 521.06 607.83M488.17 606.65Q487.81 608.61 487.11 608.85M509.19 604.67Q507.12 606.91 503.42 608.86M538.78 633.75Q539.44 633.32 542.5 635.68M498.85 637.32Q496.73 637.66 496.51 638.67M534.75 624.33Q535.05 623.82 532.43 625.07M519.06 637.93Q518.52 638.93 516.98 640.33M475.3 609.79Q476.22 612.52 478.46 614.63M523.74 601.47Q526.48 601.56 529.41 603.88M482.47 641.31Q480.86 644.74 481.07 645.21M523.52 630.58Q524.06 631.27 525.16 634.08M519.21 614.26Q519.89 617.85 520.54 618.8M498.89 628.87Q500.27 631.83 502.94 632.56M494.63 636.77Q494.68 638.45 492.13 640.79M527.2 623.51Q527.15 624.03 527.58 625.86M505.64 642.02Q508.02 643.71 509.37 646.93M503.54 598.93Q501.64 599.02 500.22 600.06M532.7 636.55Q530.76 640.28 531.22 641.62M480.5 611.05Q482.23 613.51 482.94 616.9M538.22 641.76Q541.02 641.56 544 642.19M517.38 642.85Q513.09 644.13 509.44 643.44M520.54 628.73Q519.23 628.45 518.14 628.75M520.98 603.43Q518.96 602.41 517.72 603.53M502.34 630.87Q504.23 631.63 505.24 631.65M527.11 605.28Q525.29 605.92 521.81 608.85M507.62 592.83Q505.34 593.04 500.68 596.1M499.23 620.08Q499.96 620.81 498.95 622.73M510.37 598.53Q508.84 599.92 509.78 601.24M495.16 632.74Q495.42 633.46 498.36 635.88M506.41 621.25Q505.67 625.82 507.31 628.29M485.24 642.84Q485.4 646.15 484.89 647.27M542.92 613.66Q545.33 614.41 545.84 613.76M525.01 600.2Q523.73 600.69 524.8 602.36M543.09 625.7Q541.83 624.95 541.07 626.74M492.8 597.86Q490.84 598.82 488.95 598.86M537.42 641.59Q538.1 643.72 536.36 646.49M495.54 630.74Q496.78 632.2 498.44 633.79M499.76 614.56Q500.94 614.38 500.11 616.83M490.08 597.2Q490.79 598.18 491.6 600.77M527.64 617.54Q531.25 616.12 532.07 617.66" fill="none" stroke="#a05a32" stroke-width="1.05" stroke-linecap="round" opacity="0.8"/>
<path d="M516.51 642.35Q517.01 643.75 518.31 646.35M477.98 596.86Q479.95 597.74 480.15 599.06M535.52 613.08Q535.75 616.38 538.46 616.77M533.49 609.2Q535.79 611.84 536.35 613.63M518.74 620.93Q519.6 622.63 517.86 622.82M515.54 592.29Q514.84 595.09 513.05 594.99M539.56 595.93Q538.86 596.75 536.66 598.31M497.01 630.5Q499.21 631.27 499.41 631.05M513.28 597.93Q516.15 598.7 516.3 599.11M539.96 603.06Q541.52 603.93 541.05 607.06M536.5 616.75Q537.98 617.46 540.21 617.12M540.38 617.87Q540.22 618.15 538.39 620.81M527.13 600.73Q526.29 601.07 526.38 603.43M499.14 622.99Q499.25 625.79 498.91 626.54M499.74 622.59Q499.41 626.14 500.11 628.5M490.85 605.69Q488.7 605.99 488.01 608.91M533.01 611.78Q532.19 613.41 530.66 614.69M543.77 639.66Q543.24 642.38 544.32 643.57M481.49 608.06Q481.14 608.76 479.6 609.05M541.99 632.07Q541.87 631.91 540.03 633.44M488.41 620.03Q488.78 621.45 487.57 622.37M538.33 640.41Q538.71 642.5 536.39 643.28M494.94 636.94Q493.19 636.66 492.94 639.25M492.23 598.89Q491.66 599.77 492.38 601.98M510.51 637.79Q513.95 639.43 515.27 640.41M512.97 630.46Q513.98 633.59 512.47 635.07M492.73 594.85Q491.9 594.39 489.34 595.53M541.48 618.5Q540.33 621.51 540.78 621.82M482.06 641.28Q482.72 641.09 480.98 643.3M514.52 598.27Q514.01 597.01 511.28 598.39M521.71 595.56Q525.29 596.31 525.98 595.96M535.18 633.12Q535.19 633.33 535.03 635.43M488.28 628.94Q487.53 630.81 489.3 632.76M513.95 642.96Q513.11 643.71 513.47 645.45M524.26 641.2Q522.64 642.49 518.48 641.63M540.86 593.06Q541.49 595.58 541 597.42M517.92 640.9Q521.26 640.04 521.84 642M482.17 637.54Q484.22 638.18 484.29 637.7M531.8 592.04Q535.75 593.58 536.86 593.13M503.26 609.58Q504.55 609.78 504.22 611.41M537.08 601.21Q538.36 602.74 539.76 602.57M497.93 604.48Q497.29 605.09 496.52 607.17M536.73 601.67Q537.41 603.42 539.12 603.81M522.27 633.41Q522.91 633.79 521.97 635.71M489.73 613.71Q487.56 615 486.25 613.82M544.82 612.29Q548.02 612.87 549.52 614.42M530.56 611.88Q532.64 613.53 533.27 615.32M532.55 592.73Q531.25 595.73 532.56 596.25M484.43 602.77Q483.01 603.39 479.01 604.96M540.56 599.43Q537.83 600.59 536.95 603.95M522.56 638.24Q520.53 640.06 518.77 642.64M482.77 606.31Q480.7 606.07 480.52 606.74M477.71 608.08Q478.84 608.88 479.8 609.44M514.68 631.94Q513.18 634 514.19 637.71M479.67 608.21Q477.6 609.14 475.51 612.1M497.76 621.79Q500.73 623.73 500.87 625.92M517.2 636.33Q518.68 639.14 517.5 639.08M475.94 631.97Q475.27 632.04 476.62 634.07M526.7 603.09Q529.04 603.17 529.58 603.26M475.28 607.95Q477.15 607.75 478.3 608.34M507.92 624.69Q510 626.37 509.78 627.57M503.93 620.3Q505.38 621.15 504.34 623.61M540.93 636.7Q539.72 638.63 538.46 637.66M494.78 600.96Q494.08 601.05 492.88 603.2M541.75 606.88Q543.56 607.77 546.29 608.31M509.65 640.34Q508.08 642.09 509.5 643.85M493.39 622.09Q491.38 623.84 491.84 625.61M508.55 625.6Q506.83 624.5 505.44 625.9M531.24 604.29Q528.27 606.82 526.77 606.94M541.64 617.67Q542.75 619.26 541.82 620.83M498.62 602.3Q501.61 605.4 502.78 605.63M539.59 627.9Q538.57 630.24 535.69 630.78M491.6 640.18Q493.15 641.2 495.64 640.47M517.73 639.74Q514.19 640.72 513.26 640.7M482 643.47Q479.57 644.69 479.02 644.74M528.25 643.62Q528.46 643.45 527.31 645.93M536.07 632.28Q534.13 635.32 531.78 635.71M499.4 593.2Q500.85 594.92 503.93 595.71M529.48 628.39Q528.71 629.08 529.31 631.65M520.39 627.96Q520.04 629.5 517.12 628.56M494.92 641.89Q494.67 644.11 492.77 647.33M494.11 619.38Q495.24 620.56 494.2 621.52M507.93 631.02Q509.16 631.23 509.91 632.99M497.55 595.67Q499.32 597.29 500.93 596.22M490.98 616.83Q489.55 617.55 488.52 617.15M528.56 621.09Q528.53 622.94 526.09 626.28M512.79 644.26Q513.47 644.3 512.55 647.01M484.92 620.89Q487.2 622.19 488.11 624.57M528.88 625.94Q527.53 626.29 526.58 628.99M508.06 642.03Q505.73 641.72 505.97 642.79M504.55 622.03Q503.74 623.88 502.04 624.63M518.1 594.43Q515.99 595.35 516.55 596.42M475.4 595.82Q474.87 599 476.7 599.47M534.95 617.5Q535.96 617.93 534.07 620.64M495.89 603.58Q493.78 604.1 492.21 605.23M537.45 605.49Q535.38 606.56 533.62 608.44M505.35 615.74Q506.31 617.03 507.81 619.5M529.3 615.85Q529.39 618.23 529.76 621.35M538.23 643.16Q537.33 645.01 535.41 645.41M495.32 629.94Q493.55 630.11 490.76 630.66M520.79 603.84Q520.67 604.74 517.67 606.59M524.94 592.88Q524.88 595.66 526.26 597.77M489.95 612.87Q489.8 611.58 487.16 612.93M515.77 635.04Q514.48 636.54 512.66 636.78M528.51 631.12Q528.76 632.77 527.77 634.04M513.01 643.72Q514.81 645.47 517.67 645.85M541.96 606.38Q541.51 607.39 541.1 610.4M518.8 638.82Q518.94 639.95 517.25 641.57M484.55 623.75Q486.28 626 485.07 627.83M542.18 610.48Q540.75 611.84 540.51 612.06M523.41 635.41Q523.56 636.96 524.55 638.29M475.92 611.63Q474.74 613.89 474.69 613.91M540.76 605.09Q540.57 606.62 542.86 606.4M526.89 605.85Q525.56 609.2 527.05 610.63M535.48 603.07Q533.56 606.13 532.62 606.92M489.77 616.83Q491.75 618.61 491.85 619.97M517.64 643.72Q519.11 643.6 519.85 645.59M542.95 609.88Q544.28 612.96 543.65 613.54M522.47 600.98Q522.68 604.3 524.59 605.32M536.39 603.87Q537.65 603.84 537.6 606.52M523.8 595.28Q522.22 595.07 520.14 597.28M477.35 610.5Q476.24 609.3 472.96 610.71M481.46 593.1Q479.99 594.7 479.89 595.3M494.81 621.41Q494.81 622.34 496.31 624.51M492.81 592.85Q493.34 593.5 495.26 596.47M534.52 616.58Q535.62 618.96 534.4 619.83M518.59 626.55Q517.2 627.87 516.32 629.85M512.21 633.32Q509.41 633.2 509.47 634.28M476.47 633.73Q474.97 636.3 475.31 636.65M533.82 627.82Q532.27 629.57 531 631.93M513.62 638.14Q511.79 636.94 507.95 638.29M491.81 642.88Q490.96 645.98 491.25 646.9M511.05 643.89Q512.49 643.54 516.85 645.3M501.97 625.51Q505.29 626.04 505.97 626.96M528.56 623.02Q528.1 625.52 527.87 625.62M522.27 603.36Q522.13 605.65 522.96 607.48M519.23 592.94Q520.16 593.13 522.8 595.88M528.52 609.49Q525.23 610.19 524.32 610.05M492.9 634.68Q489.94 635.2 489.64 638.51M531.09 599.36Q530.93 599.91 532.8 600.62M542.51 608.84Q543.38 611.17 546.15 612.7M518.06 641.01Q519.82 642.27 522.27 641.59M492.19 629.46Q495.26 629.78 495.51 631.65M494.09 640.08Q492.55 640.26 492.91 642.01M494.87 636.26Q493.64 639.03 491.38 641.04M501.52 629.59Q501.52 630.36 501.56 631.83M512.06 594.55Q514.63 594.3 517.97 595.07M484.78 623.05Q483.46 623.41 482.15 623.77M528.8 621.61Q530.49 621.29 530.82 623.49M535.85 593.75Q538.49 595.2 539.06 595.92M527.38 631.88Q527.64 631.67 525.96 633.57M485.77 593.97Q488.16 592.97 491.26 594.46M477.53 636.35Q475.25 637.88 475.75 641.73M494.64 602.01Q496.38 601.5 497.27 602.98M486.22 620.06Q486.92 621.29 487.21 622.46M501.87 616.85Q503.16 616.64 506.29 617.41M474.86 638.52Q474.5 641.55 473.89 641.95M483.62 612.09Q483.18 614.7 481.5 614.86M477.11 606.91Q479.48 609.5 480.14 610.89M540.13 601.73Q541.82 603.12 541.91 606.84M544.06 630.8Q542.8 632.88 540.91 632.21M538.22 622.24Q536.42 623.72 532.58 624.27M542.67 599.53Q542.2 602.41 543.94 603.59M478.63 624.95Q480 625.29 480.73 627.48M506.11 636.92Q504.18 637.56 503.06 637.04M474.27 592.1Q476.54 593.85 475.87 594.76M478.85 629.52Q480.98 631.9 481.78 632.14M540.89 614.06Q541.3 616.29 542.83 617.07M507.21 627.92Q510.89 628.21 511.77 630.28M518.16 600.49Q519.03 601.39 521.8 600.9" fill="none" stroke="#6e3a1e" stroke-width="0.8" stroke-linecap="round" opacity="0.85"/>
<path d="M515.01 627.35Q512.69 626.06 512.79 627.57M506.96 635.2Q506.88 636.58 504.67 638.71M482.25 625.62Q482.3 624.72 485.16 625.85M478.76 619.85Q481.76 620.25 482.82 621.58M482.78 627.17Q481.12 629.5 479.14 631.34M535.74 627.49Q534.99 628.01 532.6 627.73M507.6 592.56Q508.02 594.11 507.82 595.61M510.59 595.08Q513.17 597.44 514.65 596.86M530.72 607.2Q531.91 608.88 531.28 611.18M539.84 617.36Q540.03 620.72 541.07 621.08M477.51 612.94Q478.74 612.47 482.07 614.1M504.38 623.55Q502.38 624.43 501.6 626.1M537.54 603.17Q540.26 602.17 543.08 603.37M478.79 627.38Q480.59 627.21 481.75 629.73M540.9 609.56Q542.03 609.29 545.51 611.8M520.69 616.63Q518.2 617.81 518.45 618.36M507.74 607.78Q506.8 606.87 505 608.51M540.05 641.71Q540.13 644.45 538.86 644.77" fill="none" stroke="#5a78b8" stroke-width="0.9" stroke-linecap="round" opacity="0.75"/>
<line x1="529" y1="640.6" x2="541" y2="640.6" stroke="#111" stroke-width="1.6"/>
</g>
<line x1="578.6" y1="582" x2="578.6" y2="646.4" stroke="#111" stroke-width="1.2"/>
<line x1="578" y1="646.4" x2="639" y2="646.4" stroke="#111" stroke-width="1.2"/>
<text x="576" y="644.1" font-size="7.1" text-anchor="end" fill="#222">0.0</text>
<text x="576" y="632.1" font-size="7.1" text-anchor="end" fill="#222">2.5</text>
<text x="576" y="620.1" font-size="7.1" text-anchor="end" fill="#222">5.0</text>
<text x="576" y="608.1" font-size="7.1" text-anchor="end" fill="#222">7.5</text>
<text x="576" y="596.1" font-size="7.1" text-anchor="end" fill="#222">10.0</text>
<text x="576" y="584.1" font-size="7.1" text-anchor="end" fill="#222">12.5</text>
<text x="560" y="615" font-size="8.1" text-anchor="middle" transform="rotate(-90 560 615)">IHC score</text>
<text x="607" y="575.6" font-size="6.5" text-anchor="middle" fill="#222">Wilcoxon, <tspan font-style="italic">p</tspan> = 5.2e−11</text>
<path d="M596.8 624.32 L596.4 625.76 L595.6 627.2 L595.4 629.6 L595.8 632 L598.5 634.4 L602.5 636.8 L604 638.24 L601.5 640.16 L598 641.6 L596 642.56 L594 642.56 L592 641.6 L588.5 640.16 L586 638.24 L587.5 636.8 L591.5 634.4 L594.2 632 L594.6 629.6 L594.4 627.2 L593.6 625.76 L593.2 624.32 Z" fill="#6a9ad8" stroke="#111" stroke-width="0.8" stroke-linejoin="round"/>
<line x1="593.5" y1="637.76" x2="596.5" y2="637.76" stroke="#111" stroke-width="0.9"/>
<path d="M622.2 584.96 L621.8 587.36 L620.5 589.76 L620.6 593.6 L621 598.4 L624.5 602.24 L626 604.64 L624 607.04 L621.5 610.4 L620.8 617.6 L620.7 624.8 L620.5 632 L620.3 637.28 L619.7 637.28 L619.5 632 L619.3 624.8 L619.2 617.6 L618.5 610.4 L616 607.04 L614 604.64 L615.5 602.24 L619 598.4 L619.4 593.6 L619.5 589.76 L618.2 587.36 L617.8 584.96 Z" fill="#e89aa8" stroke="#111" stroke-width="0.8" stroke-linejoin="round"/>
<line x1="620" y1="597.44" x2="620" y2="637.28" stroke="#111" stroke-width="1.4"/>
<rect x="618.6" y="606.56" width="2.8" height="8.16" fill="#fff" stroke="#111" stroke-width="0.7"/>
<text x="577.2" y="671.5" font-size="8" text-anchor="middle" transform="rotate(-45 577.2 671.5)">Ovarian surface</text>
<text x="585.4" y="677.2" font-size="8" text-anchor="middle" transform="rotate(-45 585.4 677.2)">epithelium</text>
<text x="624.8" y="654.5" font-size="8" text-anchor="end" transform="rotate(-45 624.8 654.5)">Ovarian cancer</text>
<line x1="33.4" y1="707.6" x2="33.4" y2="783.7" stroke="#333" stroke-width="0.9"/>
<line x1="32.9" y1="783.2" x2="141" y2="783.2" stroke="#333" stroke-width="0.9"/>
<line x1="31.4" y1="779.7" x2="33.4" y2="779.7" stroke="#333" stroke-width="0.8"/>
<text x="31.2" y="782.08" font-size="6.6" text-anchor="end" fill="#222">0.00</text>
<line x1="31.4" y1="762.45" x2="33.4" y2="762.45" stroke="#333" stroke-width="0.8"/>
<text x="31.2" y="764.83" font-size="6.6" text-anchor="end" fill="#222">0.25</text>
<line x1="31.4" y1="745.2" x2="33.4" y2="745.2" stroke="#333" stroke-width="0.8"/>
<text x="31.2" y="747.58" font-size="6.6" text-anchor="end" fill="#222">0.50</text>
<line x1="31.4" y1="727.95" x2="33.4" y2="727.95" stroke="#333" stroke-width="0.8"/>
<text x="31.2" y="730.33" font-size="6.6" text-anchor="end" fill="#222">0.75</text>
<line x1="31.4" y1="710.7" x2="33.4" y2="710.7" stroke="#333" stroke-width="0.8"/>
<text x="31.2" y="713.08" font-size="6.6" text-anchor="end" fill="#222">1.00</text>
<line x1="38.5" y1="783.2" x2="38.5" y2="785.4" stroke="#333" stroke-width="0.8"/>
<text x="38.5" y="791.2" font-size="6.6" text-anchor="middle" fill="#222">0</text>
<line x1="62.88" y1="783.2" x2="62.88" y2="785.4" stroke="#333" stroke-width="0.8"/>
<text x="62.88" y="791.2" font-size="6.6" text-anchor="middle" fill="#222">50</text>
<line x1="87.25" y1="783.2" x2="87.25" y2="785.4" stroke="#333" stroke-width="0.8"/>
<text x="87.25" y="791.2" font-size="6.6" text-anchor="middle" fill="#222">100</text>
<line x1="111.62" y1="783.2" x2="111.62" y2="785.4" stroke="#333" stroke-width="0.8"/>
<text x="111.62" y="791.2" font-size="6.6" text-anchor="middle" fill="#222">150</text>
<line x1="136" y1="783.2" x2="136" y2="785.4" stroke="#333" stroke-width="0.8"/>
<text x="136" y="791.2" font-size="6.6" text-anchor="middle" fill="#222">200</text>
<polyline points="38.5,710.7 39.48,710.7 39.48,714.15 40.94,714.15 40.94,717.6 43.38,717.6 43.38,718.98 45.81,718.98 45.81,721.05 48.25,721.05 48.25,722.43 50.69,722.43 50.69,724.5 53.12,724.5 53.12,725.88 55.56,725.88 55.56,727.95 58,727.95 58,730.02 62.88,730.02 62.88,731.4 65.31,731.4 65.31,732.78 67.75,732.78 67.75,734.16 70.19,734.16 70.19,735.54 72.62,735.54 72.62,737.61 76.53,737.61 76.53,739.68 78.96,739.68 78.96,741.75 80.42,741.75 80.42,745.2 87.25,745.2 87.25,745.2 88.71,745.2 88.71,748.65 92.12,748.65 92.12,748.65 93.59,748.65 93.59,755.55 95.05,755.55 95.05,760.38 97,760.38 97,764.52 99.44,764.52 99.44,767.97 101.88,767.97 101.88,772.8 114.06,772.8 114.06,772.8 114.55,772.8 114.55,776.25 127.71,776.25 127.71,776.25 127.96,776.25 127.96,779.01" fill="none" stroke="#3aa87a" stroke-width="1.3"/>
<polyline points="38.5,710.7 39.48,710.7 39.48,713.46 40.45,713.46 40.45,716.22 41.42,716.22 41.42,718.98 43.38,718.98 43.38,721.05 45.81,721.05 45.81,723.12 48.25,723.12 48.25,725.88 50.69,725.88 50.69,728.64 53.12,728.64 53.12,731.4 55.56,731.4 55.56,732.78 60.44,732.78 60.44,734.16 62.88,734.16 62.88,736.23 65.31,736.23 65.31,738.3 67.75,738.3 67.75,741.75 70.19,741.75 70.19,745.2 72.62,745.2 72.62,748.65 75.06,748.65 75.06,752.1 77.5,752.1 77.5,754.86 79.94,754.86 79.94,759 81.4,759 81.4,762.45 94.56,762.45 94.56,762.45 96.03,762.45 96.03,765.9 97.97,765.9 97.97,769.35 99.92,769.35 99.92,772.8 100.9,772.8 100.9,776.25 114.06,776.25 114.06,776.25" fill="none" stroke="#e0621e" stroke-width="1.3"/>
<text x="78" y="706" font-size="8" text-anchor="middle">Overall survival</text>
<text x="49" y="715.4" font-size="4.6" fill="#222">Strata</text>
<rect x="64" y="712.4" width="2.6" height="2.6" fill="#e0621e"/>
<text x="67.8" y="715.4" font-size="4.7" fill="#222">&gt;35.28 (185)</text>
<rect x="100.4" y="712.4" width="2.6" height="2.6" fill="#3aa87a"/>
<text x="104.2" y="715.4" font-size="4.7" fill="#222">&lt;35.28 (177)</text>
<text x="39.5" y="773.4" font-size="6.4" fill="#222"><tspan font-style="italic">p</tspan> = 0.032</text>
<text x="15.4" y="745.7" font-size="7.7" text-anchor="middle" transform="rotate(-90 15.4 745.7)">Survival probability</text>
<text x="87.6" y="798.4" font-size="7.8" text-anchor="middle">Months</text>
<line x1="170.9" y1="707.6" x2="170.9" y2="783.7" stroke="#a8a8a8" stroke-width="1.6"/>
<line x1="170.4" y1="783.2" x2="265.41" y2="783.2" stroke="#333" stroke-width="0.9"/>
<line x1="168.9" y1="779.5" x2="170.9" y2="779.5" stroke="#333" stroke-width="0.8"/>
<text x="168.9" y="781.88" font-size="6.6" text-anchor="end" fill="#222">0.00</text>
<line x1="168.9" y1="762.45" x2="170.9" y2="762.45" stroke="#333" stroke-width="0.8"/>
<text x="168.9" y="764.83" font-size="6.6" text-anchor="end" fill="#222">0.25</text>
<line x1="168.9" y1="745.4" x2="170.9" y2="745.4" stroke="#333" stroke-width="0.8"/>
<text x="168.9" y="747.78" font-size="6.6" text-anchor="end" fill="#222">0.50</text>
<line x1="168.9" y1="728.35" x2="170.9" y2="728.35" stroke="#333" stroke-width="0.8"/>
<text x="168.9" y="730.73" font-size="6.6" text-anchor="end" fill="#222">0.75</text>
<line x1="168.9" y1="711.3" x2="170.9" y2="711.3" stroke="#333" stroke-width="0.8"/>
<text x="168.9" y="713.68" font-size="6.6" text-anchor="end" fill="#222">1.00</text>
<line x1="173.4" y1="783.2" x2="173.4" y2="785.4" stroke="#333" stroke-width="0.8"/>
<text x="173.4" y="791.2" font-size="6.6" text-anchor="middle" fill="#222">0</text>
<line x1="198.27" y1="783.2" x2="198.27" y2="785.4" stroke="#333" stroke-width="0.8"/>
<text x="198.27" y="791.2" font-size="6.6" text-anchor="middle" fill="#222">50</text>
<line x1="223.13" y1="783.2" x2="223.13" y2="785.4" stroke="#333" stroke-width="0.8"/>
<text x="223.13" y="791.2" font-size="6.6" text-anchor="middle" fill="#222">100</text>
<line x1="248" y1="783.2" x2="248" y2="785.4" stroke="#333" stroke-width="0.8"/>
<text x="248" y="791.2" font-size="6.6" text-anchor="middle" fill="#222">150</text>
<polyline points="173.4,711.3 174.39,711.3 174.39,714.71 175.89,714.71 175.89,718.12 178.37,718.12 178.37,720.17 180.86,720.17 180.86,721.53 183.35,721.53 183.35,722.89 185.83,722.89 185.83,724.26 188.32,724.26 188.32,726.3 189.81,726.3 189.81,729.03 191.3,729.03 191.3,730.4 193.29,730.4 193.29,733.12 195.78,733.12 195.78,735.17 203.24,735.17 203.24,735.17 203.74,735.17 203.74,738.58 204.73,738.58 204.73,741.99 205.73,741.99 205.73,745.4 206.72,745.4 206.72,748.81 208.21,748.81 208.21,750.86 218.66,750.86 218.66,750.86 219.15,750.86 219.15,755.63 229.1,755.63 229.1,755.63 230.1,755.63 230.1,762.45 240.04,762.45 240.04,762.45 241.04,762.45 241.04,767.22 248.99,767.22 248.99,767.22 249.99,767.22 249.99,774.04 262.92,774.04 262.92,774.04 263.42,774.04 263.42,779.5" fill="none" stroke="#3aa87a" stroke-width="1.3"/>
<polyline points="173.4,711.3 174.39,711.3 174.39,716.76 175.39,716.76 175.39,719.48 176.88,719.48 176.88,722.21 178.37,722.21 178.37,724.94 180.86,724.94 180.86,726.99 183.35,726.99 183.35,729.03 184.84,729.03 184.84,731.76 186.83,731.76 186.83,735.17 189.31,735.17 189.31,738.58 191.8,738.58 191.8,739.94 194.29,739.94 194.29,741.99 195.78,741.99 195.78,745.4 198.27,745.4 198.27,748.81 199.26,748.81 199.26,752.22 200.75,752.22 200.75,755.63 202.25,755.63 202.25,759.04 204.73,759.04 204.73,762.45 216.17,762.45 216.17,762.45 217.17,762.45 217.17,767.22 217.66,767.22 217.66,771.32 232.58,771.32 232.58,771.32 233.08,771.32 233.08,776.09 235.57,776.09 235.57,776.09 236.06,776.09 236.06,779.5" fill="none" stroke="#e0621e" stroke-width="1.3"/>
<text x="179.6" y="706" font-size="7.9">Progression-free survival</text>
<text x="184" y="715.4" font-size="4.6" fill="#222">Strata</text>
<rect x="199" y="712.4" width="2.6" height="2.6" fill="#e0621e"/>
<text x="202.6" y="715.4" font-size="4.7" fill="#222">&gt;35.28 (190)</text>
<rect x="234.6" y="712.4" width="2.6" height="2.6" fill="#3aa87a"/>
<text x="238.2" y="715.4" font-size="4.7" fill="#222">&lt;35.28 (182)</text>
<text x="174" y="773.4" font-size="6.4" fill="#222"><tspan font-style="italic">p</tspan> = 0.014</text>
<text x="154" y="746" font-size="7.7" text-anchor="middle" transform="rotate(-90 154 746)">Survival probability</text>
<text x="225" y="798.4" font-size="7.8" text-anchor="middle">Months</text>
<line x1="322.4" y1="708" x2="322.4" y2="783.5" stroke="#000" stroke-width="1.3"/>
<line x1="321.9" y1="783" x2="417.1" y2="783" stroke="#000" stroke-width="1.3"/>
<line x1="320.4" y1="783" x2="322.4" y2="783" stroke="#000" stroke-width="0.8"/>
<text x="319.6" y="785.23" font-size="6.2" text-anchor="end" fill="#222">0.00</text>
<line x1="320.4" y1="768.6" x2="322.4" y2="768.6" stroke="#000" stroke-width="0.8"/>
<text x="319.6" y="770.83" font-size="6.2" text-anchor="end" fill="#222">0.20</text>
<line x1="320.4" y1="754.2" x2="322.4" y2="754.2" stroke="#000" stroke-width="0.8"/>
<text x="319.6" y="756.43" font-size="6.2" text-anchor="end" fill="#222">0.40</text>
<line x1="320.4" y1="739.8" x2="322.4" y2="739.8" stroke="#000" stroke-width="0.8"/>
<text x="319.6" y="742.03" font-size="6.2" text-anchor="end" fill="#222">0.60</text>
<line x1="320.4" y1="725.4" x2="322.4" y2="725.4" stroke="#000" stroke-width="0.8"/>
<text x="319.6" y="727.63" font-size="6.2" text-anchor="end" fill="#222">0.80</text>
<line x1="320.4" y1="711" x2="322.4" y2="711" stroke="#000" stroke-width="0.8"/>
<text x="319.6" y="713.23" font-size="6.2" text-anchor="end" fill="#222">1.00</text>
<line x1="322.4" y1="783" x2="322.4" y2="785.2" stroke="#000" stroke-width="0.8"/>
<text x="322.4" y="791.2" font-size="6.2" text-anchor="middle" fill="#222">0</text>
<line x1="338.1" y1="783" x2="338.1" y2="785.2" stroke="#000" stroke-width="0.8"/>
<text x="338.1" y="791.2" font-size="6.2" text-anchor="middle" fill="#222">30</text>
<line x1="353.8" y1="783" x2="353.8" y2="785.2" stroke="#000" stroke-width="0.8"/>
<text x="353.8" y="791.2" font-size="6.2" text-anchor="middle" fill="#222">60</text>
<line x1="369.5" y1="783" x2="369.5" y2="785.2" stroke="#000" stroke-width="0.8"/>
<text x="369.5" y="791.2" font-size="6.2" text-anchor="middle" fill="#222">90</text>
<line x1="385.2" y1="783" x2="385.2" y2="785.2" stroke="#000" stroke-width="0.8"/>
<text x="385.2" y="791.2" font-size="6.2" text-anchor="middle" fill="#222">120</text>
<line x1="400.9" y1="783" x2="400.9" y2="785.2" stroke="#000" stroke-width="0.8"/>
<text x="400.9" y="791.2" font-size="6.2" text-anchor="middle" fill="#222">150</text>
<line x1="416.6" y1="783" x2="416.6" y2="785.2" stroke="#000" stroke-width="0.8"/>
<text x="416.6" y="791.2" font-size="6.2" text-anchor="middle" fill="#222">180</text>
<polyline points="322.4,711.72 324.3,711.72 324.3,712.8 326.19,712.8 326.19,713.88 328.09,713.88 328.09,714.96 329.99,714.96 329.99,716.04 331.49,716.04 331.49,718.02 333,718.02 333,720 334.5,720 334.5,721.98 336.01,721.98 336.01,723.96 337.51,723.96 337.51,726.48 339.02,726.48 339.02,729 340.52,729 340.52,731.52 342.02,731.52 342.02,734.04 343.53,734.04 343.53,737.53 345.03,737.53 345.03,741.02 346.54,741.02 346.54,744.52 348.04,744.52 348.04,748.01 349.53,748.01 349.53,750.46 351.03,750.46 351.03,752.9 352.52,752.9 352.52,755.35 354.01,755.35 354.01,757.8 355.51,757.8 355.51,759.42 357.02,759.42 357.02,761.04 358.52,761.04 358.52,762.66 360.03,762.66 360.03,764.28 361.52,764.28 361.52,765 363.01,765 363.01,765.72 364.5,765.72 364.5,766.44 365.99,766.44 365.99,767.16 367.5,767.16 367.5,768.11 369,768.11 369,769.07 370.51,769.07 370.51,770.02 372.01,770.02 372.01,770.98 373.48,770.98 373.48,771.34 374.94,771.34 374.94,771.7 376.41,771.7 376.41,772.06 377.87,772.06 377.87,772.42 379.9,772.42 379.9,772.81 381.93,772.81 381.93,773.21 383.96,773.21 383.96,773.6 385.99,773.6 385.99,774 386.97,774 386.97,774.5 387.95,774.5 387.95,775.01 388.93,775.01 388.93,775.51 389.91,775.51 389.91,776.02 401.95,776.02 401.95,776.02 402.01,776.02 402.01,776.5 402.08,776.5 402.08,776.99 402.14,776.99 402.14,777.47 402.21,777.47 402.21,777.96 416.6,777.96 416.6,777.96" fill="none" stroke="#3a62c8" stroke-width="1.4"/>
<polyline points="322.4,711 322.53,711 322.53,711.54 322.66,711.54 322.66,712.08 322.79,712.08 322.79,712.62 322.92,712.62 322.92,713.16 323.84,713.16 323.84,714.78 324.75,714.78 324.75,716.4 325.67,716.4 325.67,718.02 326.59,718.02 326.59,719.64 327.44,719.64 327.44,721.26 328.29,721.26 328.29,722.88 329.14,722.88 329.14,724.5 329.99,724.5 329.99,726.12 330.97,726.12 330.97,728.64 331.95,728.64 331.95,731.16 332.93,731.16 332.93,733.68 333.91,733.68 333.91,736.2 335.18,736.2 335.18,737.1 336.45,737.1 336.45,738 337.72,738 337.72,738.9 338.99,738.9 338.99,739.8 339.75,739.8 339.75,741.42 340.51,741.42 340.51,743.04 341.27,743.04 341.27,744.66 342.02,744.66 342.02,746.28 343.01,746.28 343.01,748.71 343.99,748.71 343.99,751.14 344.97,751.14 344.97,753.57 345.95,753.57 345.95,756 346.96,756 346.96,758.07 347.96,758.07 347.96,760.14 348.97,760.14 348.97,762.21 349.98,762.21 349.98,764.28 350.99,764.28 350.99,765 351.99,765 351.99,765.72 353,765.72 353,766.44 354.01,766.44 354.01,767.16 356.01,767.16 356.01,767.34 358.01,767.34 358.01,767.52 360.01,767.52 360.01,767.7 362.02,767.7 362.02,767.88 362.51,767.88 362.51,769.41 363.01,769.41 363.01,770.94 363.51,770.94 363.51,772.47 364,772.47 364,774 364.99,774 364.99,774.99 365.97,774.99 365.97,775.98 366.95,775.98 366.95,776.97 367.93,776.97 367.93,777.96 368,777.96 368,779.22 368.06,779.22 368.06,780.48 368.13,780.48 368.13,781.74 368.19,781.74 368.19,783" fill="none" stroke="#e0402c" stroke-width="1.4"/>
<rect x="345.6" y="711.6" width="1.8" height="1.8" fill="#e0402c"/>
<text x="349.2" y="713.6" font-size="5" fill="#222">Altered group</text>
<rect x="345.6" y="717.4" width="1.8" height="1.8" fill="#3a62c8"/>
<text x="349.2" y="719.4" font-size="5" fill="#222">Unaltered group</text>
<text x="350.2" y="727.2" font-size="6.4" fill="#222"><tspan font-style="italic">p</tspan> = 2.954e-5</text>
<text x="369.5" y="798.2" font-size="7.4" text-anchor="middle">Months Overall</text>
<text x="305.2" y="746" font-size="6.6" text-anchor="middle" transform="rotate(-90 305.2 746)">Survival probability</text>
<line x1="448" y1="708.6" x2="448" y2="784.1" stroke="#000" stroke-width="1.3"/>
<line x1="447.5" y1="783.6" x2="541.8" y2="783.6" stroke="#000" stroke-width="1.3"/>
<line x1="446" y1="783.6" x2="448" y2="783.6" stroke="#000" stroke-width="0.8"/>
<text x="445.2" y="785.83" font-size="6.2" text-anchor="end" fill="#222">0.00</text>
<line x1="446" y1="769.2" x2="448" y2="769.2" stroke="#000" stroke-width="0.8"/>
<text x="445.2" y="771.43" font-size="6.2" text-anchor="end" fill="#222">0.20</text>
<line x1="446" y1="754.8" x2="448" y2="754.8" stroke="#000" stroke-width="0.8"/>
<text x="445.2" y="757.03" font-size="6.2" text-anchor="end" fill="#222">0.40</text>
<line x1="446" y1="740.4" x2="448" y2="740.4" stroke="#000" stroke-width="0.8"/>
<text x="445.2" y="742.63" font-size="6.2" text-anchor="end" fill="#222">0.60</text>
<line x1="446" y1="726" x2="448" y2="726" stroke="#000" stroke-width="0.8"/>
<text x="445.2" y="728.23" font-size="6.2" text-anchor="end" fill="#222">0.80</text>
<line x1="446" y1="711.6" x2="448" y2="711.6" stroke="#000" stroke-width="0.8"/>
<text x="445.2" y="713.83" font-size="6.2" text-anchor="end" fill="#222">1.00</text>
<line x1="448" y1="783.6" x2="448" y2="785.8" stroke="#000" stroke-width="0.8"/>
<text x="448" y="791.2" font-size="6.2" text-anchor="middle" fill="#222">0</text>
<line x1="463.55" y1="783.6" x2="463.55" y2="785.8" stroke="#000" stroke-width="0.8"/>
<text x="463.55" y="791.2" font-size="6.2" text-anchor="middle" fill="#222">30</text>
<line x1="479.1" y1="783.6" x2="479.1" y2="785.8" stroke="#000" stroke-width="0.8"/>
<text x="479.1" y="791.2" font-size="6.2" text-anchor="middle" fill="#222">60</text>
<line x1="494.65" y1="783.6" x2="494.65" y2="785.8" stroke="#000" stroke-width="0.8"/>
<text x="494.65" y="791.2" font-size="6.2" text-anchor="middle" fill="#222">90</text>
<line x1="510.2" y1="783.6" x2="510.2" y2="785.8" stroke="#000" stroke-width="0.8"/>
<text x="510.2" y="791.2" font-size="6.2" text-anchor="middle" fill="#222">120</text>
<line x1="525.75" y1="783.6" x2="525.75" y2="785.8" stroke="#000" stroke-width="0.8"/>
<text x="525.75" y="791.2" font-size="6.2" text-anchor="middle" fill="#222">150</text>
<line x1="541.3" y1="783.6" x2="541.3" y2="785.8" stroke="#000" stroke-width="0.8"/>
<text x="541.3" y="791.2" font-size="6.2" text-anchor="middle" fill="#222">180</text>
<polyline points="448,711.6 448.65,711.6 448.65,712.14 449.3,712.14 449.3,712.68 449.94,712.68 449.94,713.22 450.59,713.22 450.59,713.76 451.24,713.76 451.24,715.92 451.89,715.92 451.89,718.08 452.54,718.08 452.54,720.24 453.18,720.24 453.18,722.4 453.83,722.4 453.83,726.54 454.48,726.54 454.48,730.68 455.13,730.68 455.13,734.82 455.77,734.82 455.77,738.96 456.42,738.96 456.42,742.02 457.07,742.02 457.07,745.08 457.72,745.08 457.72,748.14 458.37,748.14 458.37,751.2 459.01,751.2 459.01,753 459.66,753 459.66,754.8 460.31,754.8 460.31,756.6 460.96,756.6 460.96,758.4 461.61,758.4 461.61,759.84 462.25,759.84 462.25,761.28 462.9,761.28 462.9,762.72 463.55,762.72 463.55,764.16 464.2,764.16 464.2,765.06 464.85,765.06 464.85,765.96 465.49,765.96 465.49,766.86 466.14,766.86 466.14,767.76 467.44,767.76 467.44,768.48 468.73,768.48 468.73,769.2 470.03,769.2 470.03,769.92 471.32,769.92 471.32,770.64 472.62,770.64 472.62,771.54 473.92,771.54 473.92,772.44 475.21,772.44 475.21,773.34 476.51,773.34 476.51,774.24 478.45,774.24 478.45,774.42 480.4,774.42 480.4,774.6 482.34,774.6 482.34,774.78 484.28,774.78 484.28,774.96 489.47,774.96 489.47,775.68 494.65,775.68 494.65,776.4 499.83,776.4 499.83,777.12 505.02,777.12 505.02,777.84 541.3,777.84 541.3,777.84" fill="none" stroke="#3a62c8" stroke-width="1.4"/>
<polyline points="448,713.76 448.65,713.76 448.65,715.02 449.3,715.02 449.3,716.28 449.94,716.28 449.94,717.54 450.59,717.54 450.59,718.8 451.24,718.8 451.24,722.4 451.89,722.4 451.89,726 452.54,726 452.54,729.6 453.18,729.6 453.18,733.2 453.83,733.2 453.83,735.9 454.48,735.9 454.48,738.6 455.13,738.6 455.13,741.3 455.77,741.3 455.77,744 456.03,744 456.03,746.7 456.29,746.7 456.29,749.4 456.55,749.4 456.55,752.1 456.81,752.1 456.81,754.8 457.2,754.8 457.2,757.5 457.59,757.5 457.59,760.2 457.98,760.2 457.98,762.9 458.37,762.9 458.37,765.6 459.01,765.6 459.01,765.96 459.66,765.96 459.66,766.32 460.31,766.32 460.31,766.68 460.96,766.68 460.96,767.04 461.61,767.04 461.61,767.58 462.25,767.58 462.25,768.12 462.9,768.12 462.9,768.66 463.55,768.66 463.55,769.2 463.81,769.2 463.81,770.64 464.07,770.64 464.07,772.08 464.33,772.08 464.33,773.52 464.59,773.52 464.59,774.96 465.62,774.96 465.62,775.32 466.66,775.32 466.66,775.68 467.7,775.68 467.7,776.04 468.73,776.04 468.73,776.4 470.03,776.4 470.03,776.76 471.32,776.76 471.32,777.12 472.62,777.12 472.62,777.48 473.92,777.48 473.92,777.84 491.02,777.84 491.02,777.84" fill="none" stroke="#e0402c" stroke-width="1.4"/>
<rect x="469.8" y="712.2" width="1.8" height="1.8" fill="#e0402c"/>
<text x="473.4" y="714.2" font-size="5" fill="#222">Altered group</text>
<rect x="469.8" y="718" width="1.8" height="1.8" fill="#3a62c8"/>
<text x="473.4" y="720" font-size="5" fill="#222">Unaltered group</text>
<text x="474.4" y="727.8" font-size="6.4" fill="#222"><tspan font-style="italic">p</tspan> = 0.0165</text>
<text x="494.65" y="798.2" font-size="7.4" text-anchor="middle">Months Disease Free</text>
<text x="432" y="746" font-size="6.6" text-anchor="middle" transform="rotate(-90 432 746)">Survival probability</text>
<line x1="572.3" y1="708.7" x2="572.3" y2="784.5" stroke="#000" stroke-width="1.3"/>
<line x1="571.8" y1="784" x2="666.9" y2="784" stroke="#000" stroke-width="1.3"/>
<line x1="570.3" y1="784" x2="572.3" y2="784" stroke="#000" stroke-width="0.8"/>
<text x="569.5" y="786.23" font-size="6.2" text-anchor="end" fill="#222">0.00</text>
<line x1="570.3" y1="769.54" x2="572.3" y2="769.54" stroke="#000" stroke-width="0.8"/>
<text x="569.5" y="771.77" font-size="6.2" text-anchor="end" fill="#222">0.20</text>
<line x1="570.3" y1="755.08" x2="572.3" y2="755.08" stroke="#000" stroke-width="0.8"/>
<text x="569.5" y="757.31" font-size="6.2" text-anchor="end" fill="#222">0.40</text>
<line x1="570.3" y1="740.62" x2="572.3" y2="740.62" stroke="#000" stroke-width="0.8"/>
<text x="569.5" y="742.85" font-size="6.2" text-anchor="end" fill="#222">0.60</text>
<line x1="570.3" y1="726.16" x2="572.3" y2="726.16" stroke="#000" stroke-width="0.8"/>
<text x="569.5" y="728.39" font-size="6.2" text-anchor="end" fill="#222">0.80</text>
<line x1="570.3" y1="711.7" x2="572.3" y2="711.7" stroke="#000" stroke-width="0.8"/>
<text x="569.5" y="713.93" font-size="6.2" text-anchor="end" fill="#222">1.00</text>
<line x1="572.3" y1="784" x2="572.3" y2="786.2" stroke="#000" stroke-width="0.8"/>
<text x="572.3" y="791.2" font-size="6.2" text-anchor="middle" fill="#222">0</text>
<line x1="587.98" y1="784" x2="587.98" y2="786.2" stroke="#000" stroke-width="0.8"/>
<text x="587.98" y="791.2" font-size="6.2" text-anchor="middle" fill="#222">30</text>
<line x1="603.67" y1="784" x2="603.67" y2="786.2" stroke="#000" stroke-width="0.8"/>
<text x="603.67" y="791.2" font-size="6.2" text-anchor="middle" fill="#222">60</text>
<line x1="619.35" y1="784" x2="619.35" y2="786.2" stroke="#000" stroke-width="0.8"/>
<text x="619.35" y="791.2" font-size="6.2" text-anchor="middle" fill="#222">90</text>
<line x1="635.03" y1="784" x2="635.03" y2="786.2" stroke="#000" stroke-width="0.8"/>
<text x="635.03" y="791.2" font-size="6.2" text-anchor="middle" fill="#222">120</text>
<line x1="650.72" y1="784" x2="650.72" y2="786.2" stroke="#000" stroke-width="0.8"/>
<text x="650.72" y="791.2" font-size="6.2" text-anchor="middle" fill="#222">150</text>
<line x1="666.4" y1="784" x2="666.4" y2="786.2" stroke="#000" stroke-width="0.8"/>
<text x="666.4" y="791.2" font-size="6.2" text-anchor="middle" fill="#222">180</text>
<polyline points="572.3,713.87 573.87,713.87 573.87,715.03 575.44,715.03 575.44,716.18 577,716.18 577,717.34 578.57,717.34 578.57,718.5 580.01,718.5 580.01,720.23 581.45,720.23 581.45,721.97 582.89,721.97 582.89,723.7 584.32,723.7 584.32,725.44 585.74,725.44 585.74,727.61 587.15,727.61 587.15,729.78 588.56,729.78 588.56,731.94 589.97,731.94 589.97,734.11 591.37,734.11 591.37,736.46 592.77,736.46 592.77,738.81 594.17,738.81 594.17,741.16 595.56,741.16 595.56,743.51 597,743.51 597,745.68 598.44,745.68 598.44,747.85 599.88,747.85 599.88,750.02 601.31,750.02 601.31,752.19 602.71,752.19 602.71,754 604.11,754 604.11,755.8 605.51,755.8 605.51,757.61 606.91,757.61 606.91,759.42 608.61,759.42 608.61,760.32 610.31,760.32 610.31,761.23 612,761.23 612,762.13 613.7,762.13 613.7,763.03 615.4,763.03 615.4,763.76 617.1,763.76 617.1,764.48 618.8,764.48 618.8,765.2 620.5,765.2 620.5,765.92 622.2,765.92 622.2,766.47 623.9,766.47 623.9,767.01 625.6,767.01 625.6,767.55 627.3,767.55 627.3,768.09 628.97,768.09 628.97,768.69 630.64,768.69 630.64,769.29 632.31,769.29 632.31,769.88 633.99,769.88 633.99,770.48 635.14,770.48 635.14,770.97 636.29,770.97 636.29,771.46 637.44,771.46 637.44,771.94 638.59,771.94 638.59,772.43 652.18,772.43 652.18,772.43 652.21,772.43 652.21,773.34 652.23,773.34 652.23,774.24 652.26,774.24 652.26,775.14 652.28,775.14 652.28,776.05 666.4,776.05 666.4,776.05" fill="none" stroke="#3a62c8" stroke-width="1.4"/>
<polyline points="572.3,711.7 573.03,711.7 573.03,712.78 573.76,712.78 573.76,713.87 574.5,713.87 574.5,714.95 575.23,714.95 575.23,716.04 576.06,716.04 576.06,717.85 576.9,717.85 576.9,719.65 577.74,719.65 577.74,721.46 578.57,721.46 578.57,723.27 579.42,723.27 579.42,725.44 580.27,725.44 580.27,727.61 581.12,727.61 581.12,729.78 581.97,729.78 581.97,731.94 583.12,731.94 583.12,732.49 584.27,732.49 584.27,733.03 585.42,733.03 585.42,733.57 586.57,733.57 586.57,734.11 587.42,734.11 587.42,735.56 588.27,735.56 588.27,737 589.12,737 589.12,738.45 589.97,738.45 589.97,739.9 590.81,739.9 590.81,741.34 591.64,741.34 591.64,742.79 592.48,742.79 592.48,744.24 593.32,744.24 593.32,745.68 593.88,745.68 593.88,746.77 594.44,746.77 594.44,747.85 595,747.85 595,748.93 595.56,748.93 595.56,750.02 596.15,750.02 596.15,751.83 596.74,751.83 596.74,753.63 597.33,753.63 597.33,755.44 597.92,755.44 597.92,757.25 598.77,757.25 598.77,758.51 599.62,758.51 599.62,759.78 600.46,759.78 600.46,761.04 601.31,761.04 601.31,762.31 602.16,762.31 602.16,763.11 603.01,763.11 603.01,763.9 603.86,763.9 603.86,764.7 604.71,764.7 604.71,765.49 611.4,765.49 611.4,765.49 611.98,765.49 611.98,767.05 612.55,767.05 612.55,768.6 613.13,768.6 613.13,770.15 613.7,770.15 613.7,771.71 614.28,771.71 614.28,773.15 614.85,773.15 614.85,774.6 615.43,774.6 615.43,776.05 616,776.05 616,777.49 616.45,777.49 616.45,778.94 616.89,778.94 616.89,780.38 617.34,780.38 617.34,781.83 617.78,781.83 617.78,783.28" fill="none" stroke="#e0402c" stroke-width="1.4"/>
<rect x="600" y="712.3" width="1.8" height="1.8" fill="#e0402c"/>
<text x="603.6" y="714.3" font-size="5" fill="#222">Altered group</text>
<rect x="600" y="718.1" width="1.8" height="1.8" fill="#3a62c8"/>
<text x="603.6" y="720.1" font-size="5" fill="#222">Unaltered group</text>
<text x="604.6" y="727.9" font-size="6.4" fill="#222"><tspan font-style="italic">p</tspan> = 0.0481</text>
<text x="619.35" y="798.2" font-size="7.4" text-anchor="middle">Months Disease-specific</text>
<text x="555.5" y="746" font-size="6.6" text-anchor="middle" transform="rotate(-90 555.5 746)">Survival probability</text>
</svg></body></html>
